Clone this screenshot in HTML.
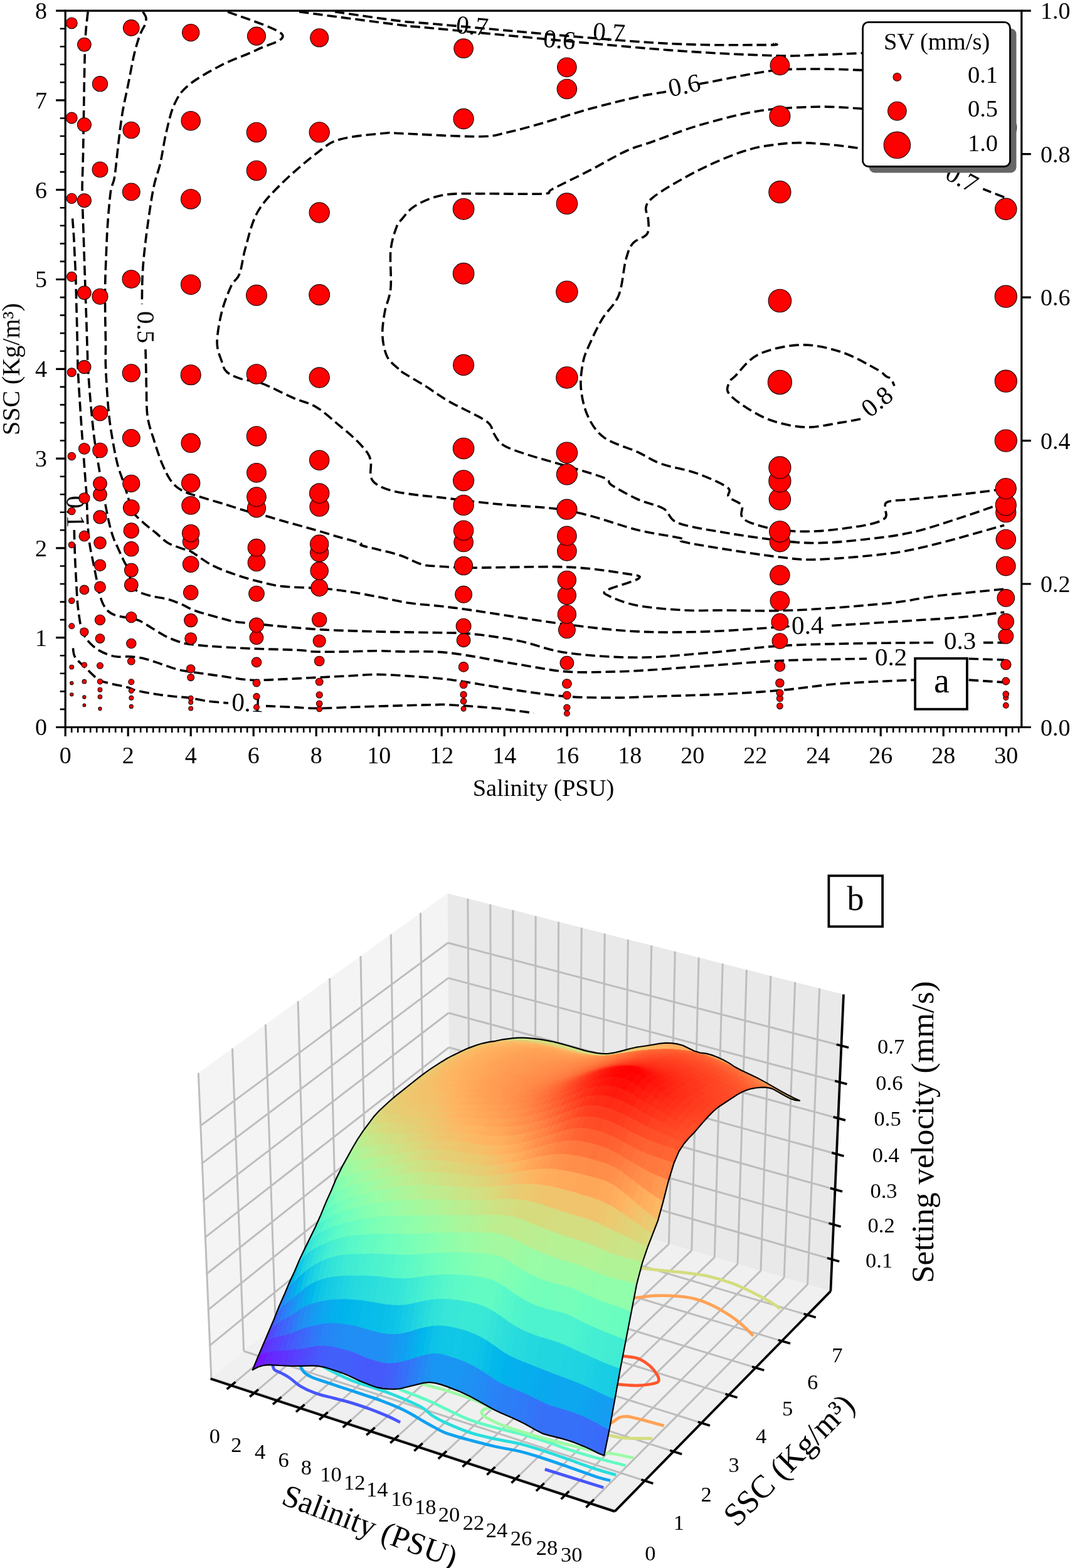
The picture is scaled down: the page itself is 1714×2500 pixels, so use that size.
<!DOCTYPE html>
<html><head><meta charset="utf-8"><title>Figure</title><style>html,body{margin:0;padding:0;background:#fff;}svg{display:block;}</style></head><body>
<svg xmlns="http://www.w3.org/2000/svg" width="1714" height="2500" viewBox="0 0 1714 2500">
<rect width="1714" height="2500" fill="#fff"/>
<g fill="none" stroke="#000" stroke-width="3.6" stroke-dasharray="15.5 7" stroke-linejoin="round">
<path d="M115.6 348.4 C115.9 352.7 116.9 364.7 117.5 374.2 C118.1 383.7 118.5 395.1 119.0 405.5 C119.5 415.9 120.2 426.4 120.6 436.9 C121.0 447.4 121.1 457.8 121.4 468.3 C121.7 478.8 121.9 489.2 122.2 499.7 C122.5 510.2 122.8 520.6 123.0 531.1 C123.2 541.6 123.5 552.8 123.7 562.5 C123.9 572.2 123.7 577.1 124.2 589.4 C124.8 601.7 125.9 619.2 127.0 636.5 C128.1 653.8 129.7 677.3 130.8 693.0 C131.9 708.7 132.7 718.2 133.6 730.7 C134.5 743.2 135.6 757.9 136.4 768.3 C137.2 778.6 137.8 783.4 138.3 792.8 C138.8 802.2 138.8 814.4 139.3 824.8 C139.8 835.2 140.6 846.9 141.4 855.0 C142.2 863.1 142.7 866.5 143.9 873.5 C145.1 880.5 147.1 889.2 148.7 897.1 C150.3 905.0 151.8 912.8 153.4 920.6 C155.0 928.5 156.3 937.1 158.1 944.2 C159.9 951.3 161.7 957.8 164.3 963.0 C166.9 968.2 170.1 972.4 173.8 975.5 C177.5 978.6 180.6 980.1 186.3 981.8 C192.1 983.5 202.3 984.5 208.3 985.8 C214.3 987.1 216.9 987.2 222.4 989.7 C227.9 992.2 234.1 996.5 241.2 1000.7 C248.3 1004.9 256.9 1010.9 264.8 1014.8 C272.7 1018.7 281.8 1022.1 288.3 1024.2 C294.8 1026.3 297.4 1026.4 304.0 1027.3 C310.6 1028.2 319.9 1029.0 327.6 1029.7 C335.3 1030.4 337.9 1030.6 350.0 1031.3 C362.1 1032.0 379.4 1033.1 400.4 1034.0 C421.4 1034.9 459.1 1035.7 475.8 1036.5 C492.6 1037.3 488.3 1038.6 500.9 1039.0 C513.4 1039.4 534.4 1039.2 551.1 1039.0 C567.8 1038.8 586.5 1037.7 601.3 1037.7 C616.1 1037.7 621.0 1038.4 640.0 1038.9 C659.0 1039.4 683.9 1037.3 715.3 1040.8 C746.7 1044.2 796.9 1054.6 828.3 1059.6 C859.7 1064.6 878.6 1069.0 903.7 1070.9 C928.8 1072.8 956.3 1071.4 979.0 1070.9 C1001.7 1070.4 1011.0 1069.9 1040.0 1068.0 C1069.0 1066.1 1118.5 1062.1 1153.0 1059.6 C1187.5 1057.1 1209.0 1054.8 1247.2 1053.2 C1285.4 1051.6 1359.5 1050.7 1382.0 1050.2"/>
<path d="M1544.7 1050.2 L1601.2 1052.1"/>
<path d="M140.2 18.8 C139.7 23.5 137.9 37.1 137.1 47.1 C136.3 57.1 135.9 68.0 135.5 78.5 C135.1 89.0 135.0 96.8 134.7 109.9 C134.4 123.0 134.2 141.2 133.9 156.9 C133.7 172.6 133.4 188.3 133.2 204.0 C132.9 219.7 132.8 235.4 132.4 251.1 C132.1 266.8 131.2 285.5 131.1 298.2 C131.0 310.9 131.2 314.4 131.6 327.1 C131.9 339.8 132.7 358.5 133.2 374.2 C133.7 389.9 134.2 405.5 134.7 421.2 C135.2 436.9 135.8 452.6 136.3 468.3 C136.8 484.0 137.4 499.7 137.9 515.4 C138.4 531.1 139.0 550.8 139.4 562.5 C139.8 574.2 139.4 573.3 140.2 585.6 C141.0 597.9 142.4 618.6 144.0 636.5 C145.6 654.4 147.7 677.3 149.6 693.0 C151.5 708.7 153.6 719.7 155.3 730.7 C157.0 741.7 158.1 747.9 160.0 758.9 C161.9 769.9 164.2 784.0 166.6 796.6 C168.9 809.2 171.7 824.0 174.1 834.2 C176.5 844.4 178.7 851.5 181.0 858.0 C183.3 864.5 185.2 867.5 187.9 873.5 C190.6 879.5 194.2 887.4 197.3 893.9 C200.4 900.4 204.9 906.5 206.7 912.8 C208.5 919.1 206.2 926.6 208.3 931.6 C210.4 936.6 213.8 939.5 219.3 942.6 C224.8 945.7 233.3 948.3 241.2 950.4 C249.0 952.5 258.5 953.0 266.4 955.1 C274.2 957.2 280.7 959.9 288.3 963.0 C295.9 966.1 301.6 970.3 311.9 974.0 C322.2 977.7 339.4 982.1 350.0 985.0 C360.6 987.9 364.8 989.6 375.3 991.3 C385.8 993.0 400.4 993.8 413.0 995.1 C425.6 996.4 434.0 997.4 450.7 998.9 C467.4 1000.4 492.5 1002.7 513.4 1003.9 C534.3 1005.1 557.4 1005.7 576.2 1006.3 C595.0 1006.9 605.8 1007.2 626.4 1007.6 C647.0 1008.0 678.9 1008.3 700.0 1008.8 C721.1 1009.3 731.6 1008.5 753.0 1010.7 C774.4 1012.9 803.2 1017.0 828.3 1022.0 C853.4 1027.0 872.3 1036.4 903.7 1040.8 C935.1 1045.2 979.0 1048.3 1016.6 1048.3 C1054.2 1048.3 1091.2 1043.9 1129.6 1040.8 C1168.0 1037.7 1205.6 1032.0 1247.2 1029.5 C1288.8 1027.0 1338.0 1026.5 1379.0 1025.7 C1420.0 1024.9 1474.0 1024.8 1493.0 1024.6"/>
<path d="M1568.0 1024.6 L1601.2 1024.6"/>
<path d="M228.0 18.8 C228.8 20.4 232.3 24.8 232.8 28.2 C233.3 31.6 232.8 34.8 231.2 39.2 C229.6 43.7 226.3 47.0 223.4 54.9 C220.5 62.8 217.1 73.2 214.0 86.3 C210.9 99.4 207.8 117.7 204.6 133.4 C201.4 149.1 197.7 164.8 195.1 180.5 C192.5 196.2 191.0 210.6 188.9 227.6 C186.8 244.6 184.7 269.6 182.6 282.5 C180.5 295.4 178.3 292.3 176.5 305.0 C174.7 317.7 172.8 341.8 171.6 358.5 C170.4 375.2 170.0 389.8 169.3 405.5 C168.7 421.2 168.0 436.9 167.7 452.6 C167.4 468.3 167.6 484.0 167.7 499.7 C167.8 515.4 168.4 533.4 168.5 546.8 C168.6 560.2 168.1 568.2 168.4 580.0 C168.7 591.8 169.4 603.6 170.3 617.7 C171.2 631.8 172.5 650.6 174.1 664.7 C175.7 678.8 177.5 689.8 179.7 702.4 C181.9 715.0 184.5 729.1 187.3 740.1 C190.1 751.1 193.9 759.5 196.7 768.3 C199.5 777.1 202.0 785.3 204.2 792.8 C206.4 800.3 207.7 808.5 209.9 813.5 C212.1 818.5 213.0 818.5 217.4 822.9 C221.8 827.3 230.9 835.4 236.2 839.9 C241.5 844.4 243.8 845.7 249.1 850.0 C254.4 854.3 260.0 861.2 267.9 865.7 C275.8 870.2 290.0 874.4 296.2 876.7 C302.4 879.0 298.1 875.6 305.0 879.6 C311.9 883.6 326.0 894.9 337.7 901.0 C349.4 907.1 362.8 911.7 375.3 916.1 C387.9 920.5 400.4 924.2 413.0 927.3 C425.6 930.4 434.0 933.1 450.7 934.9 C467.4 936.7 496.7 936.9 513.4 938.2 C530.1 939.5 536.5 940.3 551.1 942.5 C565.8 944.7 584.6 948.2 601.3 951.3 C618.0 954.4 635.0 958.8 651.5 961.3 C668.0 963.8 683.1 964.2 700.0 966.2 C716.9 968.2 719.0 968.1 753.0 973.0 C787.0 977.9 859.8 990.0 903.7 995.6 C947.6 1001.2 979.0 1005.0 1016.6 1006.9 C1054.2 1008.8 1091.2 1008.1 1129.6 1006.9 C1168.0 1005.6 1227.0 1000.7 1247.2 999.4 C1267.4 998.1 1250.4 999.2 1251.0 999.2"/>
<path d="M1326.2 997.5 C1341.3 996.5 1382.7 994.0 1416.6 991.8 C1450.5 989.6 1498.8 986.9 1529.6 984.3 C1560.4 981.7 1589.3 977.4 1601.2 976.0"/>
<path d="M363.1 18.8 C377.5 24.8 441.9 44.6 449.7 54.6 C457.5 64.7 426.2 70.9 410.2 79.1 C394.2 87.3 371.8 94.2 353.6 103.6 C335.4 113.0 313.4 125.2 300.9 135.6 C288.3 145.9 284.3 153.1 278.3 165.7 C272.3 178.2 268.9 195.2 265.1 210.9 C261.3 226.6 259.1 244.8 255.7 259.9 C252.2 275.0 248.2 281.9 244.4 301.3 C240.6 320.8 235.9 354.6 233.1 376.6 C230.3 398.6 228.6 415.0 227.5 433.1 C226.4 451.2 226.5 476.4 226.3 485.0"/>
<path d="M232.0 557.0 C232.2 564.2 232.9 589.9 233.1 600.0 C233.3 610.1 233.0 606.9 233.4 617.7 C233.8 628.5 233.2 650.6 235.3 664.7 C237.4 678.8 241.8 689.8 245.7 702.4 C249.6 715.0 254.1 729.1 258.8 740.1 C263.5 751.1 268.2 761.1 273.9 768.3 C279.5 775.5 284.8 779.3 292.7 783.4 C300.6 787.5 310.0 789.3 321.0 792.8 C332.0 796.2 346.4 800.3 358.7 804.1 C371.0 807.9 388.1 813.5 395.0 815.4 C401.9 817.3 391.1 813.0 400.4 815.5 C409.7 818.0 433.9 825.8 450.7 830.6 C467.4 835.4 486.3 840.2 500.9 844.4 C515.5 848.6 526.4 852.2 538.5 855.7 C550.6 859.2 567.4 863.4 573.7 865.7 C580.0 868.0 571.6 867.8 576.2 869.5 C580.8 871.2 590.8 873.1 601.3 875.8 C611.8 878.5 627.3 881.8 639.0 885.8 C650.7 889.8 661.4 896.8 671.6 899.6 C681.8 902.5 686.4 902.0 700.0 902.9 C713.6 903.8 719.0 905.0 753.0 905.2 C787.0 905.4 862.9 902.5 903.7 904.1 C944.5 905.7 978.7 911.6 997.8 914.6 C1016.9 917.6 1023.5 917.8 1018.5 922.2 C1013.5 926.6 975.6 936.3 967.7 941.0 C959.9 945.7 963.2 946.3 971.4 950.4 C979.5 954.5 996.5 961.7 1016.6 965.5 C1036.7 969.3 1069.3 971.8 1092.0 973.0 C1114.7 974.2 1124.0 973.0 1153.0 973.0 C1182.0 973.0 1222.1 974.9 1266.0 973.0 C1309.9 971.1 1378.9 965.5 1416.6 961.7 C1454.3 957.9 1461.2 954.2 1492.0 950.4 C1522.8 946.6 1583.0 941.0 1601.2 939.1"/>
<path d="M1375.2 111.9 C1363.3 111.6 1328.2 109.8 1303.7 110.0 C1279.2 110.2 1257.8 109.4 1228.3 113.0 C1198.8 116.6 1144.6 128.5 1126.6 131.8 C1108.5 135.1 1121.1 132.8 1120.0 133.0"/>
<path d="M1062.0 146.0 C1060.7 146.3 1061.9 146.2 1054.3 147.6 C1046.7 149.0 1035.4 150.1 1016.6 154.4 C997.8 158.7 966.4 166.4 941.3 173.3 C916.2 180.2 888.0 189.6 866.0 195.9 C844.0 202.2 826.5 207.3 809.5 210.9 C792.5 214.5 792.5 217.4 764.3 217.7 C736.0 218.0 664.5 213.8 640.0 212.8 C615.5 211.9 633.6 210.4 617.3 212.0 C601.0 213.6 560.8 216.7 542.0 222.2 C523.2 227.7 520.0 232.9 504.3 244.8 C488.6 256.7 463.5 278.1 447.8 293.8 C432.1 309.5 419.6 322.1 410.2 339.0 C400.8 355.9 396.0 379.2 391.3 395.5 C386.6 411.8 385.7 426.9 381.9 436.9 C378.1 446.9 373.4 445.6 368.7 455.7 C364.0 465.8 357.4 482.1 353.6 497.2 C349.8 512.3 346.1 532.9 346.1 546.1 C346.1 559.3 351.1 568.5 353.6 576.3 C356.1 584.0 356.2 588.0 361.2 592.6 C366.2 597.2 374.4 600.8 383.8 603.9 C393.2 607.0 403.9 606.4 417.7 611.4 C431.5 616.4 452.2 627.7 466.6 634.0 C481.0 640.3 491.7 641.6 504.3 649.1 C516.9 656.6 531.7 670.7 542.0 679.2 C552.3 687.7 558.8 692.8 566.2 700.0 C573.6 707.2 582.0 716.3 586.2 722.6 C590.4 728.9 590.4 731.4 591.3 737.7 C592.1 744.0 589.6 754.4 591.3 760.3 C593.0 766.1 595.4 769.0 601.3 772.8 C607.1 776.6 615.9 780.2 626.4 782.9 C636.9 785.6 651.8 787.4 664.1 789.1 C676.4 790.8 678.9 790.5 700.0 792.9 C721.1 795.3 759.9 800.5 790.7 803.5 C821.5 806.5 859.7 807.9 884.8 811.0 C909.9 814.1 919.3 816.7 941.3 822.4 C963.3 828.1 992.6 839.0 1016.6 845.0 C1040.6 851.0 1073.1 855.0 1085.2 858.1 C1097.3 861.2 1077.7 861.0 1089.0 863.8 C1100.3 866.6 1127.3 871.0 1153.0 875.1 C1178.7 879.2 1218.3 885.5 1243.4 888.3 C1268.5 891.1 1274.8 893.0 1303.7 892.0 C1332.6 891.0 1385.2 886.7 1416.6 882.6 C1448.0 878.5 1461.2 875.0 1492.0 867.5 C1522.8 860.0 1583.0 842.4 1601.2 837.4"/>
<path d="M1375.2 173.3 C1363.3 172.8 1331.3 169.6 1303.7 170.2 C1276.1 170.8 1240.9 172.1 1209.5 177.0 C1178.1 181.9 1143.5 191.4 1115.3 199.6 C1087.0 207.8 1059.6 219.1 1040.0 226.0 C1020.4 232.9 1014.2 233.5 997.8 241.0 C981.3 248.5 960.8 261.1 941.3 271.2 C921.8 281.2 893.5 295.0 881.0 301.3 C868.5 307.6 884.2 307.6 866.0 308.8 C847.8 310.1 798.2 308.5 771.8 308.8 C745.4 309.1 726.0 307.6 707.8 310.7 C689.6 313.8 673.9 321.1 662.6 327.7 C651.3 334.3 645.0 344.6 640.0 350.3 C635.0 356.0 635.2 353.5 632.4 361.6 C629.5 369.8 624.5 382.9 622.9 399.2 C621.3 415.5 624.5 443.2 622.9 459.5 C621.3 475.8 615.7 484.6 613.5 497.2 C611.3 509.8 609.2 522.9 609.8 534.8 C610.4 546.7 612.9 559.7 617.3 568.7 C621.7 577.7 632.3 584.8 636.1 588.8 C639.9 592.8 633.1 588.2 640.0 592.6 C646.9 597.0 665.2 607.4 677.7 615.2 C690.2 623.1 699.0 630.3 715.3 639.7 C731.6 649.1 763.7 663.2 775.6 671.7 C787.5 680.2 782.5 684.2 786.9 690.5 C791.3 696.8 793.2 703.8 802.0 709.4 C810.8 715.0 822.6 718.8 839.6 724.4 C856.6 730.0 883.0 737.0 903.7 743.3 C924.4 749.6 952.0 757.1 963.9 762.1 C975.8 767.1 966.4 767.8 975.2 773.4 C984.0 779.0 1002.8 789.7 1016.6 796.0 C1030.4 802.3 1047.4 804.7 1058.1 811.0 C1068.8 817.3 1064.9 827.4 1080.7 833.7 C1096.5 840.0 1125.9 844.0 1153.0 848.7 C1180.1 853.4 1218.3 859.1 1243.4 861.9 C1268.5 864.7 1281.1 866.0 1303.7 865.7 C1326.3 865.4 1353.9 862.8 1379.0 860.0 C1404.1 857.2 1429.2 854.4 1454.3 848.7 C1479.4 843.1 1506.1 833.6 1529.6 826.1 C1553.1 818.6 1584.5 807.3 1595.5 803.5"/>
<path d="M1601.2 314.5 L1567.3 301.3"/>
<path d="M1500.0 263.0 C1479.2 258.7 1411.1 243.2 1375.2 237.3 C1339.3 231.5 1309.3 228.9 1284.8 227.9 C1260.3 226.9 1244.8 229.4 1228.3 231.6 C1211.8 233.8 1202.5 235.7 1186.1 241.0 C1169.6 246.3 1148.4 254.9 1129.6 263.7 C1110.8 272.5 1088.2 285.0 1073.1 293.8 C1058.0 302.6 1046.4 310.1 1039.2 316.4 C1032.0 322.7 1030.7 325.8 1029.8 331.4 C1028.9 337.0 1033.3 343.4 1033.6 350.3 C1033.9 357.2 1035.8 366.6 1031.7 372.9 C1027.6 379.2 1014.8 381.0 1009.1 387.9 C1003.5 394.8 1001.6 400.5 997.8 414.3 C994.0 428.1 992.8 455.1 986.5 470.8 C980.2 486.5 967.7 495.9 960.2 508.5 C952.7 521.0 946.3 534.9 941.3 546.1 C936.3 557.3 932.5 563.5 930.0 575.6 C927.5 587.8 925.0 604.2 926.3 619.0 C927.6 633.8 931.3 651.0 937.6 664.2 C943.9 677.4 950.7 688.7 963.9 698.1 C977.1 707.5 1001.5 713.8 1016.6 720.7 C1031.7 727.6 1038.6 733.9 1054.3 739.5 C1070.0 745.1 1093.2 748.3 1110.8 754.6 C1128.4 760.9 1151.3 770.9 1159.8 777.2 C1168.3 783.5 1157.9 787.5 1161.7 792.2 C1165.5 796.9 1179.0 800.4 1182.4 805.4 C1185.9 810.4 1179.9 817.7 1182.4 822.4 C1184.9 827.1 1187.2 829.9 1197.4 833.7 C1207.6 837.5 1225.7 842.8 1243.4 845.0 C1261.1 847.2 1281.1 848.1 1303.7 846.8 C1326.3 845.5 1361.1 840.8 1379.0 837.4 C1396.9 834.0 1405.7 830.8 1411.0 826.1 C1416.3 821.4 1410.1 813.6 1411.0 809.2 C1411.9 804.8 1409.4 802.0 1416.6 799.8 C1423.8 797.6 1435.5 797.9 1454.3 796.0 C1473.1 794.1 1505.8 791.1 1529.6 788.5 C1553.4 785.9 1586.1 781.6 1597.4 780.2"/>
<path d="M1372.0 668.0 C1366.9 668.9 1355.8 671.4 1341.3 673.6 C1326.8 675.8 1303.6 681.7 1284.8 681.1 C1266.0 680.5 1245.2 675.8 1228.3 669.8 C1211.3 663.8 1194.4 652.8 1183.1 645.3 C1171.8 637.8 1163.6 630.9 1160.5 624.6 C1157.4 618.3 1162.4 611.8 1164.3 607.7 C1166.2 603.6 1164.3 607.1 1171.8 600.0 C1179.3 592.9 1191.9 573.4 1209.5 565.0 C1227.1 556.6 1255.3 550.5 1277.3 549.9 C1299.3 549.3 1321.2 554.7 1341.3 561.2 C1361.4 567.7 1385.9 582.3 1397.8 588.8 C1409.7 595.3 1409.1 597.5 1412.9 600.0 C1416.7 602.5 1418.2 601.4 1420.4 603.9 C1422.6 606.4 1425.1 613.3 1426.0 615.2"/>
<path d="M534.0 18.8 C551.7 21.3 614.0 30.6 640.0 33.8 C666.0 37.0 623.3 32.3 690.0 38.0 C756.7 43.7 951.5 62.4 1040.0 68.0 C1128.5 73.6 1188.5 71.3 1220.8 71.6 C1253.1 71.9 1231.8 70.0 1234.0 69.7"/>
<path d="M477.0 18.8 C504.2 22.4 604.5 35.7 640.0 40.1 C675.5 44.5 623.3 38.7 690.0 45.0 C756.7 51.3 950.3 70.5 1040.0 77.8 C1129.7 85.0 1184.3 86.9 1228.3 88.5 C1272.2 90.1 1279.2 88.0 1303.7 87.4 C1328.2 86.8 1363.3 85.2 1375.2 84.7"/>
<path d="M118.3 845.0 C118.5 852.4 119.1 876.6 119.6 889.2 C120.1 901.8 120.5 908.8 121.2 920.6 C121.9 932.4 122.5 948.1 123.5 959.9 C124.5 971.7 126.2 983.4 127.5 991.2 C128.8 999.0 130.0 1002.7 131.4 1006.9 C132.8 1011.1 134.0 1013.2 136.1 1016.4 C138.2 1019.5 140.8 1022.7 143.9 1025.8 C147.0 1028.9 150.5 1032.3 154.9 1035.2 C159.3 1038.1 165.4 1041.0 170.6 1043.0 C175.8 1045.0 179.8 1046.3 186.3 1047.0 C192.9 1047.7 202.1 1046.3 209.9 1047.0 C217.8 1047.7 225.6 1049.0 233.4 1050.9 C241.2 1052.9 249.0 1056.1 256.9 1058.7 C264.8 1061.3 272.6 1064.5 280.5 1066.6 C288.4 1068.7 296.1 1070.0 304.0 1071.3 C311.9 1072.6 319.9 1073.4 327.6 1074.4 C335.3 1075.5 337.9 1076.0 350.0 1077.6 C362.1 1079.2 383.6 1083.3 400.4 1084.2 C417.2 1085.1 433.9 1083.5 450.7 1082.9 C467.4 1082.3 484.2 1081.2 500.9 1080.4 C517.6 1079.6 534.4 1078.7 551.1 1077.9 C567.8 1077.1 584.6 1075.4 601.3 1075.4 C618.0 1075.4 635.0 1076.9 651.5 1077.9 C668.0 1079.0 686.2 1080.4 700.0 1081.7 C713.8 1083.0 712.8 1082.8 734.2 1086.0 C755.6 1089.2 800.0 1097.0 828.3 1101.1 C856.5 1105.2 878.6 1108.6 903.7 1110.5 C928.8 1112.4 956.3 1112.4 979.0 1112.4 C1001.7 1112.4 1011.0 1111.5 1040.0 1110.5 C1069.0 1109.5 1118.5 1108.4 1153.0 1106.7 C1187.5 1105.0 1215.8 1103.1 1247.2 1100.3 C1278.6 1097.5 1306.2 1092.5 1341.3 1089.8 C1376.4 1087.1 1438.5 1085.0 1458.0 1084.1"/>
<path d="M1544.7 1084.1 L1601.2 1087.9"/>
<path d="M116.4 1033.3 C117.0 1035.8 116.3 1042.6 120.1 1048.3 C123.9 1054.0 132.7 1061.2 139.0 1067.2 C145.3 1073.2 151.5 1080.3 157.8 1084.1 C164.1 1087.9 169.1 1087.8 176.6 1089.8 C184.1 1091.8 196.1 1093.9 203.0 1095.8 C209.9 1097.7 210.6 1099.3 218.1 1101.1 C225.6 1102.9 238.2 1105.1 248.2 1106.7 C258.2 1108.3 269.5 1109.5 278.3 1110.5 C287.1 1111.5 292.1 1111.2 300.9 1112.4 C309.7 1113.7 320.5 1116.6 331.0 1118.0 C341.5 1119.4 358.5 1120.5 364.0 1121.0"/>
<path d="M424.0 1125.6 C431.1 1125.9 453.2 1126.9 466.6 1127.5 C480.0 1128.1 488.6 1129.3 504.3 1129.3 C520.0 1129.3 542.0 1128.1 560.8 1127.5 C579.6 1126.9 595.8 1126.2 617.3 1125.6 C638.8 1125.0 673.7 1124.0 690.0 1123.7 C706.3 1123.4 698.5 1122.8 715.3 1123.7 C732.1 1124.6 768.1 1127.1 790.7 1129.3 C813.3 1131.5 840.9 1135.5 850.9 1136.8"/>
</g>
<g font-family="Liberation Serif, Times New Roman, serif" font-size="41" text-anchor="middle" fill="#000">
<text transform="translate(395 1120) rotate(3)" y="14">0.1</text>
<text transform="translate(121 816) rotate(89)" y="14">0.1</text>
<text transform="translate(1420.5 1046.5) rotate(0)" y="14">0.2</text>
<text transform="translate(1530.5 1021) rotate(0)" y="14">0.3</text>
<text transform="translate(1287.7 996.5) rotate(-1)" y="14">0.4</text>
<text transform="translate(232.8 521.7) rotate(90)" y="14">0.5</text>
<text transform="translate(1091 135.6) rotate(-12)" y="14">0.6</text>
<text transform="translate(1534 284) rotate(28)" y="14">0.7</text>
<text transform="translate(1398 640) rotate(-39)" y="14">0.8</text>
<text transform="translate(753 40.7) rotate(5)" y="14">0.7</text>
<text transform="translate(892 62.7) rotate(5)" y="14">0.6</text>
<text transform="translate(971 51) rotate(4)" y="14">0.7</text>
</g>
<g fill="#ff0000" stroke="#1a0000" stroke-width="1.1">
<circle cx="114.3" cy="1107.3" r="2.6"/>
<circle cx="114.3" cy="1089.2" r="2.6"/>
<circle cx="114.3" cy="1063.6" r="3.4"/>
<circle cx="114.3" cy="998.2" r="4.5"/>
<circle cx="114.3" cy="957.7" r="4.7"/>
<circle cx="114.3" cy="868.7" r="5"/>
<circle cx="114.3" cy="815" r="5.8"/>
<circle cx="114.3" cy="727.5" r="6.2"/>
<circle cx="114.3" cy="593.7" r="7"/>
<circle cx="114.3" cy="441.2" r="7.7"/>
<circle cx="114.3" cy="316.4" r="8.1"/>
<circle cx="114.3" cy="188" r="8.9"/>
<circle cx="114.3" cy="36.9" r="8.9"/>
<circle cx="134.4" cy="1124.4" r="2.3"/>
<circle cx="134.4" cy="1111.5" r="2.6"/>
<circle cx="134.4" cy="1086.7" r="3.3"/>
<circle cx="134.4" cy="1060.2" r="4.2"/>
<circle cx="134.4" cy="1007.6" r="6.6"/>
<circle cx="134.4" cy="940.4" r="7.3"/>
<circle cx="134.4" cy="854.7" r="8.3"/>
<circle cx="134.4" cy="794.3" r="8.6"/>
<circle cx="134.4" cy="715.4" r="8.9"/>
<circle cx="134.4" cy="585.1" r="10.5"/>
<circle cx="134.4" cy="466.8" r="10.8"/>
<circle cx="134.4" cy="319.7" r="11"/>
<circle cx="134.4" cy="198.8" r="11"/>
<circle cx="134.4" cy="71.1" r="10.8"/>
<circle cx="159.5" cy="1130" r="2.6"/>
<circle cx="159.5" cy="1111" r="3.3"/>
<circle cx="159.5" cy="1099.7" r="3.4"/>
<circle cx="159.5" cy="1086.7" r="4.2"/>
<circle cx="159.5" cy="1061.3" r="5"/>
<circle cx="159.5" cy="1018.1" r="7.3"/>
<circle cx="159.5" cy="988.3" r="8.1"/>
<circle cx="159.5" cy="936" r="8.9"/>
<circle cx="159.5" cy="901.2" r="9.2"/>
<circle cx="159.5" cy="865.6" r="9.7"/>
<circle cx="159.5" cy="824.4" r="10.5"/>
<circle cx="159.5" cy="788.3" r="10.8"/>
<circle cx="159.5" cy="771.1" r="10.8"/>
<circle cx="159.5" cy="718" r="11.7"/>
<circle cx="159.5" cy="658.9" r="12.1"/>
<circle cx="159.5" cy="472.7" r="12.5"/>
<circle cx="159.5" cy="270.4" r="12.4"/>
<circle cx="159.5" cy="133.7" r="12.1"/>
<circle cx="209.3" cy="1126.4" r="3"/>
<circle cx="209.3" cy="1112.8" r="3.4"/>
<circle cx="209.3" cy="1101.3" r="3.9"/>
<circle cx="209.3" cy="1087.2" r="4.5"/>
<circle cx="209.3" cy="1054.2" r="5.8"/>
<circle cx="209.3" cy="1026" r="7.7"/>
<circle cx="209.3" cy="984.1" r="8.6"/>
<circle cx="209.3" cy="932.6" r="10.8"/>
<circle cx="209.3" cy="909.1" r="10.8"/>
<circle cx="209.3" cy="875.3" r="11.7"/>
<circle cx="209.3" cy="846" r="12.1"/>
<circle cx="209.3" cy="809.5" r="12.8"/>
<circle cx="209.3" cy="770.8" r="13.6"/>
<circle cx="209.3" cy="698.4" r="13.9"/>
<circle cx="209.3" cy="594.8" r="14.1"/>
<circle cx="209.3" cy="445.1" r="14.3"/>
<circle cx="209.3" cy="305.9" r="13.9"/>
<circle cx="209.3" cy="207.5" r="13.3"/>
<circle cx="209.3" cy="44.4" r="12.8"/>
<circle cx="304.2" cy="1129.6" r="3.4"/>
<circle cx="304.2" cy="1119.7" r="3.4"/>
<circle cx="304.2" cy="1113.1" r="3.9"/>
<circle cx="304.2" cy="1080.1" r="5.5"/>
<circle cx="304.2" cy="1066.3" r="6.6"/>
<circle cx="304.2" cy="1018.1" r="9.4"/>
<circle cx="304.2" cy="989.1" r="10.5"/>
<circle cx="304.2" cy="944.8" r="11.7"/>
<circle cx="304.2" cy="899.6" r="12.8"/>
<circle cx="304.2" cy="863.5" r="12.8"/>
<circle cx="304.2" cy="850.2" r="13.7"/>
<circle cx="304.2" cy="805.9" r="14.4"/>
<circle cx="304.2" cy="770.3" r="14.7"/>
<circle cx="304.2" cy="706.3" r="15.2"/>
<circle cx="304.2" cy="597.7" r="16"/>
<circle cx="304.2" cy="453.7" r="15.7"/>
<circle cx="304.2" cy="317.4" r="15.7"/>
<circle cx="304.2" cy="192.7" r="15.2"/>
<circle cx="304.2" cy="52.1" r="13.6"/>
<circle cx="409" cy="1127.4" r="4.4"/>
<circle cx="409" cy="1110.5" r="5.1"/>
<circle cx="409" cy="1089" r="5.9"/>
<circle cx="409" cy="1055.9" r="7.8"/>
<circle cx="409" cy="1016.7" r="10.8"/>
<circle cx="409" cy="996.7" r="11.6"/>
<circle cx="409" cy="946.6" r="12.3"/>
<circle cx="409" cy="896.9" r="13.8"/>
<circle cx="409" cy="873.2" r="13.8"/>
<circle cx="409" cy="810.3" r="14.6"/>
<circle cx="409" cy="792.2" r="15.3"/>
<circle cx="409" cy="753.8" r="15.3"/>
<circle cx="409" cy="695.4" r="15.7"/>
<circle cx="409" cy="596.4" r="15.7"/>
<circle cx="409" cy="470.8" r="16.4"/>
<circle cx="409" cy="271.9" r="15.7"/>
<circle cx="409" cy="210.9" r="15.7"/>
<circle cx="409" cy="57.6" r="14.5"/>
<circle cx="509.2" cy="1130.4" r="4.4"/>
<circle cx="509.2" cy="1121.8" r="4.8"/>
<circle cx="509.2" cy="1107.9" r="5.1"/>
<circle cx="509.2" cy="1087.1" r="5.9"/>
<circle cx="509.2" cy="1054" r="7.8"/>
<circle cx="509.2" cy="1022" r="10"/>
<circle cx="509.2" cy="988.1" r="11.6"/>
<circle cx="509.2" cy="937.2" r="13.4"/>
<circle cx="509.2" cy="910.1" r="14.2"/>
<circle cx="509.2" cy="881.1" r="14.6"/>
<circle cx="509.2" cy="867.5" r="14.6"/>
<circle cx="509.2" cy="808" r="15.3"/>
<circle cx="509.2" cy="786.6" r="15.7"/>
<circle cx="509.2" cy="733.8" r="15.7"/>
<circle cx="509.2" cy="602" r="16.1"/>
<circle cx="509.2" cy="470" r="16.4"/>
<circle cx="509.2" cy="339" r="16.1"/>
<circle cx="509.2" cy="210.9" r="16.1"/>
<circle cx="509.2" cy="60.3" r="14.5"/>
<circle cx="739.1" cy="1130.1" r="4"/>
<circle cx="739.1" cy="1118" r="4.8"/>
<circle cx="739.1" cy="1107.5" r="5.1"/>
<circle cx="739.1" cy="1091.6" r="5.9"/>
<circle cx="739.1" cy="1063.4" r="7.8"/>
<circle cx="739.1" cy="1020.8" r="10.8"/>
<circle cx="739.1" cy="998.2" r="11.9"/>
<circle cx="739.1" cy="947.8" r="13.4"/>
<circle cx="739.1" cy="902.2" r="14.6"/>
<circle cx="739.1" cy="864.5" r="15.3"/>
<circle cx="739.1" cy="845.7" r="15.7"/>
<circle cx="739.1" cy="805.4" r="16.1"/>
<circle cx="739.1" cy="766.2" r="16.5"/>
<circle cx="739.1" cy="715" r="16.8"/>
<circle cx="739.1" cy="581.9" r="16.5"/>
<circle cx="739.1" cy="436.2" r="16.8"/>
<circle cx="739.1" cy="333.3" r="16.8"/>
<circle cx="739.1" cy="189.5" r="16.1"/>
<circle cx="739.1" cy="77.2" r="15.3"/>
<circle cx="903.9" cy="1137.6" r="4.4"/>
<circle cx="903.9" cy="1128.2" r="5.1"/>
<circle cx="903.9" cy="1108.6" r="6.3"/>
<circle cx="903.9" cy="1090.1" r="7.4"/>
<circle cx="903.9" cy="1057" r="10.8"/>
<circle cx="903.9" cy="1004.3" r="13.4"/>
<circle cx="903.9" cy="979.4" r="14.6"/>
<circle cx="903.9" cy="949.3" r="14.6"/>
<circle cx="903.9" cy="924.8" r="14.6"/>
<circle cx="903.9" cy="878.8" r="15.3"/>
<circle cx="903.9" cy="854.4" r="15.3"/>
<circle cx="903.9" cy="812.2" r="16.1"/>
<circle cx="903.9" cy="756.4" r="16.5"/>
<circle cx="903.9" cy="721.8" r="16.8"/>
<circle cx="903.9" cy="602" r="17.2"/>
<circle cx="903.9" cy="465.2" r="17.2"/>
<circle cx="903.9" cy="324.7" r="16.8"/>
<circle cx="903.9" cy="142" r="15.7"/>
<circle cx="903.9" cy="107.3" r="15.3"/>
<circle cx="1243.4" cy="1125.6" r="4.8"/>
<circle cx="1243.4" cy="1113.5" r="5.1"/>
<circle cx="1243.4" cy="1104.8" r="5.5"/>
<circle cx="1243.4" cy="1089" r="6.7"/>
<circle cx="1243.4" cy="1062.3" r="8.2"/>
<circle cx="1243.4" cy="1022" r="12.3"/>
<circle cx="1243.4" cy="991.8" r="13.4"/>
<circle cx="1243.4" cy="958" r="15.3"/>
<circle cx="1243.4" cy="916.9" r="15.7"/>
<circle cx="1243.4" cy="863.8" r="16.1"/>
<circle cx="1243.4" cy="847.6" r="16.8"/>
<circle cx="1243.4" cy="796" r="17.2"/>
<circle cx="1243.4" cy="767" r="17.6"/>
<circle cx="1243.4" cy="745.5" r="17.6"/>
<circle cx="1243.4" cy="609.5" r="19.1"/>
<circle cx="1243.4" cy="479.5" r="18.3"/>
<circle cx="1243.4" cy="306.2" r="17.6"/>
<circle cx="1243.4" cy="185.3" r="16.5"/>
<circle cx="1243.4" cy="104.3" r="15.3"/>
<circle cx="1603.8" cy="1124.8" r="4.4"/>
<circle cx="1603.8" cy="1112.4" r="4"/>
<circle cx="1603.8" cy="1106.7" r="4.8"/>
<circle cx="1603.8" cy="1086" r="5.9"/>
<circle cx="1603.8" cy="1059.6" r="8.2"/>
<circle cx="1603.8" cy="1014.4" r="11.9"/>
<circle cx="1603.8" cy="991.1" r="12.7"/>
<circle cx="1603.8" cy="953.4" r="13.8"/>
<circle cx="1603.8" cy="902.6" r="15.3"/>
<circle cx="1603.8" cy="860" r="15.7"/>
<circle cx="1603.8" cy="816.7" r="16.1"/>
<circle cx="1603.8" cy="805.4" r="16.5"/>
<circle cx="1603.8" cy="779" r="16.5"/>
<circle cx="1603.8" cy="702.6" r="17.6"/>
<circle cx="1603.8" cy="607.7" r="17.6"/>
<circle cx="1603.8" cy="472.7" r="17.6"/>
<circle cx="1603.8" cy="333.3" r="17.2"/>
<circle cx="1603.8" cy="203.4" r="17"/>
</g>
<rect x="1459.1" y="1049.8" width="82.8" height="80.9" fill="#fff" stroke="#000" stroke-width="3.8"/>
<text x="1501.5" y="1104.2" font-family="Liberation Serif, Times New Roman, serif" font-size="56" text-anchor="middle">a</text>
<rect x="1385.6" y="45.4" width="234.9" height="230.1" rx="9" fill="#666"/>
<rect x="1375.6" y="35.4" width="234.9" height="230.1" rx="9" fill="#fff" stroke="#000" stroke-width="2.8"/>
<text x="1493.6" y="78.8" font-family="Liberation Serif, Times New Roman, serif" font-size="38.5" text-anchor="middle">SV (mm/s)</text>
<circle cx="1430.4" cy="122.9" r="6.4" fill="#ff0000" stroke="#1a0000" stroke-width="1.1"/>
<text x="1591" y="132" font-family="Liberation Serif, Times New Roman, serif" font-size="38.5" text-anchor="end">0.1</text>
<circle cx="1430.4" cy="177.1" r="14.8" fill="#ff0000" stroke="#1a0000" stroke-width="1.1"/>
<text x="1591" y="186" font-family="Liberation Serif, Times New Roman, serif" font-size="38.5" text-anchor="end">0.5</text>
<circle cx="1430.4" cy="231.3" r="21.2" fill="#ff0000" stroke="#1a0000" stroke-width="1.1"/>
<text x="1591" y="241" font-family="Liberation Serif, Times New Roman, serif" font-size="38.5" text-anchor="end">1.0</text>
<path d="M104.2 17.2 H1628.8 V1159.5 H104.2 Z" fill="none" stroke="#000" stroke-width="3.2"/>
<path d="M104.2 1159.5 v14.5 M204.2 1159.5 v14.5 M304.2 1159.5 v14.5 M404.2 1159.5 v14.5 M504.2 1159.5 v14.5 M604.2 1159.5 v14.5 M704.2 1159.5 v14.5 M804.2 1159.5 v14.5 M904.2 1159.5 v14.5 M1004.2 1159.5 v14.5 M1104.2 1159.5 v14.5 M1204.2 1159.5 v14.5 M1304.2 1159.5 v14.5 M1404.2 1159.5 v14.5 M1504.2 1159.5 v14.5 M1604.2 1159.5 v14.5 M104.2 1159.5 h-15 M104.2 1016.7 h-15 M104.2 873.9 h-15 M104.2 731.1 h-15 M104.2 588.3 h-15 M104.2 445.5 h-15 M104.2 302.7 h-15 M104.2 159.9 h-15 M104.2 17.2 h-15 M1628.8 1159.5 h15 M1628.8 931 h15 M1628.8 702.6 h15 M1628.8 474.1 h15 M1628.8 245.7 h15 M1628.8 17.2 h15" stroke="#000" stroke-width="3.2" fill="none"/>
<path d="M114.2 1159.5 v8.5 M124.2 1159.5 v8.5 M134.2 1159.5 v8.5 M144.2 1159.5 v8.5 M154.2 1159.5 v8.5 M164.2 1159.5 v8.5 M174.2 1159.5 v8.5 M184.2 1159.5 v8.5 M194.2 1159.5 v8.5 M214.2 1159.5 v8.5 M224.2 1159.5 v8.5 M234.2 1159.5 v8.5 M244.2 1159.5 v8.5 M254.2 1159.5 v8.5 M264.2 1159.5 v8.5 M274.2 1159.5 v8.5 M284.2 1159.5 v8.5 M294.2 1159.5 v8.5 M314.2 1159.5 v8.5 M324.2 1159.5 v8.5 M334.2 1159.5 v8.5 M344.2 1159.5 v8.5 M354.2 1159.5 v8.5 M364.2 1159.5 v8.5 M374.2 1159.5 v8.5 M384.2 1159.5 v8.5 M394.2 1159.5 v8.5 M414.2 1159.5 v8.5 M424.2 1159.5 v8.5 M434.2 1159.5 v8.5 M444.2 1159.5 v8.5 M454.2 1159.5 v8.5 M464.2 1159.5 v8.5 M474.2 1159.5 v8.5 M484.2 1159.5 v8.5 M494.2 1159.5 v8.5 M514.2 1159.5 v8.5 M524.2 1159.5 v8.5 M534.2 1159.5 v8.5 M544.2 1159.5 v8.5 M554.2 1159.5 v8.5 M564.2 1159.5 v8.5 M574.2 1159.5 v8.5 M584.2 1159.5 v8.5 M594.2 1159.5 v8.5 M614.2 1159.5 v8.5 M624.2 1159.5 v8.5 M634.2 1159.5 v8.5 M644.2 1159.5 v8.5 M654.2 1159.5 v8.5 M664.2 1159.5 v8.5 M674.2 1159.5 v8.5 M684.2 1159.5 v8.5 M694.2 1159.5 v8.5 M714.2 1159.5 v8.5 M724.2 1159.5 v8.5 M734.2 1159.5 v8.5 M744.2 1159.5 v8.5 M754.2 1159.5 v8.5 M764.2 1159.5 v8.5 M774.2 1159.5 v8.5 M784.2 1159.5 v8.5 M794.2 1159.5 v8.5 M814.2 1159.5 v8.5 M824.2 1159.5 v8.5 M834.2 1159.5 v8.5 M844.2 1159.5 v8.5 M854.2 1159.5 v8.5 M864.2 1159.5 v8.5 M874.2 1159.5 v8.5 M884.2 1159.5 v8.5 M894.2 1159.5 v8.5 M914.2 1159.5 v8.5 M924.2 1159.5 v8.5 M934.2 1159.5 v8.5 M944.2 1159.5 v8.5 M954.2 1159.5 v8.5 M964.2 1159.5 v8.5 M974.2 1159.5 v8.5 M984.2 1159.5 v8.5 M994.2 1159.5 v8.5 M1014.2 1159.5 v8.5 M1024.2 1159.5 v8.5 M1034.2 1159.5 v8.5 M1044.2 1159.5 v8.5 M1054.2 1159.5 v8.5 M1064.2 1159.5 v8.5 M1074.2 1159.5 v8.5 M1084.2 1159.5 v8.5 M1094.2 1159.5 v8.5 M1114.2 1159.5 v8.5 M1124.2 1159.5 v8.5 M1134.2 1159.5 v8.5 M1144.2 1159.5 v8.5 M1154.2 1159.5 v8.5 M1164.2 1159.5 v8.5 M1174.2 1159.5 v8.5 M1184.2 1159.5 v8.5 M1194.2 1159.5 v8.5 M1214.2 1159.5 v8.5 M1224.2 1159.5 v8.5 M1234.2 1159.5 v8.5 M1244.2 1159.5 v8.5 M1254.2 1159.5 v8.5 M1264.2 1159.5 v8.5 M1274.2 1159.5 v8.5 M1284.2 1159.5 v8.5 M1294.2 1159.5 v8.5 M1314.2 1159.5 v8.5 M1324.2 1159.5 v8.5 M1334.2 1159.5 v8.5 M1344.2 1159.5 v8.5 M1354.2 1159.5 v8.5 M1364.2 1159.5 v8.5 M1374.2 1159.5 v8.5 M1384.2 1159.5 v8.5 M1394.2 1159.5 v8.5 M1414.2 1159.5 v8.5 M1424.2 1159.5 v8.5 M1434.2 1159.5 v8.5 M1444.2 1159.5 v8.5 M1454.2 1159.5 v8.5 M1464.2 1159.5 v8.5 M1474.2 1159.5 v8.5 M1484.2 1159.5 v8.5 M1494.2 1159.5 v8.5 M1514.2 1159.5 v8.5 M1524.2 1159.5 v8.5 M1534.2 1159.5 v8.5 M1544.2 1159.5 v8.5 M1554.2 1159.5 v8.5 M1564.2 1159.5 v8.5 M1574.2 1159.5 v8.5 M1584.2 1159.5 v8.5 M1594.2 1159.5 v8.5 M1614.2 1159.5 v8.5 M1624.2 1159.5 v8.5 M104.2 1130.9 h-8.5 M104.2 1102.4 h-8.5 M104.2 1073.8 h-8.5 M104.2 1045.3 h-8.5 M104.2 988.1 h-8.5 M104.2 959.6 h-8.5 M104.2 931 h-8.5 M104.2 902.5 h-8.5 M104.2 845.3 h-8.5 M104.2 816.8 h-8.5 M104.2 788.2 h-8.5 M104.2 759.7 h-8.5 M104.2 702.5 h-8.5 M104.2 674 h-8.5 M104.2 645.4 h-8.5 M104.2 616.9 h-8.5 M104.2 559.7 h-8.5 M104.2 531.2 h-8.5 M104.2 502.6 h-8.5 M104.2 474.1 h-8.5 M104.2 416.9 h-8.5 M104.2 388.4 h-8.5 M104.2 359.8 h-8.5 M104.2 331.3 h-8.5 M104.2 274.1 h-8.5 M104.2 245.6 h-8.5 M104.2 217 h-8.5 M104.2 188.5 h-8.5 M104.2 131.3 h-8.5 M104.2 102.8 h-8.5 M104.2 74.2 h-8.5 M104.2 45.7 h-8.5" stroke="#000" stroke-width="2.6" fill="none"/>
<g font-family="Liberation Serif, Times New Roman, serif" font-size="38" fill="#000">
<text x="104.2" y="1217" text-anchor="middle">0</text>
<text x="204.2" y="1217" text-anchor="middle">2</text>
<text x="304.2" y="1217" text-anchor="middle">4</text>
<text x="404.2" y="1217" text-anchor="middle">6</text>
<text x="504.2" y="1217" text-anchor="middle">8</text>
<text x="604.2" y="1217" text-anchor="middle">10</text>
<text x="704.2" y="1217" text-anchor="middle">12</text>
<text x="804.2" y="1217" text-anchor="middle">14</text>
<text x="904.2" y="1217" text-anchor="middle">16</text>
<text x="1004.2" y="1217" text-anchor="middle">18</text>
<text x="1104.2" y="1217" text-anchor="middle">20</text>
<text x="1204.2" y="1217" text-anchor="middle">22</text>
<text x="1304.2" y="1217" text-anchor="middle">24</text>
<text x="1404.2" y="1217" text-anchor="middle">26</text>
<text x="1504.2" y="1217" text-anchor="middle">28</text>
<text x="1604.2" y="1217" text-anchor="middle">30</text>
<text x="75" y="1172.3" text-anchor="end">0</text>
<text x="75" y="1029.5" text-anchor="end">1</text>
<text x="75" y="886.7" text-anchor="end">2</text>
<text x="75" y="743.9" text-anchor="end">3</text>
<text x="75" y="601.1" text-anchor="end">4</text>
<text x="75" y="458.3" text-anchor="end">5</text>
<text x="75" y="315.5" text-anchor="end">6</text>
<text x="75" y="172.7" text-anchor="end">7</text>
<text x="75" y="29.9" text-anchor="end">8</text>
<text x="1659" y="1172.7">0.0</text>
<text x="1659" y="944.2">0.2</text>
<text x="1659" y="715.8">0.4</text>
<text x="1659" y="487.3">0.6</text>
<text x="1659" y="258.9">0.8</text>
<text x="1659" y="30.4">1.0</text>
</g>
<text x="866.5" y="1268.5" font-family="Liberation Serif, Times New Roman, serif" font-size="38.5" text-anchor="middle">Salinity (PSU)</text>
<text transform="translate(30.9 588.6) rotate(-90)" font-family="Liberation Serif, Times New Roman, serif" font-size="40" text-anchor="middle">SSC (Kg/m³)</text>
<path d="M335.6 2198.3 L314.9 1711.6 L713.5 1424.5 L717.6 1881.3 Z" fill="#f4f4f4"/>
<path d="M717.6 1881.3 L713.5 1424.5 L1345 1585.5 L1324.4 2058.7 Z" fill="#e9e9e9"/>
<path d="M335.6 2198.3 L980.1 2409.9 L1324.4 2058.7 L717.6 1881.3 Z" fill="#f0f0f0"/>
<path d="M336.9 2197.2 L316.3 1710.6 M336.9 2197.2 L981.3 2408.7 M388.7 2154.3 L370.5 1671.5 M388.7 2154.3 L1028.1 2360.9 M439.3 2112.3 L423.4 1633.4 M439.3 2112.3 L1073.9 2314.3 M488.8 2071.2 L475.1 1596.2 M488.8 2071.2 L1118.6 2268.7 M537.2 2031 L525.6 1559.8 M537.2 2031 L1162.2 2224.1 M584.5 1991.7 L575 1524.2 M584.5 1991.7 L1204.9 2180.6 M630.9 1953.3 L623.3 1489.5 M630.9 1953.3 L1246.6 2138.1 M676.2 1915.6 L670.5 1455.5 M676.2 1915.6 L1287.3 2096.5 M333.4 2146.2 L717.1 1832.2 M717.1 1832.2 L1326.6 2007.9 M330.9 2089.2 L716.7 1778.6 M716.7 1778.6 L1329.1 1952.5 M328.5 2031.7 L716.2 1724.6 M716.2 1724.6 L1331.5 1896.5 M326 1973.6 L715.7 1670 M715.7 1670 L1334 1840 M323.5 1914.9 L715.2 1615 M715.2 1615 L1336.4 1783 M321 1855.6 L714.7 1559.4 M714.7 1559.4 L1338.9 1725.4 M318.5 1795.8 L714.2 1503.3 M714.2 1503.3 L1341.5 1667.3 M748.8 1890.4 L745.9 1432.8 M368.6 2209.2 L748.8 1890.4 M783.3 1900.5 L781.8 1441.9 M405.1 2221.1 L783.3 1900.5 M818 1910.7 L817.9 1451.1 M441.8 2233.2 L818 1910.7 M852.9 1920.9 L854.1 1460.4 M478.8 2245.3 L852.9 1920.9 M888 1931.1 L890.6 1469.7 M516 2257.6 L888 1931.1 M923.3 1941.4 L927.3 1479 M553.4 2269.8 L923.3 1941.4 M958.8 1951.8 L964.2 1488.4 M591 2282.2 L958.8 1951.8 M994.5 1962.2 L1001.4 1497.9 M628.9 2294.6 L994.5 1962.2 M1030.4 1972.7 L1038.7 1507.4 M667 2307.2 L1030.4 1972.7 M1066.5 1983.3 L1076.3 1517 M705.4 2319.8 L1066.5 1983.3 M1102.8 1993.9 L1114.1 1526.6 M744 2332.4 L1102.8 1993.9 M1139.3 2004.6 L1152.2 1536.3 M782.9 2345.2 L1139.3 2004.6 M1176.1 2015.3 L1190.4 1546.1 M822 2358 L1176.1 2015.3 M1213 2026.1 L1228.9 1555.9 M861.3 2371 L1213 2026.1 M1250.2 2037 L1267.7 1565.8 M900.9 2384 L1250.2 2037 M1287.6 2047.9 L1306.6 1575.7 M940.8 2397 L1287.6 2047.9" stroke="#bdbdbd" stroke-width="3" fill="none"/>
<g fill="none" stroke-width="4.8" stroke-linecap="butt" stroke-linejoin="round">
<path d="M433.0 2170.0 C433.3 2171.1 434.0 2174.1 434.8 2176.4 C435.6 2178.7 435.3 2181.7 437.7 2183.9 C440.1 2186.1 444.9 2187.3 449.0 2189.5 C453.1 2191.7 457.1 2193.6 462.1 2197.1 C467.1 2200.6 472.2 2206.2 479.1 2210.3 C486.0 2214.4 494.8 2218.5 503.6 2221.6 C512.4 2224.7 522.4 2226.6 531.8 2229.1 C541.2 2231.6 550.7 2233.8 560.1 2236.6 C569.5 2239.4 578.9 2242.6 588.3 2246.0 C597.7 2249.4 608.3 2253.7 616.6 2257.3 C624.9 2260.9 634.6 2266.0 638.2 2267.7" stroke="#4856fb"/>
<path d="M868.8 2342.6 L962.2 2371.8" stroke="#4856fb"/>
<path d="M478.0 2170.0 C478.2 2171.4 478.0 2175.2 479.1 2178.2 C480.2 2181.1 481.6 2184.7 484.7 2187.7 C487.8 2190.7 491.6 2193.3 497.9 2196.1 C504.2 2198.9 513.6 2201.6 522.4 2204.6 C531.2 2207.6 541.3 2210.9 550.7 2214.0 C560.1 2217.1 569.5 2220.2 578.9 2223.4 C588.3 2226.6 597.8 2229.4 607.2 2232.9 C616.6 2236.4 627.6 2240.8 635.4 2244.2 C643.2 2247.6 647.9 2250.1 654.2 2253.6 C660.5 2257.1 667.1 2261.4 673.1 2264.9 C679.1 2268.4 683.8 2271.1 690.0 2274.3 C696.2 2277.6 700.1 2280.7 710.1 2284.4 C720.1 2288.1 736.9 2292.7 750.3 2296.4 C763.7 2300.1 777.0 2303.5 790.4 2306.5 C803.8 2309.5 817.2 2311.2 830.6 2314.5 C844.0 2317.8 857.4 2322.2 870.8 2326.6 C884.2 2330.9 897.6 2335.9 911.0 2340.6 C924.4 2345.3 940.8 2351.3 951.2 2354.7 C961.6 2358.0 969.5 2359.7 973.2 2360.7" stroke="#10a2f0"/>
<path d="M508.0 2170.0 C508.8 2171.2 509.0 2174.4 513.0 2177.3 C517.0 2180.2 523.9 2183.8 531.8 2187.7 C539.6 2191.6 550.7 2197.0 560.1 2200.8 C569.5 2204.6 578.9 2207.2 588.3 2210.3 C597.7 2213.5 607.2 2216.2 616.6 2219.7 C626.0 2223.1 635.4 2226.9 644.8 2231.0 C654.2 2235.1 665.6 2239.8 673.1 2244.2 C680.6 2248.6 683.8 2253.5 690.0 2257.5 C696.2 2261.5 700.1 2263.8 710.1 2268.3 C720.1 2272.8 736.9 2280.1 750.3 2284.4 C763.7 2288.8 777.0 2291.4 790.4 2294.4 C803.8 2297.4 817.2 2299.2 830.6 2302.5 C844.0 2305.8 857.4 2310.2 870.8 2314.5 C884.2 2318.8 897.6 2323.9 911.0 2328.6 C924.4 2333.3 939.3 2338.8 951.2 2342.6 C963.1 2346.4 977.1 2350.2 982.3 2351.7" stroke="#2adddd"/>
<path d="M615.0 2200.0 C618.4 2202.3 627.3 2209.8 635.4 2214.0 C643.5 2218.2 654.6 2221.6 663.7 2225.3 C672.8 2229.0 682.3 2232.7 690.0 2236.2 C697.7 2239.7 700.1 2241.5 710.1 2246.2 C720.1 2250.9 736.9 2259.3 750.3 2264.3 C763.7 2269.3 777.0 2272.6 790.4 2276.3 C803.8 2280.0 817.2 2282.7 830.6 2286.4 C844.0 2290.1 857.4 2294.1 870.8 2298.4 C884.2 2302.8 897.6 2308.2 911.0 2312.5 C924.4 2316.8 936.8 2320.5 951.2 2324.5 C965.6 2328.5 989.7 2334.6 997.4 2336.6" stroke="#62fbc4"/>
<path d="M660.0 2203.0 C665.0 2204.3 681.7 2208.8 690.0 2211.0 C698.3 2213.2 700.0 2213.3 710.0 2216.5 C720.0 2219.7 739.2 2226.1 750.0 2230.0 C760.8 2233.9 768.3 2237.3 775.0 2240.0 C781.7 2242.7 789.2 2245.2 790.0 2246.0 C790.8 2246.8 783.2 2244.8 780.0 2245.0 C776.8 2245.2 773.0 2246.2 771.0 2247.5 C769.0 2248.8 767.3 2250.9 768.0 2253.0 C768.7 2255.1 769.6 2256.8 775.0 2260.0 C780.4 2263.2 791.2 2268.6 800.5 2272.3 C809.8 2276.0 818.9 2278.7 830.6 2282.4 C842.3 2286.1 857.4 2290.7 870.8 2294.4 C884.2 2298.1 897.6 2301.2 911.0 2304.5 C924.4 2307.8 939.5 2312.2 951.2 2314.5 C962.9 2316.8 971.5 2316.8 981.3 2318.5 C991.1 2320.2 1005.2 2323.5 1010.0 2324.5" stroke="#9cfba4"/>
<path d="M960.0 2286.0 C961.9 2286.4 966.0 2287.3 971.2 2288.4 C976.4 2289.5 984.8 2291.6 991.3 2292.4 C997.8 2293.2 1001.9 2293.2 1010.0 2293.4 C1018.1 2293.6 1034.9 2293.5 1039.9 2293.5" stroke="#d4dd80"/>
<path d="M965.0 2273.0 C966.7 2272.2 971.6 2270.4 975.3 2268.3 C979.0 2266.2 983.6 2262.0 987.3 2260.3 C991.0 2258.6 993.6 2258.3 997.4 2258.3 C1001.2 2258.3 999.8 2257.8 1010.0 2260.3 C1020.2 2262.8 1050.6 2271.0 1058.7 2273.1" stroke="#ffa256"/>
<path d="M975.0 2161.5 C977.5 2161.6 983.2 2161.3 990.1 2162.0 C997.0 2162.7 1009.0 2163.2 1016.5 2165.7 C1024.0 2168.2 1030.3 2172.9 1035.3 2177.0 C1040.3 2181.1 1044.1 2186.4 1046.6 2190.2 C1049.1 2194.0 1050.7 2197.1 1050.4 2199.6 C1050.1 2202.1 1050.4 2203.7 1044.7 2205.3 C1039.0 2206.9 1026.5 2208.7 1016.5 2209.0 C1006.5 2209.3 991.4 2207.5 984.5 2207.2 C977.6 2206.9 976.6 2207.0 975.0 2207.0" stroke="#ff562c"/>
<path d="M1000.0 2070.5 C1001.6 2070.4 1002.4 2070.5 1009.9 2069.7 C1017.4 2068.9 1032.6 2066.4 1044.7 2065.9 C1056.8 2065.4 1071.4 2066.0 1082.4 2066.9 C1093.4 2067.8 1101.3 2068.9 1110.7 2071.6 C1120.1 2074.3 1129.5 2078.2 1138.9 2082.9 C1148.3 2087.6 1159.4 2094.5 1167.2 2099.8 C1175.0 2105.1 1180.3 2109.9 1186.0 2114.9 C1191.7 2119.9 1198.6 2127.4 1201.1 2129.9" stroke="#ffa256"/>
<path d="M1010.0 2021.0 C1011.7 2021.1 1012.9 2021.0 1020.3 2021.7 C1027.7 2022.4 1042.3 2024.2 1054.2 2025.4 C1066.1 2026.7 1079.2 2027.6 1091.8 2029.2 C1104.3 2030.8 1116.9 2032.0 1129.5 2034.8 C1142.1 2037.6 1154.7 2041.4 1167.2 2046.1 C1179.8 2050.8 1194.8 2058.2 1204.8 2063.1 C1214.8 2068.0 1220.8 2071.4 1227.4 2075.3 C1234.0 2079.2 1241.6 2084.7 1244.4 2086.6" stroke="#d4dd80"/>
</g>
<g stroke-width="0.9" stroke-linejoin="round">
<path d="M722.6 1734.8l8.5 -13.7 7.6 -26.1 -8.5 13.7z" fill="#66fcc2" stroke="#66fcc2"/>
<path d="M715 1757.8l8.5 -15.5 7.7 -21.1 -8.5 13.7z" fill="#50f4cc" stroke="#50f4cc"/>
<path d="M707.3 1771.3l8.5 -16.9 7.8 -12.1 -8.5 15.5z" fill="#44eed2" stroke="#44eed2"/>
<path d="M731.2 1721.1l8.6 -11.4 7.7 -22.5 -8.6 7.9z" fill="#76ffb9" stroke="#76ffb9"/>
<path d="M723.5 1742.2l8.5 -15.4 7.7 -17.1 -8.6 11.4z" fill="#64fbc3" stroke="#64fbc3"/>
<path d="M699.5 1780.1l8.4 -18.7 7.8 -7.1 -8.5 16.9z" fill="#40ecd4" stroke="#40ecd4"/>
<path d="M739.7 1709.7l8.6 -10.1 7.7 -18.8 -8.6 6.3z" fill="#82ffb3" stroke="#82ffb3"/>
<path d="M715.7 1754.4l8.5 -17.5 7.8 -10.1 -8.5 15.4z" fill="#5af8c8" stroke="#5af8c8"/>
<path d="M732 1726.8l8.6 -14.5 7.7 -12.6 -8.6 10.1z" fill="#76ffb9" stroke="#76ffb9"/>
<path d="M691.6 1786.3l8.4 -20.1 7.9 -4.8 -8.4 18.7z" fill="#3febd5" stroke="#3febd5"/>
<path d="M748.3 1699.7l8.6 -11 7.7 -14.9 -8.7 7.2z" fill="#8efeac" stroke="#8efeac"/>
<path d="M707.9 1761.4l8.5 -19 7.8 -5.5 -8.5 17.5z" fill="#56f7ca" stroke="#56f7ca"/>
<path d="M724.2 1736.9l8.5 -16.9 7.8 -7.7 -8.6 14.5z" fill="#6efebe" stroke="#6efebe"/>
<path d="M740.6 1712.3l8.6 -13.6 7.8 -10.1 -8.6 11z" fill="#86ffb0" stroke="#86ffb0"/>
<path d="M683.7 1791.6l8.4 -21.4 7.9 -4 -8.4 20.1z" fill="#40ecd4" stroke="#40ecd4"/>
<path d="M756.9 1688.6l8.7 -9.9 7.7 -11.8 -8.7 6.8z" fill="#9cfba4" stroke="#9cfba4"/>
<path d="M700 1766.2l8.5 -20.2 7.9 -3.6 -8.5 19z" fill="#58f8c9" stroke="#58f8c9"/>
<path d="M716.4 1742.4l8.5 -18.2 7.9 -4.2 -8.5 16.9z" fill="#6efebe" stroke="#6efebe"/>
<path d="M732.8 1720l8.6 -15.5 7.8 -5.8 -8.6 13.6z" fill="#82ffb3" stroke="#82ffb3"/>
<path d="M749.2 1698.7l8.7 -12.1 7.8 -7.9 -8.7 9.9z" fill="#96fca7" stroke="#96fca7"/>
<path d="M765.6 1678.7l8.7 -7.3 7.7 -9 -8.7 4.5z" fill="#a6f89d" stroke="#a6f89d"/>
<path d="M675.8 1796.8l8.4 -22.8 8 -3.8 -8.4 21.4z" fill="#42edd3" stroke="#42edd3"/>
<path d="M692.1 1770.2l8.5 -21.1 7.9 -3.1 -8.5 20.2z" fill="#5af8c8" stroke="#5af8c8"/>
<path d="M774.3 1671.4l8.7 -5 7.7 -6.9 -8.7 2.8z" fill="#aef498" stroke="#aef498"/>
<path d="M708.5 1746l8.5 -19 7.9 -2.8 -8.5 18.2z" fill="#70febc" stroke="#70febc"/>
<path d="M724.9 1724.2l8.6 -16.5 7.9 -3.2 -8.6 15.5z" fill="#84ffb2" stroke="#84ffb2"/>
<path d="M757.8 1686.6l8.7 -9.6 7.8 -5.6 -8.7 7.3z" fill="#a4f89f" stroke="#a4f89f"/>
<path d="M741.4 1704.5l8.6 -13.5 7.8 -4.4 -8.7 12.1z" fill="#94fda8" stroke="#94fda8"/>
<path d="M667.8 1802.4l8.4 -24 8 -4.4 -8.4 22.8z" fill="#44eed2" stroke="#44eed2"/>
<path d="M783.1 1666.4l8.8 -3.6 7.7 -5.1 -8.8 1.8z" fill="#b6f193" stroke="#b6f193"/>
<path d="M684.2 1774l8.4 -22.2 8 -2.7 -8.5 21.1z" fill="#5efac6" stroke="#5efac6"/>
<path d="M766.5 1677l8.7 -6.7 7.8 -3.9 -8.7 5z" fill="#aef498" stroke="#aef498"/>
<path d="M700.6 1749.1l8.5 -19.6 7.9 -2.4 -8.5 19z" fill="#74feba" stroke="#74feba"/>
<path d="M791.8 1662.9l8.8 -2.5 7.7 -3.9 -8.8 1.3z" fill="#bbee91" stroke="#bbee91"/>
<path d="M750 1691l8.7 -10.7 7.8 -3.4 -8.7 9.6z" fill="#a4f89f" stroke="#a4f89f"/>
<path d="M717 1727l8.6 -17 7.9 -2.3 -8.6 16.5z" fill="#88ffaf" stroke="#88ffaf"/>
<path d="M733.5 1707.7l8.6 -14.3 7.9 -2.4 -8.6 13.5z" fill="#99fca6" stroke="#99fca6"/>
<path d="M659.8 1808.2l8.3 -24.9 8 -4.9 -8.4 24z" fill="#46efd1" stroke="#46efd1"/>
<path d="M775.3 1670.3l8.8 -4.7 7.8 -2.7 -8.8 3.6z" fill="#b6f193" stroke="#b6f193"/>
<path d="M800.6 1660.4l8.8 -1.7 7.7 -3.3 -8.8 1.1z" fill="#beec8e" stroke="#beec8e"/>
<path d="M676.2 1778.4l8.4 -23.1 8 -3.5 -8.4 22.2z" fill="#62fbc4" stroke="#62fbc4"/>
<path d="M758.7 1680.4l8.7 -7.8 7.8 -2.3 -8.7 6.7z" fill="#b2f396" stroke="#b2f396"/>
<path d="M809.4 1658.7l8.8 -1 7.7 -2.9 -8.8 0.6z" fill="#c2ea8c" stroke="#c2ea8c"/>
<path d="M784 1665.6l8.8 -3.3 7.8 -2 -8.8 2.5z" fill="#beec8e" stroke="#beec8e"/>
<path d="M692.6 1751.8l8.5 -20.1 8 -2.3 -8.5 19.6z" fill="#78ffb8" stroke="#78ffb8"/>
<path d="M742.2 1693.4l8.7 -11.2 7.9 -1.9 -8.7 10.7z" fill="#a8f79c" stroke="#a8f79c"/>
<path d="M709.1 1729.5l8.6 -17.4 7.9 -2 -8.6 17z" fill="#8cfead" stroke="#8cfead"/>
<path d="M725.6 1710.1l8.6 -14.4 7.9 -2.2 -8.6 14.3z" fill="#9cfba4" stroke="#9cfba4"/>
<path d="M651.8 1814.3l8.3 -25.9 8 -5 -8.3 24.9z" fill="#46efd1" stroke="#46efd1"/>
<path d="M818.3 1657.6l8.8 -0.4 7.7 -2.5 -8.8 0z" fill="#c6e789" stroke="#c6e789"/>
<path d="M767.5 1672.6l8.8 -5.5 7.8 -1.5 -8.8 4.7z" fill="#bbee91" stroke="#bbee91"/>
<path d="M792.8 1662.4l8.8 -2.2 7.8 -1.5 -8.8 1.7z" fill="#c2ea8c" stroke="#c2ea8c"/>
<path d="M668.2 1783.3l8.4 -23.7 8 -4.3 -8.4 23.1z" fill="#64fbc3" stroke="#64fbc3"/>
<path d="M750.9 1682.3l8.7 -8.2 7.9 -1.5 -8.7 7.8z" fill="#b6f193" stroke="#b6f193"/>
<path d="M827.1 1657.3l8.9 0.2 7.7 -2.2 -8.8 -0.5z" fill="#c8e688" stroke="#c8e688"/>
<path d="M801.7 1660.2l8.8 -1.3 7.7 -1.3 -8.8 1z" fill="#c8e688" stroke="#c8e688"/>
<path d="M684.6 1755.3l8.5 -20.6 8 -3 -8.5 20.1z" fill="#7dffb6" stroke="#7dffb6"/>
<path d="M776.2 1667.1l8.8 -3.8 7.8 -0.9 -8.8 3.3z" fill="#c2ea8c" stroke="#c2ea8c"/>
<path d="M734.3 1695.6l8.7 -11.5 7.9 -1.9 -8.7 11.2z" fill="#acf59a" stroke="#acf59a"/>
<path d="M643.8 1820.8l8.3 -26.7 8.1 -5.7 -8.3 25.9z" fill="#48f1d0" stroke="#48f1d0"/>
<path d="M701.1 1731.7l8.6 -17.5 8 -2.1 -8.6 17.4z" fill="#90feab" stroke="#90feab"/>
<path d="M717.7 1712.1l8.6 -14.6 7.9 -1.9 -8.6 14.4z" fill="#a0faa1" stroke="#a0faa1"/>
<path d="M836 1657.5l8.9 0.6 7.7 -1.9 -8.9 -0.9z" fill="#cbe486" stroke="#cbe486"/>
<path d="M810.5 1658.9l8.9 -0.6 7.7 -1 -8.8 0.4z" fill="#cbe486" stroke="#cbe486"/>
<path d="M759.6 1674l8.8 -5.9 7.8 -1 -8.8 5.5z" fill="#c0eb8d" stroke="#c0eb8d"/>
<path d="M785 1663.3l8.8 -2.5 7.8 -0.6 -8.8 2.2z" fill="#c8e688" stroke="#c8e688"/>
<path d="M844.8 1658.1l8.9 1 7.7 -1.8 -8.9 -1.1z" fill="#cce385" stroke="#cce385"/>
<path d="M660.2 1788.3l8.4 -24.5 8.1 -4.2 -8.4 23.7z" fill="#66fcc2" stroke="#66fcc2"/>
<path d="M743 1684.2l8.8 -8.6 7.9 -1.5 -8.7 8.2z" fill="#bbee91" stroke="#bbee91"/>
<path d="M819.4 1658.3l8.9 0 7.7 -0.8 -8.9 -0.2z" fill="#cee184" stroke="#cee184"/>
<path d="M676.6 1759.6l8.5 -21.1 8 -3.8 -8.5 20.6z" fill="#80ffb4" stroke="#80ffb4"/>
<path d="M853.7 1659l8.9 1.3 7.6 -1.7 -8.9 -1.4z" fill="#cee184" stroke="#cee184"/>
<path d="M635.7 1827.5l8.3 -27.6 8.1 -5.8 -8.3 26.7z" fill="#48f1d0" stroke="#48f1d0"/>
<path d="M793.9 1660.8l8.9 -1.5 7.8 -0.4 -8.8 1.3z" fill="#cee184" stroke="#cee184"/>
<path d="M726.3 1697.5l8.7 -11.5 7.9 -1.8 -8.7 11.5z" fill="#b2f396" stroke="#b2f396"/>
<path d="M768.4 1668.1l8.8 -4.1 7.8 -0.6 -8.8 3.8z" fill="#c8e688" stroke="#c8e688"/>
<path d="M693.1 1734.8l8.6 -17.8 8 -2.8 -8.6 17.5z" fill="#94fda8" stroke="#94fda8"/>
<path d="M709.7 1714.2l8.6 -14.5 8 -2.2 -8.6 14.6z" fill="#a4f89f" stroke="#a4f89f"/>
<path d="M828.2 1658.3l8.9 0.5 7.7 -0.7 -8.9 -0.6z" fill="#d0e082" stroke="#d0e082"/>
<path d="M862.6 1660.3l8.9 1.6 7.6 -1.6 -8.9 -1.8z" fill="#cee184" stroke="#cee184"/>
<path d="M802.7 1659.3l8.9 -0.7 7.8 -0.3 -8.9 0.6z" fill="#d0e082" stroke="#d0e082"/>
<path d="M751.7 1675.5l8.8 -6.3 7.9 -1.2 -8.8 5.9z" fill="#c6e789" stroke="#c6e789"/>
<path d="M652.1 1794.1l8.4 -25.2 8.1 -5 -8.4 24.5z" fill="#66fcc2" stroke="#66fcc2"/>
<path d="M777.2 1664l8.8 -2.7 7.8 -0.4 -8.8 2.5z" fill="#cee184" stroke="#cee184"/>
<path d="M837.1 1658.8l8.9 0.8 7.7 -0.6 -8.9 -1z" fill="#d2de81" stroke="#d2de81"/>
<path d="M871.6 1662l8.9 2 7.6 -1.5 -8.9 -2.1z" fill="#d0e082" stroke="#d0e082"/>
<path d="M627.6 1834.4l8.3 -28.2 8.1 -6.3 -8.3 27.6z" fill="#48f1d0" stroke="#48f1d0"/>
<path d="M735 1686l8.8 -8.7 7.9 -1.8 -8.8 8.6z" fill="#c0eb8d" stroke="#c0eb8d"/>
<path d="M668.6 1763.8l8.5 -21.5 8.1 -3.9 -8.5 21.1z" fill="#82ffb3" stroke="#82ffb3"/>
<path d="M811.6 1658.6l8.9 -0.1 7.7 -0.1 -8.9 0z" fill="#d4dd80" stroke="#d4dd80"/>
<path d="M880.5 1663.9l8.9 2.3 7.6 -1.4 -8.9 -2.3z" fill="#d0e082" stroke="#d0e082"/>
<path d="M846 1659.6l8.9 1.2 7.7 -0.5 -8.9 -1.3z" fill="#d4dd80" stroke="#d4dd80"/>
<path d="M718.4 1699.6l8.7 -11.4 8 -2.2 -8.7 11.5z" fill="#b6f193" stroke="#b6f193"/>
<path d="M685.1 1738.5l8.6 -18 8 -3.6 -8.6 17.8z" fill="#99fca6" stroke="#99fca6"/>
<path d="M786.1 1661.2l8.9 -1.7 7.8 -0.2 -8.9 1.5z" fill="#d4dd80" stroke="#d4dd80"/>
<path d="M760.5 1669.3l8.8 -4.4 7.9 -0.9 -8.8 4.1z" fill="#cee184" stroke="#cee184"/>
<path d="M701.7 1717l8.7 -14.6 8 -2.8 -8.6 14.5z" fill="#abf69b" stroke="#abf69b"/>
<path d="M820.5 1658.5l8.9 0.4 7.7 0 -8.9 -0.5z" fill="#d6db7e" stroke="#d6db7e"/>
<path d="M889.4 1666.2l9 2.5 7.6 -1.4 -8.9 -2.5z" fill="#d0e082" stroke="#d0e082"/>
<path d="M855 1660.8l8.9 1.5 7.7 -0.3 -8.9 -1.6z" fill="#d4dd80" stroke="#d4dd80"/>
<path d="M644 1799.9l8.4 -25.9 8.1 -5.1 -8.4 25.2z" fill="#68fcc1" stroke="#68fcc1"/>
<path d="M743.8 1677.3l8.8 -6.4 7.9 -1.6 -8.8 6.3z" fill="#cbe486" stroke="#cbe486"/>
<path d="M794.9 1659.5l8.9 -0.8 7.8 -0.1 -8.9 0.7z" fill="#d9da7d" stroke="#d9da7d"/>
<path d="M898.4 1668.7l9 2.6 7.6 -1.4 -9 -2.6z" fill="#d0e082" stroke="#d0e082"/>
<path d="M769.3 1664.9l8.9 -2.9 7.9 -0.7 -8.8 2.7z" fill="#d4dd80" stroke="#d4dd80"/>
<path d="M619.5 1841.7l8.2 -29 8.1 -6.5 -8.3 28.2z" fill="#48f1d0" stroke="#48f1d0"/>
<path d="M829.4 1658.8l8.9 0.7 7.7 0.1 -8.9 -0.8z" fill="#d9da7d" stroke="#d9da7d"/>
<path d="M863.9 1662.3l8.9 1.8 7.6 -0.2 -8.9 -2z" fill="#d6db7e" stroke="#d6db7e"/>
<path d="M660.5 1768.9l8.5 -22.1 8.1 -4.4 -8.5 21.5z" fill="#84ffb2" stroke="#84ffb2"/>
<path d="M727.1 1688.2l8.8 -8.7 8 -2.2 -8.8 8.7z" fill="#c4e88a" stroke="#c4e88a"/>
<path d="M907.4 1671.3l9 2.7 7.5 -1.4 -9 -2.7z" fill="#d0e082" stroke="#d0e082"/>
<path d="M803.8 1658.7l8.9 -0.2 7.8 0 -8.9 0.1z" fill="#dbd87b" stroke="#dbd87b"/>
<path d="M677 1742.4l8.6 -18.2 8.1 -3.6 -8.6 18z" fill="#9bfba5" stroke="#9bfba5"/>
<path d="M710.4 1702.4l8.7 -11.4 8 -2.8 -8.7 11.4z" fill="#bbee91" stroke="#bbee91"/>
<path d="M872.9 1664.1l9 2.1 7.6 0 -8.9 -2.3z" fill="#d6db7e" stroke="#d6db7e"/>
<path d="M838.3 1659.5l8.9 1 7.7 0.2 -8.9 -1.2z" fill="#dbd87b" stroke="#dbd87b"/>
<path d="M693.7 1720.6l8.7 -14.7 8 -3.5 -8.7 14.6z" fill="#acf59a" stroke="#acf59a"/>
<path d="M752.6 1670.9l8.8 -4.5 7.9 -1.5 -8.8 4.4z" fill="#d4dd80" stroke="#d4dd80"/>
<path d="M778.2 1661.9l8.9 -1.8 7.9 -0.6 -8.9 1.7z" fill="#dbd87b" stroke="#dbd87b"/>
<path d="M916.3 1674l9 2.6 7.5 -1.5 -9 -2.5z" fill="#d0e082" stroke="#d0e082"/>
<path d="M635.9 1806.2l8.3 -26.5 8.1 -5.7 -8.4 25.9z" fill="#68fcc1" stroke="#68fcc1"/>
<path d="M881.8 1666.2l9 2.4 7.6 0.1 -9 -2.5z" fill="#d6db7e" stroke="#d6db7e"/>
<path d="M812.7 1658.5l8.9 0.3 7.8 0.1 -8.9 -0.4z" fill="#ded579" stroke="#ded579"/>
<path d="M847.3 1660.6l9 1.3 7.7 0.4 -8.9 -1.5z" fill="#dcd67a" stroke="#dcd67a"/>
<path d="M611.4 1849.1l8.2 -29.4 8.2 -7 -8.2 29z" fill="#46efd1" stroke="#46efd1"/>
<path d="M735.8 1679.5l8.8 -6.4 7.9 -2.2 -8.8 6.4z" fill="#d0e082" stroke="#d0e082"/>
<path d="M925.3 1676.6l9 2.3 7.5 -1.6 -9 -2.2z" fill="#d0e082" stroke="#d0e082"/>
<path d="M787.1 1660.1l8.9 -0.9 7.8 -0.5 -8.9 0.8z" fill="#ded579" stroke="#ded579"/>
<path d="M890.8 1668.6l9 2.6 7.6 0.2 -9 -2.6z" fill="#d6db7e" stroke="#d6db7e"/>
<path d="M761.4 1666.4l8.9 -3 7.9 -1.4 -8.9 2.9z" fill="#dbd87b" stroke="#dbd87b"/>
<path d="M652.4 1774l8.5 -22.5 8.1 -4.8 -8.5 22.1z" fill="#86ffb0" stroke="#86ffb0"/>
<path d="M821.6 1658.7l8.9 0.6 7.8 0.2 -8.9 -0.7z" fill="#e0d377" stroke="#e0d377"/>
<path d="M856.2 1661.9l9 1.6 7.7 0.6 -8.9 -1.8z" fill="#dcd67a" stroke="#dcd67a"/>
<path d="M719.1 1691l8.8 -8.7 8 -2.9 -8.8 8.7z" fill="#c8e688" stroke="#c8e688"/>
<path d="M934.3 1678.9l9 1.8 7.5 -1.9 -9 -1.6z" fill="#d0e082" stroke="#d0e082"/>
<path d="M669 1746.7l8.6 -18.5 8.1 -4 -8.6 18.2z" fill="#9efaa2" stroke="#9efaa2"/>
<path d="M899.8 1671.1l9 2.7 7.6 0.2 -9 -2.7z" fill="#d6db7e" stroke="#d6db7e"/>
<path d="M702.3 1705.9l8.7 -11.5 8 -3.4 -8.7 11.4z" fill="#beec8e" stroke="#beec8e"/>
<path d="M796 1659.2l8.9 -0.3 7.8 -0.4 -8.9 0.2z" fill="#e2d176" stroke="#e2d176"/>
<path d="M685.6 1724.2l8.7 -14.7 8.1 -3.6 -8.7 14.7z" fill="#b0f397" stroke="#b0f397"/>
<path d="M627.8 1812.7l8.3 -27 8.2 -6 -8.3 26.5z" fill="#6afdc0" stroke="#6afdc0"/>
<path d="M865.2 1663.5l9 1.9 7.7 0.8 -9 -2.1z" fill="#ded579" stroke="#ded579"/>
<path d="M744.6 1673.1l8.8 -4.5 7.9 -2.2 -8.8 4.5z" fill="#d9da7d" stroke="#d9da7d"/>
<path d="M830.6 1659.4l9 0.9 7.7 0.3 -8.9 -1z" fill="#e2d176" stroke="#e2d176"/>
<path d="M770.3 1663.3l8.9 -1.9 7.9 -1.3 -8.9 1.8z" fill="#e0d377" stroke="#e0d377"/>
<path d="M943.4 1680.7l9 1.2 7.5 -2 -9 -1z" fill="#d0e082" stroke="#d0e082"/>
<path d="M603.2 1857l8.2 -30.1 8.2 -7.2 -8.2 29.4z" fill="#46efd1" stroke="#46efd1"/>
<path d="M908.8 1673.8l9 2.6 7.6 0.2 -9 -2.6z" fill="#d6db7e" stroke="#d6db7e"/>
<path d="M804.9 1658.9l8.9 0.2 7.8 -0.3 -8.9 -0.3z" fill="#e4cf74" stroke="#e4cf74"/>
<path d="M874.2 1665.3l9 2.2 7.6 1 -9 -2.4z" fill="#ded579" stroke="#ded579"/>
<path d="M727.8 1682.4l8.8 -6.3 8 -2.9 -8.8 6.4z" fill="#d4dd80" stroke="#d4dd80"/>
<path d="M839.5 1660.2l9 1.1 7.7 0.5 -9 -1.3z" fill="#e2d176" stroke="#e2d176"/>
<path d="M644.2 1779.7l8.4 -23 8.1 -5.2 -8.5 22.5z" fill="#88ffaf" stroke="#88ffaf"/>
<path d="M917.8 1676.4l9 2.4 7.5 0.2 -9 -2.3z" fill="#d6db7e" stroke="#d6db7e"/>
<path d="M779.2 1661.5l8.9 -1.1 7.9 -1.2 -8.9 0.9z" fill="#e4cf74" stroke="#e4cf74"/>
<path d="M952.4 1682l9.1 0.4 7.5 -2.3 -9.1 -0.1z" fill="#d2de81" stroke="#d2de81"/>
<path d="M753.5 1668.6l8.9 -3 7.9 -2.3 -8.9 3z" fill="#e0d377" stroke="#e0d377"/>
<path d="M883.1 1667.5l9 2.5 7.6 1.1 -9 -2.6z" fill="#ded579" stroke="#ded579"/>
<path d="M711 1694.4l8.8 -8.6 8 -3.4 -8.8 8.7z" fill="#cce385" stroke="#cce385"/>
<path d="M813.8 1659l9 0.5 7.8 -0.2 -8.9 -0.6z" fill="#e6cd73" stroke="#e6cd73"/>
<path d="M660.8 1751.5l8.6 -18.7 8.1 -4.6 -8.6 18.5z" fill="#a0faa1" stroke="#a0faa1"/>
<path d="M848.5 1661.4l9 1.4 7.7 0.8 -9 -1.6z" fill="#e4cf74" stroke="#e4cf74"/>
<path d="M694.3 1709.5l8.7 -11.4 8.1 -3.7 -8.7 11.5z" fill="#c2ea8c" stroke="#c2ea8c"/>
<path d="M619.6 1819.7l8.3 -27.4 8.2 -6.6 -8.3 27z" fill="#6afdc0" stroke="#6afdc0"/>
<path d="M926.8 1678.8l9 2 7.5 0 -9 -1.8z" fill="#d6db7e" stroke="#d6db7e"/>
<path d="M677.5 1728.2l8.7 -14.7 8.1 -4 -8.7 14.7z" fill="#b2f396" stroke="#b2f396"/>
<path d="M961.5 1682.3l9.1 -0.6 7.5 -3 -9.1 1.3z" fill="#d6db7e" stroke="#d6db7e"/>
<path d="M788.1 1660.4l8.9 -0.4 7.9 -1.1 -8.9 0.3z" fill="#e8cb72" stroke="#e8cb72"/>
<path d="M892.2 1670l9 2.6 7.6 1.2 -9 -2.7z" fill="#ded579" stroke="#ded579"/>
<path d="M595 1865l8.2 -30.7 8.2 -7.4 -8.2 30.1z" fill="#44eed2" stroke="#44eed2"/>
<path d="M736.7 1676l8.9 -4.4 8 -3 -8.8 4.5z" fill="#dcd67a" stroke="#dcd67a"/>
<path d="M762.4 1665.6l8.9 -1.9 7.9 -2.2 -8.9 1.9z" fill="#e4cf74" stroke="#e4cf74"/>
<path d="M822.8 1659.5l9 0.7 7.8 0 -9 -0.9z" fill="#e8cb72" stroke="#e8cb72"/>
<path d="M857.5 1662.7l9 1.6 7.7 1 -9 -1.9z" fill="#e6cd73" stroke="#e6cd73"/>
<path d="M935.8 1680.7l9.1 1.4 7.5 -0.2 -9 -1.2z" fill="#d6db7e" stroke="#d6db7e"/>
<path d="M901.2 1672.6l9 2.6 7.6 1.2 -9 -2.6z" fill="#ded579" stroke="#ded579"/>
<path d="M636.1 1785.7l8.4 -23.2 8.2 -5.8 -8.4 23z" fill="#88ffaf" stroke="#88ffaf"/>
<path d="M719.8 1685.8l8.8 -6.2 8 -3.5 -8.8 6.3z" fill="#d9da7d" stroke="#d9da7d"/>
<path d="M797 1660l8.9 0 7.8 -0.9 -8.9 -0.2z" fill="#ebca70" stroke="#ebca70"/>
<path d="M970.6 1681.7l9.1 -1.2 7.5 -3.8 -9.1 2z" fill="#dbd87b" stroke="#dbd87b"/>
<path d="M866.5 1664.3l9 1.9 7.7 1.3 -9 -2.2z" fill="#e6cd73" stroke="#e6cd73"/>
<path d="M831.7 1660.3l9 0.9 7.8 0.2 -9 -1.1z" fill="#ebca70" stroke="#ebca70"/>
<path d="M771.3 1663.7l8.9 -1.1 7.9 -2.1 -8.9 1.1z" fill="#e8cb72" stroke="#e8cb72"/>
<path d="M745.5 1671.6l8.9 -2.9 8 -3.1 -8.9 3z" fill="#e4cf74" stroke="#e4cf74"/>
<path d="M944.9 1682.1l9.1 0.8 7.5 -0.6 -9.1 -0.4z" fill="#d9da7d" stroke="#d9da7d"/>
<path d="M703 1698.1l8.8 -8.5 8.1 -3.8 -8.8 8.6z" fill="#d0e082" stroke="#d0e082"/>
<path d="M910.2 1675.2l9 2.4 7.6 1.2 -9 -2.4z" fill="#ded579" stroke="#ded579"/>
<path d="M652.7 1756.7l8.6 -19 8.1 -4.9 -8.6 18.7z" fill="#a2f9a0" stroke="#a2f9a0"/>
<path d="M611.4 1826.9l8.3 -27.7 8.2 -6.8 -8.3 27.4z" fill="#68fcc1" stroke="#68fcc1"/>
<path d="M686.2 1713.5l8.7 -11.3 8.1 -4.1 -8.7 11.4z" fill="#c4e88a" stroke="#c4e88a"/>
<path d="M586.8 1874.1l8.1 -32.1 8.2 -7.8 -8.2 30.7z" fill="#42edd3" stroke="#42edd3"/>
<path d="M806 1660l9 0.3 7.8 -0.8 -9 -0.5z" fill="#ecc86f" stroke="#ecc86f"/>
<path d="M875.5 1666.3l9 2.3 7.7 1.4 -9 -2.5z" fill="#e6cd73" stroke="#e6cd73"/>
<path d="M669.4 1732.8l8.7 -14.8 8.1 -4.5 -8.7 14.7z" fill="#b4f295" stroke="#b4f295"/>
<path d="M840.7 1661.2l9 1.2 7.7 0.3 -9 -1.4z" fill="#ecc86f" stroke="#ecc86f"/>
<path d="M979.7 1680.5l9.2 -1.6 7.5 -4.6 -9.2 2.4z" fill="#ded579" stroke="#ded579"/>
<path d="M919.2 1677.6l9.1 2.1 7.5 1 -9 -2z" fill="#ded579" stroke="#ded579"/>
<path d="M728.6 1679.5l8.9 -4.3 8 -3.6 -8.9 4.4z" fill="#e0d377" stroke="#e0d377"/>
<path d="M954 1682.9l9.1 0.2 7.5 -1.4 -9.1 0.6z" fill="#dbd87b" stroke="#dbd87b"/>
<path d="M780.2 1662.5l8.9 -0.6 7.9 -2 -8.9 0.4z" fill="#ecc86f" stroke="#ecc86f"/>
<path d="M754.4 1668.7l8.9 -1.9 7.9 -3.2 -8.9 1.9z" fill="#e8cb72" stroke="#e8cb72"/>
<path d="M884.5 1668.6l9 2.5 7.6 1.5 -9 -2.6z" fill="#e6cd73" stroke="#e6cd73"/>
<path d="M814.9 1660.3l9 0.6 7.8 -0.6 -9 -0.7z" fill="#eec66d" stroke="#eec66d"/>
<path d="M627.9 1792.3l8.4 -23.6 8.2 -6.2 -8.4 23.2z" fill="#88ffaf" stroke="#88ffaf"/>
<path d="M849.7 1662.4l9 1.4 7.7 0.5 -9 -1.6z" fill="#ecc86f" stroke="#ecc86f"/>
<path d="M928.3 1679.7l9.1 1.7 7.5 0.8 -9.1 -1.4z" fill="#ded579" stroke="#ded579"/>
<path d="M711.8 1689.6l8.8 -6.1 8 -3.9 -8.8 6.2z" fill="#dbd87b" stroke="#dbd87b"/>
<path d="M988.9 1678.9l9.2 -1.5 7.5 -5.5 -9.2 2.4z" fill="#e4cf74" stroke="#e4cf74"/>
<path d="M789.1 1661.9l9 -0.2 7.9 -1.8 -8.9 0z" fill="#f0c46c" stroke="#f0c46c"/>
<path d="M963.1 1683.1l9.1 -0.3 7.5 -2.3 -9.1 1.2z" fill="#ded579" stroke="#ded579"/>
<path d="M893.5 1671.1l9 2.5 7.6 1.6 -9 -2.6z" fill="#e6cd73" stroke="#e6cd73"/>
<path d="M603.2 1834.3l8.3 -28.1 8.2 -7 -8.3 27.7z" fill="#68fcc1" stroke="#68fcc1"/>
<path d="M737.5 1675.2l8.9 -2.8 8 -3.7 -8.9 2.9z" fill="#e6cd73" stroke="#e6cd73"/>
<path d="M763.3 1666.8l8.9 -1.2 7.9 -3.1 -8.9 1.1z" fill="#ecc86f" stroke="#ecc86f"/>
<path d="M578.6 1884.8l8.1 -33.7 8.2 -9 -8.1 32.1z" fill="#40ecd4" stroke="#40ecd4"/>
<path d="M644.5 1762.5l8.6 -19.1 8.2 -5.7 -8.6 19z" fill="#a2f9a0" stroke="#a2f9a0"/>
<path d="M694.9 1702.2l8.8 -8.4 8.1 -4.2 -8.8 8.5z" fill="#d2de81" stroke="#d2de81"/>
<path d="M823.9 1660.9l9 0.8 7.8 -0.5 -9 -0.9z" fill="#f0c46c" stroke="#f0c46c"/>
<path d="M858.7 1663.8l9 1.7 7.7 0.7 -9 -1.9z" fill="#eec66d" stroke="#eec66d"/>
<path d="M937.4 1681.4l9.1 1.2 7.5 0.4 -9.1 -0.8z" fill="#e0d377" stroke="#e0d377"/>
<path d="M678.1 1718l8.7 -11.2 8.1 -4.6 -8.7 11.3z" fill="#c6e789" stroke="#c6e789"/>
<path d="M661.3 1737.7l8.7 -14.7 8.1 -4.9 -8.7 14.8z" fill="#b6f193" stroke="#b6f193"/>
<path d="M902.6 1673.6l9.1 2.4 7.6 1.6 -9 -2.4z" fill="#e6cd73" stroke="#e6cd73"/>
<path d="M798.1 1661.8l9 0.1 7.9 -1.6 -9 -0.3z" fill="#f2c26b" stroke="#f2c26b"/>
<path d="M972.2 1682.8l9.1 -0.5 7.5 -3.4 -9.2 1.6z" fill="#e2d176" stroke="#e2d176"/>
<path d="M998 1677.4l9.2 -1.2 7.5 -6.4 -9.2 2.1z" fill="#e8cb72" stroke="#e8cb72"/>
<path d="M720.6 1683.4l8.9 -4.2 8 -4 -8.9 4.3z" fill="#e2d176" stroke="#e2d176"/>
<path d="M867.8 1665.6l9 2 7.7 1 -9 -2.3z" fill="#eec66d" stroke="#eec66d"/>
<path d="M832.9 1661.7l9 1 7.8 -0.3 -9 -1.2z" fill="#f2c26b" stroke="#f2c26b"/>
<path d="M772.3 1665.6l9 -0.8 7.9 -2.9 -8.9 0.6z" fill="#f0c46c" stroke="#f0c46c"/>
<path d="M746.4 1672.5l8.9 -1.7 8 -3.9 -8.9 1.9z" fill="#ecc86f" stroke="#ecc86f"/>
<path d="M946.5 1682.6l9.1 0.8 7.5 -0.3 -9.1 -0.2z" fill="#e2d176" stroke="#e2d176"/>
<path d="M619.7 1799.2l8.4 -23.6 8.2 -6.8 -8.4 23.6z" fill="#88ffaf" stroke="#88ffaf"/>
<path d="M911.6 1676l9.1 2.2 7.6 1.5 -9.1 -2.1z" fill="#e6cd73" stroke="#e6cd73"/>
<path d="M807.1 1661.9l9 0.4 7.9 -1.4 -9 -0.6z" fill="#f4c069" stroke="#f4c069"/>
<path d="M570.4 1897.4l8 -35.5 8.2 -10.8 -8.1 33.7z" fill="#3dead5" stroke="#3dead5"/>
<path d="M703.7 1693.8l8.8 -6 8.1 -4.4 -8.8 6.1z" fill="#dcd67a" stroke="#dcd67a"/>
<path d="M876.8 1667.6l9.1 2.2 7.7 1.3 -9 -2.5z" fill="#eec66d" stroke="#eec66d"/>
<path d="M841.9 1662.7l9 1.2 7.8 -0.1 -9 -1.4z" fill="#f4c069" stroke="#f4c069"/>
<path d="M981.4 1682.3l9.2 -0.5 7.5 -4.4 -9.2 1.5z" fill="#e6cd73" stroke="#e6cd73"/>
<path d="M594.9 1842.1l8.2 -28.9 8.3 -7 -8.3 28.1z" fill="#68fcc1" stroke="#68fcc1"/>
<path d="M1007.2 1676.2l9.2 -0.9 7.5 -6.9 -9.2 1.4z" fill="#ecc86f" stroke="#ecc86f"/>
<path d="M781.2 1664.8l9 -0.4 7.9 -2.7 -9 0.2z" fill="#f4c069" stroke="#f4c069"/>
<path d="M636.3 1768.8l8.5 -19.3 8.2 -6.1 -8.6 19.1z" fill="#a2f9a0" stroke="#a2f9a0"/>
<path d="M920.7 1678.2l9.1 1.9 7.6 1.3 -9.1 -1.7z" fill="#e6cd73" stroke="#e6cd73"/>
<path d="M955.6 1683.4l9.1 0.4 7.5 -1 -9.1 0.3z" fill="#e4cf74" stroke="#e4cf74"/>
<path d="M729.5 1679.2l8.9 -2.8 8 -4 -8.9 2.8z" fill="#ebca70" stroke="#ebca70"/>
<path d="M686.8 1706.8l8.8 -8.2 8.1 -4.7 -8.8 8.4z" fill="#d4dd80" stroke="#d4dd80"/>
<path d="M755.3 1670.7l8.9 -1.3 8 -3.8 -8.9 1.2z" fill="#f0c46c" stroke="#f0c46c"/>
<path d="M885.9 1669.8l9.1 2.3 7.7 1.5 -9 -2.5z" fill="#eec66d" stroke="#eec66d"/>
<path d="M653.1 1743.4l8.7 -14.9 8.2 -5.6 -8.7 14.7z" fill="#b9ef92" stroke="#b9ef92"/>
<path d="M669.9 1722.9l8.7 -11.1 8.1 -5.1 -8.7 11.2z" fill="#c8e688" stroke="#c8e688"/>
<path d="M816.1 1662.3l9 0.6 7.8 -1.2 -9 -0.8z" fill="#f6be68" stroke="#f6be68"/>
<path d="M851 1663.9l9 1.5 7.8 0.2 -9 -1.7z" fill="#f4c069" stroke="#f4c069"/>
<path d="M990.5 1681.8l9.2 -0.3 7.5 -5.2 -9.2 1.2z" fill="#ebca70" stroke="#ebca70"/>
<path d="M929.8 1680.1l9.1 1.6 7.6 1 -9.1 -1.2z" fill="#e8cb72" stroke="#e8cb72"/>
<path d="M1016.4 1675.3l9.2 -0.8 7.5 -7.5 -9.2 1.3z" fill="#f0c46c" stroke="#f0c46c"/>
<path d="M790.2 1664.5l9 0 7.9 -2.5 -9 -0.1z" fill="#f6be68" stroke="#f6be68"/>
<path d="M712.5 1687.8l8.9 -4.1 8.1 -4.5 -8.9 4.2z" fill="#e4cf74" stroke="#e4cf74"/>
<path d="M562.3 1912.6l7.9 -38.2 8.2 -12.5 -8 35.5z" fill="#34e4d9" stroke="#34e4d9"/>
<path d="M964.7 1683.8l9.2 0.2 7.5 -1.7 -9.1 0.5z" fill="#e6cd73" stroke="#e6cd73"/>
<path d="M611.5 1806.2l8.4 -23.7 8.2 -6.9 -8.4 23.6z" fill="#88ffaf" stroke="#88ffaf"/>
<path d="M894.9 1672.1l9.1 2.3 7.6 1.5 -9.1 -2.4z" fill="#eec66d" stroke="#eec66d"/>
<path d="M764.3 1669.4l9 -0.9 8 -3.6 -9 0.8z" fill="#f4c069" stroke="#f4c069"/>
<path d="M738.4 1676.5l8.9 -1.8 8 -3.9 -8.9 1.7z" fill="#eec66d" stroke="#eec66d"/>
<path d="M825.1 1662.9l9 0.8 7.8 -1.1 -9 -1z" fill="#f9bb66" stroke="#f9bb66"/>
<path d="M860 1665.4l9.1 1.7 7.7 0.5 -9 -2z" fill="#f6be68" stroke="#f6be68"/>
<path d="M586.7 1851l8.2 -30 8.3 -7.8 -8.2 28.9z" fill="#66fcc2" stroke="#66fcc2"/>
<path d="M938.9 1681.6l9.1 1.2 7.5 0.5 -9.1 -0.8z" fill="#e8cb72" stroke="#e8cb72"/>
<path d="M695.6 1698.5l8.9 -5.8 8.1 -5 -8.8 6z" fill="#ded579" stroke="#ded579"/>
<path d="M999.7 1681.4l9.2 -0.1 7.5 -6 -9.2 0.9z" fill="#ecc86f" stroke="#ecc86f"/>
<path d="M904 1674.4l9.1 2.2 7.6 1.5 -9.1 -2.2z" fill="#eec66d" stroke="#eec66d"/>
<path d="M799.2 1664.4l9 0.2 7.9 -2.3 -9 -0.4z" fill="#fbb965" stroke="#fbb965"/>
<path d="M1025.6 1674.5l9.2 -1.2 7.5 -7.8 -9.2 1.5z" fill="#f4c069" stroke="#f4c069"/>
<path d="M628.1 1775.6l8.5 -19.3 8.2 -6.9 -8.5 19.3z" fill="#a2f9a0" stroke="#a2f9a0"/>
<path d="M973.9 1684l9.2 0.1 7.5 -2.4 -9.2 0.5z" fill="#ebca70" stroke="#ebca70"/>
<path d="M869.1 1667.1l9.1 1.9 7.7 0.8 -9.1 -2.2z" fill="#f6be68" stroke="#f6be68"/>
<path d="M834.1 1663.8l9 1 7.8 -0.8 -9 -1.2z" fill="#fbb965" stroke="#fbb965"/>
<path d="M773.2 1668.5l9 -0.5 7.9 -3.5 -9 0.4z" fill="#f9bb66" stroke="#f9bb66"/>
<path d="M678.6 1711.8l8.8 -8.1 8.1 -5.2 -8.8 8.2z" fill="#d6db7e" stroke="#d6db7e"/>
<path d="M721.4 1683.7l8.9 -2.7 8.1 -4.5 -8.9 2.8z" fill="#ecc86f" stroke="#ecc86f"/>
<path d="M747.3 1674.7l9 -1.2 8 -4 -8.9 1.3z" fill="#f2c26b" stroke="#f2c26b"/>
<path d="M644.9 1749.5l8.7 -14.9 8.2 -6.1 -8.7 14.9z" fill="#b9ef92" stroke="#b9ef92"/>
<path d="M554 1924.3l7.9 -39 8.3 -10.9 -7.9 38.2z" fill="#2fe0db" stroke="#2fe0db"/>
<path d="M661.7 1728.5l8.7 -11.1 8.2 -5.6 -8.7 11.1z" fill="#cbe486" stroke="#cbe486"/>
<path d="M948 1682.8l9.1 0.9 7.5 0.1 -9.1 -0.4z" fill="#ebca70" stroke="#ebca70"/>
<path d="M913.1 1676.7l9.1 2 7.6 1.4 -9.1 -1.9z" fill="#eec66d" stroke="#eec66d"/>
<path d="M1008.9 1681.3l9.2 -0.1 7.5 -6.7 -9.2 0.8z" fill="#f0c46c" stroke="#f0c46c"/>
<path d="M808.2 1664.6l9 0.5 7.9 -2.2 -9 -0.6z" fill="#fcb763" stroke="#fcb763"/>
<path d="M878.1 1669l9.1 2.1 7.7 1 -9.1 -2.3z" fill="#f6be68" stroke="#f6be68"/>
<path d="M983 1684.2l9.2 0.1 7.5 -2.9 -9.2 0.3z" fill="#ecc86f" stroke="#ecc86f"/>
<path d="M1034.9 1673.3l9.3 -1.6 7.5 -7.7 -9.3 1.6z" fill="#fbb965" stroke="#fbb965"/>
<path d="M603.2 1813.2l8.4 -23.9 8.3 -6.8 -8.4 23.7z" fill="#88ffaf" stroke="#88ffaf"/>
<path d="M843.2 1664.8l9.1 1.2 7.8 -0.6 -9 -1.5z" fill="#fcb763" stroke="#fcb763"/>
<path d="M704.4 1692.8l8.9 -3.9 8.1 -5.2 -8.9 4.1z" fill="#e6cd73" stroke="#e6cd73"/>
<path d="M782.2 1667.9l9 -0.2 7.9 -3.3 -9 0z" fill="#fbb965" stroke="#fbb965"/>
<path d="M756.3 1673.4l9 -0.9 8 -4.1 -9 0.9z" fill="#f6be68" stroke="#f6be68"/>
<path d="M730.3 1681l8.9 -1.8 8 -4.5 -8.9 1.8z" fill="#f0c46c" stroke="#f0c46c"/>
<path d="M578.5 1861.9l8.2 -31.7 8.3 -9.1 -8.2 30z" fill="#62fbc4" stroke="#62fbc4"/>
<path d="M922.2 1678.7l9.1 1.8 7.6 1.2 -9.1 -1.6z" fill="#f0c46c" stroke="#f0c46c"/>
<path d="M957.2 1683.7l9.2 0.6 7.5 -0.3 -9.2 -0.2z" fill="#ecc86f" stroke="#ecc86f"/>
<path d="M817.2 1665.1l9 0.7 7.9 -2 -9 -0.8z" fill="#feb562" stroke="#feb562"/>
<path d="M887.2 1671.1l9.1 2.2 7.7 1.2 -9.1 -2.3z" fill="#f6be68" stroke="#f6be68"/>
<path d="M687.4 1703.8l8.9 -5.6 8.1 -5.4 -8.9 5.8z" fill="#e0d377" stroke="#e0d377"/>
<path d="M1018.1 1681.2l9.2 -0.6 7.5 -7.3 -9.2 1.2z" fill="#f4c069" stroke="#f4c069"/>
<path d="M852.2 1666l9.1 1.4 7.8 -0.3 -9.1 -1.7z" fill="#fcb763" stroke="#fcb763"/>
<path d="M619.9 1782.5l8.5 -19.3 8.3 -6.9 -8.5 19.3z" fill="#a2f9a0" stroke="#a2f9a0"/>
<path d="M992.2 1684.3l9.2 0.1 7.5 -3.1 -9.2 0.1z" fill="#f0c46c" stroke="#f0c46c"/>
<path d="M545.8 1936.3l7.9 -39.9 8.3 -11.2 -7.9 39z" fill="#28dbde" stroke="#28dbde"/>
<path d="M1044.1 1671.7l9.3 -1.4 7.5 -7.3 -9.3 1z" fill="#feb562" stroke="#feb562"/>
<path d="M791.2 1667.8l9 0.1 7.9 -3.2 -9 -0.2z" fill="#feb562" stroke="#feb562"/>
<path d="M931.3 1680.5l9.1 1.5 7.6 0.9 -9.1 -1.2z" fill="#f0c46c" stroke="#f0c46c"/>
<path d="M670.5 1717.4l8.8 -8 8.2 -5.6 -8.8 8.1z" fill="#d6db7e" stroke="#d6db7e"/>
<path d="M713.3 1688.9l8.9 -2.6 8.1 -5.3 -8.9 2.7z" fill="#ecc86f" stroke="#ecc86f"/>
<path d="M765.3 1672.5l9 -0.5 8 -4.1 -9 0.5z" fill="#fbb965" stroke="#fbb965"/>
<path d="M636.7 1756.3l8.6 -15.1 8.2 -6.7 -8.7 14.9z" fill="#b9ef92" stroke="#b9ef92"/>
<path d="M966.3 1684.3l9.2 0.4 7.5 -0.6 -9.2 -0.1z" fill="#f0c46c" stroke="#f0c46c"/>
<path d="M739.3 1679.2l9 -1.2 8 -4.6 -9 1.2z" fill="#f4c069" stroke="#f4c069"/>
<path d="M896.3 1673.3l9.1 2.2 7.7 1.2 -9.1 -2.2z" fill="#f6be68" stroke="#f6be68"/>
<path d="M653.5 1734.6l8.7 -11.2 8.2 -6.1 -8.7 11.1z" fill="#cbe486" stroke="#cbe486"/>
<path d="M826.2 1665.7l9.1 0.8 7.8 -1.8 -9 -1z" fill="#ffb360" stroke="#ffb360"/>
<path d="M861.3 1667.4l9.1 1.6 7.8 0 -9.1 -1.9z" fill="#feb562" stroke="#feb562"/>
<path d="M1027.4 1680.6l9.3 -1.9 7.5 -7 -9.3 1.6z" fill="#f9bb66" stroke="#f9bb66"/>
<path d="M1001.4 1684.4l9.2 -0.1 7.5 -3.1 -9.2 0.1z" fill="#f2c26b" stroke="#f2c26b"/>
<path d="M594.9 1821l8.4 -24.5 8.3 -7.2 -8.4 23.9z" fill="#86ffb0" stroke="#86ffb0"/>
<path d="M570.2 1874.4l8.1 -34 8.3 -10.2 -8.2 31.7z" fill="#5efac6" stroke="#5efac6"/>
<path d="M800.3 1667.9l9 0.3 7.9 -3.1 -9 -0.5z" fill="#ffb360" stroke="#ffb360"/>
<path d="M1053.4 1670.3l9.3 -0.5 7.4 -6.6 -9.3 -0.2z" fill="#ffb360" stroke="#ffb360"/>
<path d="M940.5 1681.9l9.2 1.1 7.6 0.7 -9.1 -0.9z" fill="#f2c26b" stroke="#f2c26b"/>
<path d="M696.3 1698.2l8.9 -3.6 8.1 -5.7 -8.9 3.9z" fill="#e8cb72" stroke="#e8cb72"/>
<path d="M905.4 1675.5l9.1 2.1 7.6 1.1 -9.1 -2z" fill="#f9bb66" stroke="#f9bb66"/>
<path d="M975.5 1684.8l9.2 0.2 7.5 -0.7 -9.2 -0.1z" fill="#f2c26b" stroke="#f2c26b"/>
<path d="M774.2 1672l9 -0.2 8 -4.1 -9 0.2z" fill="#feb562" stroke="#feb562"/>
<path d="M835.3 1666.6l9.1 1 7.8 -1.6 -9.1 -1.2z" fill="#ffb360" stroke="#ffb360"/>
<path d="M722.3 1686.3l9 -1.8 8.1 -5.4 -8.9 1.8z" fill="#f2c26b" stroke="#f2c26b"/>
<path d="M870.4 1669l9.1 1.8 7.7 0.3 -9.1 -2.1z" fill="#feb562" stroke="#feb562"/>
<path d="M748.2 1678l9 -0.8 8 -4.6 -9 0.9z" fill="#f9bb66" stroke="#f9bb66"/>
<path d="M537.5 1949l7.8 -40.3 8.3 -12.3 -7.9 39.9z" fill="#22d6e0" stroke="#22d6e0"/>
<path d="M679.3 1709.4l8.9 -5.5 8.2 -5.7 -8.9 5.6z" fill="#e0d377" stroke="#e0d377"/>
<path d="M611.6 1789.3l8.5 -19.3 8.3 -6.8 -8.5 19.3z" fill="#a2f9a0" stroke="#a2f9a0"/>
<path d="M1010.7 1684.3l9.3 -0.7 7.5 -2.9 -9.2 0.6z" fill="#f6be68" stroke="#f6be68"/>
<path d="M1036.7 1678.7l9.3 -1.9 7.5 -6.4 -9.3 1.4z" fill="#fcb763" stroke="#fcb763"/>
<path d="M809.3 1668.2l9.1 0.5 7.9 -3 -9 -0.7z" fill="#ffb05f" stroke="#ffb05f"/>
<path d="M949.6 1683.1l9.2 0.8 7.5 0.5 -9.2 -0.6z" fill="#f4c069" stroke="#f4c069"/>
<path d="M1062.7 1669.8l9.3 0.7 7.4 -6.1 -9.3 -1.2z" fill="#ffae5e" stroke="#ffae5e"/>
<path d="M914.5 1677.6l9.1 1.9 7.6 1 -9.1 -1.8z" fill="#f9bb66" stroke="#f9bb66"/>
<path d="M879.5 1670.8l9.1 2 7.7 0.5 -9.1 -2.2z" fill="#feb562" stroke="#feb562"/>
<path d="M662.3 1723.5l8.8 -8 8.2 -6.1 -8.8 8z" fill="#d9da7d" stroke="#d9da7d"/>
<path d="M984.7 1685l9.2 0 7.5 -0.5 -9.2 -0.1z" fill="#f4c069" stroke="#f4c069"/>
<path d="M844.4 1667.6l9.1 1.2 7.8 -1.3 -9.1 -1.4z" fill="#ffb05f" stroke="#ffb05f"/>
<path d="M783.3 1671.8l9 0.1 8 -4.1 -9 -0.1z" fill="#ffb360" stroke="#ffb360"/>
<path d="M628.4 1763.3l8.6 -15.1 8.3 -6.8 -8.6 15.1z" fill="#b9ef92" stroke="#b9ef92"/>
<path d="M705.2 1694.6l8.9 -2.3 8.1 -5.9 -8.9 2.6z" fill="#eec66d" stroke="#eec66d"/>
<path d="M645.3 1741.3l8.7 -11.3 8.2 -6.5 -8.7 11.2z" fill="#cbe486" stroke="#cbe486"/>
<path d="M757.2 1677.2l9 -0.4 8 -4.7 -9 0.5z" fill="#fcb763" stroke="#fcb763"/>
<path d="M731.2 1684.5l9 -1.2 8.1 -5.3 -9 1.2z" fill="#f6be68" stroke="#f6be68"/>
<path d="M561.9 1885.2l8.1 -35.3 8.3 -9.5 -8.1 34z" fill="#5af8c8" stroke="#5af8c8"/>
<path d="M586.6 1830.1l8.3 -25.7 8.3 -8 -8.4 24.5z" fill="#84ffb2" stroke="#84ffb2"/>
<path d="M1072 1670.5l9.3 2.1 7.4 -5.7 -9.2 -2.4z" fill="#ffae5e" stroke="#ffae5e"/>
<path d="M923.7 1679.5l9.2 1.6 7.6 0.8 -9.1 -1.5z" fill="#f9bb66" stroke="#f9bb66"/>
<path d="M818.3 1668.8l9.1 0.7 7.9 -2.9 -9.1 -0.8z" fill="#ffae5e" stroke="#ffae5e"/>
<path d="M958.8 1683.9l9.2 0.5 7.5 0.4 -9.2 -0.4z" fill="#f6be68" stroke="#f6be68"/>
<path d="M1019.9 1683.5l9.3 -1.6 7.4 -3.3 -9.3 1.9z" fill="#fbb965" stroke="#fbb965"/>
<path d="M529.2 1961.6l7.8 -40 8.3 -12.9 -7.8 40.3z" fill="#1dd1e2" stroke="#1dd1e2"/>
<path d="M1046 1676.8l9.3 -1.2 7.4 -5.7 -9.3 0.5z" fill="#ffb360" stroke="#ffb360"/>
<path d="M888.6 1672.8l9.1 2.2 7.7 0.5 -9.1 -2.2z" fill="#feb562" stroke="#feb562"/>
<path d="M853.5 1668.7l9.1 1.3 7.8 -1.1 -9.1 -1.6z" fill="#ffae5e" stroke="#ffae5e"/>
<path d="M688.1 1703.9l8.9 -3.6 8.2 -5.8 -8.9 3.6z" fill="#e8cb72" stroke="#e8cb72"/>
<path d="M994 1684.9l9.2 -0.4 7.5 -0.2 -9.2 0.1z" fill="#f9bb66" stroke="#f9bb66"/>
<path d="M792.3 1671.9l9.1 0.3 7.9 -4 -9 -0.3z" fill="#ffb05f" stroke="#ffb05f"/>
<path d="M714.1 1692.3l9 -1.8 8.1 -6 -9 1.8z" fill="#f2c26b" stroke="#f2c26b"/>
<path d="M766.2 1676.7l9 -0.1 8 -4.8 -9 0.2z" fill="#ffb360" stroke="#ffb360"/>
<path d="M1081.2 1672.6l9.2 3.4 7.3 -4.8 -9.2 -4.4z" fill="#ffae5e" stroke="#ffae5e"/>
<path d="M740.2 1683.3l9 -0.8 8.1 -5.3 -9 0.8z" fill="#fbb965" stroke="#fbb965"/>
<path d="M932.8 1681.1l9.2 1.3 7.6 0.7 -9.2 -1.1z" fill="#fbb965" stroke="#fbb965"/>
<path d="M827.4 1669.5l9.1 0.9 7.9 -2.8 -9.1 -1z" fill="#ffac5c" stroke="#ffac5c"/>
<path d="M603.3 1796.5l8.5 -19.6 8.3 -6.8 -8.5 19.3z" fill="#a2f9a0" stroke="#a2f9a0"/>
<path d="M671.1 1715.4l8.9 -5.5 8.2 -6.1 -8.9 5.5z" fill="#e2d176" stroke="#e2d176"/>
<path d="M897.7 1675l9.1 2.2 7.7 0.4 -9.1 -2.1z" fill="#ffb360" stroke="#ffb360"/>
<path d="M968 1684.3l9.2 0.1 7.5 0.5 -9.2 -0.2z" fill="#f9bb66" stroke="#f9bb66"/>
<path d="M862.6 1670.1l9.1 1.5 7.8 -0.8 -9.1 -1.8z" fill="#ffae5e" stroke="#ffae5e"/>
<path d="M1055.3 1675.6l9.3 -0.2 7.4 -4.9 -9.3 -0.7z" fill="#ffae5e" stroke="#ffae5e"/>
<path d="M1029.2 1682l9.3 -1.8 7.4 -3.4 -9.3 1.9z" fill="#feb562" stroke="#feb562"/>
<path d="M1090.5 1676l9.3 3.8 7.3 -4.1 -9.2 -4.5z" fill="#ffb05f" stroke="#ffb05f"/>
<path d="M801.3 1672.2l9.1 0.5 7.9 -4 -9.1 -0.5z" fill="#ffae5e" stroke="#ffae5e"/>
<path d="M553.6 1896.4l8 -36.2 8.4 -10.3 -8.1 35.3z" fill="#56f7ca" stroke="#56f7ca"/>
<path d="M1003.2 1684.5l9.3 -0.9 7.4 -0.1 -9.3 0.7z" fill="#fbb965" stroke="#fbb965"/>
<path d="M654 1730l8.8 -8.1 8.2 -6.5 -8.8 8z" fill="#d9da7d" stroke="#d9da7d"/>
<path d="M620.1 1770l8.6 -15.2 8.3 -6.7 -8.6 15.1z" fill="#b9ef92" stroke="#b9ef92"/>
<path d="M697.1 1700.3l8.9 -2.3 8.1 -5.8 -8.9 2.3z" fill="#eec66d" stroke="#eec66d"/>
<path d="M637.1 1748.1l8.7 -11.4 8.3 -6.7 -8.7 11.3z" fill="#cbe486" stroke="#cbe486"/>
<path d="M775.3 1676.6l9 0.1 8 -4.8 -9 -0.1z" fill="#ffb05f" stroke="#ffb05f"/>
<path d="M520.8 1973.4l7.8 -38.6 8.3 -13.1 -7.8 40z" fill="#17cbe4" stroke="#17cbe4"/>
<path d="M578.3 1840.4l8.3 -27.4 8.3 -8.6 -8.3 25.7z" fill="#82ffb3" stroke="#82ffb3"/>
<path d="M942 1682.4l9.2 0.9 7.6 0.6 -9.2 -0.8z" fill="#fcb763" stroke="#fcb763"/>
<path d="M723.1 1690.5l9 -1.2 8.1 -5.9 -9 1.2z" fill="#f9bb66" stroke="#f9bb66"/>
<path d="M749.2 1682.5l9 -0.4 8 -5.4 -9 0.4z" fill="#feb562" stroke="#feb562"/>
<path d="M906.9 1677.2l9.2 2 7.7 0.3 -9.1 -1.9z" fill="#ffb360" stroke="#ffb360"/>
<path d="M836.5 1670.3l9.1 1 7.9 -2.6 -9.1 -1.2z" fill="#ffac5c" stroke="#ffac5c"/>
<path d="M871.7 1671.6l9.1 1.9 7.8 -0.7 -9.1 -2z" fill="#ffac5c" stroke="#ffac5c"/>
<path d="M977.2 1684.4l9.2 -0.2 7.5 0.7 -9.2 0z" fill="#fcb763" stroke="#fcb763"/>
<path d="M1099.7 1679.9l9.3 2.4 7.3 -3.8 -9.3 -2.8z" fill="#ffb360" stroke="#ffb360"/>
<path d="M1064.6 1675.4l9.3 0.9 7.4 -3.7 -9.3 -2.1z" fill="#ffac5c" stroke="#ffac5c"/>
<path d="M810.4 1672.8l9.1 0.7 7.9 -4 -9.1 -0.7z" fill="#ffac5c" stroke="#ffac5c"/>
<path d="M1038.5 1680.1l9.3 -1.5 7.4 -3 -9.3 1.2z" fill="#ffb05f" stroke="#ffb05f"/>
<path d="M680 1710l8.9 -3.5 8.2 -6.1 -8.9 3.6z" fill="#e8cb72" stroke="#e8cb72"/>
<path d="M1012.5 1683.6l9.3 -1.4 7.4 -0.3 -9.3 1.6z" fill="#feb562" stroke="#feb562"/>
<path d="M784.3 1676.7l9.1 0.4 8 -4.8 -9.1 -0.3z" fill="#ffae5e" stroke="#ffae5e"/>
<path d="M916 1679.2l9.2 1.7 7.7 0.3 -9.2 -1.6z" fill="#ffb360" stroke="#ffb360"/>
<path d="M951.2 1683.2l9.2 0.4 7.6 0.7 -9.2 -0.5z" fill="#feb562" stroke="#feb562"/>
<path d="M845.6 1671.4l9.1 1.2 7.8 -2.5 -9.1 -1.3z" fill="#ffa95b" stroke="#ffa95b"/>
<path d="M706 1698l9 -1.5 8.1 -6 -9 1.8z" fill="#f4c069" stroke="#f4c069"/>
<path d="M880.8 1673.5l9.1 2.2 7.8 -0.6 -9.1 -2.2z" fill="#ffac5c" stroke="#ffac5c"/>
<path d="M758.2 1682.1l9 -0.1 8 -5.4 -9 0.1z" fill="#ffb360" stroke="#ffb360"/>
<path d="M732.1 1689.3l9 -0.8 8.1 -5.9 -9 0.8z" fill="#fcb763" stroke="#fcb763"/>
<path d="M1109 1682.3l9.4 0.8 7.3 -3.5 -9.3 -1.1z" fill="#ffb05f" stroke="#ffb05f"/>
<path d="M595 1804.5l8.5 -20.3 8.3 -7.3 -8.5 19.6z" fill="#a0faa1" stroke="#a0faa1"/>
<path d="M1073.9 1676.3l9.3 1.8 7.3 -2.1 -9.2 -3.4z" fill="#ffac5c" stroke="#ffac5c"/>
<path d="M986.5 1684.2l9.3 -0.6 7.5 1 -9.2 0.4z" fill="#feb562" stroke="#feb562"/>
<path d="M662.9 1721.9l8.9 -5.4 8.2 -6.5 -8.9 5.5z" fill="#e2d176" stroke="#e2d176"/>
<path d="M545.3 1908.7l8 -37.1 8.4 -11.3 -8 36.2z" fill="#50f4cc" stroke="#50f4cc"/>
<path d="M512.5 1985.5l7.8 -37.1 8.3 -13.7 -7.8 38.6z" fill="#10c6e6" stroke="#10c6e6"/>
<path d="M819.5 1673.4l9.1 0.8 7.9 -3.9 -9.1 -0.9z" fill="#ffa95b" stroke="#ffa95b"/>
<path d="M1047.8 1678.6l9.3 -0.9 7.4 -2.3 -9.3 0.2z" fill="#ffac5c" stroke="#ffac5c"/>
<path d="M645.8 1736.7l8.8 -8.2 8.3 -6.6 -8.8 8.1z" fill="#d9da7d" stroke="#d9da7d"/>
<path d="M611.8 1776.9l8.6 -15.4 8.3 -6.7 -8.6 15.2z" fill="#b9ef92" stroke="#b9ef92"/>
<path d="M925.2 1680.9l9.2 1.3 7.6 0.2 -9.2 -1.3z" fill="#ffb05f" stroke="#ffb05f"/>
<path d="M570 1849.9l8.3 -28.2 8.4 -8.7 -8.3 27.4z" fill="#80ffb4" stroke="#80ffb4"/>
<path d="M793.4 1677.1l9.1 0.6 8 -4.9 -9.1 -0.5z" fill="#ffac5c" stroke="#ffac5c"/>
<path d="M890 1675.7l9.2 2.1 7.7 -0.6 -9.1 -2.2z" fill="#ffac5c" stroke="#ffac5c"/>
<path d="M854.7 1672.6l9.1 1.5 7.8 -2.5 -9.1 -1.5z" fill="#ffa759" stroke="#ffa759"/>
<path d="M688.9 1706.4l9 -2.1 8.2 -6.3 -8.9 2.3z" fill="#eec66d" stroke="#eec66d"/>
<path d="M628.8 1754.8l8.7 -11.5 8.3 -6.6 -8.7 11.4z" fill="#cbe486" stroke="#cbe486"/>
<path d="M960.4 1683.7l9.2 0 7.5 0.8 -9.2 -0.1z" fill="#ffb360" stroke="#ffb360"/>
<path d="M1021.8 1682.3l9.3 -1.6 7.4 -0.5 -9.3 1.8z" fill="#ffb05f" stroke="#ffb05f"/>
<path d="M1083.2 1678.1l9.3 2 7.3 -0.2 -9.3 -3.8z" fill="#ffac5c" stroke="#ffac5c"/>
<path d="M1118.4 1683.1l9.4 1.3 7.2 -2.3 -9.3 -2.5z" fill="#ffb05f" stroke="#ffb05f"/>
<path d="M767.2 1682l9.1 0.2 8 -5.5 -9 -0.1z" fill="#ffae5e" stroke="#ffae5e"/>
<path d="M715 1696.5l9 -1 8.1 -6.3 -9 1.2z" fill="#f9bb66" stroke="#f9bb66"/>
<path d="M741.1 1688.5l9 -0.4 8.1 -6 -9 0.4z" fill="#feb562" stroke="#feb562"/>
<path d="M995.7 1683.6l9.3 -1 7.5 1.1 -9.3 0.9z" fill="#ffb05f" stroke="#ffb05f"/>
<path d="M828.6 1674.3l9.1 1 7.9 -3.9 -9.1 -1z" fill="#ffa759" stroke="#ffa759"/>
<path d="M899.1 1677.8l9.2 2 7.7 -0.6 -9.2 -2z" fill="#ffac5c" stroke="#ffac5c"/>
<path d="M934.4 1682.2l9.2 0.9 7.6 0.2 -9.2 -0.9z" fill="#ffae5e" stroke="#ffae5e"/>
<path d="M671.7 1716.5l8.9 -3.4 8.2 -6.6 -8.9 3.5z" fill="#ebca70" stroke="#ebca70"/>
<path d="M863.9 1674.1l9.1 1.7 7.8 -2.3 -9.1 -1.9z" fill="#ffa759" stroke="#ffa759"/>
<path d="M1057.2 1677.7l9.3 -0.2 7.4 -1.2 -9.3 -0.9z" fill="#ffa95b" stroke="#ffa95b"/>
<path d="M1092.5 1680.1l9.3 1.6 7.2 0.6 -9.3 -2.4z" fill="#ffac5c" stroke="#ffac5c"/>
<path d="M1127.7 1684.4l9.3 2.5 7.2 -1.2 -9.3 -3.6z" fill="#ffb05f" stroke="#ffb05f"/>
<path d="M802.4 1677.6l9.1 0.7 8 -4.9 -9.1 -0.7z" fill="#ffa95b" stroke="#ffa95b"/>
<path d="M537 1921.6l7.9 -37.1 8.3 -12.9 -8 37.1z" fill="#4af2cf" stroke="#4af2cf"/>
<path d="M969.7 1683.7l9.3 -0.4 7.5 1 -9.2 0.2z" fill="#ffb05f" stroke="#ffb05f"/>
<path d="M504 1996l7.9 -34.9 8.4 -12.7 -7.8 37.1z" fill="#0ac0e8" stroke="#0ac0e8"/>
<path d="M776.3 1682.2l9.1 0.4 8 -5.5 -9.1 -0.4z" fill="#ffac5c" stroke="#ffac5c"/>
<path d="M697.8 1704.3l9 -1.3 8.2 -6.5 -9 1.5z" fill="#f4c069" stroke="#f4c069"/>
<path d="M1031.1 1680.6l9.3 -1.6 7.4 -0.5 -9.3 1.5z" fill="#ffa95b" stroke="#ffa95b"/>
<path d="M586.6 1813l8.5 -21.3 8.4 -7.6 -8.5 20.3z" fill="#a0faa1" stroke="#a0faa1"/>
<path d="M750.1 1688.1l9 -0.1 8.1 -6 -9 0.1z" fill="#ffb05f" stroke="#ffb05f"/>
<path d="M724 1695.5l9 -0.6 8.1 -6.4 -9 0.8z" fill="#fcb763" stroke="#fcb763"/>
<path d="M837.7 1675.2l9.1 1.2 7.9 -3.8 -9.1 -1.2z" fill="#ffa558" stroke="#ffa558"/>
<path d="M654.6 1728.5l8.9 -5.4 8.2 -6.7 -8.9 5.4z" fill="#e2d176" stroke="#e2d176"/>
<path d="M1005 1682.6l9.3 -1.4 7.4 1.1 -9.3 1.4z" fill="#ffac5c" stroke="#ffac5c"/>
<path d="M1137.1 1686.9l9.3 3.5 7.1 -0.4 -9.3 -4.3z" fill="#ffb05f" stroke="#ffb05f"/>
<path d="M908.3 1679.8l9.2 1.7 7.7 -0.6 -9.2 -1.7z" fill="#ffa95b" stroke="#ffa95b"/>
<path d="M873 1675.8l9.2 1.9 7.8 -2.1 -9.1 -2.2z" fill="#ffa558" stroke="#ffa558"/>
<path d="M1101.8 1681.7l9.4 1.2 7.2 0.2 -9.4 -0.8z" fill="#ffac5c" stroke="#ffac5c"/>
<path d="M561.6 1860.2l8.2 -28.9 8.4 -9.6 -8.3 28.2z" fill="#7dffb6" stroke="#7dffb6"/>
<path d="M943.6 1683.1l9.2 0.4 7.6 0.2 -9.2 -0.4z" fill="#ffac5c" stroke="#ffac5c"/>
<path d="M1066.5 1677.5l9.3 0.4 7.3 0.1 -9.3 -1.8z" fill="#ffa759" stroke="#ffa759"/>
<path d="M811.5 1678.3l9.1 0.8 7.9 -4.9 -9.1 -0.8z" fill="#ffa759" stroke="#ffa759"/>
<path d="M603.5 1784.1l8.6 -15.8 8.3 -6.9 -8.6 15.4z" fill="#b9ef92" stroke="#b9ef92"/>
<path d="M637.5 1743.3l8.8 -8.2 8.3 -6.6 -8.8 8.2z" fill="#d6db7e" stroke="#d6db7e"/>
<path d="M680.7 1713.1l9 -1.9 8.2 -6.9 -9 2.1z" fill="#eec66d" stroke="#eec66d"/>
<path d="M620.4 1761.5l8.7 -11.6 8.3 -6.6 -8.7 11.5z" fill="#cbe486" stroke="#cbe486"/>
<path d="M978.9 1683.2l9.3 -0.8 7.5 1.1 -9.3 0.6z" fill="#ffac5c" stroke="#ffac5c"/>
<path d="M785.4 1682.6l9.1 0.6 8 -5.5 -9.1 -0.6z" fill="#ffa95b" stroke="#ffa95b"/>
<path d="M1146.4 1690.4l9.3 4.4 7.1 0.3 -9.3 -5.1z" fill="#ffb360" stroke="#ffb360"/>
<path d="M706.8 1703l9 -0.8 8.1 -6.7 -9 1z" fill="#f9bb66" stroke="#f9bb66"/>
<path d="M759.2 1688l9.1 0.2 8.1 -6 -9.1 -0.2z" fill="#ffae5e" stroke="#ffae5e"/>
<path d="M846.8 1676.4l9.1 1.4 7.9 -3.7 -9.1 -1.5z" fill="#ffa256" stroke="#ffa256"/>
<path d="M1040.4 1679l9.4 -1.3 7.4 -0.1 -9.3 0.9z" fill="#ffa558" stroke="#ffa558"/>
<path d="M733 1694.9l9 -0.3 8.1 -6.5 -9 0.4z" fill="#feb562" stroke="#feb562"/>
<path d="M882.2 1677.7l9.2 1.9 7.8 -1.9 -9.2 -2.1z" fill="#ffa558" stroke="#ffa558"/>
<path d="M917.5 1681.5l9.2 1.3 7.7 -0.6 -9.2 -1.3z" fill="#ffa95b" stroke="#ffa95b"/>
<path d="M528.7 1934.7l7.9 -36.7 8.4 -13.5 -7.9 37.1z" fill="#44eed2" stroke="#44eed2"/>
<path d="M1111.2 1682.9l9.4 1.3 7.2 0.2 -9.4 -1.3z" fill="#ffa95b" stroke="#ffa95b"/>
<path d="M1075.9 1678l9.4 0.8 7.3 1.4 -9.3 -2z" fill="#ffa558" stroke="#ffa558"/>
<path d="M1014.3 1681.2l9.3 -1.6 7.4 1 -9.3 1.6z" fill="#ffa759" stroke="#ffa759"/>
<path d="M952.8 1683.5l9.3 -0.1 7.6 0.3 -9.2 0z" fill="#ffa95b" stroke="#ffa95b"/>
<path d="M1155.7 1694.9l9.3 5 7 1.5 -9.3 -6.2z" fill="#fcb763" stroke="#fcb763"/>
<path d="M820.7 1679.2l9.1 0.9 7.9 -4.9 -9.1 -1z" fill="#ffa558" stroke="#ffa558"/>
<path d="M495.6 2006.2l7.9 -32.1 8.4 -13 -7.9 34.9z" fill="#04b9ea" stroke="#04b9ea"/>
<path d="M663.5 1723.1l8.9 -3.2 8.2 -6.8 -8.9 3.4z" fill="#e8cb72" stroke="#e8cb72"/>
<path d="M794.4 1683.1l9.1 0.7 8 -5.5 -9.1 -0.7z" fill="#ffa759" stroke="#ffa759"/>
<path d="M578.3 1821.7l8.5 -21.9 8.4 -8.1 -8.5 21.3z" fill="#9efaa2" stroke="#9efaa2"/>
<path d="M856 1677.8l9.2 1.5 7.9 -3.5 -9.1 -1.7z" fill="#ffa256" stroke="#ffa256"/>
<path d="M988.2 1682.4l9.3 -1.2 7.5 1.3 -9.3 1z" fill="#ffa759" stroke="#ffa759"/>
<path d="M689.6 1711.2l9 -1 8.2 -7.2 -9 1.3z" fill="#f4c069" stroke="#f4c069"/>
<path d="M1165 1699.8l9.3 4.8 7 1.7 -9.3 -5z" fill="#fbb965" stroke="#fbb965"/>
<path d="M768.2 1688.2l9.1 0.4 8 -6 -9.1 -0.4z" fill="#ffac5c" stroke="#ffac5c"/>
<path d="M891.3 1679.7l9.2 1.8 7.8 -1.7 -9.2 -2z" fill="#ffa558" stroke="#ffa558"/>
<path d="M715.8 1702.2l9 -0.5 8.1 -6.9 -9 0.6z" fill="#fcb763" stroke="#fcb763"/>
<path d="M742 1694.6l9.1 0 8.1 -6.5 -9 0.1z" fill="#ffb05f" stroke="#ffb05f"/>
<path d="M926.7 1682.8l9.2 0.9 7.7 -0.6 -9.2 -0.9z" fill="#ffa759" stroke="#ffa759"/>
<path d="M1049.8 1677.8l9.4 -0.8 7.3 0.6 -9.3 0.2z" fill="#ffa055" stroke="#ffa055"/>
<path d="M553.3 1871.6l8.2 -29.2 8.4 -11.1 -8.2 28.9z" fill="#78ffb8" stroke="#78ffb8"/>
<path d="M1120.5 1684.2l9.4 2 7.2 0.6 -9.3 -2.5z" fill="#ffa95b" stroke="#ffa95b"/>
<path d="M646.3 1735.1l8.9 -5.4 8.3 -6.6 -8.9 5.4z" fill="#e2d176" stroke="#e2d176"/>
<path d="M1085.2 1678.7l9.4 0.9 7.2 2.1 -9.3 -1.6z" fill="#ffa256" stroke="#ffa256"/>
<path d="M829.8 1680.1l9.1 1.1 7.9 -4.7 -9.1 -1.2z" fill="#ffa256" stroke="#ffa256"/>
<path d="M962.1 1683.4l9.3 -0.5 7.6 0.4 -9.3 0.4z" fill="#ffa759" stroke="#ffa759"/>
<path d="M1023.7 1679.6l9.4 -1.6 7.4 1 -9.3 1.6z" fill="#ffa256" stroke="#ffa256"/>
<path d="M1174.3 1704.6l9.3 4.4 7 1.6 -9.3 -4.3z" fill="#f9bb66" stroke="#f9bb66"/>
<path d="M595.1 1791.7l8.6 -16.2 8.4 -7.2 -8.6 15.8z" fill="#b6f193" stroke="#b6f193"/>
<path d="M520.3 1948.5l7.9 -35.9 8.4 -14.5 -7.9 36.7z" fill="#3dead5" stroke="#3dead5"/>
<path d="M629.2 1749.9l8.8 -8.2 8.3 -6.6 -8.8 8.2z" fill="#d6db7e" stroke="#d6db7e"/>
<path d="M803.6 1683.8l9.1 0.8 8 -5.5 -9.1 -0.8z" fill="#ffa558" stroke="#ffa558"/>
<path d="M865.1 1679.3l9.2 1.7 7.8 -3.3 -9.2 -1.9z" fill="#ffa256" stroke="#ffa256"/>
<path d="M672.4 1719.9l9 -1.6 8.2 -7.1 -9 1.9z" fill="#eec66d" stroke="#eec66d"/>
<path d="M612.1 1768.3l8.7 -11.7 8.4 -6.7 -8.7 11.6z" fill="#c8e688" stroke="#c8e688"/>
<path d="M900.5 1681.5l9.2 1.6 7.7 -1.6 -9.2 -1.7z" fill="#ffa558" stroke="#ffa558"/>
<path d="M1129.9 1686.3l9.4 2.9 7.1 1.3 -9.3 -3.5z" fill="#ffa95b" stroke="#ffa95b"/>
<path d="M777.3 1688.6l9.1 0.5 8 -6 -9.1 -0.6z" fill="#ffa95b" stroke="#ffa95b"/>
<path d="M698.6 1710.2l9 -0.6 8.2 -7.3 -9 0.8z" fill="#f9bb66" stroke="#f9bb66"/>
<path d="M997.5 1681.3l9.3 -1.4 7.5 1.3 -9.3 1.4z" fill="#ffa256" stroke="#ffa256"/>
<path d="M935.9 1683.7l9.2 0.4 7.7 -0.6 -9.2 -0.4z" fill="#ffa558" stroke="#ffa558"/>
<path d="M751.1 1694.5l9.1 0.2 8.1 -6.5 -9.1 -0.2z" fill="#ffae5e" stroke="#ffae5e"/>
<path d="M487.1 2016.9l8 -29.1 8.4 -13.7 -7.9 32.1z" fill="#01b3ec" stroke="#01b3ec"/>
<path d="M724.8 1701.8l9 -0.2 8.1 -7 -9 0.3z" fill="#feb562" stroke="#feb562"/>
<path d="M1059.2 1676.9l9.4 -0.4 7.3 1.4 -9.3 -0.4z" fill="#ff9d53" stroke="#ff9d53"/>
<path d="M1094.6 1679.6l9.4 1 7.2 2.3 -9.4 -1.2z" fill="#ffa256" stroke="#ffa256"/>
<path d="M1183.7 1709.1l9.4 4.4 7 1.4 -9.3 -4.3z" fill="#f6be68" stroke="#f6be68"/>
<path d="M838.9 1681.2l9.2 1.2 7.9 -4.6 -9.1 -1.4z" fill="#ffa055" stroke="#ffa055"/>
<path d="M971.4 1682.8l9.3 -0.9 7.6 0.5 -9.3 0.8z" fill="#ffa256" stroke="#ffa256"/>
<path d="M874.3 1681l9.2 1.7 7.8 -3 -9.2 -1.9z" fill="#ffa055" stroke="#ffa055"/>
<path d="M1139.3 1689.1l9.4 3.7 7.1 2.1 -9.3 -4.4z" fill="#ffa95b" stroke="#ffa95b"/>
<path d="M655.2 1729.8l8.9 -3.1 8.3 -6.7 -8.9 3.2z" fill="#e8cb72" stroke="#e8cb72"/>
<path d="M812.7 1684.7l9.1 0.9 8 -5.4 -9.1 -0.9z" fill="#ffa256" stroke="#ffa256"/>
<path d="M1033 1678l9.4 -1.4 7.4 1.2 -9.4 1.3z" fill="#ff9d53" stroke="#ff9d53"/>
<path d="M569.9 1831.3l8.4 -22.1 8.4 -9.4 -8.5 21.9z" fill="#9bfba5" stroke="#9bfba5"/>
<path d="M909.7 1683.1l9.2 1.3 7.7 -1.5 -9.2 -1.3z" fill="#ffa256" stroke="#ffa256"/>
<path d="M544.9 1884.5l8.2 -29.7 8.4 -12.3 -8.2 29.2z" fill="#72febb" stroke="#72febb"/>
<path d="M1193 1713.5l9.4 4.7 7 1.4 -9.3 -4.7z" fill="#f2c26b" stroke="#f2c26b"/>
<path d="M786.4 1689.1l9.1 0.7 8 -5.9 -9.1 -0.7z" fill="#ffa759" stroke="#ffa759"/>
<path d="M681.4 1718.3l9 -0.6 8.2 -7.5 -9 1z" fill="#f2c26b" stroke="#f2c26b"/>
<path d="M945.2 1684.1l9.3 -0.1 7.6 -0.6 -9.3 0.1z" fill="#ffa256" stroke="#ffa256"/>
<path d="M1104 1680.6l9.4 1.3 7.2 2.3 -9.4 -1.3z" fill="#ffa055" stroke="#ffa055"/>
<path d="M760.2 1694.7l9.1 0.4 8.1 -6.5 -9.1 -0.4z" fill="#ffac5c" stroke="#ffac5c"/>
<path d="M707.6 1709.6l9 -0.4 8.2 -7.4 -9 0.5z" fill="#fbb965" stroke="#fbb965"/>
<path d="M511.9 1961.1l8 -34 8.4 -14.6 -7.9 35.9z" fill="#34e4d9" stroke="#34e4d9"/>
<path d="M1068.6 1676.5l9.4 0 7.3 2.2 -9.4 -0.8z" fill="#ff9b52" stroke="#ff9b52"/>
<path d="M733.9 1701.5l9.1 0 8.1 -7 -9.1 0z" fill="#ffb05f" stroke="#ffb05f"/>
<path d="M1006.9 1679.8l9.4 -1.6 7.5 1.4 -9.3 1.6z" fill="#ff9d53" stroke="#ff9d53"/>
<path d="M848.1 1682.4l9.2 1.3 7.9 -4.4 -9.2 -1.5z" fill="#ffa055" stroke="#ffa055"/>
<path d="M1148.6 1692.8l9.3 4.2 7 2.8 -9.3 -5z" fill="#ffac5c" stroke="#ffac5c"/>
<path d="M638 1741.7l8.9 -5.3 8.3 -6.7 -8.9 5.4z" fill="#e0d377" stroke="#e0d377"/>
<path d="M1202.4 1718.2l9.4 5 6.9 1.4 -9.3 -5z" fill="#f0c46c" stroke="#f0c46c"/>
<path d="M883.5 1682.7l9.2 1.6 7.8 -2.8 -9.2 -1.8z" fill="#ffa055" stroke="#ffa055"/>
<path d="M821.8 1685.5l9.2 1 8 -5.3 -9.1 -1.1z" fill="#ffa055" stroke="#ffa055"/>
<path d="M586.7 1799.8l8.6 -16.4 8.4 -7.9 -8.6 16.2z" fill="#b6f193" stroke="#b6f193"/>
<path d="M980.7 1681.9l9.3 -1.3 7.5 0.6 -9.3 1.2z" fill="#ff9d53" stroke="#ff9d53"/>
<path d="M919 1684.4l9.2 0.9 7.7 -1.5 -9.2 -0.9z" fill="#ffa055" stroke="#ffa055"/>
<path d="M478.6 2028l8.1 -26.2 8.4 -14 -8 29.1z" fill="#08acee" stroke="#08acee"/>
<path d="M620.8 1756.6l8.8 -8.2 8.3 -6.7 -8.8 8.2z" fill="#d6db7e" stroke="#d6db7e"/>
<path d="M1042.4 1676.6l9.4 -1.1 7.4 1.4 -9.4 0.8z" fill="#ff9850" stroke="#ff9850"/>
<path d="M1158 1697l9.4 4.4 7 3.2 -9.3 -4.8z" fill="#ffae5e" stroke="#ffae5e"/>
<path d="M664.2 1726.6l9 -1.5 8.3 -6.9 -9 1.6z" fill="#eec66d" stroke="#eec66d"/>
<path d="M795.5 1689.8l9.1 0.7 8 -5.9 -9.1 -0.8z" fill="#ffa558" stroke="#ffa558"/>
<path d="M603.7 1775.5l8.7 -11.8 8.4 -7 -8.7 11.7z" fill="#c8e688" stroke="#c8e688"/>
<path d="M1113.4 1681.9l9.4 1.8 7.2 2.5 -9.4 -2z" fill="#ff9d53" stroke="#ff9d53"/>
<path d="M1211.8 1723.2l9.4 5.3 6.9 1.4 -9.3 -5.3z" fill="#eec66d" stroke="#eec66d"/>
<path d="M690.4 1717.7l9 -0.5 8.2 -7.6 -9 0.6z" fill="#f6be68" stroke="#f6be68"/>
<path d="M857.3 1683.7l9.2 1.4 7.9 -4.2 -9.2 -1.7z" fill="#ff9d53" stroke="#ff9d53"/>
<path d="M769.3 1695l9.1 0.5 8.1 -6.4 -9.1 -0.5z" fill="#ffa95b" stroke="#ffa95b"/>
<path d="M954.4 1684l9.3 -0.5 7.6 -0.6 -9.3 0.5z" fill="#ff9d53" stroke="#ff9d53"/>
<path d="M1077.9 1676.5l9.4 0.3 7.2 2.8 -9.4 -0.9z" fill="#ff9850" stroke="#ff9850"/>
<path d="M716.7 1709.2l9.1 -0.2 8.2 -7.4 -9 0.2z" fill="#feb562" stroke="#feb562"/>
<path d="M743 1701.5l9.1 0.1 8.1 -6.9 -9.1 -0.2z" fill="#ffae5e" stroke="#ffae5e"/>
<path d="M536.6 1898l8.2 -29.9 8.4 -13.4 -8.2 29.7z" fill="#6dfdbf" stroke="#6dfdbf"/>
<path d="M892.7 1684.3l9.2 1.4 7.8 -2.6 -9.2 -1.6z" fill="#ff9d53" stroke="#ff9d53"/>
<path d="M1016.2 1678.2l9.4 -1.6 7.4 1.4 -9.4 1.6z" fill="#ff9850" stroke="#ff9850"/>
<path d="M1167.3 1701.4l9.4 4.5 7 3.1 -9.3 -4.4z" fill="#ffb360" stroke="#ffb360"/>
<path d="M1221.1 1728.6l9.4 5.5 6.9 1.4 -9.3 -5.5z" fill="#ebca70" stroke="#ebca70"/>
<path d="M561.5 1842.4l8.4 -22.1 8.4 -11.1 -8.4 22.1z" fill="#96fca7" stroke="#96fca7"/>
<path d="M831 1686.5l9.2 1.1 7.9 -5.2 -9.2 -1.2z" fill="#ffa055" stroke="#ffa055"/>
<path d="M503.5 1974.1l8 -31 8.4 -15.9 -8 34z" fill="#2ddedc" stroke="#2ddedc"/>
<path d="M928.2 1685.2l9.3 0.4 7.7 -1.6 -9.2 -0.4z" fill="#ff9d53" stroke="#ff9d53"/>
<path d="M646.9 1736.4l9 -3 8.3 -6.8 -8.9 3.1z" fill="#e8cb72" stroke="#e8cb72"/>
<path d="M1122.8 1683.8l9.4 2.5 7.1 2.8 -9.4 -2.9z" fill="#ff9d53" stroke="#ff9d53"/>
<path d="M990 1680.7l9.4 -1.5 7.5 0.7 -9.3 1.4z" fill="#ff9850" stroke="#ff9850"/>
<path d="M804.7 1690.5l9.1 0.8 8 -5.8 -9.1 -0.9z" fill="#ffa256" stroke="#ffa256"/>
<path d="M1051.8 1675.5l9.4 -0.8 7.3 1.8 -9.4 0.4z" fill="#ff934d" stroke="#ff934d"/>
<path d="M866.4 1685.2l9.2 1.5 7.9 -3.9 -9.2 -1.7z" fill="#ff9d53" stroke="#ff9d53"/>
<path d="M673.1 1725.2l9 -0.5 8.2 -7 -9 0.6z" fill="#f2c26b" stroke="#f2c26b"/>
<path d="M1230.5 1734.1l9.4 5.5 6.9 1.2 -9.4 -5.3z" fill="#e8cb72" stroke="#e8cb72"/>
<path d="M778.4 1695.5l9.1 0.6 8 -6.4 -9.1 -0.7z" fill="#ffa558" stroke="#ffa558"/>
<path d="M1087.3 1676.8l9.4 0.8 7.2 3 -9.4 -1z" fill="#ff964f" stroke="#ff964f"/>
<path d="M1176.7 1705.9l9.4 4.6 7 3 -9.4 -4.4z" fill="#feb562" stroke="#feb562"/>
<path d="M699.4 1717.2l9 -0.3 8.2 -7.7 -9 0.4z" fill="#fbb965" stroke="#fbb965"/>
<path d="M752 1701.6l9.1 0.3 8.1 -6.9 -9.1 -0.4z" fill="#ffac5c" stroke="#ffac5c"/>
<path d="M725.7 1708.9l9.1 -0.1 8.1 -7.4 -9.1 0z" fill="#ffb360" stroke="#ffb360"/>
<path d="M963.7 1683.5l9.3 -0.9 7.6 -0.6 -9.3 0.9z" fill="#ff9b52" stroke="#ff9b52"/>
<path d="M901.9 1685.7l9.2 1.2 7.8 -2.5 -9.2 -1.3z" fill="#ff9d53" stroke="#ff9d53"/>
<path d="M470 2039l8.1 -23.7 8.5 -13.4 -8.1 26.2z" fill="#0ea5ef" stroke="#0ea5ef"/>
<path d="M629.7 1748.4l8.9 -5.1 8.3 -6.9 -8.9 5.3z" fill="#e0d377" stroke="#e0d377"/>
<path d="M840.1 1687.6l9.2 1.2 7.9 -5 -9.2 -1.3z" fill="#ff9d53" stroke="#ff9d53"/>
<path d="M1025.6 1676.7l9.4 -1.4 7.4 1.3 -9.4 1.4z" fill="#ff914c" stroke="#ff914c"/>
<path d="M1132.1 1686.3l9.4 3.2 7.1 3.3 -9.4 -3.7z" fill="#ffa055" stroke="#ffa055"/>
<path d="M578.3 1809.2l8.6 -16.5 8.4 -9.4 -8.6 16.4z" fill="#b2f396" stroke="#b2f396"/>
<path d="M1239.8 1739.6l9.4 5.3 6.9 1 -9.4 -5.1z" fill="#e4cf74" stroke="#e4cf74"/>
<path d="M937.5 1685.7l9.3 0 7.7 -1.7 -9.3 0.1z" fill="#ff9b52" stroke="#ff9b52"/>
<path d="M1186.1 1710.5l9.4 4.8 7 2.9 -9.4 -4.7z" fill="#fcb763" stroke="#fcb763"/>
<path d="M528.2 1912.5l8.2 -29.7 8.4 -14.7 -8.2 29.9z" fill="#64fbc3" stroke="#64fbc3"/>
<path d="M813.8 1691.3l9.2 0.9 8 -5.7 -9.2 -1z" fill="#ffa055" stroke="#ffa055"/>
<path d="M612.5 1763.6l8.8 -8.1 8.4 -7.1 -8.8 8.2z" fill="#d6db7e" stroke="#d6db7e"/>
<path d="M875.6 1686.6l9.2 1.4 7.8 -3.7 -9.2 -1.6z" fill="#ff9b52" stroke="#ff9b52"/>
<path d="M595.3 1783.4l8.7 -11.9 8.4 -7.9 -8.7 11.8z" fill="#c8e688" stroke="#c8e688"/>
<path d="M495.1 1987.8l8.1 -27.8 8.4 -17 -8 31z" fill="#22d6e0" stroke="#22d6e0"/>
<path d="M655.9 1733.5l9 -1.2 8.3 -7.1 -9 1.5z" fill="#eec66d" stroke="#eec66d"/>
<path d="M999.3 1679.1l9.4 -1.7 7.5 0.8 -9.4 1.6z" fill="#ff934d" stroke="#ff934d"/>
<path d="M1061.2 1674.7l9.4 -0.4 7.3 2.2 -9.4 0z" fill="#ff8e4a" stroke="#ff8e4a"/>
<path d="M1096.7 1677.6l9.4 1.2 7.2 3.1 -9.4 -1.3z" fill="#ff934d" stroke="#ff934d"/>
<path d="M787.5 1696.1l9.1 0.7 8 -6.3 -9.1 -0.7z" fill="#ffa256" stroke="#ffa256"/>
<path d="M682.2 1724.7l9 -0.1 8.2 -7.4 -9 0.5z" fill="#f6be68" stroke="#f6be68"/>
<path d="M708.5 1716.9l9.1 -0.2 8.2 -7.8 -9.1 0.2z" fill="#fcb763" stroke="#fcb763"/>
<path d="M553.1 1854.7l8.4 -22.1 8.4 -12.3 -8.4 22.1z" fill="#92fda9" stroke="#92fda9"/>
<path d="M761.2 1701.9l9.1 0.4 8.1 -6.8 -9.1 -0.5z" fill="#ffa95b" stroke="#ffa95b"/>
<path d="M1249.2 1744.8l9.4 4.9 6.9 0.8 -9.4 -4.7z" fill="#e2d176" stroke="#e2d176"/>
<path d="M911.2 1686.9l9.3 0.8 7.8 -2.5 -9.2 -0.9z" fill="#ff9b52" stroke="#ff9b52"/>
<path d="M1141.5 1689.5l9.4 3.8 7.1 3.6 -9.3 -4.2z" fill="#ffa055" stroke="#ffa055"/>
<path d="M734.8 1708.9l9.1 0.1 8.1 -7.3 -9.1 -0.1z" fill="#ffae5e" stroke="#ffae5e"/>
<path d="M1195.4 1715.3l9.4 5.1 6.9 2.8 -9.4 -5z" fill="#fbb965" stroke="#fbb965"/>
<path d="M973 1682.5l9.3 -1.3 7.6 -0.6 -9.3 1.3z" fill="#ff964f" stroke="#ff964f"/>
<path d="M849.3 1688.7l9.2 1.3 7.9 -4.8 -9.2 -1.4z" fill="#ff9b52" stroke="#ff9b52"/>
<path d="M1035 1675.3l9.4 -1.1 7.4 1.3 -9.4 1.1z" fill="#ff8c49" stroke="#ff8c49"/>
<path d="M946.7 1685.7l9.3 -0.4 7.7 -1.8 -9.3 0.5z" fill="#ff964f" stroke="#ff964f"/>
<path d="M823 1692.2l9.2 1 8 -5.6 -9.2 -1.1z" fill="#ff9d53" stroke="#ff9d53"/>
<path d="M884.9 1688l9.2 1.3 7.8 -3.6 -9.2 -1.4z" fill="#ff9b52" stroke="#ff9b52"/>
<path d="M1258.6 1749.8l9.4 4.4 6.8 0.7 -9.4 -4.2z" fill="#e0d377" stroke="#e0d377"/>
<path d="M638.6 1743.3l9 -2.7 8.3 -7.1 -9 3z" fill="#e8cb72" stroke="#e8cb72"/>
<path d="M1204.8 1720.4l9.4 5.3 6.9 2.9 -9.4 -5.3z" fill="#f6be68" stroke="#f6be68"/>
<path d="M1150.9 1693.4l9.4 4.2 7 3.9 -9.4 -4.4z" fill="#ffa256" stroke="#ffa256"/>
<path d="M1106.2 1678.8l9.4 1.7 7.2 3.3 -9.4 -1.8z" fill="#ff914c" stroke="#ff914c"/>
<path d="M461.5 2050.6l8.2 -21.8 8.5 -13.6 -8.1 23.7z" fill="#149df1" stroke="#149df1"/>
<path d="M796.6 1696.8l9.2 0.7 8 -6.2 -9.1 -0.8z" fill="#ffa256" stroke="#ffa256"/>
<path d="M1070.6 1674.3l9.4 0 7.3 2.5 -9.4 -0.3z" fill="#ff8c49" stroke="#ff8c49"/>
<path d="M664.9 1732.2l9 -0.2 8.3 -7.3 -9 0.5z" fill="#f2c26b" stroke="#f2c26b"/>
<path d="M519.9 1927.2l8.2 -28.6 8.4 -15.8 -8.2 29.7z" fill="#5af8c8" stroke="#5af8c8"/>
<path d="M691.2 1724.6l9.1 0.1 8.2 -7.8 -9 0.3z" fill="#f9bb66" stroke="#f9bb66"/>
<path d="M1008.7 1677.5l9.4 -1.6 7.5 0.8 -9.4 1.6z" fill="#ff8e4a" stroke="#ff8e4a"/>
<path d="M920.4 1687.8l9.3 0.5 7.7 -2.6 -9.3 -0.4z" fill="#ff9850" stroke="#ff9850"/>
<path d="M770.3 1702.4l9.1 0.5 8.1 -6.7 -9.1 -0.6z" fill="#ffa759" stroke="#ffa759"/>
<path d="M717.6 1716.7l9.1 0 8.2 -7.8 -9.1 0.1z" fill="#ffb360" stroke="#ffb360"/>
<path d="M743.9 1709l9.1 0.2 8.1 -7.2 -9.1 -0.3z" fill="#ffac5c" stroke="#ffac5c"/>
<path d="M858.5 1690l9.2 1.3 7.9 -4.7 -9.2 -1.5z" fill="#ff9b52" stroke="#ff9b52"/>
<path d="M486.6 2001.8l8.1 -25 8.4 -16.7 -8.1 27.8z" fill="#1acfe3" stroke="#1acfe3"/>
<path d="M569.9 1820.3l8.6 -16.4 8.4 -11.1 -8.6 16.5z" fill="#aef498" stroke="#aef498"/>
<path d="M1214.2 1725.7l9.4 5.5 6.9 2.9 -9.4 -5.5z" fill="#f4c069" stroke="#f4c069"/>
<path d="M621.3 1755.5l8.9 -5 8.4 -7.2 -8.9 5.1z" fill="#e0d377" stroke="#e0d377"/>
<path d="M982.4 1681.2l9.4 -1.5 7.6 -0.6 -9.4 1.5z" fill="#ff8e4a" stroke="#ff8e4a"/>
<path d="M1160.3 1697.6l9.4 4.5 7 3.9 -9.4 -4.5z" fill="#ffa558" stroke="#ffa558"/>
<path d="M832.2 1693.2l9.2 1 8 -5.5 -9.2 -1.2z" fill="#ff9b52" stroke="#ff9b52"/>
<path d="M894.1 1689.3l9.3 1.1 7.8 -3.5 -9.2 -1.2z" fill="#ff9850" stroke="#ff9850"/>
<path d="M544.8 1868.2l8.4 -21.9 8.4 -13.7 -8.4 22.1z" fill="#8bfeae" stroke="#8bfeae"/>
<path d="M1115.6 1680.5l9.4 2.3 7.2 3.5 -9.4 -2.5z" fill="#ff914c" stroke="#ff914c"/>
<path d="M1044.4 1674.2l9.4 -0.7 7.4 1.2 -9.4 0.8z" fill="#ff8947" stroke="#ff8947"/>
<path d="M956 1685.2l9.3 -0.8 7.7 -1.9 -9.3 0.9z" fill="#ff934d" stroke="#ff934d"/>
<path d="M586.9 1792.8l8.7 -11.9 8.4 -9.4 -8.7 11.9z" fill="#c6e789" stroke="#c6e789"/>
<path d="M604.1 1771.5l8.8 -8.1 8.4 -7.9 -8.8 8.1z" fill="#d6db7e" stroke="#d6db7e"/>
<path d="M1223.6 1731.2l9.4 5.5 6.9 2.9 -9.4 -5.5z" fill="#f0c46c" stroke="#f0c46c"/>
<path d="M805.8 1697.5l9.2 0.8 8 -6.1 -9.2 -0.9z" fill="#ffa055" stroke="#ffa055"/>
<path d="M647.5 1740.6l9 -0.9 8.3 -7.5 -9 1.2z" fill="#ecc86f" stroke="#ecc86f"/>
<path d="M1080 1674.3l9.4 0.7 7.3 2.6 -9.4 -0.8z" fill="#ff8947" stroke="#ff8947"/>
<path d="M673.9 1732l9.1 0.3 8.3 -7.7 -9 0.1z" fill="#f4c069" stroke="#f4c069"/>
<path d="M1169.7 1702l9.4 4.6 7 3.9 -9.4 -4.6z" fill="#ffa759" stroke="#ffa759"/>
<path d="M779.4 1702.9l9.2 0.5 8.1 -6.6 -9.1 -0.7z" fill="#ffa256" stroke="#ffa256"/>
<path d="M700.3 1724.6l9.1 0.1 8.2 -8.1 -9.1 0.2z" fill="#fbb965" stroke="#fbb965"/>
<path d="M929.7 1688.2l9.3 0.1 7.7 -2.7 -9.3 0z" fill="#ff964f" stroke="#ff964f"/>
<path d="M867.7 1691.3l9.2 1.2 7.9 -4.5 -9.2 -1.4z" fill="#ff9850" stroke="#ff9850"/>
<path d="M726.6 1716.7l9.1 0 8.2 -7.7 -9.1 -0.1z" fill="#ffb05f" stroke="#ffb05f"/>
<path d="M753 1709.2l9.1 0.3 8.1 -7.1 -9.1 -0.4z" fill="#ffa95b" stroke="#ffa95b"/>
<path d="M1018.1 1675.9l9.4 -1.2 7.5 0.6 -9.4 1.4z" fill="#ff8646" stroke="#ff8646"/>
<path d="M511.5 1943.1l8.2 -26.1 8.3 -18.4 -8.2 28.6z" fill="#50f4cc" stroke="#50f4cc"/>
<path d="M453 2064.9l8.2 -19.7 8.4 -16.4 -8.2 21.8z" fill="#1c93f3" stroke="#1c93f3"/>
<path d="M1233 1736.7l9.4 5.4 6.8 2.8 -9.4 -5.3z" fill="#eec66d" stroke="#eec66d"/>
<path d="M1125 1682.8l9.4 3.1 7.1 3.7 -9.4 -3.2z" fill="#ff914c" stroke="#ff914c"/>
<path d="M841.4 1694.2l9.2 1.1 7.9 -5.3 -9.2 -1.3z" fill="#ff9850" stroke="#ff9850"/>
<path d="M903.4 1690.4l9.3 0.8 7.8 -3.4 -9.3 -0.8z" fill="#ff964f" stroke="#ff964f"/>
<path d="M478.1 2015.2l8.2 -22.8 8.4 -15.6 -8.1 25z" fill="#10c6e6" stroke="#10c6e6"/>
<path d="M991.8 1679.7l9.4 -1.6 7.6 -0.6 -9.4 1.7z" fill="#ff8947" stroke="#ff8947"/>
<path d="M1179.1 1706.7l9.4 4.8 7 3.9 -9.4 -4.8z" fill="#ffa95b" stroke="#ffa95b"/>
<path d="M1053.8 1673.5l9.4 -0.4 7.4 1.2 -9.4 0.4z" fill="#ff8444" stroke="#ff8444"/>
<path d="M630.2 1750.5l9 -2.6 8.4 -7.3 -9 2.7z" fill="#e8cb72" stroke="#e8cb72"/>
<path d="M815 1698.3l9.2 0.9 8 -6 -9.2 -1z" fill="#ff9d53" stroke="#ff9d53"/>
<path d="M965.4 1684.4l9.4 -1.2 7.7 -2 -9.3 1.3z" fill="#ff8e4a" stroke="#ff8e4a"/>
<path d="M561.6 1832.6l8.6 -16 8.4 -12.6 -8.6 16.4z" fill="#abf69b" stroke="#abf69b"/>
<path d="M1089.5 1675l9.4 1.2 7.3 2.6 -9.4 -1.2z" fill="#ff8646" stroke="#ff8646"/>
<path d="M1242.4 1742.1l9.4 5.1 6.8 2.6 -9.4 -4.9z" fill="#ebca70" stroke="#ebca70"/>
<path d="M877 1692.5l9.2 1.1 7.9 -4.3 -9.2 -1.3z" fill="#ff964f" stroke="#ff964f"/>
<path d="M656.5 1739.7l9 0.1 8.3 -7.8 -9 0.2z" fill="#f0c46c" stroke="#f0c46c"/>
<path d="M788.6 1703.4l9.2 0.6 8.1 -6.5 -9.2 -0.7z" fill="#ffa055" stroke="#ffa055"/>
<path d="M682.9 1732.3l9.1 0.5 8.2 -8.2 -9.1 -0.1z" fill="#f6be68" stroke="#f6be68"/>
<path d="M536.4 1882.8l8.4 -21.4 8.4 -15.2 -8.4 21.9z" fill="#82ffb3" stroke="#82ffb3"/>
<path d="M709.3 1724.8l9.1 0.1 8.2 -8.2 -9.1 0z" fill="#feb562" stroke="#feb562"/>
<path d="M939 1688.3l9.3 -0.3 7.7 -2.9 -9.3 0.4z" fill="#ff914c" stroke="#ff914c"/>
<path d="M762.2 1709.5l9.1 0.4 8.1 -7 -9.1 -0.5z" fill="#ffa759" stroke="#ffa759"/>
<path d="M1134.4 1685.9l9.4 3.7 7.1 3.8 -9.4 -3.8z" fill="#ff934d" stroke="#ff934d"/>
<path d="M735.7 1716.7l9.1 0.1 8.2 -7.6 -9.1 -0.2z" fill="#ffae5e" stroke="#ffae5e"/>
<path d="M1188.5 1711.5l9.4 5 6.9 3.9 -9.4 -5.1z" fill="#ffae5e" stroke="#ffae5e"/>
<path d="M1027.5 1674.7l9.4 -0.8 7.5 0.4 -9.4 1.1z" fill="#ff8143" stroke="#ff8143"/>
<path d="M503.1 1960.1l8.3 -23 8.3 -20.1 -8.2 26.1z" fill="#44eed2" stroke="#44eed2"/>
<path d="M612.9 1763.4l8.9 -5 8.4 -8 -8.9 5z" fill="#e0d377" stroke="#e0d377"/>
<path d="M850.6 1695.3l9.2 1.1 7.9 -5.2 -9.2 -1.3z" fill="#ff9850" stroke="#ff9850"/>
<path d="M444.6 2083.6l8.3 -16.8 8.3 -21.7 -8.2 19.7z" fill="#2884f6" stroke="#2884f6"/>
<path d="M912.6 1691.2l9.3 0.5 7.8 -3.5 -9.3 -0.5z" fill="#ff934d" stroke="#ff934d"/>
<path d="M578.5 1803.9l8.7 -11.9 8.4 -11.2 -8.7 11.9z" fill="#c2ea8c" stroke="#c2ea8c"/>
<path d="M1251.8 1747.2l9.5 4.6 6.8 2.3 -9.4 -4.4z" fill="#e8cb72" stroke="#e8cb72"/>
<path d="M595.7 1780.9l8.8 -8.1 8.4 -9.4 -8.8 8.1z" fill="#d4dd80" stroke="#d4dd80"/>
<path d="M1001.1 1678.1l9.4 -1.4 7.6 -0.8 -9.4 1.6z" fill="#ff8444" stroke="#ff8444"/>
<path d="M824.2 1699.1l9.2 0.9 8 -5.8 -9.2 -1z" fill="#ff9b52" stroke="#ff9b52"/>
<path d="M1098.9 1676.2l9.4 1.6 7.2 2.7 -9.4 -1.7z" fill="#ff8444" stroke="#ff8444"/>
<path d="M1197.9 1716.5l9.4 5.2 6.9 4 -9.4 -5.3z" fill="#ffb05f" stroke="#ffb05f"/>
<path d="M1063.2 1673.1l9.4 0.1 7.4 1.1 -9.4 0z" fill="#ff7e41" stroke="#ff7e41"/>
<path d="M1143.8 1689.5l9.4 4.1 7.1 3.9 -9.4 -4.2z" fill="#ff964f" stroke="#ff964f"/>
<path d="M886.2 1693.6l9.3 1 7.9 -4.2 -9.3 -1.1z" fill="#ff934d" stroke="#ff934d"/>
<path d="M639.2 1748l9 -0.7 8.3 -7.5 -9 0.9z" fill="#ecc86f" stroke="#ecc86f"/>
<path d="M974.7 1683.2l9.4 -1.4 7.6 -2.2 -9.4 1.5z" fill="#ff8947" stroke="#ff8947"/>
<path d="M469.6 2028.8l8.2 -20.9 8.5 -15.5 -8.2 22.8z" fill="#08bee9" stroke="#08bee9"/>
<path d="M797.7 1704l9.2 0.6 8 -6.3 -9.2 -0.8z" fill="#ff9d53" stroke="#ff9d53"/>
<path d="M665.6 1739.8l9.1 0.8 8.3 -8.3 -9.1 -0.3z" fill="#f2c26b" stroke="#f2c26b"/>
<path d="M692 1732.8l9.1 0.5 8.2 -8.5 -9.1 -0.1z" fill="#fbb965" stroke="#fbb965"/>
<path d="M718.4 1724.8l9.1 0 8.2 -8.2 -9.1 0z" fill="#ffb360" stroke="#ffb360"/>
<path d="M771.3 1709.8l9.2 0.4 8.1 -6.8 -9.2 -0.5z" fill="#ffa558" stroke="#ffa558"/>
<path d="M744.9 1716.8l9.1 0.1 8.1 -7.4 -9.1 -0.3z" fill="#ffa95b" stroke="#ffa95b"/>
<path d="M948.3 1688.1l9.3 -0.6 7.7 -3.1 -9.3 0.8z" fill="#ff8e4a" stroke="#ff8e4a"/>
<path d="M436.3 2104.8l8.4 -12.9 8.2 -25.1 -8.3 16.8z" fill="#386df9" stroke="#386df9"/>
<path d="M1207.3 1721.7l9.4 5.4 6.9 4.1 -9.4 -5.5z" fill="#feb562" stroke="#feb562"/>
<path d="M859.8 1696.5l9.2 1.1 7.9 -5 -9.2 -1.2z" fill="#ff964f" stroke="#ff964f"/>
<path d="M528 1898.6l8.4 -20.2 8.3 -16.9 -8.4 21.4z" fill="#78ffb8" stroke="#78ffb8"/>
<path d="M553.2 1846.3l8.6 -15.4 8.4 -14.3 -8.6 16z" fill="#a2f9a0" stroke="#a2f9a0"/>
<path d="M1036.9 1673.8l9.4 -0.5 7.5 0.2 -9.4 0.7z" fill="#ff7e41" stroke="#ff7e41"/>
<path d="M1153.2 1693.6l9.4 4.4 7 4 -9.4 -4.5z" fill="#ff964f" stroke="#ff964f"/>
<path d="M494.8 1976.8l8.3 -20.8 8.3 -18.9 -8.3 23z" fill="#38e7d7" stroke="#38e7d7"/>
<path d="M921.9 1691.7l9.3 0.2 7.8 -3.5 -9.3 -0.1z" fill="#ff914c" stroke="#ff914c"/>
<path d="M1108.3 1677.8l9.4 2.2 7.2 2.8 -9.4 -2.3z" fill="#ff8444" stroke="#ff8444"/>
<path d="M833.4 1700.1l9.2 1 8 -5.7 -9.2 -1.1z" fill="#ff9850" stroke="#ff9850"/>
<path d="M621.8 1758.5l9 -2.5 8.4 -8.1 -9 2.6z" fill="#e6cd73" stroke="#e6cd73"/>
<path d="M1072.7 1673.2l9.4 0.6 7.3 1.2 -9.4 -0.7z" fill="#ff7b40" stroke="#ff7b40"/>
<path d="M895.5 1694.6l9.3 0.8 7.8 -4.2 -9.3 -0.8z" fill="#ff934d" stroke="#ff934d"/>
<path d="M1216.7 1727.1l9.4 5.4 6.9 4.1 -9.4 -5.5z" fill="#fcb763" stroke="#fcb763"/>
<path d="M1010.5 1676.7l9.4 -1.1 7.5 -0.9 -9.4 1.2z" fill="#ff7e41" stroke="#ff7e41"/>
<path d="M428 2124.7l8.5 -9.2 8.3 -23.5 -8.4 12.9z" fill="#4856fb" stroke="#4856fb"/>
<path d="M806.9 1704.6l9.2 0.7 8 -6.2 -9.2 -0.9z" fill="#ff9b52" stroke="#ff9b52"/>
<path d="M674.7 1740.6l9.1 1 8.3 -8.8 -9.1 -0.5z" fill="#f4c069" stroke="#f4c069"/>
<path d="M648.2 1747.2l9.1 0.5 8.3 -8 -9 -0.1z" fill="#eec66d" stroke="#eec66d"/>
<path d="M701.1 1733.3l9.1 0.3 8.2 -8.7 -9.1 -0.1z" fill="#fcb763" stroke="#fcb763"/>
<path d="M1162.6 1698l9.4 4.6 7 4.1 -9.4 -4.6z" fill="#ff9b52" stroke="#ff9b52"/>
<path d="M780.5 1710.2l9.2 0.4 8.1 -6.7 -9.2 -0.6z" fill="#ffa256" stroke="#ffa256"/>
<path d="M984.1 1681.8l9.4 -1.4 7.6 -2.3 -9.4 1.6z" fill="#ff8444" stroke="#ff8444"/>
<path d="M727.6 1724.9l9.1 0 8.2 -8.1 -9.1 -0.1z" fill="#ffae5e" stroke="#ffae5e"/>
<path d="M570.1 1816.6l8.7 -11.4 8.4 -13.1 -8.7 11.9z" fill="#bced8f" stroke="#bced8f"/>
<path d="M754 1716.9l9.2 0.2 8.1 -7.2 -9.1 -0.4z" fill="#ffa759" stroke="#ffa759"/>
<path d="M461.2 2045.2l8.3 -17.8 8.4 -19.5 -8.2 20.9z" fill="#01b3ec" stroke="#01b3ec"/>
<path d="M869.1 1697.6l9.3 1 7.9 -4.9 -9.2 -1.1z" fill="#ff934d" stroke="#ff934d"/>
<path d="M957.7 1687.5l9.4 -0.9 7.7 -3.3 -9.4 1.2z" fill="#ff8947" stroke="#ff8947"/>
<path d="M604.5 1772.8l8.9 -4.9 8.4 -9.4 -8.9 5z" fill="#dcd67a" stroke="#dcd67a"/>
<path d="M1226.1 1732.5l9.4 5.4 6.8 4.1 -9.4 -5.4z" fill="#f9bb66" stroke="#f9bb66"/>
<path d="M1117.8 1680l9.4 2.9 7.2 2.9 -9.4 -3.1z" fill="#ff8444" stroke="#ff8444"/>
<path d="M519.7 1917l8.4 -18.8 8.3 -19.8 -8.4 20.2z" fill="#6dfdbf" stroke="#6dfdbf"/>
<path d="M587.3 1792.1l8.8 -8 8.4 -11.2 -8.8 8.1z" fill="#d0e082" stroke="#d0e082"/>
<path d="M1046.4 1673.3l9.4 -0.2 7.4 0 -9.4 0.4z" fill="#ff793e" stroke="#ff793e"/>
<path d="M931.2 1691.9l9.3 -0.1 7.8 -3.7 -9.3 0.3z" fill="#ff8c49" stroke="#ff8c49"/>
<path d="M842.6 1701l9.2 1 8 -5.6 -9.2 -1.1z" fill="#ff964f" stroke="#ff964f"/>
<path d="M486.3 1992.4l8.3 -19.2 8.4 -17.2 -8.3 20.8z" fill="#2ddedc" stroke="#2ddedc"/>
<path d="M1172.1 1702.6l9.4 4.7 7 4.2 -9.4 -4.8z" fill="#ff9d53" stroke="#ff9d53"/>
<path d="M419.6 2144.4l8.6 -6.8 8.3 -22.1 -8.5 9.2z" fill="#583efd" stroke="#583efd"/>
<path d="M1082.1 1673.8l9.5 1.1 7.3 1.3 -9.4 -1.2z" fill="#ff793e" stroke="#ff793e"/>
<path d="M544.8 1861.4l8.6 -14.4 8.4 -16.1 -8.6 15.4z" fill="#9bfba5" stroke="#9bfba5"/>
<path d="M904.8 1695.4l9.3 0.5 7.8 -4.2 -9.3 -0.5z" fill="#ff914c" stroke="#ff914c"/>
<path d="M816.1 1705.4l9.2 0.8 8 -6.1 -9.2 -0.9z" fill="#ff9b52" stroke="#ff9b52"/>
<path d="M683.7 1741.6l9.1 0.9 8.3 -9.2 -9.1 -0.5z" fill="#f6be68" stroke="#f6be68"/>
<path d="M630.8 1756l9 -0.6 8.4 -8.2 -9 0.7z" fill="#ebca70" stroke="#ebca70"/>
<path d="M1235.5 1737.9l9.4 5.2 6.8 4.1 -9.4 -5.1z" fill="#f6be68" stroke="#f6be68"/>
<path d="M657.3 1747.8l9.1 1.3 8.3 -8.5 -9.1 -0.8z" fill="#f0c46c" stroke="#f0c46c"/>
<path d="M1020 1675.6l9.4 -0.7 7.5 -1 -9.4 0.8z" fill="#ff793e" stroke="#ff793e"/>
<path d="M710.2 1733.6l9.1 0.1 8.2 -8.8 -9.1 0z" fill="#feb562" stroke="#feb562"/>
<path d="M789.6 1710.7l9.2 0.5 8.1 -6.6 -9.2 -0.6z" fill="#ff9d53" stroke="#ff9d53"/>
<path d="M452.9 2066.9l8.4 -14.1 8.2 -25.3 -8.3 17.8z" fill="#10a2f0" stroke="#10a2f0"/>
<path d="M1127.2 1683l9.4 3.5 7.2 3.1 -9.4 -3.7z" fill="#ff8444" stroke="#ff8444"/>
<path d="M736.7 1724.8l9.1 -0.1 8.2 -7.9 -9.1 -0.1z" fill="#ffac5c" stroke="#ffac5c"/>
<path d="M763.2 1717l9.2 0.2 8.1 -7 -9.2 -0.4z" fill="#ffa558" stroke="#ffa558"/>
<path d="M878.3 1698.6l9.3 0.9 7.9 -4.8 -9.3 -1z" fill="#ff914c" stroke="#ff914c"/>
<path d="M1181.5 1707.3l9.4 4.9 7 4.3 -9.4 -5z" fill="#ffa055" stroke="#ffa055"/>
<path d="M993.5 1680.4l9.4 -1.3 7.6 -2.5 -9.4 1.4z" fill="#ff7b40" stroke="#ff7b40"/>
<path d="M511.4 1937.1l8.5 -17.1 8.3 -21.8 -8.4 18.8z" fill="#5efac6" stroke="#5efac6"/>
<path d="M967 1686.6l9.4 -1.1 7.7 -3.6 -9.4 1.4z" fill="#ff8444" stroke="#ff8444"/>
<path d="M1055.8 1673.1l9.5 0.2 7.4 -0.1 -9.4 -0.1z" fill="#ff763d" stroke="#ff763d"/>
<path d="M444.7 2091.9l8.5 -10.4 8.1 -28.8 -8.4 14.1z" fill="#2489f5" stroke="#2489f5"/>
<path d="M851.8 1702l9.3 1 8 -5.5 -9.2 -1.1z" fill="#ff934d" stroke="#ff934d"/>
<path d="M1245 1743.1l9.5 4.8 6.8 3.9 -9.5 -4.6z" fill="#f2c26b" stroke="#f2c26b"/>
<path d="M940.6 1691.7l9.4 -0.5 7.8 -3.8 -9.3 0.6z" fill="#ff8947" stroke="#ff8947"/>
<path d="M411.2 2163.8l8.6 -5.4 8.4 -20.8 -8.6 6.8z" fill="#6629fe" stroke="#6629fe"/>
<path d="M1091.6 1674.9l9.5 1.6 7.3 1.3 -9.4 -1.6z" fill="#ff793e" stroke="#ff793e"/>
<path d="M561.8 1830.9l8.8 -10.5 8.4 -15.2 -8.7 11.4z" fill="#b4f295" stroke="#b4f295"/>
<path d="M613.4 1767.9l9 -2.4 8.4 -9.4 -9 2.5z" fill="#e4cf74" stroke="#e4cf74"/>
<path d="M1136.7 1686.4l9.4 3.9 7.1 3.3 -9.4 -4.1z" fill="#ff8646" stroke="#ff8646"/>
<path d="M914.1 1695.9l9.3 0.2 7.8 -4.2 -9.3 -0.2z" fill="#ff8c49" stroke="#ff8c49"/>
<path d="M825.3 1706.2l9.2 0.9 8 -6 -9.2 -1z" fill="#ff9850" stroke="#ff9850"/>
<path d="M1190.9 1712.2l9.4 5.1 6.9 4.5 -9.4 -5.2z" fill="#ffa256" stroke="#ffa256"/>
<path d="M477.9 2007.9l8.4 -17.7 8.4 -17 -8.3 19.2z" fill="#22d6e0" stroke="#22d6e0"/>
<path d="M436.5 2115.5l8.6 -6.8 8.1 -27.1 -8.5 10.4z" fill="#396bf9" stroke="#396bf9"/>
<path d="M666.3 1749.1l9.1 1.6 8.3 -9.1 -9.1 -1z" fill="#f2c26b" stroke="#f2c26b"/>
<path d="M692.8 1742.5l9.1 0.5 8.3 -9.4 -9.1 -0.3z" fill="#fbb965" stroke="#fbb965"/>
<path d="M536.4 1878.4l8.6 -13.1 8.3 -18.3 -8.6 14.4z" fill="#8efeac" stroke="#8efeac"/>
<path d="M639.8 1755.4l9.1 0.7 8.4 -8.4 -9.1 -0.5z" fill="#eec66d" stroke="#eec66d"/>
<path d="M798.8 1711.2l9.2 0.6 8.1 -6.4 -9.2 -0.7z" fill="#ff9b52" stroke="#ff9b52"/>
<path d="M1029.4 1674.8l9.4 -0.5 7.5 -1.1 -9.4 0.5z" fill="#ff733b" stroke="#ff733b"/>
<path d="M719.3 1733.7l9.1 -0.1 8.2 -8.7 -9.1 0z" fill="#ffb05f" stroke="#ffb05f"/>
<path d="M578.9 1805.2l8.8 -7.6 8.4 -13.5 -8.8 8z" fill="#c8e688" stroke="#c8e688"/>
<path d="M596.1 1784.1l8.9 -4.9 8.4 -11.3 -8.9 4.9z" fill="#d9da7d" stroke="#d9da7d"/>
<path d="M887.6 1699.4l9.3 0.7 7.9 -4.7 -9.3 -0.8z" fill="#ff8e4a" stroke="#ff8e4a"/>
<path d="M772.3 1717.2l9.2 0.3 8.1 -6.9 -9.2 -0.4z" fill="#ffa256" stroke="#ffa256"/>
<path d="M745.8 1724.8l9.2 -0.1 8.2 -7.7 -9.2 -0.2z" fill="#ffa95b" stroke="#ffa95b"/>
<path d="M503.1 1956l8.5 -15.5 8.3 -20.5 -8.5 17.1z" fill="#50f4cc" stroke="#50f4cc"/>
<path d="M1200.3 1717.3l9.4 5.2 6.9 4.6 -9.4 -5.4z" fill="#ffa759" stroke="#ffa759"/>
<path d="M428.2 2137.5l8.7 -4.2 8.2 -24.7 -8.6 6.8z" fill="#4e4dfc" stroke="#4e4dfc"/>
<path d="M1002.9 1679.1l9.4 -1.1 7.6 -2.5 -9.4 1.1z" fill="#ff763d" stroke="#ff763d"/>
<path d="M1146.1 1690.3l9.4 4.2 7.1 3.4 -9.4 -4.4z" fill="#ff8947" stroke="#ff8947"/>
<path d="M861.1 1703l9.3 0.9 7.9 -5.3 -9.3 -1z" fill="#ff934d" stroke="#ff934d"/>
<path d="M1101 1676.6l9.5 2.2 7.3 1.3 -9.4 -2.2z" fill="#ff763d" stroke="#ff763d"/>
<path d="M402.8 2184.1l8.6 -4.7 8.4 -21.1 -8.6 5.4z" fill="#7610ff" stroke="#7610ff"/>
<path d="M1065.3 1673.3l9.5 0.6 7.4 -0.1 -9.4 -0.6z" fill="#ff703a" stroke="#ff703a"/>
<path d="M976.4 1685.4l9.4 -1.3 7.7 -3.7 -9.4 1.4z" fill="#ff7e41" stroke="#ff7e41"/>
<path d="M949.9 1691.3l9.4 -0.8 7.7 -4 -9.4 0.9z" fill="#ff8444" stroke="#ff8444"/>
<path d="M834.6 1707l9.3 0.9 8 -5.9 -9.2 -1z" fill="#ff964f" stroke="#ff964f"/>
<path d="M675.4 1750.7l9.1 1.3 8.3 -9.6 -9.1 -0.9z" fill="#f4c069" stroke="#f4c069"/>
<path d="M923.4 1696.1l9.3 -0.1 7.8 -4.2 -9.3 0.1z" fill="#ff8947" stroke="#ff8947"/>
<path d="M622.4 1765.4l9 -0.5 8.4 -9.4 -9 0.6z" fill="#e8cb72" stroke="#e8cb72"/>
<path d="M648.9 1756.2l9.1 1.5 8.3 -8.7 -9.1 -1.3z" fill="#f0c46c" stroke="#f0c46c"/>
<path d="M553.4 1847l8.8 -9.2 8.3 -17.4 -8.8 10.5z" fill="#abf69b" stroke="#abf69b"/>
<path d="M702 1743l9.1 0.2 8.2 -9.5 -9.1 -0.1z" fill="#fcb763" stroke="#fcb763"/>
<path d="M469.5 2027.4l8.5 -14.7 8.3 -22.5 -8.4 17.7z" fill="#17cbe4" stroke="#17cbe4"/>
<path d="M1209.8 1722.5l9.4 5.4 6.9 4.7 -9.4 -5.4z" fill="#ffa95b" stroke="#ffa95b"/>
<path d="M528.2 1898.2l8.7 -12.2 8.3 -20.8 -8.6 13.1z" fill="#82ffb3" stroke="#82ffb3"/>
<path d="M808.1 1711.8l9.2 0.7 8.1 -6.3 -9.2 -0.8z" fill="#ff9850" stroke="#ff9850"/>
<path d="M1155.5 1694.5l9.4 4.4 7.1 3.6 -9.4 -4.6z" fill="#ff8c49" stroke="#ff8c49"/>
<path d="M896.9 1700.1l9.3 0.4 7.9 -4.7 -9.3 -0.5z" fill="#ff8c49" stroke="#ff8c49"/>
<path d="M728.5 1733.6l9.2 -0.2 8.2 -8.6 -9.1 0.1z" fill="#ffae5e" stroke="#ffae5e"/>
<path d="M419.8 2158.4l8.7 -3 8.3 -22.1 -8.7 4.2z" fill="#5e35fe" stroke="#5e35fe"/>
<path d="M1038.8 1674.4l9.5 -0.1 7.5 -1.1 -9.4 0.2z" fill="#ff703a" stroke="#ff703a"/>
<path d="M781.5 1717.6l9.2 0.4 8.1 -6.8 -9.2 -0.5z" fill="#ffa055" stroke="#ffa055"/>
<path d="M755 1724.7l9.2 0 8.2 -7.4 -9.2 -0.2z" fill="#ffa558" stroke="#ffa558"/>
<path d="M1110.5 1678.7l9.5 2.7 7.3 1.5 -9.4 -2.9z" fill="#ff763d" stroke="#ff763d"/>
<path d="M494.7 1973.2l8.5 -14.2 8.4 -18.6 -8.5 15.5z" fill="#42edd3" stroke="#42edd3"/>
<path d="M870.4 1703.9l9.3 0.8 7.9 -5.2 -9.3 -0.9z" fill="#ff914c" stroke="#ff914c"/>
<path d="M1074.7 1673.9l9.5 1.1 7.4 0 -9.5 -1.1z" fill="#ff703a" stroke="#ff703a"/>
<path d="M605 1779.2l9 -2.4 8.4 -11.3 -9 2.4z" fill="#e0d377" stroke="#e0d377"/>
<path d="M461.3 2052.7l8.6 -10.6 8.1 -29.5 -8.5 14.7z" fill="#02b7eb" stroke="#02b7eb"/>
<path d="M570.5 1820.4l8.9 -6.7 8.3 -16.1 -8.8 7.6z" fill="#c0eb8d" stroke="#c0eb8d"/>
<path d="M1219.2 1727.9l9.5 5.4 6.9 4.7 -9.4 -5.4z" fill="#ffae5e" stroke="#ffae5e"/>
<path d="M1012.4 1678l9.4 -0.8 7.6 -2.4 -9.4 0.7z" fill="#ff703a" stroke="#ff703a"/>
<path d="M453.2 2081.5l8.6 -7.9 8 -31.5 -8.6 10.6z" fill="#169bf2" stroke="#169bf2"/>
<path d="M445.1 2108.7l8.7 -5.2 8.1 -29.8 -8.6 7.9z" fill="#2e7bf7" stroke="#2e7bf7"/>
<path d="M587.7 1797.6l8.9 -4.7 8.4 -13.7 -8.9 4.9z" fill="#d2de81" stroke="#d2de81"/>
<path d="M985.8 1684.1l9.4 -1.4 7.7 -3.6 -9.4 1.3z" fill="#ff793e" stroke="#ff793e"/>
<path d="M843.8 1707.9l9.3 0.9 8 -5.8 -9.3 -1z" fill="#ff934d" stroke="#ff934d"/>
<path d="M1165 1699l9.5 4.6 7.1 3.8 -9.4 -4.7z" fill="#ff8e4a" stroke="#ff8e4a"/>
<path d="M959.3 1690.5l9.4 -1 7.7 -4.1 -9.4 1.1z" fill="#ff7e41" stroke="#ff7e41"/>
<path d="M684.6 1752l9.1 0.7 8.3 -9.8 -9.1 -0.5z" fill="#f6be68" stroke="#f6be68"/>
<path d="M519.9 1920l8.7 -11.6 8.3 -22.4 -8.7 12.2z" fill="#72febb" stroke="#72febb"/>
<path d="M658 1757.7l9.1 1.9 8.3 -8.9 -9.1 -1.6z" fill="#f0c46c" stroke="#f0c46c"/>
<path d="M631.4 1764.9l9.1 0.8 8.4 -9.4 -9.1 -0.7z" fill="#ebca70" stroke="#ebca70"/>
<path d="M932.7 1695.9l9.4 -0.4 7.8 -4.2 -9.4 0.5z" fill="#ff8444" stroke="#ff8444"/>
<path d="M436.9 2133.4l8.8 -2.1 8.1 -27.8 -8.7 5.2z" fill="#445cfb" stroke="#445cfb"/>
<path d="M411.4 2179.5l8.7 -2.6 8.4 -21.4 -8.7 3z" fill="#6e1cff" stroke="#6e1cff"/>
<path d="M711.1 1743.1l9.1 -0.1 8.2 -9.4 -9.1 0.1z" fill="#feb562" stroke="#feb562"/>
<path d="M817.3 1712.5l9.2 0.8 8 -6.2 -9.2 -0.9z" fill="#ff9850" stroke="#ff9850"/>
<path d="M545.1 1865.3l8.8 -8.1 8.3 -19.4 -8.8 9.2z" fill="#9efaa2" stroke="#9efaa2"/>
<path d="M1120 1681.4l9.5 3.2 7.2 1.8 -9.4 -3.5z" fill="#ff793e" stroke="#ff793e"/>
<path d="M1228.7 1733.2l9.5 5.2 6.8 4.6 -9.4 -5.2z" fill="#ffb05f" stroke="#ffb05f"/>
<path d="M906.2 1700.5l9.3 0.1 7.9 -4.6 -9.3 -0.2z" fill="#ff8947" stroke="#ff8947"/>
<path d="M790.7 1718l9.2 0.5 8.1 -6.7 -9.2 -0.6z" fill="#ff9b52" stroke="#ff9b52"/>
<path d="M1048.3 1674.2l9.5 0.2 7.5 -1.2 -9.5 -0.2z" fill="#ff6b37" stroke="#ff6b37"/>
<path d="M737.6 1733.4l9.2 -0.3 8.2 -8.4 -9.2 0.1z" fill="#ffac5c" stroke="#ffac5c"/>
<path d="M764.2 1724.7l9.2 0.2 8.2 -7.3 -9.2 -0.3z" fill="#ffa256" stroke="#ffa256"/>
<path d="M1174.4 1703.5l9.5 4.7 7 4 -9.4 -4.9z" fill="#ff914c" stroke="#ff914c"/>
<path d="M1084.2 1675l9.5 1.6 7.4 0 -9.5 -1.6z" fill="#ff6d38" stroke="#ff6d38"/>
<path d="M879.7 1704.7l9.3 0.6 7.9 -5.2 -9.3 -0.7z" fill="#ff8e4a" stroke="#ff8e4a"/>
<path d="M486.3 1990.2l8.6 -12.3 8.4 -18.8 -8.5 14.2z" fill="#37e6d8" stroke="#37e6d8"/>
<path d="M428.5 2155.4l8.8 -1 8.3 -23.1 -8.8 2.1z" fill="#583efd" stroke="#583efd"/>
<path d="M511.6 1940.5l8.7 -10.6 8.3 -21.4 -8.7 11.6z" fill="#62fbc4" stroke="#62fbc4"/>
<path d="M1021.8 1677.2l9.5 -0.6 7.6 -2.2 -9.4 0.5z" fill="#ff6d38" stroke="#ff6d38"/>
<path d="M1238.2 1738.5l9.5 5 6.8 4.4 -9.5 -4.8z" fill="#feb562" stroke="#feb562"/>
<path d="M614 1776.7l9 -0.6 8.4 -11.3 -9 0.5z" fill="#e4cf74" stroke="#e4cf74"/>
<path d="M853.1 1708.8l9.3 0.8 8 -5.7 -9.3 -0.9z" fill="#ff914c" stroke="#ff914c"/>
<path d="M562.2 1837.8l8.9 -5.5 8.3 -18.7 -8.9 6.7z" fill="#b6f193" stroke="#b6f193"/>
<path d="M667.1 1759.6l9.1 1.7 8.3 -9.3 -9.1 -1.3z" fill="#f2c26b" stroke="#f2c26b"/>
<path d="M1129.4 1684.6l9.5 3.6 7.2 2.1 -9.4 -3.9z" fill="#ff793e" stroke="#ff793e"/>
<path d="M693.7 1752.8l9.1 0.3 8.3 -10 -9.1 -0.2z" fill="#f9bb66" stroke="#f9bb66"/>
<path d="M640.5 1765.6l9.1 1.5 8.4 -9.4 -9.1 -1.5z" fill="#ecc86f" stroke="#ecc86f"/>
<path d="M995.3 1682.7l9.4 -1.3 7.7 -3.4 -9.4 1.1z" fill="#ff733b" stroke="#ff733b"/>
<path d="M968.7 1689.5l9.4 -1.3 7.7 -4.1 -9.4 1.3z" fill="#ff793e" stroke="#ff793e"/>
<path d="M1183.9 1708.2l9.5 4.8 7 4.2 -9.4 -5.1z" fill="#ff964f" stroke="#ff964f"/>
<path d="M826.5 1713.3l9.3 0.8 8 -6.1 -9.3 -0.9z" fill="#ff964f" stroke="#ff964f"/>
<path d="M536.8 1886l8.8 -7.6 8.3 -21.2 -8.8 8.1z" fill="#90feab" stroke="#90feab"/>
<path d="M942.1 1695.5l9.4 -0.8 7.8 -4.2 -9.4 0.8z" fill="#ff8143" stroke="#ff8143"/>
<path d="M720.2 1743l9.2 -0.3 8.2 -9.3 -9.2 0.2z" fill="#ffb05f" stroke="#ffb05f"/>
<path d="M579.4 1813.7l8.9 -4 8.3 -16.8 -8.9 4.7z" fill="#cbe486" stroke="#cbe486"/>
<path d="M596.7 1792.9l9 -2.3 8.4 -13.8 -9 2.4z" fill="#dbd87b" stroke="#dbd87b"/>
<path d="M800 1718.5l9.2 0.6 8.1 -6.6 -9.2 -0.7z" fill="#ff9850" stroke="#ff9850"/>
<path d="M915.5 1700.7l9.4 -0.2 7.8 -4.5 -9.3 0.1z" fill="#ff8646" stroke="#ff8646"/>
<path d="M1057.8 1674.4l9.5 0.6 7.5 -1.1 -9.5 -0.6z" fill="#ff6835" stroke="#ff6835"/>
<path d="M420.2 2176.9l8.8 -0.8 8.4 -21.7 -8.8 1z" fill="#6826fe" stroke="#6826fe"/>
<path d="M746.8 1733.1l9.2 -0.2 8.2 -8.1 -9.2 0z" fill="#ffa759" stroke="#ffa759"/>
<path d="M1093.7 1676.5l9.5 2 7.4 0.1 -9.5 -2.2z" fill="#ff6d38" stroke="#ff6d38"/>
<path d="M773.4 1724.8l9.2 0.3 8.1 -7.2 -9.2 -0.4z" fill="#ffa055" stroke="#ffa055"/>
<path d="M478 2012.7l8.6 -10.6 8.2 -24.2 -8.6 12.3z" fill="#28dbde" stroke="#28dbde"/>
<path d="M453.8 2103.5l8.7 -5.1 8 -31.8 -8.7 7.1z" fill="#2489f5" stroke="#2489f5"/>
<path d="M445.6 2131.3l8.8 -2 8.1 -30.9 -8.7 5.1z" fill="#3e65fa" stroke="#3e65fa"/>
<path d="M889 1705.3l9.3 0.3 7.9 -5.1 -9.3 -0.4z" fill="#ff8c49" stroke="#ff8c49"/>
<path d="M1138.9 1688.3l9.5 4 7.2 2.3 -9.4 -4.2z" fill="#ff7b40" stroke="#ff7b40"/>
<path d="M461.9 2073.7l8.7 -7.1 8 -33.1 -8.6 8.7z" fill="#09a9ee" stroke="#09a9ee"/>
<path d="M503.2 1959.1l8.7 -9.6 8.4 -19.6 -8.7 10.6z" fill="#54f6cb" stroke="#54f6cb"/>
<path d="M1193.4 1713l9.5 5.1 7 4.4 -9.4 -5.2z" fill="#ff9850" stroke="#ff9850"/>
<path d="M469.9 2042.2l8.6 -8.7 8 -31.4 -8.6 10.6z" fill="#12c8e6" stroke="#12c8e6"/>
<path d="M676.2 1761.3l9.1 1.3 8.3 -9.8 -9.1 -0.7z" fill="#f2c26b" stroke="#f2c26b"/>
<path d="M437.3 2154.4l8.9 -0.1 8.2 -25 -8.8 2z" fill="#5444fd" stroke="#5444fd"/>
<path d="M862.4 1709.6l9.3 0.7 8 -5.6 -9.3 -0.8z" fill="#ff8e4a" stroke="#ff8e4a"/>
<path d="M623.1 1776.2l9.1 0.7 8.4 -11.2 -9.1 -0.8z" fill="#e6cd73" stroke="#e6cd73"/>
<path d="M1031.3 1676.6l9.5 -0.2 7.6 -2.2 -9.5 0.1z" fill="#ff6835" stroke="#ff6835"/>
<path d="M553.9 1857.2l8.9 -4.6 8.3 -20.3 -8.9 5.5z" fill="#a8f79c" stroke="#a8f79c"/>
<path d="M649.6 1767.2l9.1 1.9 8.4 -9.5 -9.1 -1.9z" fill="#eec66d" stroke="#eec66d"/>
<path d="M528.5 1908.4l8.8 -7.5 8.3 -22.6 -8.8 7.6z" fill="#80ffb4" stroke="#80ffb4"/>
<path d="M702.8 1753.1l9.2 0 8.3 -10 -9.1 0.1z" fill="#fbb965" stroke="#fbb965"/>
<path d="M835.8 1714.1l9.3 0.8 8 -6 -9.3 -0.9z" fill="#ff934d" stroke="#ff934d"/>
<path d="M1004.7 1681.5l9.5 -1 7.6 -3.3 -9.4 0.8z" fill="#ff6d38" stroke="#ff6d38"/>
<path d="M1103.1 1678.6l9.5 2.5 7.3 0.3 -9.5 -2.7z" fill="#ff6b37" stroke="#ff6b37"/>
<path d="M978.1 1688.2l9.4 -1.5 7.7 -4 -9.4 1.4z" fill="#ff733b" stroke="#ff733b"/>
<path d="M1202.8 1718.1l9.5 5.3 6.9 4.4 -9.4 -5.4z" fill="#ff9b52" stroke="#ff9b52"/>
<path d="M1148.4 1692.2l9.5 4.2 7.1 2.5 -9.4 -4.4z" fill="#ff7e41" stroke="#ff7e41"/>
<path d="M729.4 1742.7l9.2 -0.5 8.2 -9.2 -9.2 0.3z" fill="#ffae5e" stroke="#ffae5e"/>
<path d="M951.5 1694.8l9.4 -1.1 7.8 -4.1 -9.4 1z" fill="#ff7b40" stroke="#ff7b40"/>
<path d="M809.2 1719.1l9.3 0.7 8.1 -6.5 -9.2 -0.8z" fill="#ff964f" stroke="#ff964f"/>
<path d="M1067.2 1675l9.5 1 7.5 -1.1 -9.5 -1.1z" fill="#ff6533" stroke="#ff6533"/>
<path d="M571.1 1832.3l9 -3.1 8.3 -19.5 -8.9 4z" fill="#beec8e" stroke="#beec8e"/>
<path d="M924.9 1700.5l9.4 -0.6 7.8 -4.4 -9.4 0.4z" fill="#ff8143" stroke="#ff8143"/>
<path d="M605.7 1790.5l9 -0.6 8.4 -13.8 -9 0.6z" fill="#ded579" stroke="#ded579"/>
<path d="M782.6 1725.1l9.2 0.4 8.1 -7.1 -9.2 -0.5z" fill="#ff9d53" stroke="#ff9d53"/>
<path d="M756 1732.8l9.2 -0.1 8.2 -7.9 -9.2 -0.2z" fill="#ffa558" stroke="#ffa558"/>
<path d="M429 2176.1l8.9 0.4 8.3 -22.2 -8.9 0.1z" fill="#642cfe" stroke="#642cfe"/>
<path d="M588.3 1809.7l9 -2.1 8.3 -17.1 -9 2.3z" fill="#d0e082" stroke="#d0e082"/>
<path d="M898.3 1705.6l9.3 0 7.9 -5 -9.3 -0.1z" fill="#ff8646" stroke="#ff8646"/>
<path d="M520.3 1929.9l8.8 -6.8 8.3 -22.1 -8.8 7.5z" fill="#6efebe" stroke="#6efebe"/>
<path d="M494.8 1977.9l8.7 -8 8.4 -20.3 -8.7 9.6z" fill="#46efd1" stroke="#46efd1"/>
<path d="M545.6 1878.4l8.9 -4.6 8.3 -21.2 -8.9 4.6z" fill="#9bfba5" stroke="#9bfba5"/>
<path d="M658.8 1769.1l9.1 1.8 8.3 -9.6 -9.1 -1.7z" fill="#eec66d" stroke="#eec66d"/>
<path d="M685.4 1762.5l9.2 0.8 8.3 -10.2 -9.1 -0.3z" fill="#f4c069" stroke="#f4c069"/>
<path d="M632.2 1776.8l9.1 1.4 8.4 -11 -9.1 -1.5z" fill="#e8cb72" stroke="#e8cb72"/>
<path d="M1212.3 1723.4l9.5 5.5 6.9 4.3 -9.5 -5.4z" fill="#ffa055" stroke="#ffa055"/>
<path d="M871.7 1710.2l9.3 0.5 8 -5.4 -9.3 -0.6z" fill="#ff8c49" stroke="#ff8c49"/>
<path d="M1040.7 1676.4l9.5 0.1 7.5 -2.1 -9.5 -0.2z" fill="#ff6533" stroke="#ff6533"/>
<path d="M1157.8 1696.4l9.5 4.4 7.1 2.7 -9.5 -4.6z" fill="#ff8143" stroke="#ff8143"/>
<path d="M454.5 2129.3l8.8 -3.2 8 -33.8 -8.7 6.1z" fill="#3670f8" stroke="#3670f8"/>
<path d="M446.2 2154.3l8.9 -0.3 8.2 -27.9 -8.8 3.2z" fill="#4e4dfc" stroke="#4e4dfc"/>
<path d="M1112.6 1681.1l9.5 3 7.3 0.6 -9.5 -3.2z" fill="#ff6d38" stroke="#ff6d38"/>
<path d="M712 1753.1l9.2 -0.4 8.3 -10 -9.2 0.3z" fill="#feb562" stroke="#feb562"/>
<path d="M845.1 1714.8l9.3 0.7 8 -5.9 -9.3 -0.8z" fill="#ff914c" stroke="#ff914c"/>
<path d="M462.5 2098.4l8.7 -6.1 8 -33.3 -8.7 7.5z" fill="#1996f3" stroke="#1996f3"/>
<path d="M1076.7 1676l9.5 1.5 7.4 -1 -9.5 -1.6z" fill="#ff6533" stroke="#ff6533"/>
<path d="M1014.2 1680.4l9.5 -0.7 7.6 -3.1 -9.5 0.6z" fill="#ff6835" stroke="#ff6835"/>
<path d="M818.5 1719.8l9.3 0.7 8.1 -6.4 -9.3 -0.8z" fill="#ff934d" stroke="#ff934d"/>
<path d="M562.8 1852.6l9 -2.6 8.3 -20.8 -9 3.1z" fill="#b0f397" stroke="#b0f397"/>
<path d="M738.6 1742.2l9.2 -0.5 8.2 -8.9 -9.2 0.2z" fill="#ffa95b" stroke="#ffa95b"/>
<path d="M1221.8 1728.9l9.5 5.4 6.9 4.2 -9.5 -5.2z" fill="#ffa256" stroke="#ffa256"/>
<path d="M486.6 2002.1l8.7 -7 8.2 -25.2 -8.7 8z" fill="#37e6d8" stroke="#37e6d8"/>
<path d="M987.5 1686.7l9.5 -1.4 7.7 -3.8 -9.4 1.3z" fill="#ff6d38" stroke="#ff6d38"/>
<path d="M470.5 2066.6l8.7 -7.5 8 -33.1 -8.7 7.5z" fill="#02b7eb" stroke="#02b7eb"/>
<path d="M791.8 1725.6l9.3 0.6 8.1 -7 -9.2 -0.6z" fill="#ff9b52" stroke="#ff9b52"/>
<path d="M960.9 1693.6l9.4 -1.4 7.8 -4 -9.4 1.3z" fill="#ff763d" stroke="#ff763d"/>
<path d="M614.7 1790l9.1 0.5 8.4 -13.6 -9.1 -0.7z" fill="#e0d377" stroke="#e0d377"/>
<path d="M765.2 1732.7l9.2 0.1 8.2 -7.7 -9.2 -0.3z" fill="#ffa055" stroke="#ffa055"/>
<path d="M511.9 1949.5l8.8 -6.2 8.3 -20.2 -8.8 6.8z" fill="#60fac5" stroke="#60fac5"/>
<path d="M934.3 1699.9l9.4 -0.9 7.8 -4.2 -9.4 0.8z" fill="#ff7e41" stroke="#ff7e41"/>
<path d="M537.3 1901l8.9 -4.9 8.3 -22.3 -8.9 4.6z" fill="#88ffaf" stroke="#88ffaf"/>
<path d="M1167.3 1700.8l9.5 4.5 7.1 3 -9.5 -4.7z" fill="#ff8444" stroke="#ff8444"/>
<path d="M437.9 2176.5l8.9 0.5 8.3 -23.1 -8.9 0.3z" fill="#622ffe" stroke="#622ffe"/>
<path d="M478.5 2033.5l8.7 -7.5 8.1 -30.9 -8.7 7z" fill="#1fd3e1" stroke="#1fd3e1"/>
<path d="M907.7 1705.6l9.4 -0.3 7.9 -4.8 -9.4 0.2z" fill="#ff8444" stroke="#ff8444"/>
<path d="M580 1829.2l9 -1.9 8.3 -19.7 -9 2.1z" fill="#c4e88a" stroke="#c4e88a"/>
<path d="M667.9 1770.9l9.2 1.6 8.3 -9.9 -9.1 -1.3z" fill="#f0c46c" stroke="#f0c46c"/>
<path d="M641.3 1778.2l9.1 1.7 8.4 -10.8 -9.1 -1.9z" fill="#ebca70" stroke="#ebca70"/>
<path d="M597.3 1807.6l9 -0.8 8.3 -16.8 -9 0.6z" fill="#d4dd80" stroke="#d4dd80"/>
<path d="M1122.1 1684.1l9.5 3.4 7.3 0.8 -9.5 -3.6z" fill="#ff6d38" stroke="#ff6d38"/>
<path d="M694.5 1763.3l9.2 0.2 8.3 -10.5 -9.2 0z" fill="#f9bb66" stroke="#f9bb66"/>
<path d="M881 1710.7l9.3 0.2 7.9 -5.3 -9.3 -0.3z" fill="#ff8947" stroke="#ff8947"/>
<path d="M1050.2 1676.5l9.5 0.5 7.5 -2 -9.5 -0.6z" fill="#ff6232" stroke="#ff6232"/>
<path d="M1231.3 1734.3l9.5 5.3 6.9 3.9 -9.5 -5z" fill="#ffa759" stroke="#ffa759"/>
<path d="M854.4 1715.5l9.3 0.5 8 -5.8 -9.3 -0.7z" fill="#ff8e4a" stroke="#ff8e4a"/>
<path d="M1086.2 1677.5l9.5 1.9 7.4 -0.9 -9.5 -2z" fill="#ff6232" stroke="#ff6232"/>
<path d="M721.1 1752.7l9.2 -0.6 8.2 -9.9 -9.2 0.5z" fill="#ffb05f" stroke="#ffb05f"/>
<path d="M554.5 1873.8l9 -2.9 8.3 -20.9 -9 2.6z" fill="#a0faa1" stroke="#a0faa1"/>
<path d="M1176.8 1705.3l9.5 4.5 7.1 3.3 -9.5 -4.8z" fill="#ff8646" stroke="#ff8646"/>
<path d="M529.1 1923.1l8.9 -4.7 8.3 -22.3 -8.9 4.9z" fill="#78ffb8" stroke="#78ffb8"/>
<path d="M827.7 1720.5l9.3 0.6 8.1 -6.3 -9.3 -0.8z" fill="#ff914c" stroke="#ff914c"/>
<path d="M455.1 2154l8.9 -1.1 8.1 -30.9 -8.8 4z" fill="#4856fb" stroke="#4856fb"/>
<path d="M1023.6 1679.7l9.5 -0.4 7.6 -2.9 -9.5 0.2z" fill="#ff6232" stroke="#ff6232"/>
<path d="M503.5 1969.8l8.8 -5.5 8.3 -21.1 -8.8 6.2z" fill="#50f4cc" stroke="#50f4cc"/>
<path d="M801.1 1726.2l9.3 0.6 8.1 -6.9 -9.3 -0.7z" fill="#ff9850" stroke="#ff9850"/>
<path d="M747.8 1741.7l9.2 -0.4 8.2 -8.6 -9.2 0.1z" fill="#ffa759" stroke="#ffa759"/>
<path d="M623.8 1790.4l9.1 1 8.4 -13.2 -9.1 -1.4z" fill="#e2d176" stroke="#e2d176"/>
<path d="M1131.6 1687.4l9.5 3.7 7.2 1.1 -9.5 -4z" fill="#ff703a" stroke="#ff703a"/>
<path d="M774.4 1732.9l9.2 0.3 8.2 -7.6 -9.2 -0.4z" fill="#ff9d53" stroke="#ff9d53"/>
<path d="M463.3 2126l8.8 -4 7.9 -36.2 -8.7 6.5z" fill="#2e7bf7" stroke="#2e7bf7"/>
<path d="M997 1685.3l9.5 -1.2 7.7 -3.7 -9.5 1z" fill="#ff6835" stroke="#ff6835"/>
<path d="M571.7 1850l9 -1.7 8.3 -21 -9 1.9z" fill="#b4f295" stroke="#b4f295"/>
<path d="M650.4 1779.9l9.1 1.6 8.4 -10.6 -9.1 -1.8z" fill="#ebca70" stroke="#ebca70"/>
<path d="M970.3 1692.2l9.5 -1.5 7.7 -3.9 -9.4 1.5z" fill="#ff703a" stroke="#ff703a"/>
<path d="M677.1 1772.5l9.2 1.2 8.3 -10.3 -9.2 -0.8z" fill="#f0c46c" stroke="#f0c46c"/>
<path d="M446.8 2177.1l8.9 0.5 8.3 -24.6 -8.9 1.1z" fill="#5e35fe" stroke="#5e35fe"/>
<path d="M943.7 1699l9.4 -1.3 7.8 -4.1 -9.4 1.1z" fill="#ff793e" stroke="#ff793e"/>
<path d="M917 1705.3l9.4 -0.8 7.9 -4.6 -9.4 0.6z" fill="#ff7e41" stroke="#ff7e41"/>
<path d="M1186.3 1709.8l9.5 4.9 7 3.5 -9.5 -5.1z" fill="#ff8947" stroke="#ff8947"/>
<path d="M606.4 1806.8l9.1 0 8.3 -16.3 -9.1 -0.5z" fill="#d9da7d" stroke="#d9da7d"/>
<path d="M890.4 1710.9l9.4 -0.1 7.9 -5.2 -9.3 0z" fill="#ff8646" stroke="#ff8646"/>
<path d="M589 1827.3l9 -1.1 8.3 -19.4 -9 0.8z" fill="#c8e688" stroke="#c8e688"/>
<path d="M703.7 1763.5l9.2 -0.3 8.3 -10.5 -9.2 0.4z" fill="#fbb965" stroke="#fbb965"/>
<path d="M1059.7 1677l9.5 0.9 7.5 -1.9 -9.5 -1z" fill="#ff5f30" stroke="#ff5f30"/>
<path d="M471.2 2092.3l8.7 -6.5 8 -34 -8.7 7.2z" fill="#10a2f0" stroke="#10a2f0"/>
<path d="M1095.7 1679.4l9.5 2.4 7.4 -0.7 -9.5 -2.5z" fill="#ff6232" stroke="#ff6232"/>
<path d="M546.2 1896.1l8.9 -3.5 8.3 -21.6 -9 2.9z" fill="#90feab" stroke="#90feab"/>
<path d="M863.7 1716l9.3 0.3 8 -5.7 -9.3 -0.5z" fill="#ff8c49" stroke="#ff8c49"/>
<path d="M520.7 1943.3l8.9 -4.4 8.3 -20.4 -8.9 4.7z" fill="#68fcc1" stroke="#68fcc1"/>
<path d="M495.3 1995l8.8 -5.3 8.2 -25.3 -8.8 5.5z" fill="#40ecd4" stroke="#40ecd4"/>
<path d="M1141.1 1691.2l9.5 4 7.2 1.3 -9.5 -4.2z" fill="#ff703a" stroke="#ff703a"/>
<path d="M479.2 2059l8.7 -7.2 8 -32.4 -8.8 6.5z" fill="#0fc4e7" stroke="#0fc4e7"/>
<path d="M730.3 1752.1l9.2 -0.7 8.2 -9.7 -9.2 0.5z" fill="#ffae5e" stroke="#ffae5e"/>
<path d="M837 1721.1l9.3 0.5 8 -6.2 -9.3 -0.7z" fill="#ff8e4a" stroke="#ff8e4a"/>
<path d="M487.2 2025.9l8.8 -6.5 8.1 -29.8 -8.8 5.3z" fill="#28dbde" stroke="#28dbde"/>
<path d="M1195.8 1714.6l9.5 5.4 7 3.4 -9.5 -5.3z" fill="#ff8e4a" stroke="#ff8e4a"/>
<path d="M632.9 1791.4l9.1 1.1 8.4 -12.7 -9.1 -1.7z" fill="#e4cf74" stroke="#e4cf74"/>
<path d="M810.3 1726.8l9.3 0.6 8.1 -6.8 -9.3 -0.7z" fill="#ff964f" stroke="#ff964f"/>
<path d="M1033.1 1679.3l9.5 0 7.6 -2.8 -9.5 -0.1z" fill="#ff5f30" stroke="#ff5f30"/>
<path d="M563.4 1870.9l9 -2 8.3 -20.6 -9 1.7z" fill="#a6f89d" stroke="#a6f89d"/>
<path d="M757 1741.4l9.2 -0.1 8.2 -8.4 -9.2 -0.1z" fill="#ffa256" stroke="#ffa256"/>
<path d="M659.5 1781.5l9.2 1.4 8.4 -10.4 -9.2 -1.6z" fill="#ecc86f" stroke="#ecc86f"/>
<path d="M783.7 1733.2l9.3 0.5 8.2 -7.6 -9.3 -0.6z" fill="#ff9b52" stroke="#ff9b52"/>
<path d="M686.2 1773.6l9.2 0.5 8.3 -10.6 -9.2 -0.2z" fill="#f2c26b" stroke="#f2c26b"/>
<path d="M464 2152.9l8.9 -1.4 8 -33 -8.8 3.6z" fill="#425ffa" stroke="#425ffa"/>
<path d="M1006.5 1684.1l9.5 -0.9 7.7 -3.5 -9.5 0.7z" fill="#ff6232" stroke="#ff6232"/>
<path d="M537.9 1918.4l8.9 -4.1 8.3 -21.7 -8.9 3.5z" fill="#80ffb4" stroke="#80ffb4"/>
<path d="M1105.2 1681.8l9.5 2.8 7.4 -0.5 -9.5 -3z" fill="#ff6232" stroke="#ff6232"/>
<path d="M455.7 2177.6l8.9 0.3 8.2 -26.4 -8.9 1.4z" fill="#5a3bfd" stroke="#5a3bfd"/>
<path d="M580.8 1848.3l9 -1.4 8.3 -20.7 -9 1.1z" fill="#bbee91" stroke="#bbee91"/>
<path d="M979.8 1690.7l9.5 -1.5 7.7 -3.9 -9.5 1.4z" fill="#ff6b37" stroke="#ff6b37"/>
<path d="M953.1 1697.7l9.4 -1.5 7.8 -4 -9.4 1.4z" fill="#ff733b" stroke="#ff733b"/>
<path d="M1069.2 1678l9.5 1.4 7.5 -1.8 -9.5 -1.5z" fill="#ff5c2f" stroke="#ff5c2f"/>
<path d="M1150.6 1695.1l9.5 4.2 7.2 1.5 -9.5 -4.4z" fill="#ff733b" stroke="#ff733b"/>
<path d="M926.4 1704.5l9.4 -1.2 7.9 -4.4 -9.4 0.9z" fill="#ff793e" stroke="#ff793e"/>
<path d="M615.5 1806.8l9.1 0.3 8.3 -15.7 -9.1 -1z" fill="#dbd87b" stroke="#dbd87b"/>
<path d="M1205.3 1720l9.5 5.6 7 3.3 -9.5 -5.5z" fill="#ff914c" stroke="#ff914c"/>
<path d="M899.7 1710.9l9.4 -0.5 7.9 -5.1 -9.4 0.3z" fill="#ff8143" stroke="#ff8143"/>
<path d="M512.4 1964.4l8.9 -4.2 8.3 -21.4 -8.9 4.4z" fill="#5af8c8" stroke="#5af8c8"/>
<path d="M712.9 1763.2l9.2 -0.6 8.3 -10.5 -9.2 0.6z" fill="#feb562" stroke="#feb562"/>
<path d="M598.1 1826.2l9.1 -0.7 8.3 -18.7 -9.1 0z" fill="#cce385" stroke="#cce385"/>
<path d="M472.1 2122l8.8 -3.6 7.9 -37.5 -8.8 4.8z" fill="#2489f5" stroke="#2489f5"/>
<path d="M873 1716.4l9.4 0.1 8 -5.5 -9.3 -0.2z" fill="#ff8646" stroke="#ff8646"/>
<path d="M846.3 1721.7l9.3 0.4 8 -6 -9.3 -0.5z" fill="#ff8c49" stroke="#ff8c49"/>
<path d="M555.2 1892.6l9 -2.8 8.3 -20.9 -9 2z" fill="#96fca7" stroke="#96fca7"/>
<path d="M642 1792.6l9.1 1.1 8.4 -12.1 -9.1 -1.6z" fill="#e6cd73" stroke="#e6cd73"/>
<path d="M739.5 1751.5l9.2 -0.6 8.2 -9.5 -9.2 0.4z" fill="#ffa95b" stroke="#ffa95b"/>
<path d="M819.6 1727.3l9.3 0.5 8.1 -6.7 -9.3 -0.6z" fill="#ff914c" stroke="#ff914c"/>
<path d="M1042.6 1679.3l9.5 0.4 7.6 -2.7 -9.5 -0.5z" fill="#ff5c2f" stroke="#ff5c2f"/>
<path d="M668.7 1782.9l9.2 1 8.3 -10.3 -9.2 -1.2z" fill="#eec66d" stroke="#eec66d"/>
<path d="M1214.8 1725.6l9.5 5.5 7 3.2 -9.5 -5.4z" fill="#ff964f" stroke="#ff964f"/>
<path d="M1160.1 1699.3l9.5 4.3 7.2 1.6 -9.5 -4.5z" fill="#ff763d" stroke="#ff763d"/>
<path d="M792.9 1733.7l9.3 0.5 8.1 -7.5 -9.3 -0.6z" fill="#ff9850" stroke="#ff9850"/>
<path d="M766.2 1741.3l9.3 0.3 8.2 -8.3 -9.2 -0.3z" fill="#ffa055" stroke="#ffa055"/>
<path d="M1114.8 1684.6l9.5 3.2 7.3 -0.3 -9.5 -3.4z" fill="#ff6232" stroke="#ff6232"/>
<path d="M529.6 1938.8l8.9 -3.7 8.3 -20.8 -8.9 4.1z" fill="#70febc" stroke="#70febc"/>
<path d="M480 2085.8l8.8 -4.8 8 -34.9 -8.8 5.7z" fill="#06aeed" stroke="#06aeed"/>
<path d="M504.1 1989.7l8.9 -4.6 8.3 -24.9 -8.9 4.2z" fill="#48f1d0" stroke="#48f1d0"/>
<path d="M572.4 1868.9l9 -1.7 8.3 -20.3 -9 1.4z" fill="#abf69b" stroke="#abf69b"/>
<path d="M695.4 1774.1l9.2 -0.3 8.3 -10.6 -9.2 0.3z" fill="#f6be68" stroke="#f6be68"/>
<path d="M1078.7 1679.3l9.5 1.8 7.5 -1.7 -9.5 -1.9z" fill="#ff5c2f" stroke="#ff5c2f"/>
<path d="M1016 1683.2l9.5 -0.6 7.6 -3.3 -9.5 0.4z" fill="#ff5c2f" stroke="#ff5c2f"/>
<path d="M488 2051.8l8.8 -5.7 8.1 -32.2 -8.8 5.6z" fill="#18cde4" stroke="#18cde4"/>
<path d="M624.6 1807.1l9.1 0.4 8.4 -14.9 -9.1 -1.1z" fill="#dcd67a" stroke="#dcd67a"/>
<path d="M496 2019.4l8.8 -5.6 8.2 -28.8 -8.9 4.6z" fill="#32e3da" stroke="#32e3da"/>
<path d="M464.6 2177.9l8.9 0 8.2 -27.8 -8.9 1.4z" fill="#5641fd" stroke="#5641fd"/>
<path d="M472.9 2151.5l8.9 -1.4 8 -34.2 -8.9 2.6z" fill="#3e65fa" stroke="#3e65fa"/>
<path d="M589.8 1846.9l9.1 -1.3 8.3 -20.1 -9.1 0.7z" fill="#beec8e" stroke="#beec8e"/>
<path d="M989.3 1689.2l9.5 -1.3 7.7 -3.7 -9.5 1.2z" fill="#ff6533" stroke="#ff6533"/>
<path d="M962.6 1696.2l9.5 -1.7 7.8 -3.8 -9.5 1.5z" fill="#ff6b37" stroke="#ff6b37"/>
<path d="M935.8 1703.4l9.4 -1.5 7.8 -4.1 -9.4 1.3z" fill="#ff733b" stroke="#ff733b"/>
<path d="M1224.3 1731.1l9.5 5.5 6.9 3 -9.5 -5.3z" fill="#ff9850" stroke="#ff9850"/>
<path d="M909.1 1710.4l9.4 -1 7.9 -4.9 -9.4 0.8z" fill="#ff7b40" stroke="#ff7b40"/>
<path d="M607.1 1825.5l9.1 -0.5 8.3 -17.9 -9.1 -0.3z" fill="#cee184" stroke="#cee184"/>
<path d="M722.1 1762.6l9.2 -0.7 8.3 -10.4 -9.2 0.7z" fill="#ffb360" stroke="#ffb360"/>
<path d="M546.9 1914.3l9 -3.5 8.3 -21.1 -9 2.8z" fill="#86ffb0" stroke="#86ffb0"/>
<path d="M882.4 1716.4l9.4 -0.2 8 -5.3 -9.4 0.1z" fill="#ff8444" stroke="#ff8444"/>
<path d="M1169.6 1703.6l9.5 4.5 7.1 1.6 -9.5 -4.5z" fill="#ff793e" stroke="#ff793e"/>
<path d="M651.2 1793.6l9.2 0.8 8.4 -11.6 -9.2 -1.4z" fill="#e6cd73" stroke="#e6cd73"/>
<path d="M1124.3 1687.7l9.5 3.5 7.3 -0.1 -9.5 -3.7z" fill="#ff6533" stroke="#ff6533"/>
<path d="M855.7 1722.1l9.3 0.2 8 -5.9 -9.3 -0.3z" fill="#ff8947" stroke="#ff8947"/>
<path d="M521.3 1960.2l8.9 -3.5 8.3 -21.5 -8.9 3.7z" fill="#60fac5" stroke="#60fac5"/>
<path d="M828.9 1727.9l9.3 0.4 8.1 -6.6 -9.3 -0.5z" fill="#ff8e4a" stroke="#ff8e4a"/>
<path d="M748.8 1750.9l9.2 -0.3 8.2 -9.3 -9.2 0.1z" fill="#ffa558" stroke="#ffa558"/>
<path d="M1052.2 1679.7l9.5 0.8 7.6 -2.5 -9.5 -0.9z" fill="#ff592d" stroke="#ff592d"/>
<path d="M677.9 1783.9l9.2 0.5 8.3 -10.3 -9.2 -0.5z" fill="#f0c46c" stroke="#f0c46c"/>
<path d="M480.9 2118.5l8.9 -2.6 7.9 -37.9 -8.9 3z" fill="#1e91f3" stroke="#1e91f3"/>
<path d="M802.2 1734.3l9.3 0.5 8.1 -7.4 -9.3 -0.6z" fill="#ff964f" stroke="#ff964f"/>
<path d="M775.5 1741.5l9.3 0.5 8.2 -8.3 -9.3 -0.5z" fill="#ff9d53" stroke="#ff9d53"/>
<path d="M564.1 1889.8l9 -2.4 8.3 -20.2 -9 1.7z" fill="#9cfba4" stroke="#9cfba4"/>
<path d="M1088.3 1681.1l9.5 2.2 7.4 -1.5 -9.5 -2.4z" fill="#ff592d" stroke="#ff592d"/>
<path d="M1179.1 1708.2l9.5 4.8 7.1 1.6 -9.5 -4.9z" fill="#ff7b40" stroke="#ff7b40"/>
<path d="M704.6 1773.9l9.2 -0.6 8.3 -10.7 -9.2 0.6z" fill="#fbb965" stroke="#fbb965"/>
<path d="M633.7 1807.5l9.1 0.3 8.4 -14.1 -9.1 -1.1z" fill="#ded579" stroke="#ded579"/>
<path d="M581.5 1867.2l9 -1.6 8.3 -20 -9.1 1.3z" fill="#aef498" stroke="#aef498"/>
<path d="M1025.5 1682.7l9.5 -0.2 7.6 -3.2 -9.5 0z" fill="#ff592d" stroke="#ff592d"/>
<path d="M538.5 1935.1l9 -3.3 8.3 -21 -9 3.5z" fill="#78ffb8" stroke="#78ffb8"/>
<path d="M1133.8 1691.2l9.5 3.8 7.3 0.1 -9.5 -4z" fill="#ff6835" stroke="#ff6835"/>
<path d="M488.8 2081l8.9 -3 8 -36.1 -8.9 4.2z" fill="#02b7eb" stroke="#02b7eb"/>
<path d="M513 1985.1l8.9 -4 8.3 -24.4 -8.9 3.5z" fill="#50f4cc" stroke="#50f4cc"/>
<path d="M598.8 1845.6l9.1 -1.3 8.3 -19.3 -9.1 0.5z" fill="#c2ea8c" stroke="#c2ea8c"/>
<path d="M473.6 2177.9l9 -0.1 8.2 -29.4 -8.9 1.7z" fill="#5247fc" stroke="#5247fc"/>
<path d="M998.8 1687.8l9.5 -1 7.7 -3.6 -9.5 0.9z" fill="#ff5f30" stroke="#ff5f30"/>
<path d="M616.2 1825l9.1 -0.5 8.3 -17 -9.1 -0.4z" fill="#d2de81" stroke="#d2de81"/>
<path d="M918.5 1709.4l9.4 -1.5 7.9 -4.5 -9.4 1.2z" fill="#ff763d" stroke="#ff763d"/>
<path d="M731.3 1761.9l9.2 -0.6 8.3 -10.4 -9.2 0.6z" fill="#ffae5e" stroke="#ffae5e"/>
<path d="M972 1694.5l9.5 -1.6 7.8 -3.7 -9.5 1.5z" fill="#ff6533" stroke="#ff6533"/>
<path d="M945.3 1701.9l9.5 -1.8 7.8 -3.9 -9.4 1.5z" fill="#ff6d38" stroke="#ff6d38"/>
<path d="M891.8 1716.2l9.4 -0.7 7.9 -5.2 -9.4 0.5z" fill="#ff7e41" stroke="#ff7e41"/>
<path d="M481.8 2150.1l8.9 -1.7 8 -34.8 -8.9 2.2z" fill="#386df9" stroke="#386df9"/>
<path d="M660.3 1794.5l9.2 0.5 8.4 -11.1 -9.2 -1z" fill="#e8cb72" stroke="#e8cb72"/>
<path d="M865 1722.2l9.4 -0.1 8 -5.6 -9.4 -0.1z" fill="#ff8646" stroke="#ff8646"/>
<path d="M1188.7 1713l9.5 5.2 7.1 1.8 -9.5 -5.4z" fill="#ff8143" stroke="#ff8143"/>
<path d="M1061.7 1680.5l9.5 1.2 7.5 -2.4 -9.5 -1.4z" fill="#ff562c" stroke="#ff562c"/>
<path d="M496.8 2046.1l8.9 -4.2 8.1 -32.5 -8.9 4.5z" fill="#20d5e1" stroke="#20d5e1"/>
<path d="M504.8 2013.9l8.9 -4.5 8.2 -28.3 -8.9 4z" fill="#3ae8d6" stroke="#3ae8d6"/>
<path d="M1097.8 1683.3l9.5 2.6 7.4 -1.4 -9.5 -2.8z" fill="#ff592d" stroke="#ff592d"/>
<path d="M838.3 1728.2l9.3 0.2 8.1 -6.4 -9.3 -0.4z" fill="#ff8c49" stroke="#ff8c49"/>
<path d="M555.8 1910.8l9 -3 8.3 -20.5 -9 2.4z" fill="#8cfead" stroke="#8cfead"/>
<path d="M687 1784.4l9.2 -0.1 8.3 -10.5 -9.2 0.3z" fill="#f2c26b" stroke="#f2c26b"/>
<path d="M758 1750.6l9.3 0.2 8.2 -9.3 -9.3 -0.3z" fill="#ffa256" stroke="#ffa256"/>
<path d="M811.5 1734.8l9.3 0.4 8.1 -7.3 -9.3 -0.5z" fill="#ff934d" stroke="#ff934d"/>
<path d="M784.7 1742l9.3 0.5 8.2 -8.3 -9.3 -0.5z" fill="#ff9b52" stroke="#ff9b52"/>
<path d="M1143.3 1695l9.5 4 7.3 0.3 -9.5 -4.2z" fill="#ff6835" stroke="#ff6835"/>
<path d="M489.8 2115.9l8.9 -2.2 7.9 -37.9 -8.9 2.3z" fill="#1898f2" stroke="#1898f2"/>
<path d="M530.2 1956.7l9 -3.1 8.3 -21.7 -9 3.3z" fill="#68fcc1" stroke="#68fcc1"/>
<path d="M573.1 1887.4l9 -2.1 8.3 -19.7 -9 1.6z" fill="#a0faa1" stroke="#a0faa1"/>
<path d="M642.8 1807.7l9.2 0 8.4 -13.3 -9.2 -0.8z" fill="#e0d377" stroke="#e0d377"/>
<path d="M713.8 1773.3l9.2 -0.7 8.3 -10.7 -9.2 0.7z" fill="#fcb763" stroke="#fcb763"/>
<path d="M1198.2 1718.2l9.5 5.4 7.1 1.9 -9.5 -5.6z" fill="#ff8444" stroke="#ff8444"/>
<path d="M1035 1682.5l9.5 0.3 7.6 -3.1 -9.5 -0.4z" fill="#ff562c" stroke="#ff562c"/>
<path d="M590.5 1865.6l9.1 -1.6 8.3 -19.6 -9.1 1.3z" fill="#b4f295" stroke="#b4f295"/>
<path d="M625.3 1824.5l9.1 -0.6 8.4 -16.1 -9.1 -0.3z" fill="#d4dd80" stroke="#d4dd80"/>
<path d="M1107.3 1685.9l9.5 3 7.4 -1.2 -9.5 -3.2z" fill="#ff592d" stroke="#ff592d"/>
<path d="M669.5 1795l9.2 0.1 8.4 -10.7 -9.2 -0.5z" fill="#ebca70" stroke="#ebca70"/>
<path d="M607.9 1844.3l9.1 -1.3 8.3 -18.5 -9.1 0.5z" fill="#c6e789" stroke="#c6e789"/>
<path d="M1008.3 1686.8l9.5 -0.7 7.7 -3.5 -9.5 0.6z" fill="#ff592d" stroke="#ff592d"/>
<path d="M740.5 1761.3l9.2 -0.3 8.2 -10.4 -9.2 0.3z" fill="#ffa95b" stroke="#ffa95b"/>
<path d="M482.5 2177.8l9 -0.4 8.1 -31 -8.9 2z" fill="#4e4dfc" stroke="#4e4dfc"/>
<path d="M1071.2 1681.7l9.5 1.7 7.5 -2.3 -9.5 -1.8z" fill="#ff532a" stroke="#ff532a"/>
<path d="M547.5 1931.8l9 -3 8.3 -20.9 -9 3z" fill="#7effb5" stroke="#7effb5"/>
<path d="M1152.8 1699l9.5 4.3 7.2 0.3 -9.5 -4.3z" fill="#ff6b37" stroke="#ff6b37"/>
<path d="M901.2 1715.6l9.4 -1.2 7.9 -4.9 -9.4 1z" fill="#ff7b40" stroke="#ff7b40"/>
<path d="M927.9 1707.9l9.5 -1.9 7.9 -4.2 -9.4 1.5z" fill="#ff703a" stroke="#ff703a"/>
<path d="M874.4 1722.1l9.4 -0.5 8 -5.4 -9.4 0.2z" fill="#ff8143" stroke="#ff8143"/>
<path d="M981.5 1692.9l9.5 -1.5 7.7 -3.6 -9.5 1.3z" fill="#ff5f30" stroke="#ff5f30"/>
<path d="M954.7 1700.1l9.5 -1.8 7.8 -3.7 -9.5 1.7z" fill="#ff6835" stroke="#ff6835"/>
<path d="M497.7 2078l8.9 -2.3 8 -37 -8.9 3.1z" fill="#0ac0e8" stroke="#0ac0e8"/>
<path d="M1207.7 1723.6l9.5 5.5 7 2 -9.5 -5.5z" fill="#ff8947" stroke="#ff8947"/>
<path d="M521.9 1981.1l8.9 -3.3 8.3 -24.2 -9 3.1z" fill="#56f7ca" stroke="#56f7ca"/>
<path d="M847.6 1728.4l9.4 -0.1 8.1 -6.2 -9.3 -0.2z" fill="#ff8947" stroke="#ff8947"/>
<path d="M490.7 2148.4l8.9 -2 8 -35 -8.9 2.2z" fill="#3176f8" stroke="#3176f8"/>
<path d="M767.3 1750.8l9.3 0.5 8.2 -9.3 -9.3 -0.5z" fill="#ffa055" stroke="#ffa055"/>
<path d="M820.8 1735.1l9.3 0.2 8.1 -7.1 -9.3 -0.4z" fill="#ff914c" stroke="#ff914c"/>
<path d="M794 1742.5l9.3 0.4 8.2 -8.2 -9.3 -0.5z" fill="#ff964f" stroke="#ff964f"/>
<path d="M696.2 1784.3l9.2 -0.5 8.3 -10.6 -9.2 0.6z" fill="#f4c069" stroke="#f4c069"/>
<path d="M564.8 1907.9l9 -2.6 8.4 -20 -9 2.1z" fill="#92fda9" stroke="#92fda9"/>
<path d="M505.7 2041.9l8.9 -3.1 8.1 -32.9 -8.9 3.5z" fill="#28dbde" stroke="#28dbde"/>
<path d="M513.7 2009.4l8.9 -3.5 8.2 -28.1 -8.9 3.3z" fill="#42edd3" stroke="#42edd3"/>
<path d="M652 1807.8l9.2 -0.2 8.4 -12.5 -9.2 -0.5z" fill="#e2d176" stroke="#e2d176"/>
<path d="M1044.5 1682.7l9.5 0.7 7.6 -2.9 -9.5 -0.8z" fill="#ff532a" stroke="#ff532a"/>
<path d="M1116.9 1688.9l9.5 3.3 7.4 -1 -9.5 -3.5z" fill="#ff5c2f" stroke="#ff5c2f"/>
<path d="M1162.4 1703.3l9.5 4.5 7.2 0.4 -9.5 -4.5z" fill="#ff6d38" stroke="#ff6d38"/>
<path d="M723 1772.6l9.2 -0.6 8.3 -10.7 -9.2 0.6z" fill="#ffb360" stroke="#ffb360"/>
<path d="M1217.2 1729.1l9.5 5.5 7 2 -9.5 -5.5z" fill="#ff8c49" stroke="#ff8c49"/>
<path d="M582.2 1885.3l9.1 -2 8.4 -19.3 -9.1 1.6z" fill="#a6f89d" stroke="#a6f89d"/>
<path d="M498.7 2113.6l8.9 -2.2 7.9 -37.8 -9 2.1z" fill="#11a0f1" stroke="#11a0f1"/>
<path d="M539.1 1953.5l9 -2.8 8.3 -21.9 -9 3z" fill="#6efebe" stroke="#6efebe"/>
<path d="M1080.8 1683.4l9.5 2.1 7.5 -2.2 -9.5 -2.2z" fill="#ff532a" stroke="#ff532a"/>
<path d="M599.6 1864l9.1 -1.7 8.3 -19.2 -9.1 1.3z" fill="#b9ef92" stroke="#b9ef92"/>
<path d="M678.7 1795.1l9.2 -0.2 8.4 -10.6 -9.2 0.1z" fill="#eec66d" stroke="#eec66d"/>
<path d="M634.5 1823.8l9.1 -0.8 8.4 -15.2 -9.2 0z" fill="#d9da7d" stroke="#d9da7d"/>
<path d="M1017.8 1686.1l9.5 -0.3 7.7 -3.3 -9.5 0.2z" fill="#ff532a" stroke="#ff532a"/>
<path d="M749.7 1761l9.3 0.1 8.2 -10.3 -9.3 -0.2z" fill="#ffa759" stroke="#ffa759"/>
<path d="M617 1843l9.1 -1.5 8.3 -17.7 -9.1 0.6z" fill="#cbe486" stroke="#cbe486"/>
<path d="M491.5 2177.4l9 -0.1 8.1 -32.1 -9 1.3z" fill="#4a53fb" stroke="#4a53fb"/>
<path d="M883.8 1721.6l9.4 -1 8 -5 -9.4 0.7z" fill="#ff7e41" stroke="#ff7e41"/>
<path d="M910.6 1714.3l9.4 -1.9 7.9 -4.6 -9.4 1.5z" fill="#ff733b" stroke="#ff733b"/>
<path d="M776.5 1751.3l9.3 0.4 8.2 -9.2 -9.3 -0.5z" fill="#ff9d53" stroke="#ff9d53"/>
<path d="M857 1728.4l9.4 -0.4 8 -5.9 -9.4 0.1z" fill="#ff8444" stroke="#ff8444"/>
<path d="M991 1691.4l9.5 -1.2 7.7 -3.5 -9.5 1z" fill="#ff592d" stroke="#ff592d"/>
<path d="M830.2 1735.3l9.4 0 8.1 -6.9 -9.3 -0.2z" fill="#ff8c49" stroke="#ff8c49"/>
<path d="M803.3 1742.9l9.3 0.2 8.2 -8 -9.3 -0.4z" fill="#ff934d" stroke="#ff934d"/>
<path d="M937.4 1706.1l9.5 -2.1 7.9 -3.9 -9.5 1.8z" fill="#ff6b37" stroke="#ff6b37"/>
<path d="M1171.9 1707.8l9.5 4.8 7.2 0.4 -9.5 -4.8z" fill="#ff703a" stroke="#ff703a"/>
<path d="M964.2 1698.3l9.5 -1.8 7.8 -3.6 -9.5 1.6z" fill="#ff6232" stroke="#ff6232"/>
<path d="M556.5 1928.8l9 -2.7 8.4 -20.8 -9 2.6z" fill="#84ffb2" stroke="#84ffb2"/>
<path d="M705.4 1783.9l9.2 -0.6 8.3 -10.7 -9.2 0.7z" fill="#f9bb66" stroke="#f9bb66"/>
<path d="M1126.4 1692.2l9.5 3.6 7.4 -0.9 -9.5 -3.8z" fill="#ff5c2f" stroke="#ff5c2f"/>
<path d="M506.6 2075.7l9 -2.1 8 -37.3 -9 2.4z" fill="#10c6e6" stroke="#10c6e6"/>
<path d="M499.6 2146.4l9 -1.3 8 -35.3 -9 1.7z" fill="#2e7bf7" stroke="#2e7bf7"/>
<path d="M530.8 1977.8l9 -2.8 8.3 -24.3 -9 2.8z" fill="#5df9c7" stroke="#5df9c7"/>
<path d="M1054.1 1683.4l9.5 1.1 7.6 -2.8 -9.5 -1.2z" fill="#ff5029" stroke="#ff5029"/>
<path d="M661.1 1807.5l9.2 -0.5 8.4 -11.9 -9.2 -0.1z" fill="#e6cd73" stroke="#e6cd73"/>
<path d="M1090.3 1685.5l9.6 2.5 7.5 -2.1 -9.5 -2.6z" fill="#ff532a" stroke="#ff532a"/>
<path d="M573.8 1905.3l9 -2.4 8.4 -19.7 -9.1 2z" fill="#99fca6" stroke="#99fca6"/>
<path d="M732.2 1772l9.3 -0.3 8.3 -10.7 -9.2 0.3z" fill="#ffae5e" stroke="#ffae5e"/>
<path d="M514.6 2038.8l9 -2.4 8.1 -33.2 -9 2.7z" fill="#2fe0db" stroke="#2fe0db"/>
<path d="M522.6 2005.9l9 -2.7 8.2 -28.2 -9 2.8z" fill="#48f1d0" stroke="#48f1d0"/>
<path d="M1181.5 1712.6l9.5 5.1 7.2 0.5 -9.5 -5.2z" fill="#ff763d" stroke="#ff763d"/>
<path d="M591.2 1883.3l9.1 -2.1 8.4 -19 -9.1 1.7z" fill="#abf69b" stroke="#abf69b"/>
<path d="M507.6 2111.5l9 -1.7 8 -37.7 -9 1.6z" fill="#0ca7ef" stroke="#0ca7ef"/>
<path d="M687.9 1794.9l9.2 -0.5 8.4 -10.6 -9.2 0.5z" fill="#f0c46c" stroke="#f0c46c"/>
<path d="M759 1761.1l9.3 0.3 8.2 -10.1 -9.3 -0.5z" fill="#ffa558" stroke="#ffa558"/>
<path d="M1027.3 1685.8l9.5 0.1 7.7 -3.2 -9.5 -0.3z" fill="#ff5029" stroke="#ff5029"/>
<path d="M1136 1695.9l9.6 3.9 7.3 -0.8 -9.5 -4z" fill="#ff5f30" stroke="#ff5f30"/>
<path d="M643.6 1823l9.2 -1 8.4 -14.5 -9.2 0.2z" fill="#dcd67a" stroke="#dcd67a"/>
<path d="M608.7 1862.2l9.1 -2.1 8.4 -18.6 -9.1 1.5z" fill="#bced8f" stroke="#bced8f"/>
<path d="M548.1 1950.7l9 -2.5 8.3 -22.1 -9 2.7z" fill="#74feba" stroke="#74feba"/>
<path d="M785.8 1751.7l9.3 0.3 8.2 -9 -9.3 -0.4z" fill="#ff9b52" stroke="#ff9b52"/>
<path d="M626.1 1841.6l9.1 -1.6 8.4 -17 -9.1 0.8z" fill="#cee184" stroke="#cee184"/>
<path d="M500.5 2177.3l9 1 8.1 -33.3 -9 0.2z" fill="#4659fb" stroke="#4659fb"/>
<path d="M812.7 1743.1l9.3 0 8.1 -7.8 -9.3 -0.2z" fill="#ff914c" stroke="#ff914c"/>
<path d="M866.3 1728l9.4 -0.8 8 -5.6 -9.4 0.5z" fill="#ff8143" stroke="#ff8143"/>
<path d="M839.5 1735.3l9.4 -0.3 8.1 -6.6 -9.4 0.1z" fill="#ff8947" stroke="#ff8947"/>
<path d="M893.2 1720.6l9.4 -1.6 8 -4.7 -9.4 1.2z" fill="#ff793e" stroke="#ff793e"/>
<path d="M1000.5 1690.3l9.5 -0.8 7.7 -3.3 -9.5 0.7z" fill="#ff532a" stroke="#ff532a"/>
<path d="M920 1712.5l9.5 -2.2 7.9 -4.2 -9.5 1.9z" fill="#ff6d38" stroke="#ff6d38"/>
<path d="M1191 1717.7l9.5 5.3 7.2 0.7 -9.5 -5.4z" fill="#ff793e" stroke="#ff793e"/>
<path d="M714.7 1783.3l9.2 -0.5 8.3 -10.7 -9.2 0.6z" fill="#fcb763" stroke="#fcb763"/>
<path d="M1099.8 1688l9.6 2.9 7.5 -1.9 -9.5 -3z" fill="#ff532a" stroke="#ff532a"/>
<path d="M1063.6 1684.6l9.6 1.6 7.6 -2.8 -9.5 -1.7z" fill="#ff4d27" stroke="#ff4d27"/>
<path d="M973.7 1696.5l9.5 -1.6 7.8 -3.4 -9.5 1.5z" fill="#ff592d" stroke="#ff592d"/>
<path d="M946.9 1704l9.5 -2.1 7.8 -3.6 -9.5 1.8z" fill="#ff6232" stroke="#ff6232"/>
<path d="M508.6 2145.1l9 -0.2 8 -35.9 -9 0.7z" fill="#2884f6" stroke="#2884f6"/>
<path d="M565.5 1926l9 -2.4 8.4 -20.7 -9 2.4z" fill="#8bfeae" stroke="#8bfeae"/>
<path d="M515.6 2073.7l9 -1.6 8 -37.3 -9 1.6z" fill="#14cae5" stroke="#14cae5"/>
<path d="M670.3 1807l9.2 -0.7 8.4 -11.3 -9.2 0.2z" fill="#e8cb72" stroke="#e8cb72"/>
<path d="M1145.5 1699.8l9.6 4.2 7.3 -0.7 -9.5 -4.3z" fill="#ff6232" stroke="#ff6232"/>
<path d="M539.8 1975l9 -2.3 8.3 -24.6 -9 2.5z" fill="#62fbc4" stroke="#62fbc4"/>
<path d="M741.5 1771.7l9.3 0 8.3 -10.6 -9.3 -0.1z" fill="#ffac5c" stroke="#ffac5c"/>
<path d="M582.9 1902.9l9.1 -2.2 8.4 -19.5 -9.1 2.1z" fill="#9cfba4" stroke="#9cfba4"/>
<path d="M1200.6 1723l9.6 5.4 7.1 0.8 -9.5 -5.5z" fill="#ff7e41" stroke="#ff7e41"/>
<path d="M1036.9 1686l9.6 0.6 7.6 -3.1 -9.5 -0.7z" fill="#ff4d27" stroke="#ff4d27"/>
<path d="M768.3 1761.3l9.3 0.3 8.2 -10 -9.3 -0.4z" fill="#ffa055" stroke="#ffa055"/>
<path d="M523.5 2036.4l9 -1.6 8.1 -33.5 -9 2z" fill="#34e4d9" stroke="#34e4d9"/>
<path d="M697.1 1794.5l9.2 -0.5 8.3 -10.7 -9.2 0.6z" fill="#f4c069" stroke="#f4c069"/>
<path d="M531.6 2003.2l9 -2 8.2 -28.5 -9 2.3z" fill="#4ef3cd" stroke="#4ef3cd"/>
<path d="M652.8 1822l9.2 -1.2 8.4 -13.8 -9.2 0.5z" fill="#ded579" stroke="#ded579"/>
<path d="M600.3 1881.2l9.1 -2.2 8.4 -18.9 -9.1 2.1z" fill="#b0f397" stroke="#b0f397"/>
<path d="M516.6 2109.8l9 -0.7 8 -37.9 -9 0.9z" fill="#08acee" stroke="#08acee"/>
<path d="M795.2 1751.9l9.3 0.1 8.2 -8.9 -9.3 -0.2z" fill="#ff964f" stroke="#ff964f"/>
<path d="M1109.4 1690.8l9.6 3.2 7.4 -1.8 -9.5 -3.3z" fill="#ff532a" stroke="#ff532a"/>
<path d="M509.6 2178.3l9.1 1.9 8.1 -34.3 -9.1 -1z" fill="#445cfb" stroke="#445cfb"/>
<path d="M822 1743.2l9.4 -0.2 8.1 -7.6 -9.4 0z" fill="#ff8e4a" stroke="#ff8e4a"/>
<path d="M1073.2 1686.2l9.6 2 7.5 -2.7 -9.5 -2.1z" fill="#ff4d27" stroke="#ff4d27"/>
<path d="M617.8 1860.2l9.1 -2.1 8.4 -18.1 -9.1 1.6z" fill="#c2ea8c" stroke="#c2ea8c"/>
<path d="M848.9 1735l9.4 -0.6 8.1 -6.4 -9.4 0.4z" fill="#ff8444" stroke="#ff8444"/>
<path d="M1155.1 1704l9.6 4.4 7.3 -0.6 -9.5 -4.5z" fill="#ff6533" stroke="#ff6533"/>
<path d="M635.2 1840l9.1 -1.6 8.4 -16.4 -9.2 1z" fill="#d2de81" stroke="#d2de81"/>
<path d="M875.7 1727.2l9.4 -1.3 8 -5.3 -9.4 1z" fill="#ff7b40" stroke="#ff7b40"/>
<path d="M557.1 1948.2l9 -2.2 8.3 -22.4 -9 2.4z" fill="#7affb7" stroke="#7affb7"/>
<path d="M1010.1 1689.5l9.6 -0.4 7.7 -3.2 -9.5 0.3z" fill="#ff4d27" stroke="#ff4d27"/>
<path d="M902.6 1719l9.5 -2.1 8 -4.4 -9.4 1.9z" fill="#ff703a" stroke="#ff703a"/>
<path d="M723.9 1782.8l9.3 -0.2 8.3 -10.8 -9.3 0.3z" fill="#ffb360" stroke="#ffb360"/>
<path d="M1210.1 1728.4l9.6 5.3 7.1 0.9 -9.5 -5.5z" fill="#ff8143" stroke="#ff8143"/>
<path d="M929.5 1710.2l9.5 -2.4 7.9 -3.8 -9.5 2.1z" fill="#ff6835" stroke="#ff6835"/>
<path d="M983.2 1694.8l9.5 -1.3 7.8 -3.2 -9.5 1.2z" fill="#ff532a" stroke="#ff532a"/>
<path d="M517.6 2144.9l9.1 1 8 -36.8 -9.1 -0.1z" fill="#2686f5" stroke="#2686f5"/>
<path d="M956.4 1701.9l9.5 -2 7.8 -3.4 -9.5 1.8z" fill="#ff5c2f" stroke="#ff5c2f"/>
<path d="M679.5 1806.3l9.2 -0.7 8.4 -11.1 -9.2 0.5z" fill="#ecc86f" stroke="#ecc86f"/>
<path d="M524.6 2072.1l9 -0.9 8 -37.3 -9 0.9z" fill="#18cde4" stroke="#18cde4"/>
<path d="M750.7 1771.7l9.3 0.2 8.3 -10.6 -9.3 -0.3z" fill="#ffa95b" stroke="#ffa95b"/>
<path d="M574.5 1923.6l9.1 -2.1 8.4 -20.8 -9.1 2.2z" fill="#8efeac" stroke="#8efeac"/>
<path d="M1119 1694l9.6 3.5 7.4 -1.7 -9.5 -3.6z" fill="#ff562c" stroke="#ff562c"/>
<path d="M1164.6 1708.4l9.6 4.7 7.3 -0.5 -9.5 -4.8z" fill="#ff6835" stroke="#ff6835"/>
<path d="M1046.4 1686.6l9.6 1.1 7.6 -3.1 -9.5 -1.1z" fill="#ff4a26" stroke="#ff4a26"/>
<path d="M548.8 1972.7l9 -1.7 8.3 -25 -9 2.2z" fill="#68fcc1" stroke="#68fcc1"/>
<path d="M777.6 1761.6l9.3 0.2 8.2 -9.9 -9.3 -0.3z" fill="#ff9d53" stroke="#ff9d53"/>
<path d="M518.6 2180.2l9.1 2.8 8 -35.2 -9.1 -1.9z" fill="#425ffa" stroke="#425ffa"/>
<path d="M1082.8 1688.2l9.6 2.4 7.5 -2.6 -9.6 -2.5z" fill="#ff4d27" stroke="#ff4d27"/>
<path d="M591.9 1900.7l9.1 -2.1 8.4 -19.6 -9.1 2.2z" fill="#a2f9a0" stroke="#a2f9a0"/>
<path d="M706.3 1793.9l9.3 -0.3 8.3 -10.8 -9.2 0.5z" fill="#f9bb66" stroke="#f9bb66"/>
<path d="M804.5 1752l9.4 -0.1 8.2 -8.7 -9.3 0z" fill="#ff934d" stroke="#ff934d"/>
<path d="M525.6 2109.1l9.1 0.1 8 -38.3 -9.1 0.3z" fill="#04b0ed" stroke="#04b0ed"/>
<path d="M661.9 1820.8l9.2 -1.2 8.4 -13.4 -9.2 0.7z" fill="#e2d176" stroke="#e2d176"/>
<path d="M532.6 2034.8l9 -0.9 8.1 -34 -9 1.4z" fill="#38e7d7" stroke="#38e7d7"/>
<path d="M831.4 1742.9l9.4 -0.5 8.1 -7.3 -9.4 0.3z" fill="#ff8947" stroke="#ff8947"/>
<path d="M540.6 2001.2l9 -1.4 8.2 -28.9 -9 1.7z" fill="#52f5cb" stroke="#52f5cb"/>
<path d="M609.4 1879.1l9.1 -2.1 8.4 -18.8 -9.1 2.1z" fill="#b4f295" stroke="#b4f295"/>
<path d="M858.3 1734.4l9.4 -1 8.1 -6.1 -9.4 0.8z" fill="#ff7e41" stroke="#ff7e41"/>
<path d="M1019.6 1689.1l9.6 0.1 7.7 -3.2 -9.5 -0.1z" fill="#ff4a26" stroke="#ff4a26"/>
<path d="M644.4 1838.4l9.2 -1.6 8.4 -15.9 -9.2 1.2z" fill="#d6db7e" stroke="#d6db7e"/>
<path d="M626.9 1858.1l9.1 -2 8.4 -17.8 -9.1 1.6z" fill="#c6e789" stroke="#c6e789"/>
<path d="M885.2 1725.9l9.4 -1.9 8 -5 -9.4 1.6z" fill="#ff763d" stroke="#ff763d"/>
<path d="M733.2 1782.5l9.3 0.1 8.3 -10.9 -9.3 0z" fill="#ffb05f" stroke="#ffb05f"/>
<path d="M1174.2 1713.1l9.6 4.9 7.2 -0.4 -9.5 -5.1z" fill="#ff6b37" stroke="#ff6b37"/>
<path d="M1128.5 1697.6l9.6 3.8 7.4 -1.6 -9.6 -3.9z" fill="#ff562c" stroke="#ff562c"/>
<path d="M526.7 2145.9l9.1 1.9 8 -37.9 -9.1 -0.7z" fill="#2489f5" stroke="#2489f5"/>
<path d="M566.2 1946l9.1 -1.8 8.3 -22.7 -9.1 2.1z" fill="#7effb5" stroke="#7effb5"/>
<path d="M912.1 1716.9l9.5 -2.5 7.9 -4.2 -9.5 2.2z" fill="#ff6b37" stroke="#ff6b37"/>
<path d="M992.8 1693.5l9.6 -0.9 7.7 -3.1 -9.5 0.8z" fill="#ff4d27" stroke="#ff4d27"/>
<path d="M939 1707.8l9.5 -2.4 7.9 -3.5 -9.5 2.1z" fill="#ff5f30" stroke="#ff5f30"/>
<path d="M760 1771.9l9.3 0.3 8.3 -10.6 -9.3 -0.3z" fill="#ffa558" stroke="#ffa558"/>
<path d="M965.9 1699.8l9.5 -1.8 7.8 -3.1 -9.5 1.6z" fill="#ff562c" stroke="#ff562c"/>
<path d="M688.7 1805.5l9.2 -0.4 8.4 -11.2 -9.2 0.5z" fill="#f0c46c" stroke="#f0c46c"/>
<path d="M1056 1687.6l9.6 1.5 7.6 -3 -9.6 -1.6z" fill="#ff4724" stroke="#ff4724"/>
<path d="M533.6 2071.1l9.1 -0.3 8 -37.4 -9.1 0.4z" fill="#1dd1e2" stroke="#1dd1e2"/>
<path d="M1092.3 1690.6l9.6 2.8 7.5 -2.5 -9.6 -2.9z" fill="#ff4d27" stroke="#ff4d27"/>
<path d="M527.8 2183l9.1 3.2 8 -36.2 -9.1 -2.2z" fill="#425ffa" stroke="#425ffa"/>
<path d="M786.9 1761.8l9.3 0 8.2 -9.8 -9.3 -0.1z" fill="#ff9b52" stroke="#ff9b52"/>
<path d="M583.6 1921.5l9.1 -1.9 8.4 -21 -9.1 2.1z" fill="#94fda8" stroke="#94fda8"/>
<path d="M1183.8 1718l9.6 5.1 7.2 -0.2 -9.5 -5.3z" fill="#ff6d38" stroke="#ff6d38"/>
<path d="M557.9 1971l9.1 -1.2 8.3 -25.5 -9.1 1.8z" fill="#6dfdbf" stroke="#6dfdbf"/>
<path d="M715.6 1793.6l9.3 0 8.3 -11 -9.3 0.2z" fill="#fbb965" stroke="#fbb965"/>
<path d="M813.8 1751.9l9.4 -0.4 8.2 -8.5 -9.4 0.2z" fill="#ff8e4a" stroke="#ff8e4a"/>
<path d="M1138.1 1701.4l9.6 4.1 7.4 -1.5 -9.6 -4.2z" fill="#ff592d" stroke="#ff592d"/>
<path d="M534.7 2109.1l9.1 0.7 8 -38.9 -9.1 -0.1z" fill="#01b3ec" stroke="#01b3ec"/>
<path d="M601 1898.6l9.1 -2 8.4 -19.8 -9.1 2.1z" fill="#a8f79c" stroke="#a8f79c"/>
<path d="M671.1 1819.6l9.2 -1.1 8.4 -13 -9.2 0.7z" fill="#e6cd73" stroke="#e6cd73"/>
<path d="M541.6 2033.8l9.1 -0.4 8.1 -34.1 -9.1 0.6z" fill="#3dead5" stroke="#3dead5"/>
<path d="M840.7 1742.4l9.4 -0.9 8.1 -7.1 -9.4 0.6z" fill="#ff8444" stroke="#ff8444"/>
<path d="M1029.2 1689.1l9.6 0.5 7.7 -3.1 -9.6 -0.6z" fill="#ff4724" stroke="#ff4724"/>
<path d="M549.7 1999.9l9.1 -0.6 8.2 -29.5 -9.1 1.2z" fill="#56f7ca" stroke="#56f7ca"/>
<path d="M535.8 2147.8l9.1 2.2 8 -38.9 -9.1 -1.2z" fill="#218cf4" stroke="#218cf4"/>
<path d="M742.5 1782.6l9.3 0.3 8.3 -11 -9.3 -0.2z" fill="#ffae5e" stroke="#ffae5e"/>
<path d="M867.7 1733.3l9.4 -1.6 8.1 -5.9 -9.4 1.3z" fill="#ff793e" stroke="#ff793e"/>
<path d="M618.5 1876.9l9.1 -2 8.4 -18.8 -9.1 2z" fill="#bbee91" stroke="#bbee91"/>
<path d="M653.6 1836.8l9.2 -1.5 8.4 -15.7 -9.2 1.2z" fill="#dbd87b" stroke="#dbd87b"/>
<path d="M1101.9 1693.3l9.6 3.1 7.5 -2.4 -9.6 -3.2z" fill="#ff4d27" stroke="#ff4d27"/>
<path d="M1193.3 1723.2l9.6 5.3 7.2 -0.1 -9.6 -5.4z" fill="#ff733b" stroke="#ff733b"/>
<path d="M636 1856.1l9.2 -1.8 8.4 -17.6 -9.2 1.6z" fill="#cbe486" stroke="#cbe486"/>
<path d="M894.6 1724l9.5 -2.4 8 -4.7 -9.5 2.1z" fill="#ff6d38" stroke="#ff6d38"/>
<path d="M1065.6 1689.2l9.6 2 7.6 -3 -9.6 -2z" fill="#ff4724" stroke="#ff4724"/>
<path d="M536.9 2186.2l9.2 3 8 -36.9 -9.2 -2.4z" fill="#425ffa" stroke="#425ffa"/>
<path d="M1002.3 1692.6l9.6 -0.5 7.7 -3 -9.6 0.4z" fill="#ff4a26" stroke="#ff4a26"/>
<path d="M769.4 1772.2l9.3 0.3 8.2 -10.7 -9.3 -0.2z" fill="#ffa256" stroke="#ffa256"/>
<path d="M575.2 1944.2l9.1 -1.4 8.3 -23.2 -9.1 1.9z" fill="#84ffb2" stroke="#84ffb2"/>
<path d="M698 1805.1l9.3 -0.1 8.4 -11.4 -9.3 0.3z" fill="#f2c26b" stroke="#f2c26b"/>
<path d="M921.5 1714.4l9.5 -2.7 7.9 -3.9 -9.5 2.4z" fill="#ff6232" stroke="#ff6232"/>
<path d="M1147.7 1705.4l9.6 4.3 7.3 -1.4 -9.6 -4.4z" fill="#ff5c2f" stroke="#ff5c2f"/>
<path d="M542.7 2070.8l9.1 0.1 8 -37.7 -9.1 0.1z" fill="#20d5e1" stroke="#20d5e1"/>
<path d="M975.4 1698l9.6 -1.5 7.8 -2.9 -9.5 1.3z" fill="#ff5029" stroke="#ff5029"/>
<path d="M948.5 1705.4l9.5 -2.4 7.9 -3.2 -9.5 2z" fill="#ff562c" stroke="#ff562c"/>
<path d="M796.3 1761.9l9.4 -0.2 8.2 -9.8 -9.4 0.1z" fill="#ff964f" stroke="#ff964f"/>
<path d="M1202.9 1728.4l9.6 5.3 7.2 -0.1 -9.6 -5.3z" fill="#ff763d" stroke="#ff763d"/>
<path d="M724.8 1793.6l9.3 0.3 8.3 -11.3 -9.3 -0.1z" fill="#feb562" stroke="#feb562"/>
<path d="M592.7 1919.7l9.1 -1.6 8.4 -21.3 -9.1 2z" fill="#99fca6" stroke="#99fca6"/>
<path d="M543.8 2109.9l9.1 1.2 8 -39.7 -9.1 -0.4z" fill="#00b5eb" stroke="#00b5eb"/>
<path d="M823.2 1751.5l9.4 -0.7 8.2 -8.3 -9.4 0.5z" fill="#ff8c49" stroke="#ff8c49"/>
<path d="M1038.8 1689.7l9.6 1 7.7 -3.1 -9.6 -1.1z" fill="#ff4422" stroke="#ff4422"/>
<path d="M567 1969.8l9.1 -0.8 8.3 -26.1 -9.1 1.4z" fill="#70febc" stroke="#70febc"/>
<path d="M1111.5 1696.5l9.6 3.4 7.5 -2.3 -9.6 -3.5z" fill="#ff4d27" stroke="#ff4d27"/>
<path d="M544.9 2150l9.2 2.4 8 -39.7 -9.1 -1.6z" fill="#208ef4" stroke="#208ef4"/>
<path d="M680.3 1818.6l9.2 -0.7 8.4 -12.8 -9.2 0.4z" fill="#ebca70" stroke="#ebca70"/>
<path d="M550.7 2033.4l9.1 -0.1 8.1 -34.3 -9.1 0.3z" fill="#40ecd4" stroke="#40ecd4"/>
<path d="M546.1 2189.2l9.2 3.7 8 -37.5 -9.2 -3.1z" fill="#425ffa" stroke="#425ffa"/>
<path d="M850.2 1741.5l9.4 -1.3 8.1 -6.8 -9.4 1z" fill="#ff7e41" stroke="#ff7e41"/>
<path d="M751.8 1782.9l9.3 0.4 8.3 -11.1 -9.3 -0.3z" fill="#ffa95b" stroke="#ffa95b"/>
<path d="M1157.3 1709.8l9.6 4.6 7.3 -1.2 -9.6 -4.7z" fill="#ff5f30" stroke="#ff5f30"/>
<path d="M1075.2 1691.1l9.6 2.4 7.6 -2.9 -9.6 -2.4z" fill="#ff4422" stroke="#ff4422"/>
<path d="M610.2 1896.7l9.1 -1.8 8.4 -20 -9.1 2z" fill="#acf59a" stroke="#acf59a"/>
<path d="M558.8 1999.3l9.1 -0.3 8.2 -30 -9.1 0.8z" fill="#5af8c8" stroke="#5af8c8"/>
<path d="M877.1 1731.8l9.5 -2.1 8 -5.6 -9.4 1.9z" fill="#ff733b" stroke="#ff733b"/>
<path d="M627.7 1874.9l9.2 -1.8 8.4 -18.8 -9.2 1.8z" fill="#beec8e" stroke="#beec8e"/>
<path d="M662.8 1835.3l9.2 -1.3 8.4 -15.5 -9.2 1.1z" fill="#ded579" stroke="#ded579"/>
<path d="M778.7 1772.5l9.3 0.1 8.2 -10.7 -9.3 0z" fill="#ffa055" stroke="#ffa055"/>
<path d="M1011.9 1692.1l9.6 0 7.7 -2.9 -9.6 -0.1z" fill="#ff4422" stroke="#ff4422"/>
<path d="M645.2 1854.3l9.2 -1.6 8.4 -17.5 -9.2 1.5z" fill="#d0e082" stroke="#d0e082"/>
<path d="M707.2 1805l9.3 0.3 8.3 -11.7 -9.3 0z" fill="#f6be68" stroke="#f6be68"/>
<path d="M904.1 1721.6l9.5 -2.7 8 -4.5 -9.5 2.5z" fill="#ff6835" stroke="#ff6835"/>
<path d="M584.4 1942.8l9.1 -1.2 8.3 -23.6 -9.1 1.6z" fill="#88ffaf" stroke="#88ffaf"/>
<path d="M551.8 2070.9l9.1 0.4 8 -38.1 -9.1 0z" fill="#24d8df" stroke="#24d8df"/>
<path d="M1121.1 1699.9l9.6 3.7 7.4 -2.3 -9.6 -3.8z" fill="#ff5029" stroke="#ff5029"/>
<path d="M985 1696.5l9.6 -1.1 7.8 -2.8 -9.6 0.9z" fill="#ff4a26" stroke="#ff4a26"/>
<path d="M805.6 1761.6l9.4 -0.5 8.2 -9.7 -9.4 0.4z" fill="#ff934d" stroke="#ff934d"/>
<path d="M1166.9 1714.3l9.6 4.8 7.3 -1.1 -9.6 -4.9z" fill="#ff6232" stroke="#ff6232"/>
<path d="M931.1 1711.7l9.5 -2.8 7.9 -3.5 -9.5 2.4z" fill="#ff592d" stroke="#ff592d"/>
<path d="M958 1703l9.6 -2.1 7.8 -2.9 -9.5 1.8z" fill="#ff5029" stroke="#ff5029"/>
<path d="M555.2 2192.9l9.2 4.4 8 -38 -9.2 -3.8z" fill="#445cfb" stroke="#445cfb"/>
<path d="M734.1 1793.9l9.3 0.5 8.3 -11.5 -9.3 -0.3z" fill="#ffb360" stroke="#ffb360"/>
<path d="M552.9 2111.1l9.1 1.6 8 -40.6 -9.1 -0.7z" fill="#02b7eb" stroke="#02b7eb"/>
<path d="M554.1 2152.4l9.2 3.1 8 -40.6 -9.2 -2.2z" fill="#208ef4" stroke="#208ef4"/>
<path d="M1048.4 1690.7l9.6 1.5 7.6 -3.1 -9.6 -1.5z" fill="#ff4121" stroke="#ff4121"/>
<path d="M1084.8 1693.5l9.6 2.8 7.5 -2.9 -9.6 -2.8z" fill="#ff4724" stroke="#ff4724"/>
<path d="M832.6 1750.7l9.4 -1.1 8.1 -8.1 -9.4 0.9z" fill="#ff8646" stroke="#ff8646"/>
<path d="M601.8 1918l9.1 -1.4 8.3 -21.7 -9.1 1.8z" fill="#9efaa2" stroke="#9efaa2"/>
<path d="M576.1 1968.9l9.1 -0.7 8.3 -26.6 -9.1 1.2z" fill="#76ffb9" stroke="#76ffb9"/>
<path d="M689.6 1817.9l9.3 0 8.4 -12.9 -9.3 0.1z" fill="#eec66d" stroke="#eec66d"/>
<path d="M559.8 2033.3l9.1 0 8.1 -34.6 -9.1 0.2z" fill="#42edd3" stroke="#42edd3"/>
<path d="M761.1 1783.3l9.3 0.4 8.3 -11.3 -9.3 -0.3z" fill="#ffa759" stroke="#ffa759"/>
<path d="M859.6 1740.2l9.4 -1.8 8.1 -6.6 -9.4 1.6z" fill="#ff793e" stroke="#ff793e"/>
<path d="M567.9 1998.9l9.1 -0.2 8.2 -30.4 -9.1 0.7z" fill="#5efac6" stroke="#5efac6"/>
<path d="M1176.5 1719.1l9.6 5 7.3 -0.9 -9.6 -5.1z" fill="#ff6533" stroke="#ff6533"/>
<path d="M619.3 1894.9l9.2 -1.6 8.4 -20.2 -9.2 1.8z" fill="#b2f396" stroke="#b2f396"/>
<path d="M1130.7 1703.6l9.6 4 7.4 -2.2 -9.6 -4.1z" fill="#ff5029" stroke="#ff5029"/>
<path d="M1021.5 1692.1l9.6 0.5 7.7 -2.9 -9.6 -0.5z" fill="#ff4121" stroke="#ff4121"/>
<path d="M788 1772.6l9.4 -0.2 8.2 -10.8 -9.4 0.2z" fill="#ff9b52" stroke="#ff9b52"/>
<path d="M672 1834l9.2 -0.8 8.4 -15.3 -9.2 0.7z" fill="#e2d176" stroke="#e2d176"/>
<path d="M564.5 2197.4l9.2 4.3 8 -38.3 -9.2 -4.1z" fill="#445cfb" stroke="#445cfb"/>
<path d="M716.5 1805.3l9.3 0.6 8.3 -12 -9.3 -0.3z" fill="#f9bb66" stroke="#f9bb66"/>
<path d="M886.6 1729.6l9.5 -2.6 8 -5.4 -9.5 2.4z" fill="#ff6d38" stroke="#ff6d38"/>
<path d="M636.8 1873.1l9.2 -1.5 8.4 -18.8 -9.2 1.6z" fill="#c4e88a" stroke="#c4e88a"/>
<path d="M654.4 1852.7l9.2 -1.3 8.4 -17.4 -9.2 1.3z" fill="#d4dd80" stroke="#d4dd80"/>
<path d="M560.9 2071.4l9.1 0.7 8 -38.7 -9.1 -0.1z" fill="#27dade" stroke="#27dade"/>
<path d="M563.3 2155.5l9.2 3.8 8 -41.8 -9.2 -2.6z" fill="#208ef4" stroke="#208ef4"/>
<path d="M1094.4 1696.2l9.6 3.1 7.5 -2.9 -9.6 -3.1z" fill="#ff4724" stroke="#ff4724"/>
<path d="M1058 1692.2l9.6 2 7.6 -3.1 -9.6 -2z" fill="#ff4121" stroke="#ff4121"/>
<path d="M593.5 1941.6l9.2 -1 8.3 -24 -9.1 1.4z" fill="#8cfead" stroke="#8cfead"/>
<path d="M562.1 2112.7l9.2 2.2 8 -41.8 -9.2 -1z" fill="#04b9ea" stroke="#04b9ea"/>
<path d="M994.6 1695.3l9.6 -0.6 7.8 -2.7 -9.6 0.5z" fill="#ff4422" stroke="#ff4422"/>
<path d="M815 1761.1l9.4 -0.8 8.2 -9.6 -9.4 0.7z" fill="#ff8e4a" stroke="#ff8e4a"/>
<path d="M913.6 1718.9l9.5 -3 8 -4.2 -9.5 2.7z" fill="#ff5f30" stroke="#ff5f30"/>
<path d="M743.5 1794.4l9.3 0.7 8.3 -11.7 -9.3 -0.4z" fill="#ffb05f" stroke="#ffb05f"/>
<path d="M1186.1 1724.1l9.6 5.1 7.2 -0.7 -9.6 -5.3z" fill="#ff6b37" stroke="#ff6b37"/>
<path d="M940.6 1708.9l9.6 -2.7 7.9 -3.2 -9.5 2.4z" fill="#ff532a" stroke="#ff532a"/>
<path d="M967.6 1700.9l9.6 -1.8 7.8 -2.7 -9.6 1.5z" fill="#ff4a26" stroke="#ff4a26"/>
<path d="M1140.3 1707.6l9.6 4.2 7.4 -2.1 -9.6 -4.3z" fill="#ff532a" stroke="#ff532a"/>
<path d="M698.8 1817.9l9.3 0.4 8.4 -13 -9.3 -0.3z" fill="#f0c46c" stroke="#f0c46c"/>
<path d="M770.4 1783.8l9.4 0.3 8.3 -11.5 -9.3 -0.1z" fill="#ffa558" stroke="#ffa558"/>
<path d="M842 1749.6l9.4 -1.5 8.1 -8 -9.4 1.3z" fill="#ff8143" stroke="#ff8143"/>
<path d="M568.9 2033.3l9.1 0.1 8.1 -34.9 -9.2 0.2z" fill="#46efd1" stroke="#46efd1"/>
<path d="M585.2 1968.3l9.2 -0.5 8.3 -27.1 -9.2 1z" fill="#7affb7" stroke="#7affb7"/>
<path d="M610.9 1916.6l9.2 -1.2 8.3 -22 -9.2 1.6z" fill="#a2f9a0" stroke="#a2f9a0"/>
<path d="M573.7 2201.7l9.2 3.5 8 -38.5 -9.2 -3.3z" fill="#4659fb" stroke="#4659fb"/>
<path d="M1031.1 1692.6l9.6 1 7.7 -2.9 -9.6 -1z" fill="#ff3e1f" stroke="#ff3e1f"/>
<path d="M577 1998.7l9.2 -0.2 8.2 -30.8 -9.2 0.5z" fill="#62fbc4" stroke="#62fbc4"/>
<path d="M572.5 2159.3l9.2 4.1 7.9 -43.2 -9.2 -2.7z" fill="#208ef4" stroke="#208ef4"/>
<path d="M1104 1699.3l9.6 3.4 7.5 -2.8 -9.6 -3.4z" fill="#ff4724" stroke="#ff4724"/>
<path d="M869 1738.4l9.5 -2.2 8.1 -6.5 -9.5 2.1z" fill="#ff733b" stroke="#ff733b"/>
<path d="M1195.7 1729.2l9.6 5.2 7.2 -0.7 -9.6 -5.3z" fill="#ff6d38" stroke="#ff6d38"/>
<path d="M725.8 1805.8l9.3 0.8 8.3 -12.3 -9.3 -0.5z" fill="#fbb965" stroke="#fbb965"/>
<path d="M797.4 1772.4l9.4 -0.4 8.2 -10.9 -9.4 0.5z" fill="#ff9850" stroke="#ff9850"/>
<path d="M628.5 1893.3l9.2 -1.3 8.4 -20.4 -9.2 1.5z" fill="#b6f193" stroke="#b6f193"/>
<path d="M1067.6 1694.2l9.6 2.4 7.6 -3.1 -9.6 -2.4z" fill="#ff4121" stroke="#ff4121"/>
<path d="M681.2 1833.2l9.3 -0.2 8.4 -15.1 -9.3 0z" fill="#e6cd73" stroke="#e6cd73"/>
<path d="M570 2072.1l9.2 1 8 -39.5 -9.2 -0.2z" fill="#28dbde" stroke="#28dbde"/>
<path d="M571.2 2114.9l9.2 2.6 7.9 -43.1 -9.2 -1.3z" fill="#07bbea" stroke="#07bbea"/>
<path d="M1149.9 1711.8l9.6 4.4 7.4 -1.9 -9.6 -4.6z" fill="#ff562c" stroke="#ff562c"/>
<path d="M646 1871.6l9.2 -1.2 8.4 -18.9 -9.2 1.3z" fill="#c8e688" stroke="#c8e688"/>
<path d="M663.6 1851.4l9.2 -0.9 8.4 -17.3 -9.2 0.8z" fill="#d9da7d" stroke="#d9da7d"/>
<path d="M896 1727l9.5 -2.9 8 -5.2 -9.5 2.7z" fill="#ff6533" stroke="#ff6533"/>
<path d="M752.8 1795l9.3 0.7 8.3 -12 -9.3 -0.4z" fill="#ffae5e" stroke="#ffae5e"/>
<path d="M1004.1 1694.7l9.6 -0.1 7.7 -2.6 -9.6 0z" fill="#ff3e1f" stroke="#ff3e1f"/>
<path d="M602.6 1940.6l9.2 -0.8 8.3 -24.5 -9.2 1.2z" fill="#90feab" stroke="#90feab"/>
<path d="M824.4 1760.3l9.4 -1.2 8.2 -9.5 -9.4 1.1z" fill="#ff8947" stroke="#ff8947"/>
<path d="M582.9 2205.2l9.2 3.7 8 -39.5 -9.2 -2.8z" fill="#4659fb" stroke="#4659fb"/>
<path d="M923.1 1715.9l9.5 -3.1 8 -3.9 -9.5 2.8z" fill="#ff562c" stroke="#ff562c"/>
<path d="M708.1 1818.3l9.3 0.7 8.4 -13.2 -9.3 -0.6z" fill="#f2c26b" stroke="#f2c26b"/>
<path d="M977.2 1699.1l9.6 -1.3 7.8 -2.4 -9.6 1.1z" fill="#ff4121" stroke="#ff4121"/>
<path d="M1113.6 1702.7l9.6 3.7 7.5 -2.8 -9.6 -3.7z" fill="#ff4a26" stroke="#ff4a26"/>
<path d="M779.8 1784.1l9.4 0.1 8.3 -11.7 -9.4 0.2z" fill="#ffa256" stroke="#ffa256"/>
<path d="M581.7 2163.4l9.2 3.3 7.9 -43.9 -9.2 -2.5z" fill="#208ef4" stroke="#208ef4"/>
<path d="M950.1 1706.2l9.6 -2.5 7.9 -2.8 -9.6 2.1z" fill="#ff4a26" stroke="#ff4a26"/>
<path d="M578 2033.3l9.2 0.2 8.1 -35.2 -9.2 0.1z" fill="#48f1d0" stroke="#48f1d0"/>
<path d="M1040.7 1693.6l9.6 1.5 7.7 -2.9 -9.6 -1.5z" fill="#ff3b1e" stroke="#ff3b1e"/>
<path d="M1159.5 1716.3l9.6 4.6 7.4 -1.8 -9.6 -4.8z" fill="#ff592d" stroke="#ff592d"/>
<path d="M851.4 1748.1l9.5 -1.9 8.1 -7.9 -9.4 1.8z" fill="#ff7b40" stroke="#ff7b40"/>
<path d="M594.4 1967.7l9.2 -0.4 8.3 -27.5 -9.2 0.8z" fill="#7dffb6" stroke="#7dffb6"/>
<path d="M1077.2 1696.6l9.6 2.8 7.6 -3.1 -9.6 -2.8z" fill="#ff4121" stroke="#ff4121"/>
<path d="M620.1 1915.4l9.2 -1 8.3 -22.4 -9.2 1.3z" fill="#a6f89d" stroke="#a6f89d"/>
<path d="M586.2 1998.5l9.2 -0.1 8.2 -31.1 -9.2 0.4z" fill="#64fbc3" stroke="#64fbc3"/>
<path d="M735.1 1806.6l9.3 0.9 8.3 -12.6 -9.3 -0.7z" fill="#fcb763" stroke="#fcb763"/>
<path d="M580.4 2117.5l9.2 2.7 7.9 -44.2 -9.2 -1.6z" fill="#07bbea" stroke="#07bbea"/>
<path d="M806.8 1772l9.4 -0.7 8.2 -11 -9.4 0.8z" fill="#ff934d" stroke="#ff934d"/>
<path d="M690.5 1833l9.3 0.3 8.4 -15 -9.3 -0.4z" fill="#e8cb72" stroke="#e8cb72"/>
<path d="M579.2 2073.1l9.2 1.3 8 -40.4 -9.2 -0.4z" fill="#2adddd" stroke="#2adddd"/>
<path d="M878.5 1736.1l9.5 -2.7 8.1 -6.4 -9.5 2.6z" fill="#ff6b37" stroke="#ff6b37"/>
<path d="M637.7 1892l9.2 -1 8.4 -20.6 -9.2 1.2z" fill="#bbee91" stroke="#bbee91"/>
<path d="M592.1 2208.9l9.2 3.2 8 -40.1 -9.2 -2.6z" fill="#4659fb" stroke="#4659fb"/>
<path d="M762.1 1795.7l9.4 0.6 8.3 -12.3 -9.4 -0.3z" fill="#ffac5c" stroke="#ffac5c"/>
<path d="M1123.2 1706.4l9.6 3.9 7.5 -2.7 -9.6 -4z" fill="#ff4a26" stroke="#ff4a26"/>
<path d="M672.8 1850.6l9.3 -0.4 8.4 -17.2 -9.3 0.2z" fill="#dcd67a" stroke="#dcd67a"/>
<path d="M1013.7 1694.6l9.6 0.5 7.7 -2.6 -9.6 -0.5z" fill="#ff3b1e" stroke="#ff3b1e"/>
<path d="M655.2 1870.4l9.2 -0.9 8.4 -19 -9.2 0.9z" fill="#cce385" stroke="#cce385"/>
<path d="M1169.1 1720.9l9.6 4.8 7.3 -1.6 -9.6 -5z" fill="#ff5c2f" stroke="#ff5c2f"/>
<path d="M590.9 2166.7l9.2 2.8 7.9 -44.6 -9.2 -2.1z" fill="#208ef4" stroke="#208ef4"/>
<path d="M611.8 1939.8l9.2 -0.6 8.3 -24.8 -9.2 1z" fill="#94fda8" stroke="#94fda8"/>
<path d="M833.8 1759.1l9.4 -1.6 8.2 -9.5 -9.4 1.5z" fill="#ff8444" stroke="#ff8444"/>
<path d="M905.6 1724.1l9.5 -3.2 8 -5 -9.5 3z" fill="#ff5c2f" stroke="#ff5c2f"/>
<path d="M717.4 1819.1l9.3 1 8.3 -13.4 -9.3 -0.8z" fill="#f4c069" stroke="#f4c069"/>
<path d="M1086.8 1699.4l9.6 3.1 7.6 -3.2 -9.6 -3.1z" fill="#ff4121" stroke="#ff4121"/>
<path d="M1050.3 1695.2l9.6 2 7.7 -3 -9.6 -2z" fill="#ff3b1e" stroke="#ff3b1e"/>
<path d="M789.2 1784.1l9.4 -0.1 8.2 -12 -9.4 0.4z" fill="#ff9d53" stroke="#ff9d53"/>
<path d="M986.8 1697.8l9.6 -0.8 7.8 -2.3 -9.6 0.6z" fill="#ff3e1f" stroke="#ff3e1f"/>
<path d="M587.2 2033.6l9.2 0.4 8.1 -35.5 -9.2 -0.1z" fill="#4df3ce" stroke="#4df3ce"/>
<path d="M932.6 1712.8l9.6 -3.1 7.9 -3.5 -9.6 2.7z" fill="#ff4d27" stroke="#ff4d27"/>
<path d="M589.7 2120.2l9.2 2.5 7.9 -45 -9.2 -1.8z" fill="#08bee9" stroke="#08bee9"/>
<path d="M603.5 1967.3l9.2 -0.2 8.3 -27.9 -9.2 0.6z" fill="#80ffb4" stroke="#80ffb4"/>
<path d="M744.5 1807.6l9.4 1 8.3 -12.9 -9.3 -0.7z" fill="#feb562" stroke="#feb562"/>
<path d="M959.7 1703.7l9.6 -2.1 7.9 -2.5 -9.6 1.8z" fill="#ff4422" stroke="#ff4422"/>
<path d="M1178.7 1725.7l9.6 5 7.3 -1.5 -9.6 -5.1z" fill="#ff6232" stroke="#ff6232"/>
<path d="M1132.8 1710.4l9.6 4.2 7.5 -2.7 -9.6 -4.2z" fill="#ff4d27" stroke="#ff4d27"/>
<path d="M629.3 1914.4l9.2 -0.8 8.3 -22.6 -9.2 1z" fill="#abf69b" stroke="#abf69b"/>
<path d="M860.9 1746.2l9.5 -2.2 8.1 -7.9 -9.5 2.2z" fill="#ff733b" stroke="#ff733b"/>
<path d="M595.3 1998.4l9.2 0.1 8.2 -31.4 -9.2 0.2z" fill="#68fcc1" stroke="#68fcc1"/>
<path d="M699.8 1833.3l9.3 0.7 8.4 -14.9 -9.3 -0.7z" fill="#ebca70" stroke="#ebca70"/>
<path d="M588.4 2074.4l9.2 1.6 8 -41.3 -9.2 -0.8z" fill="#2ddedc" stroke="#2ddedc"/>
<path d="M601.4 2212.1l9.2 1.7 8 -40.6 -9.2 -1.2z" fill="#4659fb" stroke="#4659fb"/>
<path d="M816.2 1771.3l9.4 -1 8.2 -11.1 -9.4 1.2z" fill="#ff8e4a" stroke="#ff8e4a"/>
<path d="M771.5 1796.3l9.4 0.4 8.3 -12.6 -9.4 -0.1z" fill="#ffa759" stroke="#ffa759"/>
<path d="M1023.4 1695.1l9.6 1.1 7.7 -2.6 -9.6 -1z" fill="#ff381c" stroke="#ff381c"/>
<path d="M646.9 1891l9.2 -0.7 8.4 -20.7 -9.2 0.9z" fill="#beec8e" stroke="#beec8e"/>
<path d="M1096.4 1702.5l9.6 3.4 7.6 -3.2 -9.6 -3.4z" fill="#ff4121" stroke="#ff4121"/>
<path d="M600.2 2169.4l9.2 2.6 7.9 -45.7 -9.2 -1.5z" fill="#208ef4" stroke="#208ef4"/>
<path d="M682.1 1850.2l9.3 0.1 8.4 -16.9 -9.3 -0.3z" fill="#ded579" stroke="#ded579"/>
<path d="M664.5 1869.5l9.3 -0.5 8.4 -18.9 -9.3 0.4z" fill="#d0e082" stroke="#d0e082"/>
<path d="M888 1733.5l9.5 -3 8.1 -6.4 -9.5 2.9z" fill="#ff6232" stroke="#ff6232"/>
<path d="M1059.9 1697.2l9.6 2.5 7.6 -3.1 -9.6 -2.4z" fill="#ff3b1e" stroke="#ff3b1e"/>
<path d="M726.8 1820l9.3 1.2 8.3 -13.6 -9.3 -0.9z" fill="#f6be68" stroke="#f6be68"/>
<path d="M1188.4 1730.7l9.6 5.1 7.3 -1.4 -9.6 -5.2z" fill="#ff6533" stroke="#ff6533"/>
<path d="M621 1939.2l9.2 -0.4 8.3 -25.2 -9.2 0.8z" fill="#99fca6" stroke="#99fca6"/>
<path d="M1142.4 1714.5l9.6 4.4 7.4 -2.6 -9.6 -4.4z" fill="#ff5029" stroke="#ff5029"/>
<path d="M843.3 1757.6l9.5 -1.9 8.2 -9.5 -9.5 1.9z" fill="#ff7e41" stroke="#ff7e41"/>
<path d="M798.5 1784l9.4 -0.4 8.2 -12.3 -9.4 0.7z" fill="#ff9850" stroke="#ff9850"/>
<path d="M598.9 2122.7l9.2 2.1 8 -45.6 -9.2 -1.4z" fill="#08bee9" stroke="#08bee9"/>
<path d="M596.4 2034l9.2 0.8 8.1 -35.9 -9.2 -0.4z" fill="#4ef3cd" stroke="#4ef3cd"/>
<path d="M996.4 1697l9.6 -0.2 7.8 -2.1 -9.6 0.1z" fill="#ff381c" stroke="#ff381c"/>
<path d="M915.1 1720.9l9.6 -3.4 8 -4.7 -9.5 3.1z" fill="#ff532a" stroke="#ff532a"/>
<path d="M753.8 1808.6l9.4 1 8.3 -13.2 -9.4 -0.6z" fill="#ffb360" stroke="#ffb360"/>
<path d="M612.7 1967.1l9.2 0 8.3 -28.2 -9.2 0.4z" fill="#84ffb2" stroke="#84ffb2"/>
<path d="M597.6 2076l9.2 1.8 8 -41.8 -9.2 -1.3z" fill="#2fe0db" stroke="#2fe0db"/>
<path d="M709.1 1834l9.3 1 8.4 -14.9 -9.3 -1z" fill="#ecc86f" stroke="#ecc86f"/>
<path d="M604.5 1998.4l9.2 0.4 8.2 -31.8 -9.2 0z" fill="#6dfdbf" stroke="#6dfdbf"/>
<path d="M1106 1705.9l9.6 3.7 7.5 -3.2 -9.6 -3.7z" fill="#ff4422" stroke="#ff4422"/>
<path d="M969.3 1701.6l9.6 -1.7 7.8 -2.2 -9.6 1.3z" fill="#ff3b1e" stroke="#ff3b1e"/>
<path d="M638.5 1913.6l9.2 -0.5 8.3 -22.8 -9.2 0.7z" fill="#aef498" stroke="#aef498"/>
<path d="M942.2 1709.7l9.6 -2.9 7.9 -3.1 -9.6 2.5z" fill="#ff4422" stroke="#ff4422"/>
<path d="M610.6 2213.8l9.2 0.7 8 -42 -9.2 0.6z" fill="#425ffa" stroke="#425ffa"/>
<path d="M1033 1696.2l9.6 1.6 7.7 -2.7 -9.6 -1.5z" fill="#ff351b" stroke="#ff351b"/>
<path d="M870.4 1744l9.5 -2.6 8.1 -7.9 -9.5 2.7z" fill="#ff6b37" stroke="#ff6b37"/>
<path d="M1069.5 1699.7l9.6 2.9 7.6 -3.2 -9.6 -2.8z" fill="#ff3b1e" stroke="#ff3b1e"/>
<path d="M1152.1 1718.9l9.6 4.5 7.4 -2.5 -9.6 -4.6z" fill="#ff532a" stroke="#ff532a"/>
<path d="M609.4 2172l9.2 1.2 8 -46.3 -9.2 -0.5z" fill="#1e91f3" stroke="#1e91f3"/>
<path d="M780.9 1796.8l9.4 0.3 8.3 -13 -9.4 0.1z" fill="#ffa558" stroke="#ffa558"/>
<path d="M825.6 1770.2l9.4 -1.4 8.2 -11.3 -9.4 1.6z" fill="#ff8947" stroke="#ff8947"/>
<path d="M691.4 1850.2l9.3 0.5 8.4 -16.7 -9.3 -0.7z" fill="#e2d176" stroke="#e2d176"/>
<path d="M656.1 1890.2l9.3 -0.4 8.4 -20.7 -9.3 0.5z" fill="#c2ea8c" stroke="#c2ea8c"/>
<path d="M736.1 1821.2l9.4 1.3 8.3 -13.9 -9.4 -1z" fill="#f9bb66" stroke="#f9bb66"/>
<path d="M673.7 1869l9.3 -0.1 8.4 -18.7 -9.3 -0.1z" fill="#d2de81" stroke="#d2de81"/>
<path d="M630.2 1938.8l9.2 -0.3 8.3 -25.5 -9.2 0.5z" fill="#9cfba4" stroke="#9cfba4"/>
<path d="M608.1 2124.8l9.2 1.5 8 -46.3 -9.2 -0.8z" fill="#0ac0e8" stroke="#0ac0e8"/>
<path d="M1115.6 1709.6l9.6 4 7.5 -3.2 -9.6 -3.9z" fill="#ff4422" stroke="#ff4422"/>
<path d="M897.5 1730.5l9.5 -3.3 8 -6.2 -9.5 3.2z" fill="#ff592d" stroke="#ff592d"/>
<path d="M605.6 2034.7l9.2 1.3 8.1 -36.6 -9.2 -0.6z" fill="#50f4cc" stroke="#50f4cc"/>
<path d="M1006 1696.8l9.6 0.4 7.8 -2.1 -9.6 -0.5z" fill="#ff351b" stroke="#ff351b"/>
<path d="M763.2 1809.5l9.4 0.9 8.3 -13.6 -9.4 -0.4z" fill="#ffb05f" stroke="#ffb05f"/>
<path d="M808 1783.6l9.4 -0.7 8.2 -12.6 -9.4 1z" fill="#ff964f" stroke="#ff964f"/>
<path d="M1161.7 1723.4l9.6 4.7 7.4 -2.4 -9.6 -4.8z" fill="#ff562c" stroke="#ff562c"/>
<path d="M852.7 1755.7l9.5 -2.1 8.2 -9.6 -9.5 2.2z" fill="#ff763d" stroke="#ff763d"/>
<path d="M606.8 2077.8l9.2 1.4 8 -42.2 -9.3 -1z" fill="#30e1da" stroke="#30e1da"/>
<path d="M718.4 1835l9.4 1.2 8.4 -14.9 -9.3 -1.2z" fill="#eec66d" stroke="#eec66d"/>
<path d="M1079.1 1702.5l9.6 3.2 7.6 -3.3 -9.6 -3.1z" fill="#ff3b1e" stroke="#ff3b1e"/>
<path d="M622 1967l9.2 0.1 8.3 -28.6 -9.2 0.3z" fill="#86ffb0" stroke="#86ffb0"/>
<path d="M1042.6 1697.8l9.6 2.1 7.7 -2.8 -9.6 -2z" fill="#ff351b" stroke="#ff351b"/>
<path d="M613.7 1998.8l9.2 0.6 8.2 -32.3 -9.2 -0.1z" fill="#6efebe" stroke="#6efebe"/>
<path d="M924.6 1717.5l9.6 -3.5 8 -4.3 -9.6 3.1z" fill="#ff4a26" stroke="#ff4a26"/>
<path d="M647.8 1913l9.3 -0.4 8.3 -22.9 -9.3 0.4z" fill="#b2f396" stroke="#b2f396"/>
<path d="M619.8 2214.5l9.2 0.4 8 -43.6 -9.2 1.2z" fill="#4062fa" stroke="#4062fa"/>
<path d="M978.9 1699.9l9.6 -1.1 7.8 -1.9 -9.6 0.8z" fill="#ff351b" stroke="#ff351b"/>
<path d="M618.6 2173.1l9.2 -0.6 8 -46.3 -9.2 0.6z" fill="#1996f3" stroke="#1996f3"/>
<path d="M790.3 1797l9.4 0 8.3 -13.5 -9.4 0.4z" fill="#ffa256" stroke="#ffa256"/>
<path d="M700.7 1850.7l9.3 0.8 8.4 -16.5 -9.3 -1z" fill="#e4cf74" stroke="#e4cf74"/>
<path d="M951.8 1706.8l9.6 -2.6 7.9 -2.6 -9.6 2.1z" fill="#ff3b1e" stroke="#ff3b1e"/>
<path d="M745.5 1822.5l9.4 1.3 8.3 -14.2 -9.4 -1z" fill="#fbb965" stroke="#fbb965"/>
<path d="M1125.3 1713.6l9.6 4.2 7.5 -3.2 -9.6 -4.2z" fill="#ff4724" stroke="#ff4724"/>
<path d="M665.4 1889.8l9.3 -0.2 8.4 -20.6 -9.3 0.1z" fill="#c6e789" stroke="#c6e789"/>
<path d="M1171.3 1728.1l9.7 4.8 7.4 -2.2 -9.6 -5z" fill="#ff592d" stroke="#ff592d"/>
<path d="M835.1 1768.8l9.5 -1.7 8.2 -11.4 -9.5 1.9z" fill="#ff8444" stroke="#ff8444"/>
<path d="M879.9 1741.4l9.5 -3 8.1 -7.9 -9.5 3z" fill="#ff6533" stroke="#ff6533"/>
<path d="M683 1869l9.3 0.3 8.4 -18.5 -9.3 -0.5z" fill="#d6db7e" stroke="#d6db7e"/>
<path d="M617.4 2126.3l9.2 0.5 8 -46.4 -9.3 -0.4z" fill="#0dc2e8" stroke="#0dc2e8"/>
<path d="M614.9 2036l9.3 1 8.1 -37.1 -9.3 -0.6z" fill="#52f5cb" stroke="#52f5cb"/>
<path d="M1088.8 1705.8l9.6 3.5 7.6 -3.4 -9.6 -3.4z" fill="#ff3b1e" stroke="#ff3b1e"/>
<path d="M639.5 1938.5l9.3 -0.2 8.3 -25.7 -9.3 0.4z" fill="#a0faa1" stroke="#a0faa1"/>
<path d="M1015.6 1697.2l9.6 1.1 7.7 -2.1 -9.6 -1.1z" fill="#ff3219" stroke="#ff3219"/>
<path d="M772.6 1810.4l9.4 0.7 8.3 -14.1 -9.4 -0.3z" fill="#ffac5c" stroke="#ffac5c"/>
<path d="M1052.2 1700l9.6 2.6 7.7 -2.9 -9.6 -2.5z" fill="#ff351b" stroke="#ff351b"/>
<path d="M727.8 1836.1l9.4 1.3 8.3 -15 -9.4 -1.3z" fill="#f0c46c" stroke="#f0c46c"/>
<path d="M616.1 2079.2l9.2 0.8 8 -42.4 -9.3 -0.6z" fill="#32e3da" stroke="#32e3da"/>
<path d="M817.4 1782.9l9.4 -1.1 8.2 -13 -9.4 1.4z" fill="#ff914c" stroke="#ff914c"/>
<path d="M1134.9 1717.8l9.7 4.4 7.5 -3.3 -9.6 -4.4z" fill="#ff4a26" stroke="#ff4a26"/>
<path d="M907 1727.1l9.6 -3.6 8 -6 -9.6 3.4z" fill="#ff5029" stroke="#ff5029"/>
<path d="M1181 1732.9l9.7 5 7.3 -2.2 -9.6 -5.1z" fill="#ff5c2f" stroke="#ff5c2f"/>
<path d="M631.2 1967.1l9.3 0.1 8.3 -28.9 -9.3 0.2z" fill="#8bfeae" stroke="#8bfeae"/>
<path d="M623 1999.4l9.3 0.6 8.2 -32.7 -9.3 -0.1z" fill="#70febc" stroke="#70febc"/>
<path d="M862.2 1753.6l9.5 -2.5 8.1 -9.7 -9.5 2.6z" fill="#ff703a" stroke="#ff703a"/>
<path d="M657 1912.7l9.3 -0.2 8.3 -22.9 -9.3 0.2z" fill="#b6f193" stroke="#b6f193"/>
<path d="M710 1851.5l9.4 1 8.4 -16.4 -9.4 -1.2z" fill="#e4cf74" stroke="#e4cf74"/>
<path d="M988.5 1698.8l9.6 -0.4 7.8 -1.6 -9.6 0.2z" fill="#ff3219" stroke="#ff3219"/>
<path d="M754.9 1823.7l9.4 1.2 8.3 -14.5 -9.4 -0.9z" fill="#fcb763" stroke="#fcb763"/>
<path d="M629.1 2214.9l9.2 -0.9 8 -44.8 -9.2 2.1z" fill="#396bf9" stroke="#396bf9"/>
<path d="M799.7 1797l9.4 -0.3 8.3 -13.9 -9.4 0.7z" fill="#ff9d53" stroke="#ff9d53"/>
<path d="M1098.4 1709.3l9.6 3.8 7.6 -3.5 -9.6 -3.7z" fill="#ff3e1f" stroke="#ff3e1f"/>
<path d="M934.2 1714l9.6 -3.4 8 -3.8 -9.6 2.9z" fill="#ff4121" stroke="#ff4121"/>
<path d="M627.9 2172.6l9.2 -1.2 8 -46.7 -9.2 1.6z" fill="#169bf2" stroke="#169bf2"/>
<path d="M674.7 1889.6l9.3 0.1 8.4 -20.5 -9.3 -0.3z" fill="#c8e688" stroke="#c8e688"/>
<path d="M692.3 1869.2l9.3 0.5 8.4 -18.3 -9.3 -0.8z" fill="#d9da7d" stroke="#d9da7d"/>
<path d="M961.4 1704.2l9.6 -2.1 7.9 -2.1 -9.6 1.7z" fill="#ff351b" stroke="#ff351b"/>
<path d="M1061.8 1702.6l9.6 3 7.7 -3.1 -9.6 -2.9z" fill="#ff351b" stroke="#ff351b"/>
<path d="M1025.2 1698.3l9.6 1.7 7.7 -2.2 -9.6 -1.6z" fill="#ff2f18" stroke="#ff2f18"/>
<path d="M844.5 1767.1l9.5 -2 8.2 -11.5 -9.5 2.1z" fill="#ff7b40" stroke="#ff7b40"/>
<path d="M1144.6 1722.1l9.7 4.5 7.5 -3.2 -9.6 -4.5z" fill="#ff4d27" stroke="#ff4d27"/>
<path d="M624.1 2037l9.3 0.6 8.1 -37.4 -9.3 -0.3z" fill="#56f7ca" stroke="#56f7ca"/>
<path d="M626.6 2126.8l9.2 -0.6 8 -46.2 -9.3 0.4z" fill="#10c6e6" stroke="#10c6e6"/>
<path d="M737.1 1837.5l9.4 1.4 8.3 -15.1 -9.4 -1.3z" fill="#f2c26b" stroke="#f2c26b"/>
<path d="M889.4 1738.4l9.6 -3.4 8.1 -7.9 -9.5 3.3z" fill="#ff5c2f" stroke="#ff5c2f"/>
<path d="M648.7 1938.3l9.3 -0.1 8.3 -25.7 -9.3 0.2z" fill="#a2f9a0" stroke="#a2f9a0"/>
<path d="M782 1811.1l9.4 0.4 8.3 -14.4 -9.4 0z" fill="#ffa95b" stroke="#ffa95b"/>
<path d="M625.3 2080l9.3 0.4 8.1 -42.6 -9.3 -0.2z" fill="#34e4d9" stroke="#34e4d9"/>
<path d="M632.2 2000l9.3 0.3 8.2 -33 -9.3 0z" fill="#74feba" stroke="#74feba"/>
<path d="M826.8 1781.8l9.5 -1.5 8.2 -13.2 -9.5 1.7z" fill="#ff8c49" stroke="#ff8c49"/>
<path d="M640.5 1967.3l9.3 0 8.3 -29.1 -9.3 0.1z" fill="#8cfead" stroke="#8cfead"/>
<path d="M1108.1 1713.1l9.7 4.1 7.6 -3.6 -9.6 -4z" fill="#ff4121" stroke="#ff4121"/>
<path d="M719.4 1852.5l9.4 1.2 8.4 -16.2 -9.4 -1.3z" fill="#e6cd73" stroke="#e6cd73"/>
<path d="M764.3 1824.9l9.4 1 8.3 -14.9 -9.4 -0.7z" fill="#feb562" stroke="#feb562"/>
<path d="M666.3 1912.5l9.3 0 8.3 -22.8 -9.3 -0.1z" fill="#b9ef92" stroke="#b9ef92"/>
<path d="M1154.2 1726.6l9.7 4.6 7.4 -3.2 -9.6 -4.7z" fill="#ff5029" stroke="#ff5029"/>
<path d="M998.2 1698.4l9.6 0.2 7.8 -1.5 -9.6 -0.4z" fill="#ff2c16" stroke="#ff2c16"/>
<path d="M916.6 1723.5l9.6 -3.7 8 -5.7 -9.6 3.5z" fill="#ff4724" stroke="#ff4724"/>
<path d="M1071.5 1705.6l9.6 3.4 7.6 -3.3 -9.6 -3.2z" fill="#ff351b" stroke="#ff351b"/>
<path d="M871.7 1751.1l9.5 -2.9 8.1 -9.8 -9.5 3z" fill="#ff6835" stroke="#ff6835"/>
<path d="M701.7 1869.8l9.4 0.8 8.4 -18 -9.4 -1z" fill="#dbd87b" stroke="#dbd87b"/>
<path d="M809.1 1796.7l9.5 -0.7 8.3 -14.2 -9.4 1.1z" fill="#ff9850" stroke="#ff9850"/>
<path d="M684 1889.7l9.3 0.3 8.4 -20.2 -9.3 -0.5z" fill="#cbe486" stroke="#cbe486"/>
<path d="M1034.9 1700l9.6 2.3 7.7 -2.4 -9.6 -2.1z" fill="#ff2f18" stroke="#ff2f18"/>
<path d="M638.3 2214l9.2 -2.2 8 -45.6 -9.2 3z" fill="#3670f8" stroke="#3670f8"/>
<path d="M637.1 2171.3l9.2 -2.1 8 -47 -9.3 2.4z" fill="#11a0f1" stroke="#11a0f1"/>
<path d="M746.5 1838.9l9.4 1.4 8.3 -15.3 -9.4 -1.2z" fill="#f2c26b" stroke="#f2c26b"/>
<path d="M971 1702l9.6 -1.5 7.9 -1.6 -9.6 1.1z" fill="#ff2f18" stroke="#ff2f18"/>
<path d="M633.4 2037.6l9.3 0.2 8.2 -37.7 -9.3 0.1z" fill="#58f8c9" stroke="#58f8c9"/>
<path d="M943.8 1710.6l9.6 -3.2 7.9 -3.3 -9.6 2.6z" fill="#ff381c" stroke="#ff381c"/>
<path d="M1117.7 1717.2l9.7 4.3 7.6 -3.7 -9.6 -4.2z" fill="#ff4121" stroke="#ff4121"/>
<path d="M791.4 1811.5l9.4 0 8.3 -14.8 -9.4 0.3z" fill="#ffa759" stroke="#ffa759"/>
<path d="M658 1938.2l9.3 -0.1 8.3 -25.6 -9.3 0z" fill="#a6f89d" stroke="#a6f89d"/>
<path d="M635.8 2126.2l9.2 -1.6 8 -45.9 -9.3 1.3z" fill="#14cae5" stroke="#14cae5"/>
<path d="M854 1765.1l9.5 -2.4 8.2 -11.7 -9.5 2.5z" fill="#ff763d" stroke="#ff763d"/>
<path d="M1163.9 1731.3l9.7 4.8 7.4 -3.1 -9.7 -4.8z" fill="#ff532a" stroke="#ff532a"/>
<path d="M634.6 2080.5l9.3 -0.4 8.1 -42.6 -9.3 0.4z" fill="#38e7d7" stroke="#38e7d7"/>
<path d="M1081.1 1709l9.7 3.7 7.6 -3.4 -9.6 -3.5z" fill="#ff381c" stroke="#ff381c"/>
<path d="M728.8 1853.7l9.4 1.3 8.4 -16.1 -9.4 -1.4z" fill="#e8cb72" stroke="#e8cb72"/>
<path d="M898.9 1735l9.6 -3.7 8.1 -7.9 -9.6 3.6z" fill="#ff5029" stroke="#ff5029"/>
<path d="M641.5 2000.2l9.3 -0.1 8.2 -33 -9.3 0.2z" fill="#76ffb9" stroke="#76ffb9"/>
<path d="M649.7 1967.3l9.3 -0.2 8.3 -29 -9.3 0.1z" fill="#90feab" stroke="#90feab"/>
<path d="M773.7 1826l9.4 0.7 8.3 -15.2 -9.4 -0.4z" fill="#ffb360" stroke="#ffb360"/>
<path d="M1007.8 1698.6l9.6 1 7.8 -1.3 -9.6 -1.1z" fill="#ff2914" stroke="#ff2914"/>
<path d="M836.3 1780.3l9.5 -1.9 8.2 -13.4 -9.5 2z" fill="#ff8444" stroke="#ff8444"/>
<path d="M1044.5 1702.3l9.6 2.9 7.7 -2.6 -9.6 -2.6z" fill="#ff2f18" stroke="#ff2f18"/>
<path d="M675.6 1912.5l9.3 0.1 8.4 -22.6 -9.3 -0.3z" fill="#bced8f" stroke="#bced8f"/>
<path d="M711 1870.5l9.4 0.9 8.4 -17.7 -9.4 -1.2z" fill="#dcd67a" stroke="#dcd67a"/>
<path d="M1127.4 1721.5l9.7 4.5 7.5 -3.8 -9.7 -4.4z" fill="#ff4422" stroke="#ff4422"/>
<path d="M693.3 1890l9.4 0.5 8.4 -19.9 -9.4 -0.8z" fill="#cce385" stroke="#cce385"/>
<path d="M1173.6 1736l9.7 4.9 7.4 -3 -9.7 -5z" fill="#ff562c" stroke="#ff562c"/>
<path d="M818.6 1796l9.5 -1.1 8.2 -14.6 -9.5 1.5z" fill="#ff934d" stroke="#ff934d"/>
<path d="M755.9 1840.2l9.4 1.2 8.3 -15.5 -9.4 -1z" fill="#f4c069" stroke="#f4c069"/>
<path d="M881.2 1748.2l9.6 -3.3 8.1 -9.9 -9.6 3.4z" fill="#ff5f30" stroke="#ff5f30"/>
<path d="M926.2 1719.8l9.6 -3.8 8 -5.3 -9.6 3.4z" fill="#ff3e1f" stroke="#ff3e1f"/>
<path d="M642.6 2037.8l9.3 -0.4 8.2 -37.7 -9.3 0.4z" fill="#5df9c7" stroke="#5df9c7"/>
<path d="M1090.8 1712.7l9.7 4 7.6 -3.6 -9.6 -3.8z" fill="#ff381c" stroke="#ff381c"/>
<path d="M980.7 1700.5l9.7 -0.8 7.8 -1.2 -9.6 0.4z" fill="#ff2914" stroke="#ff2914"/>
<path d="M800.8 1811.5l9.5 -0.4 8.3 -15.1 -9.5 0.7z" fill="#ffa256" stroke="#ffa256"/>
<path d="M667.3 1938.1l9.3 -0.1 8.3 -25.4 -9.3 -0.1z" fill="#a8f79c" stroke="#a8f79c"/>
<path d="M647.5 2211.8l9.3 -2.3 8.1 -46.2 -9.3 2.9z" fill="#3079f7" stroke="#3079f7"/>
<path d="M646.3 2169.2l9.2 -3 8 -46.9 -9.3 2.9z" fill="#0ca7ef" stroke="#0ca7ef"/>
<path d="M953.5 1707.4l9.6 -2.8 7.9 -2.6 -9.6 2.1z" fill="#ff2f18" stroke="#ff2f18"/>
<path d="M738.2 1855l9.4 1.3 8.4 -16 -9.4 -1.4z" fill="#ebca70" stroke="#ebca70"/>
<path d="M1137 1726l9.7 4.6 7.5 -3.9 -9.7 -4.5z" fill="#ff4724" stroke="#ff4724"/>
<path d="M1054.1 1705.2l9.7 3.3 7.7 -2.9 -9.6 -3z" fill="#ff2f18" stroke="#ff2f18"/>
<path d="M643.8 2080.1l9.3 -1.3 8.1 -42.3 -9.3 1z" fill="#3dead5" stroke="#3dead5"/>
<path d="M645.1 2124.6l9.3 -2.4 8.1 -45.4 -9.3 2z" fill="#18cde4" stroke="#18cde4"/>
<path d="M863.5 1762.7l9.5 -2.8 8.2 -11.8 -9.5 2.9z" fill="#ff6d38" stroke="#ff6d38"/>
<path d="M1017.5 1699.6l9.7 1.8 7.8 -1.4 -9.6 -1.7z" fill="#ff2613" stroke="#ff2613"/>
<path d="M650.8 2000.1l9.3 -0.4 8.2 -32.9 -9.3 0.3z" fill="#7affb7" stroke="#7affb7"/>
<path d="M659 1967.1l9.3 -0.3 8.3 -28.8 -9.3 0.1z" fill="#94fda8" stroke="#94fda8"/>
<path d="M783.1 1826.7l9.4 0.3 8.3 -15.4 -9.4 0z" fill="#ffb05f" stroke="#ffb05f"/>
<path d="M685 1912.6l9.3 0.2 8.4 -22.3 -9.4 -0.5z" fill="#beec8e" stroke="#beec8e"/>
<path d="M720.4 1871.5l9.4 1 8.4 -17.5 -9.4 -1.3z" fill="#ded579" stroke="#ded579"/>
<path d="M702.7 1890.5l9.4 0.6 8.4 -19.6 -9.4 -0.9z" fill="#d0e082" stroke="#d0e082"/>
<path d="M908.5 1731.4l9.6 -3.9 8.1 -7.7 -9.6 3.7z" fill="#ff4724" stroke="#ff4724"/>
<path d="M1100.4 1716.8l9.7 4.3 7.6 -3.8 -9.7 -4.1z" fill="#ff3b1e" stroke="#ff3b1e"/>
<path d="M845.8 1778.5l9.5 -2.3 8.2 -13.5 -9.5 2.4z" fill="#ff7e41" stroke="#ff7e41"/>
<path d="M765.3 1841.4l9.4 0.9 8.3 -15.7 -9.4 -0.7z" fill="#f6be68" stroke="#f6be68"/>
<path d="M1146.7 1730.6l9.7 4.7 7.5 -4 -9.7 -4.6z" fill="#ff4a26" stroke="#ff4a26"/>
<path d="M828.1 1794.9l9.5 -1.6 8.2 -14.8 -9.5 1.9z" fill="#ff8e4a" stroke="#ff8e4a"/>
<path d="M1063.8 1708.5l9.7 3.7 7.7 -3.1 -9.6 -3.4z" fill="#ff2f18" stroke="#ff2f18"/>
<path d="M990.3 1699.6l9.7 -0.2 7.8 -0.8 -9.6 -0.2z" fill="#ff2211" stroke="#ff2211"/>
<path d="M651.9 2037.4l9.3 -1 8.2 -37.5 -9.3 0.7z" fill="#60fac5" stroke="#60fac5"/>
<path d="M676.6 1938l9.3 -0.1 8.3 -25.1 -9.3 -0.2z" fill="#acf59a" stroke="#acf59a"/>
<path d="M747.6 1856.2l9.4 1.1 8.4 -15.9 -9.4 -1.2z" fill="#ecc86f" stroke="#ecc86f"/>
<path d="M810.3 1811.2l9.5 -0.8 8.3 -15.4 -9.5 1.1z" fill="#ff9d53" stroke="#ff9d53"/>
<path d="M1027.1 1701.4l9.7 2.6 7.7 -1.7 -9.6 -2.3z" fill="#ff2613" stroke="#ff2613"/>
<path d="M890.8 1744.9l9.6 -3.6 8.1 -10 -9.6 3.7z" fill="#ff532a" stroke="#ff532a"/>
<path d="M935.8 1716l9.6 -3.7 8 -4.8 -9.6 3.2z" fill="#ff3219" stroke="#ff3219"/>
<path d="M1110.1 1721l9.7 4.5 7.6 -4 -9.7 -4.3z" fill="#ff3e1f" stroke="#ff3e1f"/>
<path d="M656.8 2209.5l9.3 -2.4 8.1 -46.4 -9.3 2.6z" fill="#2981f6" stroke="#2981f6"/>
<path d="M963.1 1704.7l9.7 -2.2 7.9 -1.9 -9.6 1.5z" fill="#ff2613" stroke="#ff2613"/>
<path d="M653.1 2078.8l9.3 -2 8.1 -41.6 -9.3 1.3z" fill="#40ecd4" stroke="#40ecd4"/>
<path d="M792.5 1826.9l9.5 -0.3 8.3 -15.5 -9.5 0.4z" fill="#ffae5e" stroke="#ffae5e"/>
<path d="M729.8 1872.4l9.4 1 8.4 -17.2 -9.4 -1.3z" fill="#e0d377" stroke="#e0d377"/>
<path d="M668.3 1966.8l9.3 -0.4 8.3 -28.5 -9.3 0.1z" fill="#96fca7" stroke="#96fca7"/>
<path d="M1156.4 1735.3l9.7 4.8 7.5 -4.1 -9.7 -4.8z" fill="#ff4d27" stroke="#ff4d27"/>
<path d="M660.1 1999.7l9.3 -0.7 8.3 -32.6 -9.3 0.4z" fill="#7effb5" stroke="#7effb5"/>
<path d="M655.6 2166.2l9.3 -2.9 8.1 -46.6 -9.3 2.6z" fill="#04b0ed" stroke="#04b0ed"/>
<path d="M694.3 1912.7l9.4 0.3 8.4 -21.9 -9.4 -0.6z" fill="#c0eb8d" stroke="#c0eb8d"/>
<path d="M654.3 2122.2l9.3 -2.9 8.1 -44.8 -9.3 2.3z" fill="#1fd3e1" stroke="#1fd3e1"/>
<path d="M712 1891.1l9.4 0.6 8.4 -19.3 -9.4 -1z" fill="#d2de81" stroke="#d2de81"/>
<path d="M873.1 1760l9.6 -3.1 8.2 -12 -9.6 3.3z" fill="#ff6533" stroke="#ff6533"/>
<path d="M1073.4 1712.1l9.7 4 7.7 -3.4 -9.7 -3.7z" fill="#ff3219" stroke="#ff3219"/>
<path d="M774.8 1842.4l9.4 0.3 8.3 -15.8 -9.4 -0.3z" fill="#f9bb66" stroke="#f9bb66"/>
<path d="M855.3 1776.2l9.5 -2.6 8.2 -13.6 -9.5 2.8z" fill="#ff763d" stroke="#ff763d"/>
<path d="M1119.8 1725.5l9.7 4.7 7.6 -4.3 -9.7 -4.5z" fill="#ff4121" stroke="#ff4121"/>
<path d="M1036.8 1704l9.7 3.2 7.7 -2 -9.6 -2.9z" fill="#ff2613" stroke="#ff2613"/>
<path d="M918.1 1727.5l9.6 -4 8.1 -7.6 -9.6 3.8z" fill="#ff3e1f" stroke="#ff3e1f"/>
<path d="M1000 1699.5l9.7 0.4 7.8 -0.3 -9.6 -1z" fill="#ff1f10" stroke="#ff1f10"/>
<path d="M1166.1 1740.1l9.7 5 7.5 -4.1 -9.7 -4.9z" fill="#ff532a" stroke="#ff532a"/>
<path d="M757 1857.4l9.4 0.8 8.3 -15.8 -9.4 -0.9z" fill="#ecc86f" stroke="#ecc86f"/>
<path d="M837.6 1793.3l9.5 -2.1 8.2 -14.9 -9.5 2.3z" fill="#ff8947" stroke="#ff8947"/>
<path d="M686 1937.9l9.4 -0.1 8.3 -24.8 -9.4 -0.3z" fill="#aef498" stroke="#aef498"/>
<path d="M661.2 2036.5l9.3 -1.3 8.2 -37 -9.3 0.8z" fill="#64fbc3" stroke="#64fbc3"/>
<path d="M819.8 1810.3l9.5 -1.4 8.3 -15.7 -9.5 1.6z" fill="#ff9850" stroke="#ff9850"/>
<path d="M1083.1 1716.1l9.7 4.3 7.7 -3.7 -9.7 -4z" fill="#ff351b" stroke="#ff351b"/>
<path d="M739.2 1873.4l9.4 0.8 8.4 -16.9 -9.4 -1.1z" fill="#e2d176" stroke="#e2d176"/>
<path d="M703.7 1913l9.4 0.3 8.4 -21.6 -9.4 -0.6z" fill="#c2ea8c" stroke="#c2ea8c"/>
<path d="M802 1826.6l9.5 -0.8 8.3 -15.5 -9.5 0.8z" fill="#ffa95b" stroke="#ffa95b"/>
<path d="M677.7 1966.4l9.3 -0.4 8.3 -28.2 -9.4 0.1z" fill="#9bfba5" stroke="#9bfba5"/>
<path d="M945.5 1712.3l9.7 -3.4 8 -4.2 -9.6 2.8z" fill="#ff2914" stroke="#ff2914"/>
<path d="M972.8 1702.4l9.7 -1.6 7.9 -1.2 -9.7 0.8z" fill="#ff1f10" stroke="#ff1f10"/>
<path d="M1129.4 1730.2l9.7 4.8 7.6 -4.5 -9.7 -4.6z" fill="#ff4422" stroke="#ff4422"/>
<path d="M900.4 1741.3l9.6 -3.8 8.1 -10 -9.6 3.9z" fill="#ff4a26" stroke="#ff4a26"/>
<path d="M669.4 1999l9.3 -0.8 8.3 -32.2 -9.3 0.4z" fill="#80ffb4" stroke="#80ffb4"/>
<path d="M721.4 1891.7l9.4 0.6 8.4 -18.9 -9.4 -1z" fill="#d4dd80" stroke="#d4dd80"/>
<path d="M662.4 2076.8l9.3 -2.3 8.2 -40.7 -9.3 1.3z" fill="#46efd1" stroke="#46efd1"/>
<path d="M666.1 2207.1l9.3 -2.2 8.1 -46.4 -9.3 2.2z" fill="#2489f5" stroke="#2489f5"/>
<path d="M1046.4 1707.2l9.7 3.7 7.7 -2.4 -9.7 -3.3z" fill="#ff2914" stroke="#ff2914"/>
<path d="M664.8 2163.3l9.3 -2.6 8.1 -45.9 -9.3 2z" fill="#02b7eb" stroke="#02b7eb"/>
<path d="M784.2 1842.7l9.5 -0.4 8.3 -15.6 -9.5 0.3z" fill="#fcb763" stroke="#fcb763"/>
<path d="M663.6 2119.3l9.3 -2.6 8.1 -44.1 -9.3 1.9z" fill="#24d8df" stroke="#24d8df"/>
<path d="M882.6 1756.9l9.6 -3.4 8.2 -12.1 -9.6 3.6z" fill="#ff5c2f" stroke="#ff5c2f"/>
<path d="M1009.7 1699.9l9.7 1.6 7.8 -0.1 -9.7 -1.8z" fill="#ff1c0e" stroke="#ff1c0e"/>
<path d="M1092.8 1720.4l9.7 4.5 7.6 -3.9 -9.7 -4.3z" fill="#ff351b" stroke="#ff351b"/>
<path d="M766.4 1858.2l9.5 0.3 8.3 -15.8 -9.4 -0.3z" fill="#f0c46c" stroke="#f0c46c"/>
<path d="M1139.1 1735l9.7 4.9 7.6 -4.7 -9.7 -4.7z" fill="#ff4724" stroke="#ff4724"/>
<path d="M695.3 1937.8l9.4 0 8.4 -24.5 -9.4 -0.3z" fill="#b2f396" stroke="#b2f396"/>
<path d="M864.9 1773.6l9.6 -2.9 8.2 -13.8 -9.6 3.1z" fill="#ff6d38" stroke="#ff6d38"/>
<path d="M670.5 2035.2l9.3 -1.3 8.2 -36.3 -9.4 0.6z" fill="#68fcc1" stroke="#68fcc1"/>
<path d="M927.8 1723.5l9.7 -3.9 8.1 -7.3 -9.6 3.7z" fill="#ff3219" stroke="#ff3219"/>
<path d="M748.6 1874.2l9.4 0.6 8.4 -16.6 -9.4 -0.8z" fill="#e4cf74" stroke="#e4cf74"/>
<path d="M847.1 1791.1l9.5 -2.5 8.2 -15 -9.5 2.6z" fill="#ff8143" stroke="#ff8143"/>
<path d="M1056.1 1710.9l9.7 4.1 7.7 -2.8 -9.7 -3.7z" fill="#ff2914" stroke="#ff2914"/>
<path d="M829.3 1808.9l9.5 -2 8.3 -15.7 -9.5 2.1z" fill="#ff934d" stroke="#ff934d"/>
<path d="M713.1 1913.3l9.4 0.3 8.4 -21.3 -9.4 -0.6z" fill="#c6e789" stroke="#c6e789"/>
<path d="M730.8 1892.3l9.4 0.5 8.4 -18.6 -9.4 -0.8z" fill="#d6db7e" stroke="#d6db7e"/>
<path d="M687 1966l9.4 -0.3 8.3 -27.9 -9.4 0z" fill="#9efaa2" stroke="#9efaa2"/>
<path d="M1102.5 1725l9.7 4.7 7.6 -4.2 -9.7 -4.5z" fill="#ff381c" stroke="#ff381c"/>
<path d="M982.5 1700.8l9.7 -1 7.8 -0.4 -9.7 0.2z" fill="#ff190d" stroke="#ff190d"/>
<path d="M811.5 1825.8l9.5 -1.3 8.3 -15.6 -9.5 1.4z" fill="#ffa558" stroke="#ffa558"/>
<path d="M678.7 1998.2l9.4 -0.6 8.3 -31.8 -9.4 0.3z" fill="#84ffb2" stroke="#84ffb2"/>
<path d="M1148.8 1740l9.7 5 7.5 -4.8 -9.7 -4.8z" fill="#ff4a26" stroke="#ff4a26"/>
<path d="M1019.3 1701.5l9.7 2.9 7.8 -0.4 -9.7 -2.6z" fill="#ff1c0e" stroke="#ff1c0e"/>
<path d="M955.1 1708.9l9.7 -2.9 8 -3.6 -9.7 2.2z" fill="#ff1f10" stroke="#ff1f10"/>
<path d="M671.7 2074.5l9.3 -1.9 8.2 -39.9 -9.4 1.1z" fill="#4af2cf" stroke="#4af2cf"/>
<path d="M793.7 1842.3l9.5 -0.9 8.3 -15.5 -9.5 0.8z" fill="#ffb360" stroke="#ffb360"/>
<path d="M675.4 2204.9l9.3 -1 8.1 -46.6 -9.4 1.2z" fill="#1e91f3" stroke="#1e91f3"/>
<path d="M910 1737.5l9.6 -4 8.1 -10 -9.6 4z" fill="#ff4121" stroke="#ff4121"/>
<path d="M674.1 2160.7l9.3 -2.2 8.1 -45.1 -9.4 1.4z" fill="#07bbea" stroke="#07bbea"/>
<path d="M672.9 2116.7l9.3 -2 8.2 -43.3 -9.4 1.2z" fill="#2adddd" stroke="#2adddd"/>
<path d="M1065.7 1714.9l9.7 4.4 7.7 -3.2 -9.7 -4z" fill="#ff2c16" stroke="#ff2c16"/>
<path d="M775.9 1858.5l9.5 -0.4 8.3 -15.8 -9.5 0.4z" fill="#f2c26b" stroke="#f2c26b"/>
<path d="M704.7 1937.8l9.4 0 8.4 -24.2 -9.4 -0.3z" fill="#b4f295" stroke="#b4f295"/>
<path d="M1112.1 1729.7l9.7 4.9 7.6 -4.4 -9.7 -4.7z" fill="#ff3b1e" stroke="#ff3b1e"/>
<path d="M892.2 1753.5l9.6 -3.7 8.2 -12.2 -9.6 3.8z" fill="#ff5029" stroke="#ff5029"/>
<path d="M1158.5 1745l9.7 5 7.5 -4.8 -9.7 -5z" fill="#ff4d27" stroke="#ff4d27"/>
<path d="M758.1 1874.8l9.5 0.2 8.4 -16.5 -9.5 -0.3z" fill="#e6cd73" stroke="#e6cd73"/>
<path d="M679.9 2033.8l9.4 -1.1 8.2 -35.8 -9.4 0.5z" fill="#6dfdbf" stroke="#6dfdbf"/>
<path d="M874.4 1770.7l9.6 -3.2 8.2 -14 -9.6 3.4z" fill="#ff6533" stroke="#ff6533"/>
<path d="M722.5 1913.6l9.4 0.3 8.4 -21 -9.4 -0.5z" fill="#c8e688" stroke="#c8e688"/>
<path d="M740.2 1892.9l9.4 0.3 8.4 -18.4 -9.4 -0.6z" fill="#d9da7d" stroke="#d9da7d"/>
<path d="M1029 1704.4l9.7 3.7 7.7 -0.9 -9.7 -3.2z" fill="#ff1c0e" stroke="#ff1c0e"/>
<path d="M856.6 1788.6l9.6 -2.7 8.2 -15.2 -9.6 2.9z" fill="#ff793e" stroke="#ff793e"/>
<path d="M696.4 1965.7l9.4 -0.2 8.3 -27.6 -9.4 0z" fill="#a0faa1" stroke="#a0faa1"/>
<path d="M992.1 1699.8l9.7 -0.3 7.8 0.4 -9.7 -0.4z" fill="#ff160b" stroke="#ff160b"/>
<path d="M937.4 1719.6l9.7 -3.7 8 -7.1 -9.7 3.4z" fill="#ff2914" stroke="#ff2914"/>
<path d="M838.8 1806.9l9.5 -2.4 8.3 -15.8 -9.5 2.5z" fill="#ff8c49" stroke="#ff8c49"/>
<path d="M1075.4 1719.4l9.7 4.7 7.7 -3.6 -9.7 -4.3z" fill="#ff2f18" stroke="#ff2f18"/>
<path d="M688.1 1997.5l9.4 -0.5 8.3 -31.5 -9.4 0.2z" fill="#88ffaf" stroke="#88ffaf"/>
<path d="M821 1824.5l9.5 -1.9 8.3 -15.7 -9.5 2z" fill="#ffa055" stroke="#ffa055"/>
<path d="M1121.8 1734.6l9.7 5.1 7.6 -4.7 -9.7 -4.8z" fill="#ff4121" stroke="#ff4121"/>
<path d="M684.7 2203.8l9.4 1.3 8.1 -47 -9.4 -0.8z" fill="#1996f3" stroke="#1996f3"/>
<path d="M803.2 1841.4l9.5 -1.3 8.3 -15.5 -9.5 1.3z" fill="#ffae5e" stroke="#ffae5e"/>
<path d="M681 2072.6l9.4 -1.2 8.2 -39.5 -9.4 0.8z" fill="#4ef3cd" stroke="#4ef3cd"/>
<path d="M964.8 1706l9.7 -2.4 7.9 -2.8 -9.7 1.6z" fill="#ff190d" stroke="#ff190d"/>
<path d="M785.4 1858.1l9.5 -0.9 8.3 -15.8 -9.5 0.9z" fill="#f6be68" stroke="#f6be68"/>
<path d="M683.4 2158.4l9.4 -1.2 8.2 -44.4 -9.4 0.5z" fill="#0dc2e8" stroke="#0dc2e8"/>
<path d="M682.2 2114.7l9.4 -1.4 8.2 -42.7 -9.4 0.7z" fill="#2fe0db" stroke="#2fe0db"/>
<path d="M1038.7 1708.2l9.7 4.3 7.7 -1.6 -9.7 -3.7z" fill="#ff1f10" stroke="#ff1f10"/>
<path d="M714.1 1937.8l9.4 0.1 8.4 -24 -9.4 -0.3z" fill="#b9ef92" stroke="#b9ef92"/>
<path d="M919.6 1733.5l9.7 -3.9 8.1 -10 -9.7 3.9z" fill="#ff351b" stroke="#ff351b"/>
<path d="M1085.1 1724.1l9.7 4.9 7.7 -4 -9.7 -4.5z" fill="#ff3219" stroke="#ff3219"/>
<path d="M767.5 1875l9.5 -0.3 8.4 -16.6 -9.5 0.4z" fill="#e8cb72" stroke="#e8cb72"/>
<path d="M1131.5 1739.7l9.7 5.2 7.6 -4.9 -9.7 -4.9z" fill="#ff4422" stroke="#ff4422"/>
<path d="M731.9 1913.9l9.4 0.2 8.4 -20.9 -9.4 -0.3z" fill="#cbe486" stroke="#cbe486"/>
<path d="M749.7 1893.2l9.5 0.1 8.4 -18.3 -9.5 -0.2z" fill="#dbd87b" stroke="#dbd87b"/>
<path d="M689.2 2032.7l9.4 -0.8 8.3 -35.4 -9.4 0.4z" fill="#70febc" stroke="#70febc"/>
<path d="M901.8 1749.8l9.6 -3.9 8.2 -12.3 -9.6 4z" fill="#ff4724" stroke="#ff4724"/>
<path d="M1001.8 1699.5l9.7 0.9 7.8 1.1 -9.7 -1.6z" fill="#ff1309" stroke="#ff1309"/>
<path d="M705.8 1965.5l9.4 -0.2 8.3 -27.4 -9.4 -0.1z" fill="#a4f89f" stroke="#a4f89f"/>
<path d="M884 1767.5l9.6 -3.5 8.2 -14.2 -9.6 3.7z" fill="#ff5c2f" stroke="#ff5c2f"/>
<path d="M697.5 1997l9.4 -0.4 8.3 -31.3 -9.4 0.2z" fill="#8cfead" stroke="#8cfead"/>
<path d="M694.1 2205.1l9.4 2.5 8.2 -47.1 -9.4 -2.4z" fill="#1996f3" stroke="#1996f3"/>
<path d="M1048.3 1712.4l9.7 4.8 7.7 -2.3 -9.7 -4.1z" fill="#ff2211" stroke="#ff2211"/>
<path d="M866.2 1785.9l9.6 -2.9 8.2 -15.5 -9.6 3.2z" fill="#ff703a" stroke="#ff703a"/>
<path d="M1094.8 1729l9.7 5 7.7 -4.3 -9.7 -4.7z" fill="#ff351b" stroke="#ff351b"/>
<path d="M848.3 1804.5l9.6 -2.6 8.3 -15.9 -9.6 2.7z" fill="#ff8646" stroke="#ff8646"/>
<path d="M947.1 1715.9l9.7 -3.3 8 -6.6 -9.7 2.9z" fill="#ff1f10" stroke="#ff1f10"/>
<path d="M1141.2 1744.9l9.7 5.2 7.6 -5.2 -9.7 -5z" fill="#ff4724" stroke="#ff4724"/>
<path d="M830.5 1822.6l9.5 -2.3 8.3 -15.9 -9.5 2.4z" fill="#ff9850" stroke="#ff9850"/>
<path d="M690.4 2071.4l9.4 -0.7 8.2 -39.2 -9.4 0.5z" fill="#52f5cb" stroke="#52f5cb"/>
<path d="M812.7 1840l9.5 -1.7 8.3 -15.7 -9.5 1.9z" fill="#ffa95b" stroke="#ffa95b"/>
<path d="M974.5 1703.7l9.7 -1.8 7.9 -2 -9.7 1z" fill="#ff1309" stroke="#ff1309"/>
<path d="M723.5 1937.9l9.4 0 8.4 -23.8 -9.4 -0.2z" fill="#bbee91" stroke="#bbee91"/>
<path d="M692.8 2157.2l9.4 0.8 8.2 -44.6 -9.4 -0.6z" fill="#0fc4e7" stroke="#0fc4e7"/>
<path d="M794.8 1857.2l9.5 -1.3 8.3 -15.9 -9.5 1.3z" fill="#fbb965" stroke="#fbb965"/>
<path d="M691.6 2113.4l9.4 -0.5 8.2 -42.3 -9.4 0.2z" fill="#32e3da" stroke="#32e3da"/>
<path d="M777 1874.7l9.5 -0.7 8.4 -16.8 -9.5 0.9z" fill="#ecc86f" stroke="#ecc86f"/>
<path d="M1011.6 1700.4l9.7 2.6 7.8 1.5 -9.7 -2.9z" fill="#ff1008" stroke="#ff1008"/>
<path d="M1058 1717.3l9.7 5.2 7.7 -3.1 -9.7 -4.4z" fill="#ff2613" stroke="#ff2613"/>
<path d="M741.3 1914.1l9.5 0 8.4 -20.8 -9.5 -0.1z" fill="#cee184" stroke="#cee184"/>
<path d="M1104.5 1734l9.7 5.2 7.7 -4.5 -9.7 -4.9z" fill="#ff381c" stroke="#ff381c"/>
<path d="M759.1 1893.3l9.5 -0.2 8.4 -18.4 -9.5 0.3z" fill="#ded579" stroke="#ded579"/>
<path d="M1150.9 1750.1l9.7 5 7.6 -5.2 -9.7 -5z" fill="#ff4a26" stroke="#ff4a26"/>
<path d="M929.3 1729.6l9.7 -3.7 8.1 -9.9 -9.7 3.7z" fill="#ff2c16" stroke="#ff2c16"/>
<path d="M703.5 2207.6l9.4 3.2 8.2 -47.4 -9.5 -3z" fill="#1996f3" stroke="#1996f3"/>
<path d="M698.6 2031.9l9.4 -0.5 8.3 -35.2 -9.4 0.3z" fill="#74feba" stroke="#74feba"/>
<path d="M715.2 1965.3l9.4 -0.1 8.3 -27.3 -9.4 0z" fill="#a6f89d" stroke="#a6f89d"/>
<path d="M706.9 1996.5l9.4 -0.3 8.3 -31.1 -9.4 0.1z" fill="#8efeac" stroke="#8efeac"/>
<path d="M911.5 1745.9l9.7 -3.9 8.2 -12.4 -9.7 3.9z" fill="#ff3b1e" stroke="#ff3b1e"/>
<path d="M1067.7 1722.5l9.7 5.3 7.7 -3.7 -9.7 -4.7z" fill="#ff2914" stroke="#ff2914"/>
<path d="M1114.2 1739.2l9.7 5.2 7.6 -4.7 -9.7 -5.1z" fill="#ff3e1f" stroke="#ff3e1f"/>
<path d="M893.6 1764l9.6 -3.7 8.2 -14.4 -9.6 3.9z" fill="#ff5029" stroke="#ff5029"/>
<path d="M702.2 2158l9.4 2.4 8.2 -45.3 -9.4 -1.7z" fill="#10c6e6" stroke="#10c6e6"/>
<path d="M699.8 2070.7l9.4 -0.2 8.2 -39.2 -9.4 0.1z" fill="#56f7ca" stroke="#56f7ca"/>
<path d="M875.8 1783l9.6 -3.2 8.2 -15.8 -9.6 3.5z" fill="#ff6835" stroke="#ff6835"/>
<path d="M1021.2 1703l9.7 4.5 7.8 0.6 -9.7 -3.7z" fill="#ff1309" stroke="#ff1309"/>
<path d="M857.9 1801.8l9.6 -2.7 8.3 -16.1 -9.6 2.9z" fill="#ff7e41" stroke="#ff7e41"/>
<path d="M956.8 1712.6l9.7 -2.8 8 -6.2 -9.7 2.4z" fill="#ff160b" stroke="#ff160b"/>
<path d="M840.1 1820.3l9.6 -2.6 8.3 -15.9 -9.6 2.6z" fill="#ff914c" stroke="#ff914c"/>
<path d="M984.2 1701.9l9.7 -1 7.9 -1.4 -9.7 0.3z" fill="#ff0d06" stroke="#ff0d06"/>
<path d="M732.9 1937.9l9.5 0 8.4 -23.8 -9.5 0z" fill="#bced8f" stroke="#bced8f"/>
<path d="M822.2 1838.3l9.5 -2.1 8.3 -15.8 -9.5 2.3z" fill="#ffa558" stroke="#ffa558"/>
<path d="M701 2112.8l9.4 0.6 8.2 -42.5 -9.4 -0.5z" fill="#37e6d8" stroke="#37e6d8"/>
<path d="M712.9 2210.8l9.5 3.5 8.2 -47.7 -9.5 -3.2z" fill="#1996f3" stroke="#1996f3"/>
<path d="M804.3 1855.9l9.5 -1.6 8.3 -16.1 -9.5 1.7z" fill="#feb562" stroke="#feb562"/>
<path d="M750.8 1914.1l9.5 -0.1 8.4 -20.9 -9.5 0.2z" fill="#d0e082" stroke="#d0e082"/>
<path d="M786.5 1874l9.5 -1 8.4 -17 -9.5 1.3z" fill="#f0c46c" stroke="#f0c46c"/>
<path d="M768.6 1893.1l9.5 -0.5 8.4 -18.6 -9.5 0.7z" fill="#e0d377" stroke="#e0d377"/>
<path d="M1077.4 1727.8l9.7 5.4 7.7 -4.2 -9.7 -4.9z" fill="#ff2c16" stroke="#ff2c16"/>
<path d="M1123.9 1744.4l9.7 5.3 7.6 -4.8 -9.7 -5.2z" fill="#ff4121" stroke="#ff4121"/>
<path d="M708 2031.5l9.4 -0.1 8.3 -35.1 -9.4 0.1z" fill="#76ffb9" stroke="#76ffb9"/>
<path d="M724.6 1965.2l9.4 0 8.4 -27.2 -9.5 0z" fill="#abf69b" stroke="#abf69b"/>
<path d="M1030.9 1707.5l9.7 5.6 7.8 -0.7 -9.7 -4.3z" fill="#ff160b" stroke="#ff160b"/>
<path d="M716.3 1996.3l9.4 -0.1 8.3 -31 -9.4 0z" fill="#92fda9" stroke="#92fda9"/>
<path d="M939 1725.9l9.7 -3.3 8.1 -9.9 -9.7 3.3z" fill="#ff2211" stroke="#ff2211"/>
<path d="M711.6 2160.5l9.5 3 8.2 -46.2 -9.5 -2.1z" fill="#10c6e6" stroke="#10c6e6"/>
<path d="M722.4 2214.3l9.5 3.7 8.2 -47.8 -9.5 -3.6z" fill="#1996f3" stroke="#1996f3"/>
<path d="M709.2 2070.5l9.4 0.5 8.3 -39.4 -9.4 -0.3z" fill="#5af8c8" stroke="#5af8c8"/>
<path d="M1087.1 1733.1l9.7 5.4 7.7 -4.5 -9.7 -5z" fill="#ff3219" stroke="#ff3219"/>
<path d="M1133.6 1749.7l9.7 5.3 7.6 -4.9 -9.7 -5.2z" fill="#ff4422" stroke="#ff4422"/>
<path d="M994 1700.9l9.7 0.4 7.9 -0.9 -9.7 -0.9z" fill="#ff0603" stroke="#ff0603"/>
<path d="M742.4 1937.9l9.5 -0.1 8.4 -23.9 -9.5 0.1z" fill="#c0eb8d" stroke="#c0eb8d"/>
<path d="M710.4 2113.5l9.4 1.7 8.2 -43.1 -9.5 -1z" fill="#38e7d7" stroke="#38e7d7"/>
<path d="M921.1 1742l9.7 -3.7 8.2 -12.4 -9.7 3.7z" fill="#ff3219" stroke="#ff3219"/>
<path d="M1040.6 1713.2l9.7 6.3 7.8 -2.2 -9.7 -4.8z" fill="#ff190d" stroke="#ff190d"/>
<path d="M966.5 1709.9l9.7 -2.2 8 -5.8 -9.7 1.8z" fill="#ff0d06" stroke="#ff0d06"/>
<path d="M867.5 1799.1l9.6 -2.9 8.3 -16.4 -9.6 3.2z" fill="#ff763d" stroke="#ff763d"/>
<path d="M903.3 1760.3l9.7 -3.8 8.2 -14.4 -9.7 3.9z" fill="#ff4724" stroke="#ff4724"/>
<path d="M885.4 1779.8l9.6 -3.5 8.2 -16 -9.6 3.7z" fill="#ff5f30" stroke="#ff5f30"/>
<path d="M849.6 1817.8l9.6 -2.7 8.3 -15.9 -9.6 2.7z" fill="#ff8947" stroke="#ff8947"/>
<path d="M831.8 1836.2l9.6 -2.4 8.3 -16 -9.6 2.6z" fill="#ff9d53" stroke="#ff9d53"/>
<path d="M760.2 1914l9.5 -0.3 8.4 -21.1 -9.5 0.5z" fill="#d4dd80" stroke="#d4dd80"/>
<path d="M813.9 1854.4l9.6 -1.9 8.3 -16.3 -9.5 2.1z" fill="#ffae5e" stroke="#ffae5e"/>
<path d="M796 1873l9.5 -1.3 8.4 -17.3 -9.5 1.6z" fill="#f4c069" stroke="#f4c069"/>
<path d="M778.1 1892.6l9.5 -0.7 8.4 -18.9 -9.5 1z" fill="#e4cf74" stroke="#e4cf74"/>
<path d="M717.4 2031.3l9.4 0.3 8.3 -35.3 -9.5 -0.1z" fill="#7affb7" stroke="#7affb7"/>
<path d="M734 1965.2l9.5 0 8.4 -27.3 -9.5 0.1z" fill="#acf59a" stroke="#acf59a"/>
<path d="M1096.8 1738.5l9.7 5.4 7.7 -4.7 -9.7 -5.2z" fill="#ff351b" stroke="#ff351b"/>
<path d="M1143.3 1755l9.7 5.1 7.6 -4.9 -9.7 -5z" fill="#ff4724" stroke="#ff4724"/>
<path d="M721.1 2163.5l9.5 3.2 8.2 -46.8 -9.5 -2.5z" fill="#12c8e6" stroke="#12c8e6"/>
<path d="M731.9 2218l9.5 4.4 8.2 -47.8 -9.5 -4.4z" fill="#1c93f3" stroke="#1c93f3"/>
<path d="M1050.2 1719.4l9.7 6.3 7.8 -3.3 -9.7 -5.2z" fill="#ff1f10" stroke="#ff1f10"/>
<path d="M725.7 1996.2l9.5 0.1 8.3 -31.1 -9.5 0z" fill="#96fca7" stroke="#96fca7"/>
<path d="M1003.7 1701.3l9.7 2.4 7.8 -0.7 -9.7 -2.6z" fill="#ff0603" stroke="#ff0603"/>
<path d="M948.7 1722.6l9.7 -2.7 8.1 -10 -9.7 2.8z" fill="#ff190d" stroke="#ff190d"/>
<path d="M718.6 2071l9.5 1 8.3 -39.9 -9.5 -0.6z" fill="#5df9c7" stroke="#5df9c7"/>
<path d="M719.8 2115.2l9.5 2.1 8.2 -43.9 -9.5 -1.4z" fill="#38e7d7" stroke="#38e7d7"/>
<path d="M751.9 1937.9l9.5 -0.1 8.4 -24.1 -9.5 0.3z" fill="#c4e88a" stroke="#c4e88a"/>
<path d="M1106.5 1743.9l9.7 5.4 7.7 -4.9 -9.7 -5.2z" fill="#ff381c" stroke="#ff381c"/>
<path d="M1059.9 1725.8l9.7 6.1 7.8 -4.1 -9.7 -5.3z" fill="#ff2211" stroke="#ff2211"/>
<path d="M741.3 2222.4l9.5 4.7 8.2 -47.4 -9.5 -5.1z" fill="#1e91f3" stroke="#1e91f3"/>
<path d="M976.2 1707.7l9.7 -1.3 8 -5.6 -9.7 1z" fill="#ff0603" stroke="#ff0603"/>
<path d="M730.6 2166.7l9.5 3.6 8.2 -47.3 -9.5 -3.1z" fill="#10c6e6" stroke="#10c6e6"/>
<path d="M930.8 1738.3l9.7 -3.2 8.2 -12.6 -9.7 3.3z" fill="#ff2914" stroke="#ff2914"/>
<path d="M769.7 1913.6l9.5 -0.4 8.4 -21.4 -9.5 0.7z" fill="#d6db7e" stroke="#d6db7e"/>
<path d="M859.2 1815l9.6 -2.8 8.3 -15.9 -9.6 2.9z" fill="#ff8444" stroke="#ff8444"/>
<path d="M726.9 2031.6l9.5 0.6 8.3 -35.6 -9.5 -0.3z" fill="#7dffb6" stroke="#7dffb6"/>
<path d="M877.1 1796.2l9.6 -3.2 8.3 -16.8 -9.6 3.5z" fill="#ff6d38" stroke="#ff6d38"/>
<path d="M841.3 1833.8l9.6 -2.6 8.3 -16.1 -9.6 2.7z" fill="#ff964f" stroke="#ff964f"/>
<path d="M743.5 1965.2l9.5 0.1 8.4 -27.5 -9.5 0.1z" fill="#b0f397" stroke="#b0f397"/>
<path d="M912.9 1756.4l9.7 -3.7 8.2 -14.4 -9.7 3.7z" fill="#ff3e1f" stroke="#ff3e1f"/>
<path d="M787.6 1891.8l9.5 -0.9 8.4 -19.2 -9.5 1.3z" fill="#e8cb72" stroke="#e8cb72"/>
<path d="M823.4 1852.5l9.6 -2.1 8.3 -16.7 -9.6 2.4z" fill="#ffa95b" stroke="#ffa95b"/>
<path d="M895 1776.3l9.7 -3.8 8.2 -16 -9.7 3.8z" fill="#ff532a" stroke="#ff532a"/>
<path d="M1013.4 1703.7l9.7 4.8 7.8 -1 -9.7 -4.5z" fill="#ff0603" stroke="#ff0603"/>
<path d="M805.5 1871.7l9.6 -1.4 8.3 -17.7 -9.6 1.9z" fill="#f9bb66" stroke="#f9bb66"/>
<path d="M1116.2 1749.3l9.7 5.3 7.7 -4.9 -9.7 -5.3z" fill="#ff3e1f" stroke="#ff3e1f"/>
<path d="M1069.6 1731.8l9.7 5.9 7.8 -4.6 -9.7 -5.4z" fill="#ff2914" stroke="#ff2914"/>
<path d="M735.2 1996.3l9.5 0.3 8.3 -31.3 -9.5 -0.1z" fill="#99fca6" stroke="#99fca6"/>
<path d="M750.8 2227.1l9.5 5.1 8.3 -46.8 -9.5 -5.7z" fill="#208ef4" stroke="#208ef4"/>
<path d="M729.3 2117.3l9.5 2.5 8.3 -44.7 -9.5 -1.7z" fill="#3ae8d6" stroke="#3ae8d6"/>
<path d="M728.1 2072l9.5 1.4 8.3 -40.4 -9.5 -0.8z" fill="#5efac6" stroke="#5efac6"/>
<path d="M740.1 2170.2l9.5 4.4 8.2 -47.9 -9.5 -3.8z" fill="#10c6e6" stroke="#10c6e6"/>
<path d="M761.4 1937.7l9.5 -0.2 8.4 -24.4 -9.5 0.4z" fill="#c6e789" stroke="#c6e789"/>
<path d="M1023.1 1708.5l9.7 6.6 7.8 -1.9 -9.7 -5.6z" fill="#ff0d06" stroke="#ff0d06"/>
<path d="M958.4 1719.8l9.7 -1.9 8.1 -10.3 -9.7 2.2z" fill="#ff1008" stroke="#ff1008"/>
<path d="M1125.9 1754.6l9.8 5.2 7.6 -4.8 -9.7 -5.3z" fill="#ff4121" stroke="#ff4121"/>
<path d="M1079.3 1737.7l9.7 5.8 7.8 -5.1 -9.7 -5.4z" fill="#ff2f18" stroke="#ff2f18"/>
<path d="M986 1706.4l9.7 0.3 8 -5.4 -9.7 -0.4z" fill="#ff0302" stroke="#ff0302"/>
<path d="M760.4 2232.1l9.5 5.4 8.3 -45.9 -9.5 -6.2z" fill="#218cf4" stroke="#218cf4"/>
<path d="M779.3 1913.2l9.5 -0.5 8.4 -21.7 -9.5 0.9z" fill="#dbd87b" stroke="#dbd87b"/>
<path d="M736.3 2032.2l9.5 0.8 8.3 -36 -9.5 -0.4z" fill="#7effb5" stroke="#7effb5"/>
<path d="M753 1965.3l9.5 0.1 8.4 -27.8 -9.5 0.2z" fill="#b2f396" stroke="#b2f396"/>
<path d="M1032.8 1715.1l9.7 7.4 7.8 -3.1 -9.7 -6.3z" fill="#ff1309" stroke="#ff1309"/>
<path d="M940.5 1735.1l9.7 -2.4 8.2 -12.9 -9.7 2.7z" fill="#ff1f10" stroke="#ff1f10"/>
<path d="M738.8 2119.8l9.5 3.1 8.3 -45.7 -9.5 -2.2z" fill="#3ae8d6" stroke="#3ae8d6"/>
<path d="M797.2 1890.9l9.6 -1 8.4 -19.7 -9.6 1.4z" fill="#ecc86f" stroke="#ecc86f"/>
<path d="M749.6 2174.6l9.5 5.1 8.3 -48.2 -9.5 -4.7z" fill="#0fc4e7" stroke="#0fc4e7"/>
<path d="M744.7 1996.6l9.5 0.4 8.4 -31.6 -9.5 -0.1z" fill="#9bfba5" stroke="#9bfba5"/>
<path d="M1089 1743.6l9.7 5.7 7.7 -5.4 -9.7 -5.4z" fill="#ff3219" stroke="#ff3219"/>
<path d="M815.1 1870.2l9.6 -1.5 8.3 -18.3 -9.6 2.1z" fill="#feb562" stroke="#feb562"/>
<path d="M868.8 1812.2l9.6 -3 8.3 -16.1 -9.6 3.2z" fill="#ff7b40" stroke="#ff7b40"/>
<path d="M1135.7 1759.8l9.8 5.2 7.6 -4.9 -9.7 -5.1z" fill="#ff4422" stroke="#ff4422"/>
<path d="M850.9 1831.1l9.6 -2.7 8.3 -16.2 -9.6 2.8z" fill="#ff8e4a" stroke="#ff8e4a"/>
<path d="M833 1850.4l9.6 -2.2 8.3 -17.1 -9.6 2.6z" fill="#ffa256" stroke="#ffa256"/>
<path d="M737.5 2073.4l9.5 1.7 8.3 -41.2 -9.5 -0.9z" fill="#60fac5" stroke="#60fac5"/>
<path d="M886.8 1793.1l9.7 -3.8 8.3 -16.9 -9.7 3.8z" fill="#ff6232" stroke="#ff6232"/>
<path d="M922.6 1752.8l9.7 -3.1 8.2 -14.5 -9.7 3.2z" fill="#ff3219" stroke="#ff3219"/>
<path d="M769.9 2237.5l9.5 5.5 8.3 -44.9 -9.6 -6.5z" fill="#2686f5" stroke="#2686f5"/>
<path d="M904.7 1772.4l9.7 -3.7 8.2 -15.9 -9.7 3.7z" fill="#ff4a26" stroke="#ff4a26"/>
<path d="M1042.4 1722.5l9.7 7.4 7.8 -4.1 -9.7 -6.3z" fill="#ff190d" stroke="#ff190d"/>
<path d="M770.9 1937.6l9.5 -0.2 8.4 -24.7 -9.5 0.5z" fill="#cbe486" stroke="#cbe486"/>
<path d="M995.7 1706.7l9.7 2.5 8 -5.5 -9.7 -2.4z" fill="#ff0000" stroke="#ff0000"/>
<path d="M968.1 1718l9.7 -0.8 8.1 -10.7 -9.7 1.3z" fill="#ff0905" stroke="#ff0905"/>
<path d="M759.1 2179.7l9.5 5.7 8.3 -48.2 -9.6 -5.6z" fill="#0dc2e8" stroke="#0dc2e8"/>
<path d="M1098.7 1749.3l9.7 5.6 7.7 -5.7 -9.7 -5.4z" fill="#ff381c" stroke="#ff381c"/>
<path d="M748.3 2122.9l9.5 3.8 8.3 -46.6 -9.5 -2.9z" fill="#3ae8d6" stroke="#3ae8d6"/>
<path d="M779.4 2243l9.5 5.2 8.3 -44 -9.6 -6.1z" fill="#2884f6" stroke="#2884f6"/>
<path d="M1052.1 1729.9l9.7 6.9 7.8 -4.9 -9.7 -6.1z" fill="#ff1f10" stroke="#ff1f10"/>
<path d="M745.8 2033l9.5 0.9 8.3 -36.5 -9.5 -0.4z" fill="#82ffb3" stroke="#82ffb3"/>
<path d="M788.8 1912.7l9.6 -0.5 8.4 -22.2 -9.6 1z" fill="#ded579" stroke="#ded579"/>
<path d="M762.5 1965.4l9.5 0.1 8.4 -28.1 -9.5 0.2z" fill="#b6f193" stroke="#b6f193"/>
<path d="M754.2 1997l9.5 0.4 8.4 -31.9 -9.5 -0.1z" fill="#9efaa2" stroke="#9efaa2"/>
<path d="M747 2075.1l9.5 2.2 8.3 -42.1 -9.5 -1.2z" fill="#62fbc4" stroke="#62fbc4"/>
<path d="M950.3 1732.8l9.7 -1.3 8.2 -13.5 -9.7 1.9z" fill="#ff190d" stroke="#ff190d"/>
<path d="M768.6 2185.4l9.5 6.2 8.3 -48 -9.6 -6.5z" fill="#08bee9" stroke="#08bee9"/>
<path d="M806.7 1890l9.6 -0.9 8.4 -20.4 -9.6 1.5z" fill="#f0c46c" stroke="#f0c46c"/>
<path d="M1108.5 1755l9.7 5.5 7.7 -5.9 -9.7 -5.3z" fill="#ff3b1e" stroke="#ff3b1e"/>
<path d="M1061.8 1736.7l9.7 6.5 7.8 -5.5 -9.7 -5.9z" fill="#ff2613" stroke="#ff2613"/>
<path d="M824.7 1868.7l9.6 -1.5 8.3 -18.9 -9.6 2.2z" fill="#ffb05f" stroke="#ffb05f"/>
<path d="M1005.5 1709.2l9.7 5.1 7.9 -5.8 -9.7 -4.8z" fill="#ff0000" stroke="#ff0000"/>
<path d="M842.6 1848.3l9.6 -2.2 8.3 -17.6 -9.6 2.7z" fill="#ff9b52" stroke="#ff9b52"/>
<path d="M789 2248.2l9.6 4.5 8.3 -43.9 -9.6 -4.6z" fill="#2981f6" stroke="#2981f6"/>
<path d="M860.5 1828.4l9.6 -2.7 8.3 -16.5 -9.6 3z" fill="#ff8646" stroke="#ff8646"/>
<path d="M878.5 1809.2l9.7 -3.1 8.3 -16.8 -9.7 3.8z" fill="#ff703a" stroke="#ff703a"/>
<path d="M932.3 1749.6l9.7 -2.2 8.2 -14.7 -9.7 2.4z" fill="#ff2c16" stroke="#ff2c16"/>
<path d="M757.8 2126.8l9.5 4.7 8.3 -47.4 -9.6 -3.9z" fill="#3ae8d6" stroke="#3ae8d6"/>
<path d="M896.4 1789.3l9.7 -3.6 8.3 -17 -9.7 3.7z" fill="#ff592d" stroke="#ff592d"/>
<path d="M914.4 1768.7l9.7 -3.2 8.2 -15.9 -9.7 3.1z" fill="#ff4121" stroke="#ff4121"/>
<path d="M780.4 1937.4l9.6 -0.1 8.4 -25.1 -9.6 0.5z" fill="#cee184" stroke="#cee184"/>
<path d="M778.2 2191.6l9.6 6.5 8.3 -47.6 -9.6 -6.9z" fill="#04b9ea" stroke="#04b9ea"/>
<path d="M977.9 1717.2l9.7 0.7 8.1 -11.1 -9.7 -0.3z" fill="#ff0302" stroke="#ff0302"/>
<path d="M1118.2 1760.5l9.8 5.5 7.7 -6.2 -9.8 -5.2z" fill="#ff3e1f" stroke="#ff3e1f"/>
<path d="M1071.5 1743.2l9.7 6.3 7.8 -6 -9.7 -5.8z" fill="#ff2c16" stroke="#ff2c16"/>
<path d="M755.3 2033.9l9.5 1.2 8.3 -37.1 -9.5 -0.6z" fill="#84ffb2" stroke="#84ffb2"/>
<path d="M1015.2 1714.2l9.7 6.8 7.9 -6 -9.7 -6.6z" fill="#ff0603" stroke="#ff0603"/>
<path d="M756.6 2077.3l9.5 2.9 8.3 -43.2 -9.5 -1.9z" fill="#62fbc4" stroke="#62fbc4"/>
<path d="M772 1965.5l9.5 0.1 8.4 -28.4 -9.6 0.1z" fill="#b9ef92" stroke="#b9ef92"/>
<path d="M798.3 1912.2l9.6 -0.3 8.4 -22.8 -9.6 0.9z" fill="#e2d176" stroke="#e2d176"/>
<path d="M763.7 1997.4l9.5 0.6 8.4 -32.3 -9.5 -0.1z" fill="#a0faa1" stroke="#a0faa1"/>
<path d="M798.5 2252.7l9.6 4.1 8.4 -44.1 -9.6 -3.9z" fill="#2c7ef7" stroke="#2c7ef7"/>
<path d="M787.7 2198.1l9.6 6.1 8.3 -47.1 -9.6 -6.5z" fill="#02b7eb" stroke="#02b7eb"/>
<path d="M767.4 2131.5l9.6 5.6 8.3 -48.1 -9.6 -5z" fill="#38e7d7" stroke="#38e7d7"/>
<path d="M1024.8 1721.1l9.7 7.7 7.9 -6.2 -9.7 -7.4z" fill="#ff0d06" stroke="#ff0d06"/>
<path d="M960 1731.5l9.7 0 8.2 -14.3 -9.7 0.8z" fill="#ff1309" stroke="#ff1309"/>
<path d="M816.3 1889.1l9.6 -0.7 8.4 -21.2 -9.6 1.5z" fill="#f6be68" stroke="#f6be68"/>
<path d="M1081.2 1749.5l9.7 6.1 7.8 -6.4 -9.7 -5.7z" fill="#ff2f18" stroke="#ff2f18"/>
<path d="M1128 1766l9.8 5.5 7.7 -6.5 -9.8 -5.2z" fill="#ff4422" stroke="#ff4422"/>
<path d="M834.2 1867.2l9.6 -1.4 8.3 -19.8 -9.6 2.2z" fill="#ffa95b" stroke="#ffa95b"/>
<path d="M987.6 1717.8l9.7 2.6 8.1 -11.3 -9.7 -2.5z" fill="#ff0302" stroke="#ff0302"/>
<path d="M1034.5 1728.7l9.7 7.6 7.9 -6.5 -9.7 -7.4z" fill="#ff160b" stroke="#ff160b"/>
<path d="M852.2 1846.1l9.6 -2.1 8.3 -18.3 -9.6 2.7z" fill="#ff964f" stroke="#ff964f"/>
<path d="M942.1 1747.5l9.7 -0.9 8.2 -15.1 -9.7 1.3z" fill="#ff2211" stroke="#ff2211"/>
<path d="M790 1937.3l9.6 0.2 8.4 -25.6 -9.6 0.3z" fill="#d0e082" stroke="#d0e082"/>
<path d="M776.9 2137.1l9.6 6.5 8.3 -48.5 -9.6 -6.1z" fill="#34e4d9" stroke="#34e4d9"/>
<path d="M797.3 2204.2l9.6 4.6 8.4 -46.5 -9.6 -5.3z" fill="#01b3ec" stroke="#01b3ec"/>
<path d="M870.2 1825.7l9.7 -2.4 8.3 -17.2 -9.7 3.1z" fill="#ff8143" stroke="#ff8143"/>
<path d="M888.2 1806.1l9.7 -2.9 8.3 -17.5 -9.7 3.6z" fill="#ff6835" stroke="#ff6835"/>
<path d="M764.9 2035.1l9.5 1.9 8.4 -37.9 -9.6 -1.1z" fill="#86ffb0" stroke="#86ffb0"/>
<path d="M766.1 2080.2l9.6 3.9 8.3 -44.1 -9.6 -2.9z" fill="#62fbc4" stroke="#62fbc4"/>
<path d="M808.1 2256.8l9.6 4.3 8.4 -44.5 -9.6 -3.9z" fill="#2c7ef7" stroke="#2c7ef7"/>
<path d="M1090.9 1755.7l9.7 6 7.8 -6.7 -9.7 -5.6z" fill="#ff351b" stroke="#ff351b"/>
<path d="M924.1 1765.5l9.7 -2.1 8.2 -15.9 -9.7 2.2z" fill="#ff381c" stroke="#ff381c"/>
<path d="M906.1 1785.7l9.7 -3 8.3 -17.2 -9.7 3.2z" fill="#ff5029" stroke="#ff5029"/>
<path d="M1044.2 1736.3l9.7 7.1 7.9 -6.8 -9.7 -6.9z" fill="#ff1c0e" stroke="#ff1c0e"/>
<path d="M781.6 1965.7l9.6 0.6 8.4 -28.7 -9.6 -0.2z" fill="#bced8f" stroke="#bced8f"/>
<path d="M773.2 1998l9.6 1.1 8.4 -32.8 -9.6 -0.6z" fill="#a2f9a0" stroke="#a2f9a0"/>
<path d="M807.9 1911.9l9.6 0.2 8.4 -23.7 -9.6 0.7z" fill="#e6cd73" stroke="#e6cd73"/>
<path d="M786.5 2143.6l9.6 6.9 8.3 -48.5 -9.6 -6.9z" fill="#30e1da" stroke="#30e1da"/>
<path d="M969.7 1731.5l9.7 1.4 8.2 -15 -9.7 -0.7z" fill="#ff0d06" stroke="#ff0d06"/>
<path d="M997.4 1720.5l9.7 4.9 8.1 -11.1 -9.7 -5.1z" fill="#ff0302" stroke="#ff0302"/>
<path d="M806.9 2208.8l9.6 3.9 8.4 -46 -9.6 -4.4z" fill="#04b0ed" stroke="#04b0ed"/>
<path d="M1100.7 1761.7l9.8 5.9 7.8 -7.1 -9.7 -5.5z" fill="#ff3b1e" stroke="#ff3b1e"/>
<path d="M825.9 1888.4l9.6 -0.4 8.4 -22.2 -9.6 1.4z" fill="#f9bb66" stroke="#f9bb66"/>
<path d="M775.7 2084.1l9.6 5 8.3 -45 -9.6 -4.1z" fill="#62fbc4" stroke="#62fbc4"/>
<path d="M1053.9 1743.5l9.7 6.8 7.9 -7 -9.7 -6.5z" fill="#ff2211" stroke="#ff2211"/>
<path d="M817.7 2261l9.6 4.5 8.4 -44.8 -9.6 -4.1z" fill="#2e7bf7" stroke="#2e7bf7"/>
<path d="M796.1 2150.5l9.6 6.5 8.4 -48.1 -9.6 -6.8z" fill="#2ddedc" stroke="#2ddedc"/>
<path d="M774.4 2037l9.6 2.9 8.4 -38.9 -9.6 -2z" fill="#86ffb0" stroke="#86ffb0"/>
<path d="M799.5 1937.5l9.6 0.9 8.4 -26.4 -9.6 -0.2z" fill="#d2de81" stroke="#d2de81"/>
<path d="M843.9 1865.8l9.6 -1.1 8.4 -20.7 -9.6 2.1z" fill="#ffa558" stroke="#ffa558"/>
<path d="M951.8 1746.6l9.7 0.4 8.2 -15.6 -9.7 0z" fill="#ff1f10" stroke="#ff1f10"/>
<path d="M1007.1 1725.4l9.7 6.4 8 -10.7 -9.7 -6.8z" fill="#ff0905" stroke="#ff0905"/>
<path d="M861.9 1844l9.7 -1.8 8.3 -18.9 -9.7 2.4z" fill="#ff8e4a" stroke="#ff8e4a"/>
<path d="M1110.4 1767.6l9.8 5.8 7.8 -7.5 -9.8 -5.5z" fill="#ff3e1f" stroke="#ff3e1f"/>
<path d="M1063.6 1750.3l9.7 6.5 7.9 -7.3 -9.7 -6.3z" fill="#ff2914" stroke="#ff2914"/>
<path d="M879.9 1823.3l9.7 -2.1 8.3 -18 -9.7 2.9z" fill="#ff793e" stroke="#ff793e"/>
<path d="M933.8 1763.4l9.7 -0.6 8.2 -16.1 -9.7 0.9z" fill="#ff3219" stroke="#ff3219"/>
<path d="M791.1 1966.3l9.6 1.5 8.4 -29.3 -9.6 -0.9z" fill="#beec8e" stroke="#beec8e"/>
<path d="M782.8 1999.1l9.6 2 8.4 -33.3 -9.6 -1.5z" fill="#a4f89f" stroke="#a4f89f"/>
<path d="M897.8 1803.2l9.7 -2.4 8.3 -18.1 -9.7 3z" fill="#ff5f30" stroke="#ff5f30"/>
<path d="M816.5 2212.7l9.6 3.9 8.4 -46 -9.6 -4z" fill="#04b0ed" stroke="#04b0ed"/>
<path d="M785.2 2089l9.6 6.1 8.4 -45.5 -9.6 -5.6z" fill="#5efac6" stroke="#5efac6"/>
<path d="M915.8 1782.7l9.7 -1.9 8.3 -17.4 -9.7 2.1z" fill="#ff4724" stroke="#ff4724"/>
<path d="M805.6 2157l9.6 5.3 8.4 -47.4 -9.6 -6z" fill="#2adddd" stroke="#2adddd"/>
<path d="M979.5 1732.8l9.7 2.6 8.2 -15 -9.7 -2.6z" fill="#ff0d06" stroke="#ff0d06"/>
<path d="M817.5 1912.1l9.6 0.7 8.4 -24.8 -9.6 0.4z" fill="#e8cb72" stroke="#e8cb72"/>
<path d="M827.3 2265.5l9.6 4.8 8.4 -45.2 -9.6 -4.4z" fill="#3079f7" stroke="#3079f7"/>
<path d="M1016.8 1731.8l9.7 7 8 -10.1 -9.7 -7.7z" fill="#ff1008" stroke="#ff1008"/>
<path d="M784 2040l9.6 4.1 8.4 -39.6 -9.6 -3.4z" fill="#86ffb0" stroke="#86ffb0"/>
<path d="M1073.3 1756.8l9.7 6.4 7.9 -7.5 -9.7 -6.1z" fill="#ff2f18" stroke="#ff2f18"/>
<path d="M1120.2 1773.4l9.8 5.8 7.8 -7.7 -9.8 -5.5z" fill="#ff4422" stroke="#ff4422"/>
<path d="M835.5 1888l9.6 0 8.4 -23.3 -9.6 1.1z" fill="#fcb763" stroke="#fcb763"/>
<path d="M794.8 2095.1l9.6 6.9 8.4 -45.5 -9.6 -6.9z" fill="#5af8c8" stroke="#5af8c8"/>
<path d="M1026.5 1738.8l9.7 7 8 -9.5 -9.7 -7.6z" fill="#ff190d" stroke="#ff190d"/>
<path d="M809.1 1938.5l9.6 1.8 8.4 -27.5 -9.6 -0.7z" fill="#d4dd80" stroke="#d4dd80"/>
<path d="M961.5 1747l9.7 1.7 8.2 -15.9 -9.7 -1.4z" fill="#ff1c0e" stroke="#ff1c0e"/>
<path d="M815.2 2162.3l9.6 4.4 8.4 -46.7 -9.6 -5.1z" fill="#27dade" stroke="#27dade"/>
<path d="M826.1 2216.6l9.6 4.1 8.4 -46.3 -9.6 -3.8z" fill="#06aeed" stroke="#06aeed"/>
<path d="M836.9 2270.3l9.6 5.2 8.4 -45.6 -9.6 -4.8z" fill="#3176f8" stroke="#3176f8"/>
<path d="M853.5 1864.7l9.7 -0.8 8.4 -21.7 -9.7 1.8z" fill="#ffa055" stroke="#ffa055"/>
<path d="M989.2 1735.5l9.7 4.3 8.1 -14.4 -9.7 -4.9z" fill="#ff0d06" stroke="#ff0d06"/>
<path d="M792.3 2001l9.6 3.4 8.4 -34 -9.6 -2.8z" fill="#a4f89f" stroke="#a4f89f"/>
<path d="M800.7 1967.7l9.6 2.8 8.4 -30.2 -9.6 -1.8z" fill="#beec8e" stroke="#beec8e"/>
<path d="M1083.1 1763.2l9.8 6.3 7.8 -7.8 -9.7 -6z" fill="#ff351b" stroke="#ff351b"/>
<path d="M804.4 2102.1l9.6 6.8 8.4 -45.4 -9.6 -6.9z" fill="#56f7ca" stroke="#56f7ca"/>
<path d="M943.6 1762.7l9.7 0.7 8.2 -16.4 -9.7 -0.4z" fill="#ff2c16" stroke="#ff2c16"/>
<path d="M1036.2 1745.8l9.7 6.7 8 -9.1 -9.7 -7.1z" fill="#ff1f10" stroke="#ff1f10"/>
<path d="M793.6 2044.1l9.6 5.6 8.4 -39.8 -9.6 -5.3z" fill="#84ffb2" stroke="#84ffb2"/>
<path d="M871.5 1842.2l9.7 -1.4 8.3 -19.6 -9.7 2.1z" fill="#ff8947" stroke="#ff8947"/>
<path d="M827.1 1912.8l9.6 1.3 8.4 -26.1 -9.6 0z" fill="#ebca70" stroke="#ebca70"/>
<path d="M889.5 1821.2l9.7 -1.6 8.3 -18.8 -9.7 2.4z" fill="#ff703a" stroke="#ff703a"/>
<path d="M925.6 1780.8l9.7 -0.6 8.3 -17.5 -9.7 0.6z" fill="#ff4121" stroke="#ff4121"/>
<path d="M907.6 1800.8l9.7 -1.5 8.3 -18.6 -9.7 1.9z" fill="#ff592d" stroke="#ff592d"/>
<path d="M824.8 2166.7l9.6 4 8.4 -46.4 -9.6 -4.3z" fill="#27dade" stroke="#27dade"/>
<path d="M1092.8 1769.5l9.8 6.2 7.8 -8.1 -9.8 -5.9z" fill="#ff3b1e" stroke="#ff3b1e"/>
<path d="M999 1739.8l9.7 5.5 8.1 -13.5 -9.7 -6.4z" fill="#ff1309" stroke="#ff1309"/>
<path d="M846.5 2275.5l9.6 5.5 8.4 -46.2 -9.7 -4.9z" fill="#3473f8" stroke="#3473f8"/>
<path d="M835.7 2220.7l9.6 4.4 8.4 -46.9 -9.6 -3.8z" fill="#06aeed" stroke="#06aeed"/>
<path d="M814 2108.9l9.6 6 8.4 -45.2 -9.6 -6.2z" fill="#52f5cb" stroke="#52f5cb"/>
<path d="M1045.9 1752.6l9.7 6.5 7.9 -8.8 -9.7 -6.8z" fill="#ff2613" stroke="#ff2613"/>
<path d="M971.3 1748.7l9.7 2.9 8.2 -16.1 -9.7 -2.6z" fill="#ff190d" stroke="#ff190d"/>
<path d="M818.7 1940.3l9.6 2.8 8.4 -29 -9.6 -1.3z" fill="#d6db7e" stroke="#d6db7e"/>
<path d="M801.9 2004.5l9.6 5.3 8.4 -35 -9.6 -4.3z" fill="#a4f89f" stroke="#a4f89f"/>
<path d="M803.2 2049.6l9.6 6.9 8.4 -40.4 -9.6 -6.3z" fill="#80ffb4" stroke="#80ffb4"/>
<path d="M845.1 1888l9.7 0.5 8.4 -24.6 -9.7 0.8z" fill="#ffb360" stroke="#ffb360"/>
<path d="M810.3 1970.5l9.6 4.3 8.4 -31.7 -9.6 -2.8z" fill="#beec8e" stroke="#beec8e"/>
<path d="M1008.7 1745.2l9.7 6 8.1 -12.5 -9.7 -7z" fill="#ff190d" stroke="#ff190d"/>
<path d="M1102.6 1775.7l9.8 6.1 7.8 -8.4 -9.8 -5.8z" fill="#ff4121" stroke="#ff4121"/>
<path d="M1055.7 1759.1l9.7 6.4 7.9 -8.7 -9.7 -6.5z" fill="#ff2c16" stroke="#ff2c16"/>
<path d="M953.3 1763.4l9.7 1.8 8.2 -16.5 -9.7 -1.7z" fill="#ff2c16" stroke="#ff2c16"/>
<path d="M863.2 1863.9l9.7 -0.3 8.4 -22.9 -9.7 1.4z" fill="#ff9b52" stroke="#ff9b52"/>
<path d="M823.6 2114.9l9.6 5.1 8.4 -44.9 -9.6 -5.3z" fill="#50f4cc" stroke="#50f4cc"/>
<path d="M812.8 2056.5l9.6 6.9 8.4 -40.9 -9.6 -6.4z" fill="#7dffb6" stroke="#7dffb6"/>
<path d="M856.2 2281l9.6 4.9 8.5 -46.7 -9.7 -4.4z" fill="#3670f8" stroke="#3670f8"/>
<path d="M834.5 2170.6l9.6 3.8 8.4 -46.5 -9.7 -3.7z" fill="#24d8df" stroke="#24d8df"/>
<path d="M836.7 1914.1l9.6 1.8 8.4 -27.4 -9.7 -0.5z" fill="#ecc86f" stroke="#ecc86f"/>
<path d="M811.6 2009.8l9.6 6.3 8.4 -36 -9.6 -5.3z" fill="#a0faa1" stroke="#a0faa1"/>
<path d="M845.3 2225.1l9.6 4.8 8.5 -47.8 -9.7 -3.8z" fill="#08acee" stroke="#08acee"/>
<path d="M881.2 1840.8l9.7 -0.7 8.3 -20.5 -9.7 1.6z" fill="#ff8143" stroke="#ff8143"/>
<path d="M981 1751.6l9.7 3.8 8.2 -15.7 -9.7 -4.3z" fill="#ff1c0e" stroke="#ff1c0e"/>
<path d="M935.3 1780.2l9.7 0.7 8.3 -17.5 -9.7 -0.7z" fill="#ff3e1f" stroke="#ff3e1f"/>
<path d="M899.2 1819.6l9.7 -0.7 8.3 -19.5 -9.7 1.5z" fill="#ff6b37" stroke="#ff6b37"/>
<path d="M1018.4 1751.3l9.7 6.1 8.1 -11.6 -9.7 -7z" fill="#ff1f10" stroke="#ff1f10"/>
<path d="M828.3 1943.1l9.6 3.5 8.4 -30.7 -9.6 -1.8z" fill="#d6db7e" stroke="#d6db7e"/>
<path d="M917.3 1799.3l9.7 -0.3 8.3 -18.8 -9.7 0.6z" fill="#ff532a" stroke="#ff532a"/>
<path d="M819.9 1974.8l9.6 5.3 8.4 -33.5 -9.6 -3.5z" fill="#beec8e" stroke="#beec8e"/>
<path d="M1065.4 1765.5l9.8 6.3 7.9 -8.6 -9.7 -6.4z" fill="#ff3219" stroke="#ff3219"/>
<path d="M1112.4 1781.9l9.8 6 7.8 -8.7 -9.8 -5.8z" fill="#ff4422" stroke="#ff4422"/>
<path d="M822.4 2063.5l9.6 6.2 8.4 -41.4 -9.6 -5.8z" fill="#7affb7" stroke="#7affb7"/>
<path d="M854.8 1888.5l9.7 1 8.4 -25.8 -9.7 0.3z" fill="#ffb05f" stroke="#ffb05f"/>
<path d="M833.2 2120l9.6 4.3 8.4 -44.8 -9.7 -4.4z" fill="#4ef3cd" stroke="#4ef3cd"/>
<path d="M821.2 2016.1l9.6 6.4 8.4 -36.9 -9.6 -5.5z" fill="#9efaa2" stroke="#9efaa2"/>
<path d="M963.1 1765.2l9.8 2.8 8.2 -16.4 -9.7 -2.9z" fill="#ff2914" stroke="#ff2914"/>
<path d="M865.8 2285.9l9.7 2.7 8.5 -46.2 -9.7 -3.2z" fill="#3670f8" stroke="#3670f8"/>
<path d="M844.1 2174.4l9.6 3.8 8.5 -47 -9.7 -3.3z" fill="#24d8df" stroke="#24d8df"/>
<path d="M1028.1 1757.4l9.7 6.1 8 -11 -9.7 -6.7z" fill="#ff2613" stroke="#ff2613"/>
<path d="M855 2229.9l9.7 4.9 8.5 -48.8 -9.7 -3.9z" fill="#09a9ee" stroke="#09a9ee"/>
<path d="M990.8 1755.5l9.7 4.7 8.2 -14.9 -9.7 -5.5z" fill="#ff1f10" stroke="#ff1f10"/>
<path d="M1075.2 1771.8l9.8 6.4 7.9 -8.7 -9.8 -6.3z" fill="#ff381c" stroke="#ff381c"/>
<path d="M829.6 1980.1l9.6 5.5 8.4 -35.3 -9.7 -3.7z" fill="#bced8f" stroke="#bced8f"/>
<path d="M846.4 1915.9l9.7 2.2 8.4 -28.7 -9.7 -1z" fill="#eec66d" stroke="#eec66d"/>
<path d="M872.8 1863.7l9.7 0.4 8.4 -24 -9.7 0.7z" fill="#ff964f" stroke="#ff964f"/>
<path d="M832 2069.7l9.6 5.3 8.4 -41.8 -9.7 -5z" fill="#76ffb9" stroke="#76ffb9"/>
<path d="M838 1946.6l9.7 3.7 8.4 -32.2 -9.7 -2.2z" fill="#d6db7e" stroke="#d6db7e"/>
<path d="M945.1 1780.9l9.8 1.8 8.3 -17.5 -9.7 -1.8z" fill="#ff3b1e" stroke="#ff3b1e"/>
<path d="M830.8 2022.5l9.6 5.8 8.4 -38 -9.7 -4.7z" fill="#9bfba5" stroke="#9bfba5"/>
<path d="M890.9 1840.1l9.7 0.3 8.3 -21.6 -9.7 0.7z" fill="#ff7e41" stroke="#ff7e41"/>
<path d="M1037.9 1763.5l9.8 6 8 -10.5 -9.7 -6.5z" fill="#ff2c16" stroke="#ff2c16"/>
<path d="M842.9 2124.2l9.7 3.7 8.5 -44.8 -9.7 -3.6z" fill="#4df3ce" stroke="#4df3ce"/>
<path d="M1084.9 1778.2l9.8 6.4 7.9 -8.8 -9.8 -6.2z" fill="#ff3e1f" stroke="#ff3e1f"/>
<path d="M927 1799l9.7 0.8 8.3 -18.9 -9.7 -0.7z" fill="#ff4d27" stroke="#ff4d27"/>
<path d="M909 1818.9l9.7 0.3 8.3 -20.1 -9.7 0.3z" fill="#ff6533" stroke="#ff6533"/>
<path d="M1000.5 1760.1l9.8 5.2 8.1 -14.1 -9.7 -6z" fill="#ff2211" stroke="#ff2211"/>
<path d="M972.8 1768l9.8 3.7 8.2 -16.3 -9.7 -3.8z" fill="#ff2c16" stroke="#ff2c16"/>
<path d="M864.6 2234.8l9.7 4.4 8.5 -49.5 -9.7 -3.8z" fill="#09a9ee" stroke="#09a9ee"/>
<path d="M853.7 2178.2l9.7 3.8 8.5 -47.9 -9.7 -3z" fill="#22d6e0" stroke="#22d6e0"/>
<path d="M864.5 1889.5l9.7 1.5 8.4 -26.9 -9.7 -0.4z" fill="#ffac5c" stroke="#ffac5c"/>
<path d="M875.5 2288.6l9.7 2.2 8.5 -45.7 -9.7 -2.7z" fill="#3670f8" stroke="#3670f8"/>
<path d="M839.2 1985.6l9.7 4.7 8.4 -36.2 -9.7 -3.8z" fill="#bbee91" stroke="#bbee91"/>
<path d="M841.7 2075l9.7 4.4 8.4 -41.9 -9.7 -4.3z" fill="#74feba" stroke="#74feba"/>
<path d="M1047.7 1769.5l9.8 6 8 -10 -9.7 -6.4z" fill="#ff2f18" stroke="#ff2f18"/>
<path d="M840.4 2028.3l9.7 5 8.4 -38.8 -9.7 -4.2z" fill="#99fca6" stroke="#99fca6"/>
<path d="M1094.7 1784.6l9.8 6.4 7.9 -9.1 -9.8 -6.1z" fill="#ff4422" stroke="#ff4422"/>
<path d="M856.1 1918.2l9.7 2.7 8.4 -29.9 -9.7 -1.5z" fill="#f0c46c" stroke="#f0c46c"/>
<path d="M847.6 1950.3l9.7 3.8 8.4 -33.3 -9.7 -2.7z" fill="#d6db7e" stroke="#d6db7e"/>
<path d="M1010.3 1765.3l9.8 5.5 8.1 -13.4 -9.7 -6.1z" fill="#ff2914" stroke="#ff2914"/>
<path d="M954.8 1782.7l9.8 2.7 8.2 -17.4 -9.8 -2.8z" fill="#ff3b1e" stroke="#ff3b1e"/>
<path d="M882.5 1864.1l9.7 1.1 8.4 -24.7 -9.7 -0.3z" fill="#ff934d" stroke="#ff934d"/>
<path d="M852.5 2127.9l9.7 3.3 8.5 -45.1 -9.7 -3z" fill="#4df3ce" stroke="#4df3ce"/>
<path d="M982.6 1771.7l9.8 4.4 8.2 -16 -9.7 -4.7z" fill="#ff2c16" stroke="#ff2c16"/>
<path d="M874.3 2239.2l9.7 3.2 8.5 -49.1 -9.7 -3.6z" fill="#0ca7ef" stroke="#0ca7ef"/>
<path d="M1057.4 1775.5l9.8 5.9 8 -9.6 -9.8 -6.3z" fill="#ff351b" stroke="#ff351b"/>
<path d="M936.8 1799.8l9.8 1.8 8.3 -18.8 -9.8 -1.8z" fill="#ff4d27" stroke="#ff4d27"/>
<path d="M900.6 1840.4l9.7 1 8.4 -22.3 -9.7 -0.3z" fill="#ff793e" stroke="#ff793e"/>
<path d="M863.4 2182.1l9.7 3.9 8.5 -48.9 -9.7 -2.9z" fill="#22d6e0" stroke="#22d6e0"/>
<path d="M1104.5 1791l9.8 6.2 7.9 -9.3 -9.8 -6z" fill="#ff4724" stroke="#ff4724"/>
<path d="M848.9 1990.3l9.7 4.2 8.4 -36.6 -9.7 -3.8z" fill="#b9ef92" stroke="#b9ef92"/>
<path d="M918.7 1819.1l9.7 1.1 8.3 -20.5 -9.7 -0.8z" fill="#ff6232" stroke="#ff6232"/>
<path d="M851.3 2079.5l9.7 3.6 8.5 -41.8 -9.7 -3.7z" fill="#74feba" stroke="#74feba"/>
<path d="M885.2 2290.8l9.7 2.5 8.5 -45.4 -9.7 -2.8z" fill="#3670f8" stroke="#3670f8"/>
<path d="M1020 1770.8l9.8 5.5 8.1 -12.8 -9.7 -6.1z" fill="#ff2c16" stroke="#ff2c16"/>
<path d="M850.1 2033.3l9.7 4.3 8.5 -39.1 -9.7 -4z" fill="#99fca6" stroke="#99fca6"/>
<path d="M874.1 1891l9.7 2 8.4 -27.8 -9.7 -1.1z" fill="#ffac5c" stroke="#ffac5c"/>
<path d="M857.3 1954.1l9.7 3.8 8.4 -34 -9.7 -3z" fill="#d6db7e" stroke="#d6db7e"/>
<path d="M865.7 1920.9l9.7 3 8.4 -30.9 -9.7 -2z" fill="#f0c46c" stroke="#f0c46c"/>
<path d="M964.6 1785.5l9.8 3.6 8.2 -17.3 -9.8 -3.7z" fill="#ff3b1e" stroke="#ff3b1e"/>
<path d="M1067.2 1781.4l9.8 6 7.9 -9.3 -9.8 -6.4z" fill="#ff3b1e" stroke="#ff3b1e"/>
<path d="M992.3 1776.1l9.8 4.9 8.2 -15.6 -9.8 -5.2z" fill="#ff2f18" stroke="#ff2f18"/>
<path d="M862.2 2131.2l9.7 3 8.5 -45.7 -9.7 -2.4z" fill="#4df3ce" stroke="#4df3ce"/>
<path d="M892.2 1865.1l9.7 1.6 8.4 -25.3 -9.7 -1z" fill="#ff914c" stroke="#ff914c"/>
<path d="M1029.8 1776.3l9.8 5.4 8.1 -12.2 -9.8 -6z" fill="#ff3219" stroke="#ff3219"/>
<path d="M884 2242.4l9.7 2.7 8.5 -48.2 -9.7 -3.6z" fill="#0ca7ef" stroke="#0ca7ef"/>
<path d="M858.5 1994.5l9.7 4 8.5 -36.9 -9.7 -3.7z" fill="#b9ef92" stroke="#b9ef92"/>
<path d="M873.1 2185.9l9.7 3.8 8.5 -49.5 -9.7 -3.2z" fill="#22d6e0" stroke="#22d6e0"/>
<path d="M946.5 1801.6l9.8 2.6 8.3 -18.7 -9.8 -2.7z" fill="#ff4a26" stroke="#ff4a26"/>
<path d="M861 2083.1l9.7 3 8.5 -41.7 -9.7 -3.1z" fill="#72febb" stroke="#72febb"/>
<path d="M859.8 2037.6l9.7 3.7 8.5 -39 -9.7 -3.8z" fill="#96fca7" stroke="#96fca7"/>
<path d="M910.4 1841.4l9.7 1.5 8.4 -22.7 -9.7 -1.1z" fill="#ff763d" stroke="#ff763d"/>
<path d="M894.9 2293.3l9.7 2.8 8.5 -45 -9.7 -3.2z" fill="#3670f8" stroke="#3670f8"/>
<path d="M1077 1787.5l9.8 6.2 7.9 -9.1 -9.8 -6.4z" fill="#ff4121" stroke="#ff4121"/>
<path d="M928.5 1820.2l9.8 1.8 8.3 -20.5 -9.8 -1.8z" fill="#ff5f30" stroke="#ff5f30"/>
<path d="M1002.1 1780.9l9.8 5.1 8.2 -15.3 -9.8 -5.5z" fill="#ff351b" stroke="#ff351b"/>
<path d="M883.8 1893l9.7 2.3 8.4 -28.6 -9.7 -1.6z" fill="#ffa95b" stroke="#ffa95b"/>
<path d="M867 1957.9l9.7 3.7 8.4 -34.6 -9.7 -3.2z" fill="#d6db7e" stroke="#d6db7e"/>
<path d="M974.3 1789l9.8 4.3 8.2 -17.2 -9.8 -4.4z" fill="#ff3b1e" stroke="#ff3b1e"/>
<path d="M1039.6 1781.8l9.8 5.3 8 -11.6 -9.8 -6z" fill="#ff381c" stroke="#ff381c"/>
<path d="M875.4 1923.9l9.7 3.2 8.4 -31.7 -9.7 -2.3z" fill="#f0c46c" stroke="#f0c46c"/>
<path d="M871.9 2134.2l9.7 2.9 8.5 -46.4 -9.7 -2.1z" fill="#4df3ce" stroke="#4df3ce"/>
<path d="M1086.8 1793.6l9.8 6.4 7.9 -9 -9.8 -6.4z" fill="#ff4724" stroke="#ff4724"/>
<path d="M868.2 1998.5l9.7 3.8 8.5 -37 -9.7 -3.6z" fill="#b6f193" stroke="#b6f193"/>
<path d="M893.7 2245.1l9.7 2.8 8.6 -47.3 -9.7 -3.7z" fill="#0ca7ef" stroke="#0ca7ef"/>
<path d="M882.8 2189.7l9.7 3.6 8.6 -49.2 -9.7 -3.9z" fill="#22d6e0" stroke="#22d6e0"/>
<path d="M902 1866.8l9.7 2 8.4 -25.8 -9.7 -1.5z" fill="#ff8e4a" stroke="#ff8e4a"/>
<path d="M956.3 1804.2l9.8 3.4 8.3 -18.6 -9.8 -3.6z" fill="#ff4d27" stroke="#ff4d27"/>
<path d="M869.5 2041.3l9.7 3.1 8.5 -38.6 -9.7 -3.5z" fill="#96fca7" stroke="#96fca7"/>
<path d="M1011.9 1786.1l9.8 5.1 8.1 -14.9 -9.8 -5.5z" fill="#ff381c" stroke="#ff381c"/>
<path d="M870.7 2086.1l9.7 2.4 8.5 -41.5 -9.7 -2.6z" fill="#72febb" stroke="#72febb"/>
<path d="M904.6 2296.1l9.7 3.3 8.5 -44.6 -9.7 -3.7z" fill="#3670f8" stroke="#3670f8"/>
<path d="M984.1 1793.3l9.8 4.8 8.2 -17.2 -9.8 -4.9z" fill="#ff3e1f" stroke="#ff3e1f"/>
<path d="M1049.4 1787.1l9.8 5.2 8 -10.9 -9.8 -5.9z" fill="#ff3b1e" stroke="#ff3b1e"/>
<path d="M920.1 1843l9.8 2 8.4 -22.9 -9.8 -1.8z" fill="#ff763d" stroke="#ff763d"/>
<path d="M938.2 1822.1l9.8 2.5 8.3 -20.4 -9.8 -2.6z" fill="#ff5f30" stroke="#ff5f30"/>
<path d="M876.7 1961.6l9.7 3.6 8.5 -35.1 -9.7 -3.2z" fill="#d4dd80" stroke="#d4dd80"/>
<path d="M893.6 1895.3l9.7 2.5 8.4 -29.1 -9.7 -2z" fill="#ffa95b" stroke="#ffa95b"/>
<path d="M1096.6 1800l9.8 6.3 7.9 -9.1 -9.8 -6.2z" fill="#ff4d27" stroke="#ff4d27"/>
<path d="M885.1 1927l9.7 3.2 8.4 -32.3 -9.7 -2.5z" fill="#f0c46c" stroke="#f0c46c"/>
<path d="M877.9 2002.3l9.7 3.5 8.5 -37 -9.7 -3.5z" fill="#b6f193" stroke="#b6f193"/>
<path d="M1021.7 1791.2l9.8 5 8.1 -14.4 -9.8 -5.4z" fill="#ff3b1e" stroke="#ff3b1e"/>
<path d="M892.5 2193.3l9.7 3.6 8.6 -48.4 -9.7 -4.3z" fill="#20d5e1" stroke="#20d5e1"/>
<path d="M881.6 2137l9.7 3.2 8.5 -47.2 -9.7 -2.5z" fill="#4ef3cd" stroke="#4ef3cd"/>
<path d="M903.4 2247.9l9.7 3.2 8.6 -46.7 -9.7 -3.9z" fill="#0ca7ef" stroke="#0ca7ef"/>
<path d="M966.1 1807.6l9.8 4.2 8.3 -18.5 -9.8 -4.3z" fill="#ff4d27" stroke="#ff4d27"/>
<path d="M1059.2 1792.3l9.8 5.2 8 -10.1 -9.8 -6z" fill="#ff4121" stroke="#ff4121"/>
<path d="M993.9 1798.1l9.8 5.1 8.2 -17.1 -9.8 -5.1z" fill="#ff4422" stroke="#ff4422"/>
<path d="M879.2 2044.4l9.7 2.6 8.5 -38 -9.7 -3.1z" fill="#96fca7" stroke="#96fca7"/>
<path d="M911.7 1868.7l9.8 2.2 8.4 -26 -9.8 -2z" fill="#ff8e4a" stroke="#ff8e4a"/>
<path d="M914.3 2299.4l9.7 3.7 8.6 -44.1 -9.8 -4.2z" fill="#3670f8" stroke="#3670f8"/>
<path d="M880.4 2088.5l9.7 2.1 8.5 -41.4 -9.7 -2.3z" fill="#74feba" stroke="#74feba"/>
<path d="M886.4 1965.3l9.7 3.5 8.5 -35.5 -9.7 -3.1z" fill="#d4dd80" stroke="#d4dd80"/>
<path d="M948 1824.6l9.8 3.1 8.3 -20.1 -9.8 -3.4z" fill="#ff5f30" stroke="#ff5f30"/>
<path d="M929.9 1845l9.8 2.4 8.4 -22.8 -9.8 -2.5z" fill="#ff763d" stroke="#ff763d"/>
<path d="M903.3 1897.9l9.7 2.6 8.4 -29.5 -9.8 -2.2z" fill="#ffa95b" stroke="#ffa95b"/>
<path d="M1031.5 1796.2l9.8 4.7 8.1 -13.8 -9.8 -5.3z" fill="#ff4121" stroke="#ff4121"/>
<path d="M894.8 1930.2l9.7 3.1 8.5 -32.8 -9.7 -2.6z" fill="#f0c46c" stroke="#f0c46c"/>
<path d="M1069 1797.5l9.8 5.3 8 -9.2 -9.8 -6.2z" fill="#ff4422" stroke="#ff4422"/>
<path d="M975.8 1811.8l9.8 4.8 8.3 -18.5 -9.8 -4.8z" fill="#ff5029" stroke="#ff5029"/>
<path d="M887.6 2005.8l9.7 3.1 8.5 -36.9 -9.7 -3.3z" fill="#b6f193" stroke="#b6f193"/>
<path d="M902.2 2196.9l9.7 3.7 8.6 -47.6 -9.7 -4.5z" fill="#20d5e1" stroke="#20d5e1"/>
<path d="M1003.7 1803.2l9.8 5.1 8.2 -17.1 -9.8 -5.1z" fill="#ff4724" stroke="#ff4724"/>
<path d="M913.1 2251.1l9.7 3.7 8.6 -46.2 -9.8 -4.1z" fill="#0ca7ef" stroke="#0ca7ef"/>
<path d="M891.3 2140.3l9.7 3.9 8.6 -46.8 -9.7 -4.2z" fill="#4df3ce" stroke="#4df3ce"/>
<path d="M924 2303.1l9.7 4.1 8.6 -43.6 -9.8 -4.7z" fill="#386df9" stroke="#386df9"/>
<path d="M888.9 2047l9.7 2.3 8.5 -37.7 -9.7 -2.6z" fill="#96fca7" stroke="#96fca7"/>
<path d="M921.5 1871l9.8 2.4 8.4 -26 -9.8 -2.4z" fill="#ff8e4a" stroke="#ff8e4a"/>
<path d="M957.8 1827.7l9.8 3.8 8.3 -19.7 -9.8 -4.2z" fill="#ff5f30" stroke="#ff5f30"/>
<path d="M890.1 2090.6l9.7 2.5 8.5 -41.2 -9.8 -2.7z" fill="#74feba" stroke="#74feba"/>
<path d="M896.1 1968.8l9.7 3.3 8.5 -35.8 -9.8 -3z" fill="#d4dd80" stroke="#d4dd80"/>
<path d="M1078.8 1802.9l9.8 5.6 7.9 -8.5 -9.8 -6.4z" fill="#ff4a26" stroke="#ff4a26"/>
<path d="M1041.3 1800.9l9.8 4.4 8.1 -12.9 -9.8 -5.2z" fill="#ff4422" stroke="#ff4422"/>
<path d="M939.6 1847.3l9.8 2.7 8.3 -22.3 -9.8 -3.1z" fill="#ff733b" stroke="#ff733b"/>
<path d="M985.6 1816.6l9.8 5.3 8.3 -18.7 -9.8 -5.1z" fill="#ff532a" stroke="#ff532a"/>
<path d="M1013.5 1808.3l9.8 4.8 8.2 -16.9 -9.8 -5z" fill="#ff4a26" stroke="#ff4a26"/>
<path d="M913 1900.5l9.8 2.6 8.4 -29.7 -9.8 -2.4z" fill="#ffa759" stroke="#ffa759"/>
<path d="M904.6 1933.3l9.8 3 8.5 -33.2 -9.8 -2.6z" fill="#f0c46c" stroke="#f0c46c"/>
<path d="M911.9 2200.6l9.7 3.9 8.6 -47 -9.8 -4.5z" fill="#1fd3e1" stroke="#1fd3e1"/>
<path d="M901 2144.1l9.7 4.3 8.6 -46.2 -9.7 -5z" fill="#4df3ce" stroke="#4df3ce"/>
<path d="M922.8 2254.8l9.8 4.2 8.6 -46 -9.8 -4.4z" fill="#0ea5ef" stroke="#0ea5ef"/>
<path d="M897.4 2008.9l9.7 2.6 8.5 -36.7 -9.8 -2.8z" fill="#b6f193" stroke="#b6f193"/>
<path d="M933.8 2307.3l9.8 4.5 8.6 -42.9 -9.8 -5.2z" fill="#386df9" stroke="#386df9"/>
<path d="M1088.7 1808.4l9.8 5.8 7.9 -7.9 -9.8 -6.3z" fill="#ff4d27" stroke="#ff4d27"/>
<path d="M967.5 1831.5l9.8 4.5 8.3 -19.4 -9.8 -4.8z" fill="#ff6232" stroke="#ff6232"/>
<path d="M1051.1 1805.3l9.9 4.2 8.1 -11.9 -9.8 -5.2z" fill="#ff4724" stroke="#ff4724"/>
<path d="M898.6 2049.2l9.8 2.7 8.5 -37.7 -9.8 -2.7z" fill="#96fca7" stroke="#96fca7"/>
<path d="M931.2 1873.4l9.8 2.5 8.4 -25.8 -9.8 -2.7z" fill="#ff8c49" stroke="#ff8c49"/>
<path d="M995.4 1821.9l9.8 5.4 8.3 -19.1 -9.8 -5.1z" fill="#ff592d" stroke="#ff592d"/>
<path d="M899.8 2093.1l9.7 4.2 8.5 -41.7 -9.8 -3.7z" fill="#74feba" stroke="#74feba"/>
<path d="M905.8 1972l9.8 2.8 8.5 -35.7 -9.8 -2.8z" fill="#d4dd80" stroke="#d4dd80"/>
<path d="M1023.3 1813.1l9.8 4.3 8.2 -16.6 -9.8 -4.7z" fill="#ff4d27" stroke="#ff4d27"/>
<path d="M949.4 1850.1l9.8 3.1 8.3 -21.7 -9.8 -3.8z" fill="#ff763d" stroke="#ff763d"/>
<path d="M910.8 2148.5l9.7 4.5 8.6 -45.7 -9.8 -5z" fill="#4af2cf" stroke="#4af2cf"/>
<path d="M921.7 2204.5l9.8 4.1 8.6 -46.7 -9.8 -4.4z" fill="#1fd3e1" stroke="#1fd3e1"/>
<path d="M932.6 2259l9.8 4.7 8.6 -46.1 -9.8 -4.6z" fill="#10a2f0" stroke="#10a2f0"/>
<path d="M914.3 1936.3l9.8 2.8 8.5 -33.3 -9.8 -2.7z" fill="#f0c46c" stroke="#f0c46c"/>
<path d="M922.8 1903.1l9.8 2.7 8.4 -29.9 -9.8 -2.5z" fill="#ffa759" stroke="#ffa759"/>
<path d="M943.5 2311.8l9.8 5 8.6 -42.4 -9.8 -5.5z" fill="#396bf9" stroke="#396bf9"/>
<path d="M907.1 2011.5l9.8 2.7 8.5 -36.5 -9.8 -2.8z" fill="#b6f193" stroke="#b6f193"/>
<path d="M977.3 1836l9.8 5.3 8.3 -19.4 -9.8 -5.3z" fill="#ff6533" stroke="#ff6533"/>
<path d="M1061 1809.5l9.9 4.2 8 -10.8 -9.8 -5.3z" fill="#ff4a26" stroke="#ff4a26"/>
<path d="M1005.2 1827.4l9.8 5.1 8.3 -19.4 -9.8 -4.8z" fill="#ff5c2f" stroke="#ff5c2f"/>
<path d="M909.6 2097.3l9.7 5 8.6 -42.1 -9.8 -4.6z" fill="#72febb" stroke="#72febb"/>
<path d="M908.4 2051.9l9.8 3.7 8.5 -38.1 -9.8 -3.4z" fill="#96fca7" stroke="#96fca7"/>
<path d="M1033.1 1817.4l9.9 3.9 8.2 -16 -9.8 -4.4z" fill="#ff5029" stroke="#ff5029"/>
<path d="M941 1875.9l9.8 2.7 8.4 -25.4 -9.8 -3.1z" fill="#ff8c49" stroke="#ff8c49"/>
<path d="M915.6 1974.8l9.8 2.8 8.5 -35.6 -9.8 -2.9z" fill="#d4dd80" stroke="#d4dd80"/>
<path d="M959.2 1853.1l9.8 3.5 8.3 -20.7 -9.8 -4.5z" fill="#ff763d" stroke="#ff763d"/>
<path d="M920.5 2153l9.8 4.5 8.6 -45.5 -9.8 -4.7z" fill="#48f1d0" stroke="#48f1d0"/>
<path d="M942.4 2263.7l9.8 5.2 8.6 -46.6 -9.8 -4.7z" fill="#11a0f1" stroke="#11a0f1"/>
<path d="M931.4 2208.6l9.8 4.4 8.6 -46.8 -9.8 -4.3z" fill="#1dd1e2" stroke="#1dd1e2"/>
<path d="M953.3 2316.8l9.8 3.9 8.6 -41.8 -9.8 -4.5z" fill="#3c68f9" stroke="#3c68f9"/>
<path d="M987.1 1841.4l9.8 5.9 8.3 -19.9 -9.8 -5.4z" fill="#ff6b37" stroke="#ff6b37"/>
<path d="M924.1 1939.1l9.8 2.9 8.5 -33.5 -9.8 -2.8z" fill="#f0c46c" stroke="#f0c46c"/>
<path d="M932.6 1905.8l9.8 2.8 8.4 -30 -9.8 -2.7z" fill="#ffa759" stroke="#ffa759"/>
<path d="M1070.8 1813.7l9.9 4.5 8 -9.7 -9.8 -5.6z" fill="#ff4d27" stroke="#ff4d27"/>
<path d="M1015 1832.5l9.8 4.5 8.3 -19.6 -9.8 -4.3z" fill="#ff5f30" stroke="#ff5f30"/>
<path d="M916.9 2014.2l9.8 3.4 8.5 -36.6 -9.8 -3.3z" fill="#b6f193" stroke="#b6f193"/>
<path d="M919.3 2102.3l9.8 5 8.6 -42.3 -9.8 -4.8z" fill="#70febc" stroke="#70febc"/>
<path d="M1042.9 1821.3l9.9 3.4 8.1 -15.3 -9.9 -4.2z" fill="#ff5029" stroke="#ff5029"/>
<path d="M918.1 2055.6l9.8 4.6 8.5 -38.6 -9.8 -4.1z" fill="#94fda8" stroke="#94fda8"/>
<path d="M969 1856.7l9.8 4.2 8.3 -19.5 -9.8 -5.3z" fill="#ff793e" stroke="#ff793e"/>
<path d="M930.3 2157.4l9.8 4.4 8.6 -45.5 -9.8 -4.4z" fill="#46efd1" stroke="#46efd1"/>
<path d="M952.1 2268.9l9.8 5.5 8.7 -47.7 -9.8 -4.5z" fill="#149df1" stroke="#149df1"/>
<path d="M950.8 1878.6l9.8 3 8.4 -24.9 -9.8 -3.5z" fill="#ff8e4a" stroke="#ff8e4a"/>
<path d="M941.2 2213l9.8 4.6 8.7 -47.1 -9.8 -4.3z" fill="#1acfe3" stroke="#1acfe3"/>
<path d="M996.9 1847.3l9.8 5.8 8.3 -20.6 -9.8 -5.1z" fill="#ff6d38" stroke="#ff6d38"/>
<path d="M925.4 1977.6l9.8 3.3 8.5 -35.5 -9.8 -3.4z" fill="#d4dd80" stroke="#d4dd80"/>
<path d="M1080.7 1818.2l9.9 5.3 8 -9.2 -9.8 -5.8z" fill="#ff5029" stroke="#ff5029"/>
<path d="M933.9 1942l9.8 3.4 8.5 -33.6 -9.8 -3.2z" fill="#f0c46c" stroke="#f0c46c"/>
<path d="M1024.8 1837l9.9 4.1 8.3 -19.8 -9.9 -3.9z" fill="#ff6232" stroke="#ff6232"/>
<path d="M942.4 1908.6l9.8 3.2 8.5 -30.2 -9.8 -3z" fill="#ffa759" stroke="#ffa759"/>
<path d="M926.6 2017.5l9.8 4.1 8.5 -36.7 -9.8 -4z" fill="#b4f295" stroke="#b4f295"/>
<path d="M929.1 2107.2l9.8 4.7 8.6 -42.5 -9.8 -4.5z" fill="#6efebe" stroke="#6efebe"/>
<path d="M978.8 1860.9l9.8 5.6 8.3 -19.2 -9.8 -5.9z" fill="#ff7b40" stroke="#ff7b40"/>
<path d="M927.9 2060.2l9.8 4.8 8.5 -38.8 -9.8 -4.5z" fill="#94fda8" stroke="#94fda8"/>
<path d="M1052.8 1824.7l9.9 3.2 8.1 -14.3 -9.9 -4.2z" fill="#ff532a" stroke="#ff532a"/>
<path d="M1006.7 1853l9.8 5.6 8.3 -21.6 -9.8 -4.5z" fill="#ff733b" stroke="#ff733b"/>
<path d="M961.9 2274.4l9.8 4.5 8.7 -48.2 -9.8 -3.9z" fill="#149df1" stroke="#149df1"/>
<path d="M940 2161.9l9.8 4.3 8.6 -45.8 -9.8 -4.1z" fill="#44eed2" stroke="#44eed2"/>
<path d="M951 2217.6l9.8 4.7 8.7 -47.7 -9.8 -4.1z" fill="#18cde4" stroke="#18cde4"/>
<path d="M960.6 1881.6l9.8 3.7 8.4 -24.4 -9.8 -4.2z" fill="#ff8e4a" stroke="#ff8e4a"/>
<path d="M935.2 1980.9l9.8 4 8.5 -35.5 -9.8 -4z" fill="#d2de81" stroke="#d2de81"/>
<path d="M988.6 1866.5l9.8 7.2 8.3 -20.6 -9.8 -5.8z" fill="#ff8143" stroke="#ff8143"/>
<path d="M943.7 1945.4l9.8 4 8.5 -33.6 -9.8 -4z" fill="#f0c46c" stroke="#f0c46c"/>
<path d="M1034.7 1841.1l9.9 3.6 8.3 -20 -9.9 -3.4z" fill="#ff6232" stroke="#ff6232"/>
<path d="M938.9 2111.9l9.8 4.4 8.6 -42.9 -9.8 -4z" fill="#6dfdbf" stroke="#6dfdbf"/>
<path d="M936.4 2021.6l9.8 4.5 8.5 -36.8 -9.8 -4.4z" fill="#b4f295" stroke="#b4f295"/>
<path d="M952.2 1911.8l9.8 4 8.5 -30.5 -9.8 -3.7z" fill="#ffa95b" stroke="#ffa95b"/>
<path d="M937.7 2064.9l9.8 4.5 8.6 -39 -9.8 -4.3z" fill="#92fda9" stroke="#92fda9"/>
<path d="M1016.5 1858.6l9.8 5.5 8.3 -23 -9.9 -4.1z" fill="#ff763d" stroke="#ff763d"/>
<path d="M1062.7 1827.9l9.9 3.4 8.1 -13.1 -9.9 -4.5z" fill="#ff562c" stroke="#ff562c"/>
<path d="M949.8 2166.2l9.8 4.3 8.7 -46.2 -9.8 -3.9z" fill="#44eed2" stroke="#44eed2"/>
<path d="M970.4 1885.3l9.8 5.4 8.4 -24.2 -9.8 -5.6z" fill="#ff914c" stroke="#ff914c"/>
<path d="M960.8 2222.3l9.8 4.5 8.7 -48.5 -9.8 -3.8z" fill="#18cde4" stroke="#18cde4"/>
<path d="M944.9 1984.9l9.8 4.4 8.5 -35.2 -9.8 -4.7z" fill="#d2de81" stroke="#d2de81"/>
<path d="M998.4 1873.7l9.8 7.6 8.3 -22.6 -9.8 -5.6z" fill="#ff8646" stroke="#ff8646"/>
<path d="M953.5 1949.4l9.8 4.7 8.5 -33.1 -9.8 -5.1z" fill="#eec66d" stroke="#eec66d"/>
<path d="M962 1915.8l9.8 5.1 8.5 -30.2 -9.8 -5.4z" fill="#ffa95b" stroke="#ffa95b"/>
<path d="M946.2 2026.1l9.8 4.3 8.5 -36.6 -9.8 -4.4z" fill="#b2f396" stroke="#b2f396"/>
<path d="M948.7 2116.3l9.8 4.1 8.6 -43.5 -9.8 -3.5z" fill="#6dfdbf" stroke="#6dfdbf"/>
<path d="M1044.6 1844.7l9.9 3.2 8.2 -19.9 -9.9 -3.2z" fill="#ff6232" stroke="#ff6232"/>
<path d="M980.2 1890.7l9.8 7.3 8.4 -24.4 -9.8 -7.2z" fill="#ff964f" stroke="#ff964f"/>
<path d="M1026.4 1864.1l9.8 5.1 8.4 -24.5 -9.9 -3.6z" fill="#ff793e" stroke="#ff793e"/>
<path d="M947.5 2069.4l9.8 4 8.6 -39.5 -9.8 -3.5z" fill="#90feab" stroke="#90feab"/>
<path d="M1072.6 1831.3l9.9 4.5 8.1 -12.4 -9.9 -5.3z" fill="#ff562c" stroke="#ff562c"/>
<path d="M1008.2 1881.3l9.8 7.6 8.4 -24.8 -9.8 -5.5z" fill="#ff8c49" stroke="#ff8c49"/>
<path d="M959.6 2170.5l9.8 4.1 8.7 -46.3 -9.8 -3.9z" fill="#42edd3" stroke="#42edd3"/>
<path d="M954.7 1989.3l9.8 4.4 8.5 -34.6 -9.8 -5.1z" fill="#d0e082" stroke="#d0e082"/>
<path d="M970.6 2226.8l9.8 3.9 8.7 -48.9 -9.9 -3.5z" fill="#17cbe4" stroke="#17cbe4"/>
<path d="M990 1898.1l9.8 8.1 8.4 -24.8 -9.8 -7.6z" fill="#ff9b52" stroke="#ff9b52"/>
<path d="M971.8 1921l9.8 6.2 8.5 -29.1 -9.8 -7.3z" fill="#ffae5e" stroke="#ffae5e"/>
<path d="M963.3 1954.1l9.8 5.1 8.5 -32 -9.8 -6.2z" fill="#ebca70" stroke="#ebca70"/>
<path d="M956 2030.4l9.8 3.5 8.5 -36.3 -9.8 -3.8z" fill="#b0f397" stroke="#b0f397"/>
<path d="M1018 1888.9l9.8 7.4 8.4 -27 -9.8 -5.1z" fill="#ff914c" stroke="#ff914c"/>
<path d="M958.5 2120.4l9.8 3.9 8.7 -44.3 -9.8 -3.2z" fill="#6dfdbf" stroke="#6dfdbf"/>
<path d="M1054.5 1847.9l9.9 3.1 8.2 -19.7 -9.9 -3.4z" fill="#ff6533" stroke="#ff6533"/>
<path d="M1036.2 1869.2l9.9 4.6 8.4 -26 -9.9 -3.2z" fill="#ff793e" stroke="#ff793e"/>
<path d="M999.8 1906.1l9.8 8.2 8.4 -25.5 -9.8 -7.6z" fill="#ffa256" stroke="#ffa256"/>
<path d="M957.3 2073.4l9.8 3.5 8.6 -40.1 -9.9 -2.8z" fill="#90feab" stroke="#90feab"/>
<path d="M981.6 1927.1l9.8 6.7 8.4 -27.7 -9.8 -8.1z" fill="#ffb360" stroke="#ffb360"/>
<path d="M964.6 1993.8l9.8 3.8 8.5 -33.3 -9.8 -5.1z" fill="#cee184" stroke="#cee184"/>
<path d="M969.4 2174.5l9.8 3.8 8.7 -46 -9.8 -4.1z" fill="#42edd3" stroke="#42edd3"/>
<path d="M973.1 1959.2l9.8 5.1 8.5 -30.4 -9.8 -6.7z" fill="#e8cb72" stroke="#e8cb72"/>
<path d="M1009.6 1914.3l9.8 8.2 8.4 -26.3 -9.8 -7.4z" fill="#ffa95b" stroke="#ffa95b"/>
<path d="M1027.8 1896.3l9.8 6.9 8.4 -29.3 -9.9 -4.6z" fill="#ff934d" stroke="#ff934d"/>
<path d="M991.4 1933.9l9.8 7 8.4 -26.5 -9.8 -8.2z" fill="#fbb965" stroke="#fbb965"/>
<path d="M965.8 2033.9l9.9 2.8 8.6 -35.9 -9.9 -3.3z" fill="#b0f397" stroke="#b0f397"/>
<path d="M1064.4 1851l9.9 4.1 8.2 -19.2 -9.9 -4.5z" fill="#ff6533" stroke="#ff6533"/>
<path d="M968.3 2124.3l9.8 3.9 8.7 -45 -9.9 -3.2z" fill="#6afdc0" stroke="#6afdc0"/>
<path d="M1046.1 1873.8l9.9 4.2 8.4 -27.1 -9.9 -3.1z" fill="#ff7b40" stroke="#ff7b40"/>
<path d="M1019.4 1922.5l9.8 8.2 8.4 -27.7 -9.8 -6.9z" fill="#ffae5e" stroke="#ffae5e"/>
<path d="M982.9 1964.2l9.8 4.9 8.4 -28.4 -9.8 -7z" fill="#e4cf74" stroke="#e4cf74"/>
<path d="M974.4 1997.6l9.9 3.3 8.5 -31.7 -9.8 -4.9z" fill="#cce385" stroke="#cce385"/>
<path d="M967.1 2076.9l9.8 3.2 8.6 -40.9 -9.9 -2.4z" fill="#90feab" stroke="#90feab"/>
<path d="M1001.2 1940.8l9.8 7 8.4 -25.3 -9.8 -8.2z" fill="#f6be68" stroke="#f6be68"/>
<path d="M979.3 2178.3l9.9 3.5 8.7 -45.5 -9.9 -4.1z" fill="#40ecd4" stroke="#40ecd4"/>
<path d="M1037.6 1903.1l9.8 6.6 8.5 -31.7 -9.9 -4.2z" fill="#ff9850" stroke="#ff9850"/>
<path d="M1029.2 1930.8l9.8 8.3 8.5 -29.3 -9.8 -6.6z" fill="#ffb360" stroke="#ffb360"/>
<path d="M1011 1947.9l9.8 7.1 8.4 -24.2 -9.8 -8.2z" fill="#f0c46c" stroke="#f0c46c"/>
<path d="M992.7 1969.2l9.9 4.8 8.4 -26.2 -9.8 -7z" fill="#e2d176" stroke="#e2d176"/>
<path d="M1056 1878.1l9.9 4.5 8.4 -27.5 -9.9 -4.1z" fill="#ff7b40" stroke="#ff7b40"/>
<path d="M978.1 2128.2l9.8 4.1 8.7 -45.3 -9.9 -3.7z" fill="#6afdc0" stroke="#6afdc0"/>
<path d="M975.7 2036.7l9.9 2.4 8.6 -35.4 -9.9 -2.9z" fill="#b0f397" stroke="#b0f397"/>
<path d="M1047.5 1909.8l9.9 6.1 8.5 -33.3 -9.9 -4.5z" fill="#ff9b52" stroke="#ff9b52"/>
<path d="M984.2 2000.8l9.9 2.9 8.5 -29.7 -9.9 -4.8z" fill="#cbe486" stroke="#cbe486"/>
<path d="M1039 1939.1l9.8 7.3 8.5 -30.5 -9.9 -6.1z" fill="#fbb965" stroke="#fbb965"/>
<path d="M1020.8 1955l9.8 7 8.3 -22.9 -9.8 -8.3z" fill="#ecc86f" stroke="#ecc86f"/>
<path d="M976.9 2080l9.9 3.2 8.7 -41.9 -9.9 -2.2z" fill="#90feab" stroke="#90feab"/>
<path d="M1002.6 1974l9.9 4.9 8.4 -23.9 -9.8 -7.1z" fill="#ded579" stroke="#ded579"/>
<path d="M1030.7 1961.9l9.9 6.3 8.3 -21.9 -9.8 -7.3z" fill="#e8cb72" stroke="#e8cb72"/>
<path d="M988 2132.3l9.9 4.1 8.7 -45.2 -9.9 -4.3z" fill="#68fcc1" stroke="#68fcc1"/>
<path d="M985.6 2039.2l9.9 2.2 8.6 -34.8 -9.9 -2.8z" fill="#b0f397" stroke="#b0f397"/>
<path d="M994.1 2003.8l9.9 2.8 8.4 -27.7 -9.9 -4.9z" fill="#cbe486" stroke="#cbe486"/>
<path d="M1012.5 1978.9l9.9 5.1 8.3 -22 -9.8 -7z" fill="#dcd67a" stroke="#dcd67a"/>
<path d="M986.8 2083.2l9.9 3.7 8.7 -43.3 -9.9 -2.3z" fill="#90feab" stroke="#90feab"/>
<path d="M1022.3 1983.9l9.9 5.5 8.3 -21.1 -9.9 -6.3z" fill="#d9da7d" stroke="#d9da7d"/>
<path d="M1004 2006.6l9.9 3.2 8.4 -25.8 -9.9 -5.1z" fill="#c8e688" stroke="#c8e688"/>
<path d="M995.5 2041.4l9.9 2.3 8.6 -33.9 -9.9 -3.2z" fill="#b0f397" stroke="#b0f397"/>
<path d="M996.7 2086.9l9.9 4.3 8.7 -44.2 -9.9 -3.3z" fill="#90feab" stroke="#90feab"/>
<path d="M1013.9 2009.8l9.9 4.4 8.4 -24.8 -9.9 -5.5z" fill="#c8e688" stroke="#c8e688"/>
<path d="M1005.4 2043.7l9.9 3.3 8.5 -32.8 -9.9 -4.4z" fill="#b0f397" stroke="#b0f397"/>
</g>
<path d="M536.4 1878.4 L528.1 1898.2 L519.7 1916.9 L511.4 1937.1 L503 1956 L486.2 1990.2 L477.8 2007.9 L469.5 2027.4 L461.2 2045.2 L453 2064.8 L444.6 2083.6 L436.3 2104.8 L411.1 2163.8 L402.7 2184.2 L411.4 2179.5 L420.2 2176.9 L429 2176.1 L464.6 2178 L482.5 2177.8 L500.5 2177.3 L509.5 2178.3 L518.6 2180.2 L527.7 2183 L546 2189.3 L555.2 2193 L573.7 2201.7 L592.1 2209 L601.4 2212.2 L610.6 2213.8 L619.8 2214.6 L629.1 2214.9 L638.3 2214 L675.4 2204.9 L684.7 2203.9 L694.1 2205.1 L703.5 2207.6 L712.9 2210.9 L731.8 2218.1 L741.3 2222.5 L750.8 2227.1 L760.3 2232.2 L779.4 2243 L789 2248.2 L798.5 2252.7 L817.7 2261.1 L827.3 2265.6 L836.9 2270.3 L856.1 2281.1 L865.8 2285.9 L875.5 2288.6 L894.8 2293.4 L904.6 2296.2 L914.3 2299.4 L924 2303.2 L933.8 2307.3 L943.5 2311.8 L953.3 2316.8 L963.1 2320.7 L971.7 2278.9 L989.2 2181.8 L1015.3 2047 L1023.9 2014.2 L1032.3 1989.4 L1048.9 1946.4 L1057.4 1915.8 L1065.9 1882.6 L1074.3 1855.1 L1082.5 1835.9 L1090.6 1823.5 L1098.5 1814.3 L1106.4 1806.3 L1122.2 1787.9 L1130 1779.3 L1137.8 1771.5 L1145.5 1765 L1175.8 1745.1 L1183.3 1741 L1190.7 1738 L1198 1735.8 L1205.3 1734.5 L1212.5 1733.8 L1219.7 1733.7 L1226.8 1734.6 L1232 1736.1 L1251.8 1747.3 L1261.2 1751.9 L1268.1 1754.2 L1275 1754.8 L1265.5 1750.5 L1256.1 1745.8 L1246.8 1740.7 L1218.7 1724.6 L1209.4 1719.6 L1200 1714.9 L1181.4 1706.3 L1172.1 1701.3 L1162.8 1695.1 L1153.6 1690 L1144.3 1685.7 L1135 1682.1 L1125.7 1679.6 L1116.3 1678.5 L1107.1 1675.7 L1088.6 1666.8 L1079.4 1664.4 L1070.1 1663.2 L1060.9 1662.9 L1051.6 1663.9 L1033.1 1667 L1014.7 1669.7 L1005.5 1671.8 L987.2 1676.6 L978.1 1678.7 L969 1680 L959.9 1679.9 L950.9 1678.8 L941.9 1677.2 L932.9 1675.1 L906 1667.3 L888.1 1662.4 L879.2 1660.3 L870.3 1658.6 L861.4 1657.2 L843.6 1655.2 L834.8 1654.7 L826 1654.7 L817.1 1655.3 L799.5 1657.7 L790 1659.8 L779.2 1661.4 L770.3 1663.3 L762.3 1665.5 L753.5 1668.6 L745.5 1671.6 L737.5 1675.2 L720.6 1683.4 L712.5 1687.8 L704.4 1692.7 L687.4 1703.7 L679.2 1709.3 L671.1 1715.4 L662.8 1721.9 L629.6 1748.4 L621.3 1755.5 L604 1771.5 L595.6 1780.8 L578.5 1803.9 L570.1 1816.5 L561.7 1830.8 L544.8 1861.4 L536.4 1878.4 Z" fill="none" stroke="#000" stroke-width="2.2" stroke-linejoin="round"/>
<path d="M335.6 2198.3 L980.1 2409.9 M980.1 2409.9 L1324.4 2058.7 M1324.4 2058.7 L1345 1585.5" stroke="#000" stroke-width="3.8" fill="none"/>
<path d="M361.7 2214.9 L375.5 2203.4 M398.2 2227 L412 2215.3 M435 2239.1 L448.6 2227.3 M472 2251.2 L485.6 2239.4 M509.2 2263.5 L522.7 2251.6 M546.7 2275.8 L560.1 2263.9 M584.3 2288.2 L597.7 2276.2 M622.3 2300.7 L635.6 2288.6 M660.4 2313.3 L673.7 2301.1 M698.8 2325.9 L712 2313.6 M737.5 2338.6 L750.6 2326.3 M776.4 2351.4 L789.4 2339 M815.5 2364.3 L828.4 2351.8 M854.9 2377.3 L867.7 2364.7 M894.5 2390.3 L907.3 2377.6 M934.4 2403.4 L947.1 2390.7 M1022.4 2359.1 L1041.4 2365.2 M1068.2 2312.4 L1087.2 2318.5 M1112.8 2266.9 L1131.9 2272.9 M1156.5 2222.4 L1175.6 2228.3 M1199.1 2178.9 L1218.3 2184.7 M1240.8 2136.4 L1260 2142.1 M1281.6 2094.8 L1300.8 2100.5 M1319 2005.7 L1338.2 2011.2 M1321.4 1950.3 L1340.6 1955.7 M1323.8 1894.4 L1343.1 1899.8 M1326.2 1837.9 L1345.5 1843.2 M1328.7 1780.9 L1348 1786.1 M1331.2 1723.4 L1350.5 1728.5 M1333.7 1665.2 L1353.1 1670.3" stroke="#000" stroke-width="3.7" fill="none"/>
<g font-family="Liberation Serif, Times New Roman, serif" font-size="34.5" text-anchor="middle" fill="#000">
<text x="342.4" y="2300.9">0</text>
<text x="376.9" y="2315">2</text>
<text x="414.6" y="2326">4</text>
<text x="452.2" y="2338.6">6</text>
<text x="488.3" y="2351.1">8</text>
<text x="527.6" y="2362.1">10</text>
<text x="565.2" y="2374.7">12</text>
<text x="601.3" y="2385.7">14</text>
<text x="640.6" y="2401.3">16</text>
<text x="678.2" y="2413.9">18</text>
<text x="715.9" y="2426.4">20</text>
<text x="755.1" y="2439">22</text>
<text x="792" y="2451.2">24</text>
<text x="831" y="2464.2">26</text>
<text x="872" y="2479.4">28</text>
<text x="911.2" y="2490.4">30</text>
<text x="1036.8" y="2488.2">0</text>
<text x="1082.3" y="2439.2">1</text>
<text x="1126.2" y="2393.7">2</text>
<text x="1170.2" y="2346.7">3</text>
<text x="1213.5" y="2301.1">4</text>
<text x="1255.5" y="2257.2">5</text>
<text x="1295.7" y="2214.7">6</text>
<text x="1334.9" y="2172.4">7</text>
<text x="1401.6" y="2021.3">0.1</text>
<text x="1405.1" y="1965.4">0.2</text>
<text x="1409" y="1909.5">0.3</text>
<text x="1412.3" y="1852.5">0.4</text>
<text x="1415.1" y="1795.4">0.5</text>
<text x="1417.9" y="1737.7">0.6</text>
<text x="1420.6" y="1679.7">0.7</text>
</g>
<text transform="translate(590 2433) rotate(20.5)" font-family="Liberation Serif, Times New Roman, serif" font-size="50" text-anchor="middle" dominant-baseline="central">Salinity (PSU)</text>
<text transform="translate(1257.5 2327.5) rotate(-45.3)" font-family="Liberation Serif, Times New Roman, serif" font-size="51.5" text-anchor="middle" dominant-baseline="central">SSC (Kg/m³)</text>
<text transform="translate(1488 1805) rotate(-90)" font-family="Liberation Serif, Times New Roman, serif" font-size="51" text-anchor="middle">Setting velocity (mm/s)</text>
<rect x="1321.4" y="1396.3" width="85.7" height="81" fill="#fff" stroke="#000" stroke-width="3.8"/>
<text x="1364" y="1450.6" font-family="Liberation Serif, Times New Roman, serif" font-size="54" text-anchor="middle">b</text>
</svg>
</body></html>
